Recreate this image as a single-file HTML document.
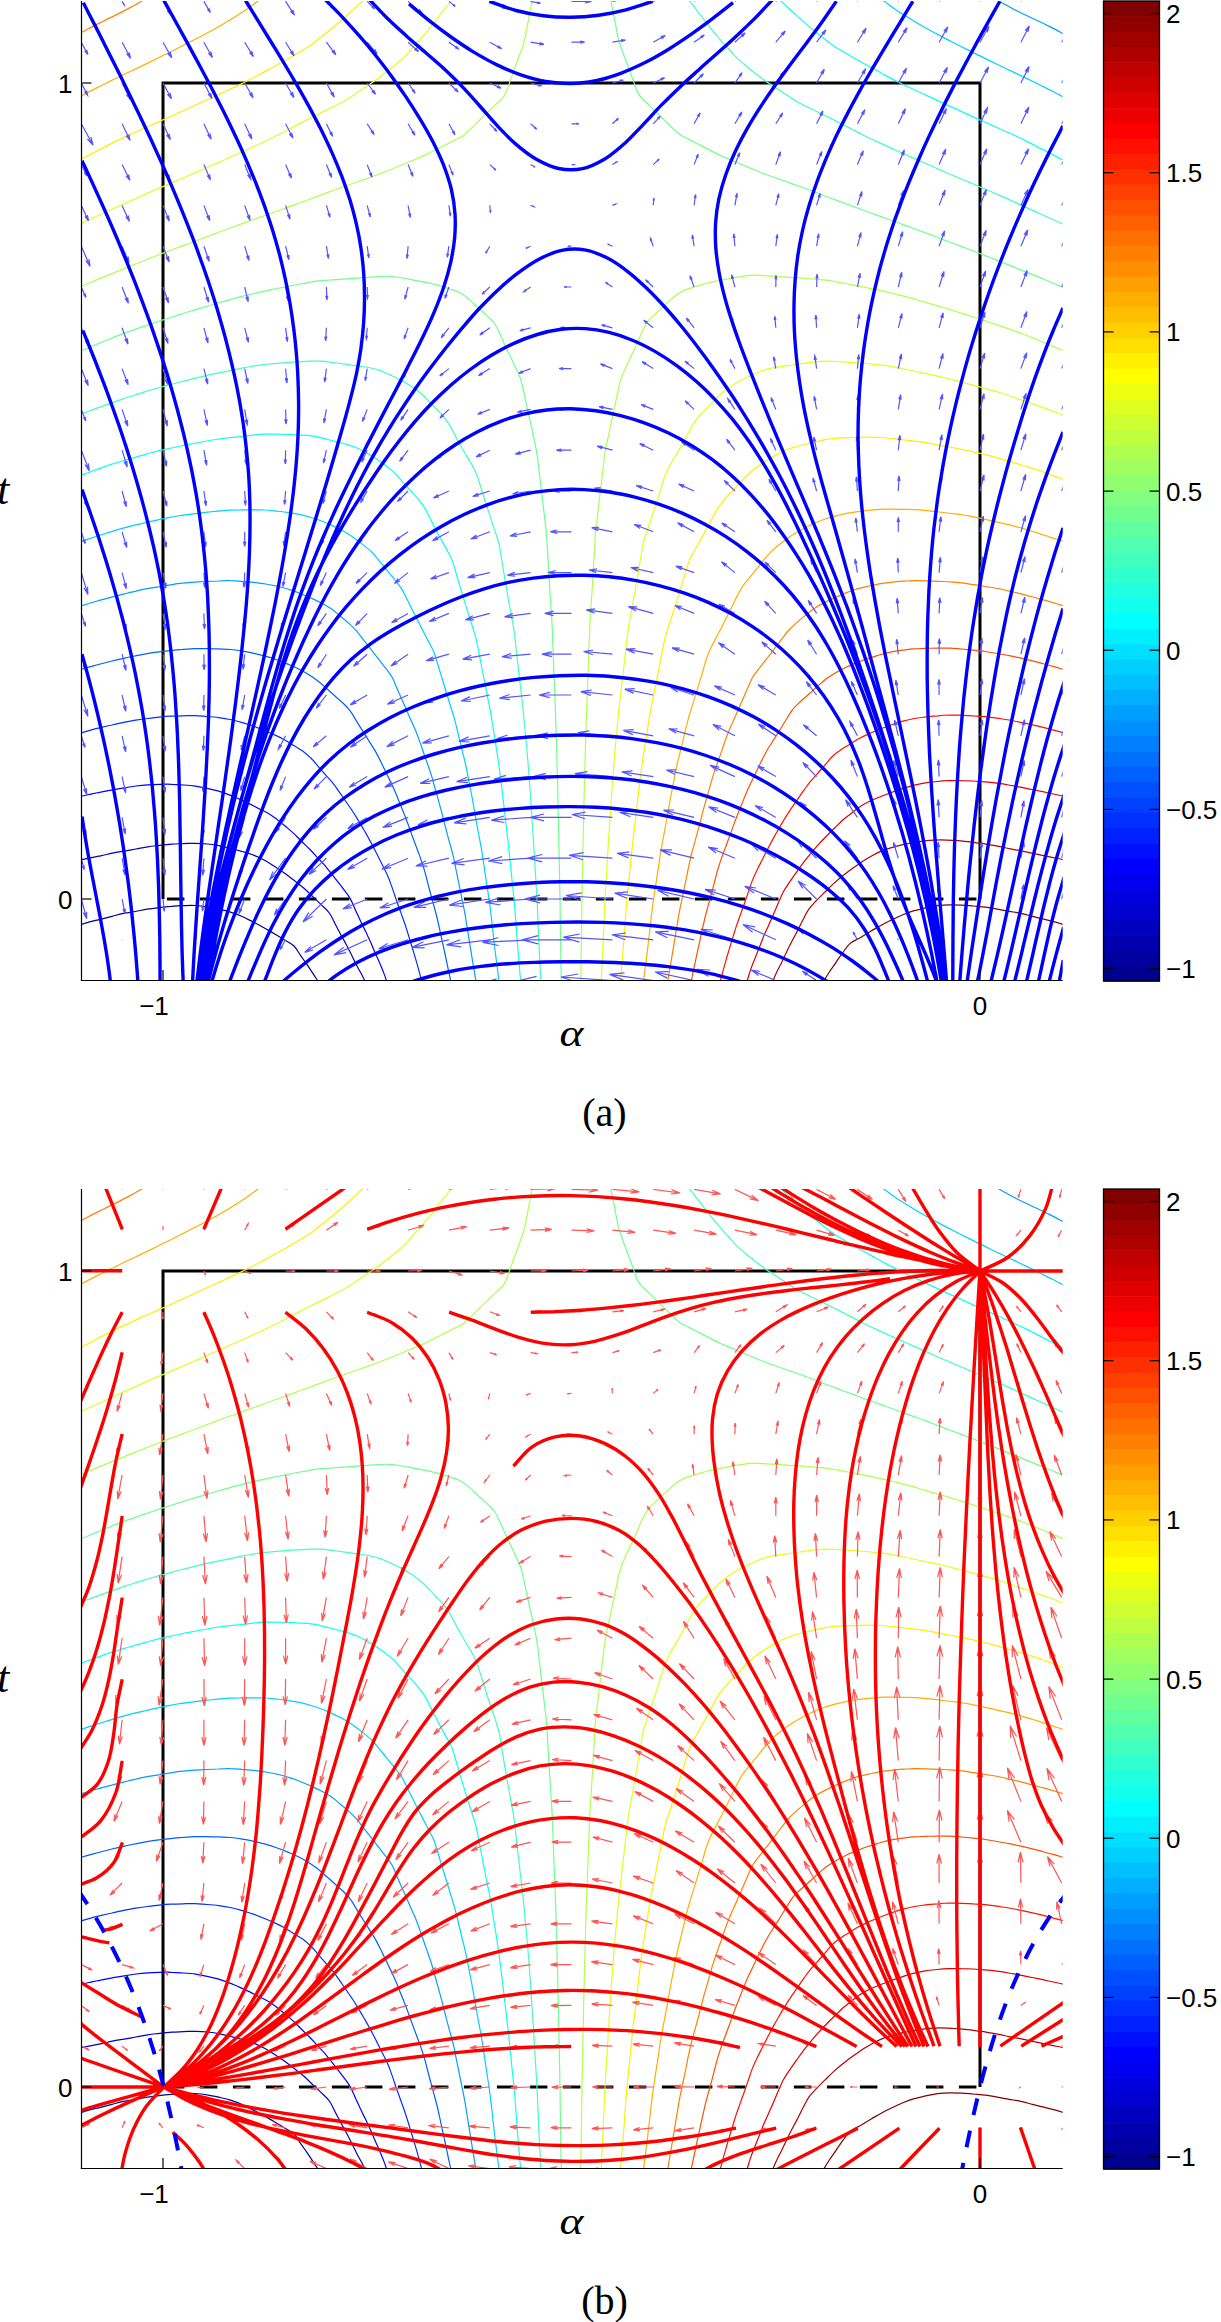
<!DOCTYPE html>
<html><head><meta charset="utf-8"><style>
html,body{margin:0;padding:0;background:#fff;}
svg{display:block;}
.tl{font-family:"Liberation Sans",sans-serif;font-size:26px;fill:#000;}
.ml{font-family:"Liberation Serif",serif;font-style:italic;font-size:38px;fill:#000;}
.cap{font-family:"Liberation Serif",serif;font-size:40px;fill:#000;}
</style></head><body>
<svg width="1221" height="2322" viewBox="0 0 1221 2322">
<rect width="1221" height="2322" fill="#fff"/>
<clipPath id="clipa"><rect x="81.5" y="1" width="981.2" height="979.5"/></clipPath>
<path d="M163.0,899.0 L163.0,83.0 L980.0,83.0 L980.0,899.0" fill="none" stroke="#000" stroke-width="3"/>
<line x1="163.0" y1="899.0" x2="980.0" y2="899.0" stroke="#000" stroke-width="3" stroke-dasharray="17.5 15.5" stroke-dashoffset="-3.9"/>
<g clip-path="url(#clipa)">
<path d="M77.3,925.7C81.1,924.5 84.9,923.2 88.7,922.2C92.6,921.1 96.5,920.3 100.4,919.3C104.3,918.3 108.1,917.3 112.0,916.3C115.9,915.3 119.7,914.2 123.7,913.4C127.6,912.6 131.6,912.2 135.5,911.5C139.4,910.8 143.3,909.8 147.3,909.2C151.2,908.6 155.2,908.1 159.2,907.6C163.1,907.1 167.1,906.7 171.1,906.4C175.1,906.0 179.1,905.7 183.1,905.6C187.1,905.5 191.1,905.3 195.1,905.5C199.1,905.7 203.1,906.1 207.0,906.8C210.9,907.4 214.9,908.3 218.8,909.2C222.7,910.1 226.6,910.9 230.4,912.1C234.2,913.3 238.0,914.7 241.6,916.3C245.3,917.9 248.8,919.8 252.4,921.6C255.9,923.4 259.5,925.3 263.0,927.2C266.5,929.1 269.9,931.2 273.4,933.2C276.8,935.3 280.3,937.3 283.7,939.4C287.1,941.5 290.9,943.1 293.7,945.8C296.6,948.5 298.4,952.4 300.7,955.6C303.0,958.9 305.3,962.1 307.6,965.4C309.8,968.7 312.0,972.1 314.2,975.4C316.4,978.8 318.6,982.1 320.7,985.5" fill="none" stroke="rgb(0,0,143)" stroke-width="1.2"/>
<path d="M77.1,860.5C81.0,859.7 85.0,858.9 88.9,858.1C92.8,857.4 96.7,856.6 100.7,855.8C104.6,855.0 108.5,854.0 112.4,853.2C116.3,852.4 120.2,851.8 124.2,851.1C128.1,850.4 132.1,849.7 136.0,849.0C139.9,848.3 143.8,847.4 147.8,846.8C151.7,846.2 155.7,845.8 159.7,845.3C163.7,844.9 167.7,844.5 171.7,844.2C175.6,843.9 179.6,843.8 183.6,843.6C187.6,843.5 191.6,843.2 195.6,843.3C199.6,843.4 203.6,843.6 207.6,844.0C211.6,844.4 215.5,845.1 219.5,845.8C223.4,846.6 227.3,847.5 231.2,848.5C235.0,849.5 238.9,850.5 242.7,851.7C246.6,852.8 250.4,853.9 254.1,855.4C257.8,856.9 261.5,858.6 265.0,860.5C268.5,862.4 271.8,864.6 275.2,866.8C278.5,869.0 281.9,871.2 285.1,873.6C288.3,875.9 291.5,878.4 294.6,880.8C297.8,883.3 301.0,885.7 304.0,888.3C307.0,891.0 309.8,893.8 312.7,896.6C315.6,899.3 318.6,902.0 321.4,904.8C324.3,907.6 327.4,910.2 329.7,913.5C332.0,916.7 333.3,920.6 335.2,924.1C337.0,927.7 338.9,931.2 340.8,934.7C342.7,938.2 344.8,941.7 346.6,945.2C348.5,948.7 350.2,952.3 352.0,955.9C353.8,959.5 355.6,963.1 357.4,966.7C359.2,970.2 361.5,974.0 363.1,977.2C364.4,979.8 365.3,982.1 366.4,984.5" fill="none" stroke="rgb(0,0,191)" stroke-width="1.2"/>
<path d="M78.8,796.7C82.2,796.0 85.4,795.3 88.9,794.5C92.6,793.7 96.7,792.8 100.6,792.1C104.5,791.3 108.5,790.5 112.4,789.8C116.3,789.1 120.3,788.5 124.2,787.9C128.2,787.2 132.1,786.6 136.1,786.0C140.0,785.5 144.0,785.1 147.9,784.8C151.9,784.5 155.9,784.4 159.9,784.3C163.9,784.2 167.9,784.1 171.8,784.3C175.8,784.4 179.8,784.7 183.7,785.0C187.7,785.3 191.6,785.6 195.5,786.1C199.4,786.7 203.4,787.5 207.2,788.3C210.9,789.1 214.5,789.9 218.0,790.9C221.6,792.0 225.1,793.3 228.6,794.6C232.1,796.0 235.7,797.6 239.3,799.1C242.8,800.7 246.2,802.2 249.7,803.9C253.1,805.6 256.7,807.4 260.0,809.2C263.3,810.8 266.7,812.4 269.7,814.2C272.3,815.8 274.5,817.5 277.0,819.4C279.9,821.6 283.2,824.4 286.0,826.8C288.5,828.9 290.7,830.7 293.1,832.9C295.8,835.4 298.5,838.3 301.3,841.0C304.0,843.7 306.9,846.4 309.5,849.0C312.1,851.6 314.4,854.2 316.8,856.8C319.4,859.5 322.1,862.4 324.6,865.2C326.9,868.0 329.0,870.6 331.3,873.4C333.7,876.5 336.2,879.8 338.7,882.9C341.1,886.0 343.7,889.2 345.8,892.2C347.7,894.7 349.2,896.8 350.7,899.6C352.4,902.7 353.8,906.4 355.4,909.9C357.1,913.5 358.7,917.2 360.4,920.8C362.1,924.5 364.0,928.1 365.7,931.6C367.2,934.9 368.7,937.9 370.2,941.2C371.8,944.7 373.2,948.3 374.8,952.0C376.5,956.0 378.7,960.6 380.3,964.5C381.8,967.9 383.0,970.9 384.2,974.1C385.4,977.2 386.8,981.9 387.4,983.6C387.6,984.3 387.7,984.6 387.9,985.0" fill="none" stroke="rgb(0,0,255)" stroke-width="1.2"/>
<path d="M78.9,733.5C82.2,732.6 85.3,731.6 88.8,730.7C92.5,729.7 96.5,728.6 100.4,727.7C104.3,726.7 108.2,725.8 112.1,725.0C116.0,724.1 119.9,723.2 123.8,722.4C127.7,721.6 131.6,720.9 135.6,720.2C139.5,719.6 143.5,719.0 147.4,718.5C151.4,718.0 155.4,717.5 159.4,717.1C163.3,716.7 167.2,716.4 171.2,716.2C175.2,716.0 179.2,715.9 183.2,715.8C187.1,715.7 191.1,715.5 195.0,715.6C199.0,715.8 202.9,716.2 206.8,716.5C210.8,716.8 214.8,717.1 218.8,717.6C222.6,718.1 226.4,718.7 230.2,719.5C234.0,720.3 237.8,721.3 241.5,722.4C245.2,723.4 248.9,724.7 252.6,725.9C256.3,727.2 260.1,728.7 263.8,730.2C267.3,731.6 270.7,733.1 274.1,734.6C277.6,736.2 281.0,737.8 284.4,739.7C287.7,741.5 290.9,743.7 294.2,745.8C297.5,747.8 301.1,749.8 303.9,751.9C306.5,753.8 308.4,755.5 310.6,757.8C313.2,760.3 315.7,763.6 318.3,766.6C320.9,769.6 323.6,772.6 326.2,775.6C328.8,778.5 331.4,781.2 333.7,784.1C336.0,787.0 337.9,790.0 340.1,793.1C342.3,796.3 344.7,799.7 346.9,803.0C349.1,806.2 351.4,809.3 353.4,812.5C355.4,815.5 357.1,818.5 359.0,821.6C361.0,824.9 363.1,828.5 365.1,831.9C367.1,835.4 369.0,838.9 370.9,842.4C372.8,846.0 374.6,849.5 376.4,853.1C378.2,856.7 380.0,860.3 381.8,863.8C383.5,867.3 385.4,870.6 386.9,874.0C388.4,877.3 389.6,880.4 390.8,883.9C392.2,887.5 393.4,891.4 394.7,895.2C396.0,899.0 397.3,902.8 398.7,906.5C400.0,910.3 401.4,914.1 402.7,917.8C404.1,921.6 405.4,925.4 406.6,929.2C407.8,933.0 409.0,936.8 410.1,940.7C411.3,944.5 412.5,948.3 413.6,952.1C414.8,956.0 415.9,959.8 417.0,963.6C418.1,967.5 419.1,971.6 420.1,975.2C421.0,978.4 421.7,981.1 422.5,984.1" fill="none" stroke="rgb(0,48,255)" stroke-width="1.2"/>
<path d="M78.9,669.9C82.2,669.0 85.4,668.2 88.8,667.2C92.5,666.2 96.5,665.0 100.4,664.0C104.2,663.0 108.1,662.0 112.0,661.0C115.9,660.0 119.8,659.1 123.7,658.3C127.6,657.4 131.5,656.6 135.4,655.9C139.3,655.1 143.2,654.4 147.2,653.7C151.1,653.0 155.1,652.4 159.0,651.9C163.0,651.3 167.0,651.0 171.0,650.6C174.9,650.2 178.9,649.7 182.9,649.4C186.8,649.0 190.8,648.8 194.7,648.6C198.7,648.5 202.7,648.7 206.7,648.7C210.7,648.8 214.7,648.8 218.7,648.9C222.6,649.1 226.6,649.2 230.5,649.5C234.4,649.9 238.3,650.5 242.2,651.1C246.1,651.7 250.1,652.4 254.0,653.3C257.8,654.1 261.5,655.1 265.3,656.2C269.0,657.3 272.8,658.5 276.5,659.8C280.3,661.1 284.1,662.6 287.8,664.1C291.4,665.6 294.9,667.0 298.3,668.7C301.8,670.4 305.3,672.4 308.5,674.4C311.6,676.3 314.4,678.2 317.3,680.4C320.3,682.7 323.1,685.4 326.0,688.0C329.0,690.6 332.0,693.3 335.0,696.0C338.0,698.7 341.2,701.3 343.9,704.0C346.4,706.4 348.5,708.6 350.5,711.4C352.7,714.3 354.5,717.8 356.5,721.1C358.6,724.4 360.7,727.9 362.8,731.3C365.0,734.7 367.1,738.0 369.2,741.4C371.4,744.8 373.6,748.1 375.6,751.6C377.5,755.1 379.3,758.7 381.1,762.3C382.8,765.9 384.5,769.5 386.3,773.1C388.0,776.7 389.9,780.4 391.6,783.9C393.1,787.2 394.5,790.1 395.9,793.4C397.4,796.9 398.8,800.7 400.2,804.3C401.7,808.0 403.3,811.7 404.7,815.4C406.2,819.1 407.6,822.9 409.0,826.7C410.3,830.4 411.6,834.2 413.0,838.0C414.4,841.7 415.8,845.5 417.2,849.2C418.5,853.0 420.1,856.7 421.3,860.5C422.6,864.2 423.8,868.1 424.9,871.9C425.9,875.8 426.9,879.7 427.9,883.5C428.9,887.4 429.9,891.3 431.0,895.1C432.0,899.0 433.1,902.9 434.1,906.7C435.1,910.4 436.1,913.9 437.0,917.5C437.9,921.0 438.6,924.5 439.4,928.1C440.2,931.9 441.1,935.9 441.9,939.8C442.8,943.7 443.7,947.6 444.5,951.5C445.4,955.4 446.2,959.4 447.0,963.3C447.8,967.2 448.7,971.5 449.5,975.0C450.1,978.0 450.7,980.4 451.2,983.1" fill="none" stroke="rgb(0,96,255)" stroke-width="1.2"/>
<path d="M78.9,606.6C82.2,605.6 85.3,604.6 88.7,603.5C92.4,602.4 96.4,601.3 100.3,600.2C104.1,599.2 108.0,598.1 111.8,597.1C115.7,596.0 119.6,595.0 123.4,594.1C127.3,593.1 131.2,592.1 135.1,591.3C139.0,590.4 142.9,589.5 146.8,588.7C150.8,588.0 154.7,587.4 158.7,586.8C162.6,586.1 166.6,585.5 170.5,584.9C174.5,584.2 178.4,583.5 182.4,583.1C186.3,582.6 190.3,582.4 194.2,582.1C198.2,581.9 202.2,581.7 206.2,581.5C210.2,581.3 214.2,581.1 218.2,581.0C222.2,580.8 226.1,580.6 230.1,580.7C234.1,580.7 238.0,581.1 241.9,581.4C245.9,581.6 249.9,581.9 253.8,582.3C257.8,582.8 261.8,583.3 265.7,584.0C269.6,584.7 273.5,585.4 277.3,586.3C281.1,587.2 285.0,588.1 288.7,589.3C292.4,590.4 295.9,591.8 299.5,593.2C303.2,594.6 306.9,596.2 310.5,597.8C314.2,599.5 317.9,601.1 321.4,603.0C324.7,604.7 327.8,606.5 330.9,608.6C334.0,610.7 336.8,613.2 339.8,615.7C342.9,618.2 346.1,620.8 349.0,623.4C351.8,626.0 354.3,628.5 356.8,631.3C359.4,634.2 361.7,637.5 364.1,640.7C366.6,643.8 369.1,647.0 371.5,650.2C374.0,653.3 376.5,656.5 379.0,659.6C381.4,662.8 384.2,666.0 386.4,669.1C388.5,671.9 390.4,674.3 392.1,677.3C393.9,680.4 395.1,684.0 396.6,687.5C398.2,691.1 399.8,694.8 401.4,698.5C403.0,702.1 404.7,705.8 406.3,709.5C407.9,713.1 409.5,716.7 411.1,720.4C412.8,724.1 414.5,727.7 416.0,731.4C417.5,735.1 418.8,738.8 420.1,742.6C421.5,746.4 422.7,750.2 424.0,754.0C425.3,757.8 426.7,761.5 428.0,765.3C429.3,769.1 430.6,772.9 431.8,776.7C433.0,780.5 433.9,784.4 435.0,788.2C436.1,792.1 437.2,796.0 438.3,799.8C439.3,803.7 440.4,807.5 441.5,811.4C442.5,815.3 443.4,819.2 444.4,823.0C445.4,826.9 446.4,830.8 447.4,834.6C448.4,838.5 449.5,842.5 450.6,846.2C451.5,849.8 452.5,853.2 453.4,856.7C454.2,860.3 454.9,863.9 455.6,867.6C456.4,871.5 457.2,875.5 458.0,879.4C458.8,883.3 459.6,887.2 460.4,891.2C461.2,895.1 462.0,899.0 462.8,902.9C463.6,906.8 464.4,910.8 465.1,914.7C465.8,918.6 466.3,922.6 467.0,926.5C467.6,930.5 468.2,934.4 468.9,938.4C469.5,942.3 470.2,946.3 470.8,950.2C471.4,954.2 472.1,958.1 472.7,962.1C473.4,966.0 474.1,970.1 474.7,973.9C475.3,977.4 475.8,980.7 476.4,984.1" fill="none" stroke="rgb(0,159,255)" stroke-width="1.2"/>
<path d="M1065.3,34.8C1062.2,33.2 1059.4,31.6 1056.2,29.9C1052.8,28.2 1049.1,26.3 1045.6,24.5C1042.1,22.8 1038.5,21.1 1034.9,19.5C1031.4,17.8 1027.8,16.2 1024.2,14.5C1020.7,12.8 1017.2,11.0 1013.7,9.2C1010.2,7.4 1006.7,5.4 1003.3,3.5C1000.0,1.6 995.3,-1.2 993.7,-2.1C993.2,-2.4 993.1,-2.5 992.8,-2.7" fill="none" stroke="rgb(0,159,255)" stroke-width="1.2"/>
<path d="M78.9,542.1C82.2,541.1 85.3,540.1 88.7,538.9C92.4,537.7 96.3,536.4 100.1,535.2C103.9,534.0 107.7,532.7 111.5,531.6C115.4,530.4 119.2,529.3 123.1,528.2C126.9,527.1 130.8,526.1 134.6,525.1C138.5,524.2 142.4,523.4 146.3,522.5C150.2,521.6 154.2,520.8 158.1,519.9C162.0,519.1 165.9,518.1 169.8,517.4C173.7,516.6 177.7,516.0 181.6,515.4C185.6,514.9 189.5,514.4 193.5,513.9C197.5,513.4 201.5,512.9 205.4,512.4C209.4,512.0 213.4,511.5 217.4,511.1C221.3,510.7 225.2,510.3 229.2,510.1C233.2,509.9 237.2,509.9 241.1,509.9C245.1,509.8 249.2,509.8 253.1,509.8C257.1,509.8 261.1,509.7 265.0,510.0C269.0,510.2 272.9,510.7 276.8,511.1C280.7,511.6 284.7,512.1 288.7,512.7C292.6,513.3 296.5,513.8 300.3,514.6C304.2,515.5 307.9,516.6 311.7,517.8C315.4,518.9 319.1,520.1 322.8,521.5C326.5,522.9 330.1,524.5 333.6,526.1C337.2,527.8 340.7,529.7 344.1,531.6C347.5,533.5 350.7,535.5 353.8,537.7C356.9,539.9 359.9,542.2 362.9,544.6C365.9,546.9 369.0,549.3 371.7,552.0C374.4,554.7 376.8,557.9 379.3,560.9C381.8,563.9 384.3,567.1 386.9,570.2C389.4,573.3 392.0,576.5 394.5,579.5C396.8,582.4 399.2,585.1 401.2,588.2C403.1,591.2 404.6,594.5 406.3,597.8C408.0,601.2 409.8,604.9 411.6,608.5C413.4,612.1 415.2,615.7 417.0,619.2C418.8,622.8 420.6,626.3 422.5,629.9C424.3,633.4 426.2,637.0 428.0,640.5C429.8,644.0 431.8,647.3 433.3,650.8C434.7,654.2 435.7,657.5 436.9,661.1C438.1,664.8 439.1,668.7 440.3,672.6C441.4,676.4 442.6,680.2 443.8,684.0C444.9,687.9 446.1,691.7 447.3,695.5C448.4,699.3 449.6,703.1 450.8,707.0C452.0,710.8 453.2,714.6 454.3,718.4C455.4,722.3 456.3,726.2 457.3,730.0C458.2,733.9 459.1,737.8 460.1,741.7C461.0,745.6 462.0,749.5 462.9,753.4C463.9,757.2 464.9,761.1 465.7,765.0C466.6,768.9 467.3,772.9 468.1,776.8C468.9,780.7 469.6,784.6 470.4,788.6C471.1,792.5 471.9,796.4 472.6,800.4C473.3,804.3 474.0,808.2 474.7,812.2C475.4,816.1 476.1,820.1 476.8,824.0C477.5,827.9 478.2,831.9 479.0,835.8C479.7,839.7 480.5,843.6 481.2,847.6C481.9,851.5 482.5,855.5 483.1,859.4C483.7,863.4 484.2,867.4 484.8,871.3C485.4,875.3 486.0,879.2 486.6,883.2C487.2,887.1 487.8,891.1 488.4,895.0C489.0,899.0 489.6,903.0 490.1,906.9C490.6,910.9 491.1,914.9 491.5,918.8C492.0,922.8 492.4,926.8 492.8,930.8C493.3,934.7 493.7,938.7 494.2,942.7C494.6,946.7 495.1,950.6 495.6,954.6C496.1,958.6 496.6,962.5 497.1,966.5C497.6,970.5 498.2,975.3 498.6,978.4C498.8,980.5 499.0,981.8 499.2,983.5" fill="none" stroke="rgb(0,207,255)" stroke-width="1.2"/>
<path d="M1066.5,98.7C1064.3,97.5 1062.3,96.4 1059.7,95.1C1056.6,93.4 1052.6,91.4 1049.1,89.6C1045.5,87.8 1041.9,86.0 1038.3,84.2C1034.7,82.4 1031.1,80.7 1027.5,78.9C1023.9,77.1 1020.3,75.4 1016.7,73.6C1013.0,71.9 1009.4,70.2 1005.8,68.5C1002.1,66.7 998.5,65.0 994.8,63.3C991.2,61.5 987.6,59.7 984.0,57.9C980.4,56.1 976.8,54.3 973.2,52.6C969.6,50.8 965.9,49.0 962.3,47.2C958.7,45.4 955.1,43.5 951.6,41.7C948.0,39.9 944.4,38.0 940.8,36.1C937.3,34.3 933.7,32.4 930.2,30.5C926.7,28.6 923.2,26.5 919.7,24.5C916.3,22.5 912.9,20.4 909.4,18.3C906.0,16.2 902.6,14.2 899.2,12.0C895.9,9.8 892.6,7.4 889.4,5.1C886.4,2.9 881.9,-0.5 880.5,-1.6C880.0,-1.9 879.9,-2.0 879.6,-2.3" fill="none" stroke="rgb(0,207,255)" stroke-width="1.2"/>
<path d="M79.0,476.0C82.2,474.8 85.3,473.7 88.6,472.5C92.3,471.1 96.2,469.7 99.9,468.4C103.7,467.0 107.4,465.6 111.2,464.4C115.0,463.1 118.9,462.0 122.7,460.9C126.6,459.8 130.4,458.7 134.3,457.6C138.1,456.5 142.0,455.4 145.8,454.3C149.7,453.3 153.5,452.1 157.4,451.2C161.2,450.2 165.2,449.4 169.1,448.5C173.0,447.6 176.9,446.8 180.8,446.0C184.7,445.2 188.6,444.4 192.6,443.7C196.5,442.9 200.4,442.2 204.4,441.5C208.3,440.8 212.2,440.1 216.2,439.5C220.1,438.9 224.0,438.4 228.0,437.9C231.9,437.4 235.9,437.0 239.9,436.6C243.9,436.1 247.8,435.7 251.8,435.3C255.8,434.9 259.7,434.4 263.7,434.2C267.6,434.1 271.6,434.2 275.5,434.2C279.5,434.3 283.5,434.4 287.5,434.5C291.5,434.7 295.6,434.9 299.5,435.1C303.5,435.3 307.4,435.4 311.3,435.9C315.1,436.4 318.8,437.2 322.6,438.1C326.4,439.0 330.3,440.1 334.2,441.1C338.1,442.1 342.0,442.9 345.8,444.1C349.4,445.2 352.9,446.3 356.4,447.8C359.9,449.2 363.3,451.1 366.7,453.0C370.1,454.9 373.5,456.9 376.7,459.1C379.9,461.2 383.1,463.4 386.1,465.8C389.1,468.1 392.0,470.4 394.7,473.1C397.5,475.8 400.0,478.9 402.6,481.9C405.3,484.8 408.0,487.9 410.7,490.9C413.3,493.8 416.2,496.7 418.6,499.6C420.8,502.3 422.7,504.7 424.5,507.6C426.5,510.8 428.0,514.4 429.8,517.8C431.6,521.3 433.4,524.9 435.3,528.5C437.1,532.0 439.0,535.5 440.9,539.1C442.8,542.6 444.8,546.1 446.7,549.6C448.5,553.0 450.4,556.1 451.8,559.6C453.3,563.1 454.2,566.8 455.3,570.5C456.5,574.3 457.5,578.2 458.7,582.1C459.8,585.9 461.0,589.7 462.1,593.6C463.3,597.4 464.5,601.2 465.6,605.1C466.8,608.9 468.0,612.7 469.2,616.5C470.4,620.3 471.7,624.2 472.9,628.0C474.0,631.6 475.2,635.0 476.1,638.6C477.0,642.2 477.6,645.9 478.3,649.7C479.1,653.5 479.8,657.5 480.6,661.5C481.3,665.4 482.1,669.3 482.9,673.2C483.6,677.2 484.4,681.1 485.2,685.0C485.9,688.9 486.7,692.9 487.5,696.8C488.3,700.7 489.2,704.6 489.9,708.5C490.6,712.5 491.3,716.4 491.9,720.4C492.6,724.3 493.1,728.3 493.8,732.2C494.4,736.2 495.0,740.1 495.7,744.1C496.3,748.0 497.0,752.0 497.5,755.9C498.1,759.9 498.7,763.8 499.2,767.8C499.7,771.8 500.2,775.8 500.7,779.7C501.2,783.7 501.8,787.7 502.2,791.6C502.7,795.6 503.2,799.6 503.6,803.6C504.1,807.5 504.5,811.5 505.0,815.5C505.4,819.5 505.9,823.4 506.4,827.4C506.8,831.4 507.3,835.3 507.8,839.3C508.2,843.3 508.7,847.3 509.1,851.2C509.6,855.2 509.9,859.2 510.3,863.2C510.7,867.2 511.1,871.1 511.5,875.1C511.9,879.1 512.3,883.1 512.8,887.1C513.2,891.0 513.6,895.0 514.0,899.0C514.4,903.0 514.7,907.0 515.0,911.0C515.3,914.9 515.6,918.9 515.9,922.9C516.2,926.9 516.5,930.9 516.8,934.9C517.1,938.9 517.4,942.9 517.7,946.9C518.0,950.8 518.4,954.8 518.7,958.8C519.1,962.8 519.4,966.8 519.7,970.8C520.1,974.5 520.5,979.7 520.7,981.9C520.8,982.8 520.8,983.2 520.9,983.9" fill="none" stroke="rgb(16,255,239)" stroke-width="1.2"/>
<path d="M1066.1,161.5C1063.4,160.1 1060.8,158.9 1057.9,157.4C1054.6,155.7 1050.8,153.7 1047.3,151.9C1043.7,150.1 1040.2,148.2 1036.6,146.4C1033.1,144.6 1029.5,142.7 1025.9,140.9C1022.4,139.1 1018.8,137.4 1015.1,135.7C1011.5,134.0 1007.9,132.4 1004.2,130.8C1000.6,129.1 996.9,127.5 993.3,125.9C989.6,124.2 986.0,122.6 982.3,121.0C978.7,119.4 975.0,117.8 971.4,116.1C967.7,114.5 964.1,112.8 960.5,111.1C956.9,109.4 953.3,107.8 949.6,106.1C946.0,104.4 942.4,102.8 938.8,101.1C935.2,99.4 931.5,97.7 927.9,96.1C924.3,94.4 920.7,92.7 917.1,91.0C913.5,89.3 909.8,87.7 906.2,86.0C902.7,84.3 899.3,82.7 895.9,80.9C892.4,79.1 889.0,77.2 885.5,75.4C882.0,73.5 878.4,71.6 874.9,69.6C871.4,67.7 867.8,65.8 864.3,63.8C860.8,61.9 857.4,59.9 853.9,57.9C850.4,55.9 846.9,53.9 843.5,51.8C840.0,49.8 836.5,47.8 833.2,45.5C830.0,43.3 826.9,40.7 823.7,38.2C820.6,35.8 817.5,33.2 814.4,30.7C811.3,28.2 808.2,25.7 805.1,23.1C802.1,20.5 799.1,17.8 796.2,15.1C793.2,12.4 790.2,9.7 787.3,7.0C784.4,4.3 780.6,0.6 778.8,-1.1C778.0,-1.9 777.6,-2.3 777.0,-2.9" fill="none" stroke="rgb(16,255,239)" stroke-width="1.2"/>
<path d="M79.0,414.9C82.2,413.6 85.3,412.4 88.6,411.2C92.2,409.8 96.1,408.4 99.9,407.1C103.7,405.7 107.4,404.4 111.2,403.1C115.0,401.7 118.8,400.4 122.5,399.1C126.3,397.8 130.1,396.5 133.9,395.3C137.7,394.0 141.5,392.7 145.3,391.6C149.1,390.4 153.0,389.4 156.8,388.3C160.7,387.2 164.5,386.1 168.4,385.1C172.3,384.0 176.1,383.0 180.0,382.0C183.9,381.0 187.7,380.1 191.6,379.1C195.5,378.1 199.4,377.2 203.3,376.3C207.2,375.4 211.1,374.5 215.0,373.7C218.9,372.9 222.8,372.1 226.8,371.3C230.7,370.5 234.6,369.7 238.5,368.9C242.4,368.1 246.3,367.2 250.3,366.5C254.2,365.8 258.1,365.3 262.0,364.8C266.0,364.3 270.0,364.0 273.9,363.6C277.9,363.3 281.9,362.9 285.9,362.6C289.9,362.3 293.9,362.1 297.9,361.8C301.9,361.6 305.9,361.3 309.9,361.2C313.8,361.1 317.6,360.9 321.5,361.1C325.4,361.3 329.3,362.0 333.2,362.5C337.1,363.0 341.1,363.6 345.0,364.2C349.0,364.7 353.0,365.3 356.9,365.9C360.9,366.4 364.9,366.8 368.7,367.5C372.5,368.3 376.1,369.1 379.7,370.4C383.3,371.7 386.9,373.5 390.5,375.1C394.0,376.7 397.6,378.3 401.0,380.1C404.4,381.9 407.7,383.9 410.9,386.0C414.1,388.1 417.2,390.3 420.2,392.8C423.1,395.3 425.8,398.0 428.5,400.8C431.3,403.6 434.1,406.6 436.8,409.5C439.4,412.3 442.3,414.9 444.6,417.8C446.7,420.6 448.4,423.3 450.3,426.4C452.3,429.9 454.3,433.9 456.3,437.6C458.2,441.2 460.2,444.7 462.2,448.2C464.2,451.7 466.2,455.2 468.2,458.6C470.2,462.0 472.4,465.3 474.1,468.7C475.7,471.9 476.8,474.9 478.0,478.3C479.3,481.8 480.3,485.8 481.5,489.6C482.7,493.4 483.9,497.2 485.1,501.0C486.3,504.8 487.5,508.6 488.8,512.4C490.0,516.2 491.3,520.0 492.6,523.8C493.8,527.6 495.3,531.5 496.4,535.2C497.5,538.8 498.6,542.2 499.4,545.8C500.2,549.5 500.6,553.4 501.3,557.2C501.9,561.1 502.5,565.1 503.2,569.0C503.9,573.0 504.5,576.9 505.2,580.9C505.9,584.8 506.6,588.7 507.2,592.7C507.9,596.6 508.6,600.6 509.4,604.5C510.1,608.4 510.8,612.3 511.5,616.3C512.2,620.2 513.0,624.1 513.7,628.1C514.3,632.0 514.7,636.0 515.2,640.0C515.6,643.9 516.0,647.9 516.5,651.9C516.9,655.9 517.4,659.8 517.8,663.8C518.3,667.8 518.7,671.8 519.2,675.7C519.6,679.7 520.1,683.7 520.6,687.7C521.0,691.6 521.5,695.6 522.0,699.6C522.4,703.6 522.9,707.5 523.3,711.5C523.7,715.5 524.0,719.5 524.4,723.5C524.8,727.4 525.2,731.4 525.5,735.4C525.9,739.4 526.3,743.4 526.7,747.3C527.0,751.3 527.4,755.3 527.7,759.3C528.1,763.3 528.4,767.3 528.7,771.3C529.0,775.3 529.3,779.2 529.6,783.2C529.9,787.2 530.2,791.2 530.4,795.2C530.7,799.2 531.0,803.2 531.2,807.2C531.5,811.2 531.8,815.2 532.0,819.2C532.3,823.1 532.6,827.1 532.8,831.1C533.1,835.1 533.4,839.1 533.6,843.1C533.9,847.1 534.1,851.1 534.3,855.1C534.6,859.1 534.8,863.1 535.0,867.1C535.3,871.1 535.5,875.0 535.8,879.0C536.0,883.0 536.3,887.0 536.5,891.0C536.7,895.0 537.0,899.0 537.2,903.0C537.4,907.0 537.6,911.0 537.7,915.0C537.9,919.0 538.1,923.0 538.2,927.0C538.4,931.0 538.6,935.0 538.7,939.0C538.9,943.0 539.1,947.0 539.3,950.9C539.5,954.9 539.7,958.9 539.9,962.9C540.1,966.9 540.3,971.3 540.5,974.9C540.7,977.9 540.8,980.4 541.0,983.2" fill="none" stroke="rgb(64,255,191)" stroke-width="1.2"/>
<path d="M1065.4,225.3C1062.3,223.9 1059.3,222.5 1056.0,221.0C1052.5,219.4 1048.8,217.7 1045.1,216.0C1041.5,214.4 1037.8,212.7 1034.2,211.1C1030.6,209.4 1026.9,207.7 1023.3,206.1C1019.6,204.4 1016.0,202.8 1012.3,201.1C1008.7,199.4 1005.1,197.8 1001.4,196.1C997.7,194.5 994.1,192.9 990.4,191.3C986.7,189.7 983.0,188.2 979.3,186.6C975.6,185.1 972.0,183.5 968.3,181.9C964.6,180.4 960.9,178.8 957.2,177.2C953.5,175.6 949.8,174.1 946.2,172.5C942.5,170.9 938.8,169.3 935.1,167.7C931.5,166.0 927.8,164.4 924.1,162.8C920.4,161.2 916.8,159.6 913.1,157.9C909.4,156.3 905.8,154.7 902.1,153.0C898.4,151.4 894.8,149.7 891.1,148.1C887.5,146.4 883.8,144.8 880.1,143.1C876.6,141.5 873.2,140.0 869.7,138.3C866.2,136.6 862.8,134.8 859.4,133.1C855.9,131.3 852.3,129.4 848.8,127.6C845.2,125.7 841.7,123.9 838.1,122.1C834.6,120.3 831.0,118.5 827.4,116.7C823.9,115.0 820.3,113.3 816.7,111.5C813.1,109.8 809.5,108.1 805.9,106.3C802.4,104.5 798.8,102.7 795.4,100.7C791.9,98.7 788.7,96.3 785.3,94.1C782.0,92.0 778.7,89.7 775.3,87.5C772.0,85.3 768.6,83.2 765.4,80.9C762.1,78.6 758.9,76.1 755.8,73.7C752.6,71.3 749.4,68.8 746.4,66.2C743.3,63.7 740.2,61.2 737.3,58.4C734.5,55.6 731.9,52.5 729.2,49.5C726.5,46.6 723.8,43.5 721.2,40.6C718.8,37.8 716.6,35.3 714.3,32.6C711.9,29.7 709.6,26.6 707.2,23.6C704.8,20.5 702.3,17.3 699.8,14.1C697.4,11.0 694.7,7.6 692.5,4.7C690.5,2.1 688.7,-0.2 686.9,-2.6" fill="none" stroke="rgb(64,255,191)" stroke-width="1.2"/>
<path d="M79.1,351.7C82.2,350.3 85.2,349.0 88.5,347.7C92.1,346.2 95.9,344.6 99.6,343.0C103.3,341.5 107.0,340.0 110.7,338.5C114.4,337.0 118.1,335.5 121.9,334.1C125.6,332.7 129.4,331.4 133.2,330.1C136.9,328.7 140.7,327.4 144.5,326.1C148.3,324.8 152.1,323.5 155.9,322.2C159.6,321.0 163.5,319.7 167.3,318.5C171.1,317.3 174.9,316.1 178.7,314.9C182.5,313.7 186.3,312.5 190.1,311.3C194.0,310.1 197.8,309.0 201.7,307.9C205.5,306.8 209.3,305.6 213.2,304.5C217.0,303.4 220.8,302.2 224.7,301.1C228.5,300.0 232.3,298.8 236.2,297.8C240.0,296.7 243.9,295.7 247.8,294.8C251.7,293.9 255.6,293.1 259.5,292.2C263.4,291.4 267.3,290.5 271.3,289.7C275.2,288.8 279.1,288.0 283.0,287.3C286.9,286.5 290.9,285.8 294.8,285.0C298.7,284.3 302.6,283.5 306.6,282.8C310.5,282.1 314.5,281.4 318.4,280.9C322.4,280.5 326.4,280.3 330.4,280.0C334.4,279.7 338.4,279.4 342.4,279.1C346.3,278.9 350.3,278.6 354.3,278.3C358.3,278.0 362.3,277.8 366.3,277.5C370.3,277.2 374.3,276.9 378.3,276.7C382.3,276.5 386.3,276.1 390.2,276.3C394.2,276.5 398.2,277.3 402.1,278.0C406.0,278.6 410.0,279.4 413.9,280.1C417.9,280.8 421.8,281.5 425.7,282.3C429.6,283.1 433.5,284.1 437.4,285.1C441.2,286.2 445.1,287.5 448.9,288.7C452.6,289.9 456.4,290.7 459.8,292.5C463.2,294.3 466.2,297.0 469.2,299.4C472.3,302.0 475.1,304.8 478.1,307.5C481.0,310.2 484.1,312.9 486.9,315.6C489.7,318.4 492.7,320.9 494.9,324.0C497.1,327.1 498.4,330.8 500.1,334.3C501.8,337.9 503.4,341.6 505.0,345.2C506.7,348.9 508.4,352.5 510.1,356.1C511.7,359.7 513.5,363.3 515.2,366.9C516.8,370.6 518.8,374.1 520.1,377.8C521.4,381.6 522.3,385.5 523.2,389.4C524.2,393.3 524.9,397.2 525.7,401.1C526.6,405.0 527.4,408.9 528.3,412.8C529.1,416.7 530.0,420.6 530.9,424.5C531.7,428.4 532.6,432.4 533.4,436.3C534.2,440.2 535.2,444.1 535.9,448.0C536.7,451.9 537.2,455.9 537.8,459.8C538.3,463.8 538.7,467.8 539.2,471.7C539.6,475.7 540.1,479.7 540.6,483.7C541.0,487.6 541.5,491.6 542.0,495.6C542.5,499.5 542.9,503.5 543.4,507.5C543.9,511.5 544.4,515.4 544.8,519.4C545.3,523.4 545.8,527.3 546.2,531.3C546.6,535.3 546.8,539.3 547.1,543.3C547.4,547.3 547.6,551.3 547.8,555.3C548.0,559.3 548.3,563.2 548.5,567.2C548.7,571.2 549.0,575.2 549.2,579.2C549.4,583.2 549.7,587.2 549.9,591.2C550.2,595.2 550.4,599.2 550.7,603.2C550.9,607.2 551.2,611.2 551.5,615.1C551.7,619.1 552.0,623.1 552.2,627.1C552.4,631.1 552.5,635.1 552.6,639.1C552.8,643.1 553.0,647.1 553.1,651.1C553.3,655.1 553.4,659.1 553.6,663.1C553.7,667.1 553.9,671.1 554.0,675.1C554.2,679.1 554.3,683.1 554.5,687.1C554.7,691.1 554.8,695.1 555.0,699.1C555.1,703.1 555.3,707.1 555.4,711.1C555.6,715.1 555.7,719.1 555.8,723.1C555.9,727.0 556.1,731.0 556.2,735.0C556.3,739.0 556.4,743.0 556.6,747.0C556.7,751.0 556.8,755.0 556.9,759.0C557.0,763.0 557.1,767.0 557.2,771.0C557.3,775.0 557.5,779.0 557.6,783.0C557.7,787.0 557.8,791.0 557.8,795.0C557.9,799.0 558.0,803.0 558.1,807.0C558.2,811.0 558.3,815.0 558.4,819.0C558.5,823.0 558.5,827.0 558.6,831.0C558.7,835.0 558.8,839.0 558.9,843.0C559.0,847.0 559.1,851.0 559.1,855.0C559.2,859.0 559.3,863.0 559.4,867.0C559.5,871.0 559.5,875.0 559.6,879.0C559.7,883.0 559.8,887.0 559.8,891.0C559.9,895.0 560.0,899.0 560.1,903.0C560.1,907.0 560.2,911.0 560.2,915.0C560.3,919.0 560.3,923.0 560.4,927.0C560.4,931.0 560.5,935.0 560.6,939.0C560.6,943.0 560.7,947.0 560.7,951.0C560.8,955.0 560.9,959.0 560.9,963.0C561.0,967.0 561.1,971.4 561.1,975.0C561.2,978.0 561.2,980.5 561.3,983.3" fill="none" stroke="rgb(112,255,143)" stroke-width="1.2"/>
<path d="M1065.4,288.5C1062.3,287.1 1059.3,285.8 1056.0,284.4C1052.5,282.9 1048.7,281.2 1045.0,279.7C1041.3,278.1 1037.6,276.7 1033.9,275.1C1030.2,273.6 1026.4,272.1 1022.7,270.6C1019.0,269.1 1015.3,267.6 1011.6,266.1C1007.9,264.6 1004.2,263.1 1000.5,261.6C996.8,260.1 993.0,258.7 989.3,257.2C985.6,255.8 981.9,254.3 978.1,252.8C974.4,251.4 970.7,249.9 966.9,248.5C963.2,247.1 959.4,245.7 955.7,244.3C951.9,242.9 948.2,241.5 944.4,240.1C940.7,238.6 937.0,237.2 933.2,235.8C929.5,234.4 925.7,232.9 922.0,231.5C918.2,230.1 914.5,228.8 910.7,227.4C906.9,226.0 903.2,224.7 899.4,223.3C895.7,221.9 891.9,220.5 888.1,219.2C884.4,217.8 880.6,216.4 876.8,215.1C873.1,213.7 869.3,212.4 865.5,211.0C861.8,209.6 858.0,208.3 854.3,206.9C850.5,205.5 846.7,204.1 843.0,202.7C839.2,201.3 835.5,199.9 831.7,198.5C828.0,197.1 824.3,195.6 820.5,194.2C816.8,192.7 813.0,191.3 809.3,189.9C805.5,188.5 801.8,187.1 798.0,185.8C794.2,184.4 790.4,183.1 786.7,181.8C782.9,180.5 779.1,179.2 775.3,177.8C771.6,176.5 767.9,175.2 764.2,173.8C760.6,172.4 757.0,170.8 753.3,169.3C749.5,167.7 745.5,166.0 741.8,164.5C738.4,163.1 735.3,161.8 731.9,160.3C728.4,158.8 724.7,157.3 721.1,155.7C717.5,154.0 713.9,152.2 710.3,150.4C706.7,148.6 703.2,146.7 699.6,144.9C696.1,143.1 692.3,141.2 689.0,139.4C685.9,137.8 682.8,136.5 680.1,134.7C677.7,133.0 675.8,131.1 673.5,129.0C670.8,126.5 667.8,123.4 665.0,120.6C662.2,117.9 659.4,115.2 656.7,112.6C654.1,110.0 651.7,107.6 649.1,105.1C646.4,102.6 643.1,99.8 641.1,97.4C639.5,95.5 638.5,94.2 637.4,92.1C636.0,89.4 635.1,85.5 633.8,82.1C632.5,78.4 631.1,74.6 629.7,70.8C628.3,67.1 626.9,63.3 625.5,59.6C624.1,55.8 622.5,51.9 621.3,48.3C620.2,45.3 619.3,42.7 618.5,39.6C617.6,36.3 617.1,32.6 616.4,29.0C615.6,25.1 614.9,21.1 614.1,17.2C613.3,13.3 612.5,9.1 611.8,5.4C611.1,2.2 610.6,-0.6 610.0,-3.5" fill="none" stroke="rgb(112,255,143)" stroke-width="1.2"/>
<path d="M79.1,287.4C82.2,286.0 85.2,284.7 88.5,283.3C92.0,281.8 95.9,280.2 99.6,278.6C103.3,277.1 107.0,275.6 110.7,274.1C114.4,272.6 118.1,271.1 121.8,269.6C125.5,268.1 129.2,266.6 132.9,265.1C136.6,263.6 140.3,262.1 144.1,260.7C147.8,259.2 151.5,257.7 155.2,256.3C159.0,254.8 162.7,253.3 166.4,251.9C170.1,250.5 173.9,249.1 177.6,247.7C181.4,246.2 185.1,244.9 188.9,243.5C192.6,242.0 196.3,240.6 200.1,239.2C203.8,237.8 207.6,236.4 211.3,235.0C215.0,233.6 218.8,232.1 222.5,230.8C226.3,229.4 230.0,228.1 233.8,226.7C237.6,225.3 241.3,224.0 245.1,222.6C248.8,221.3 252.6,219.9 256.3,218.6C260.1,217.2 263.9,215.9 267.6,214.5C271.4,213.2 275.2,211.8 278.9,210.5C282.7,209.1 286.4,207.8 290.2,206.4C293.9,205.0 297.7,203.7 301.4,202.3C305.2,200.9 308.9,199.5 312.7,198.1C316.4,196.7 320.1,195.3 323.9,193.9C327.6,192.5 331.3,191.0 335.1,189.7C338.8,188.3 342.6,187.0 346.4,185.7C350.1,184.4 353.9,183.1 357.7,181.8C361.5,180.5 365.2,179.2 369.0,177.9C372.8,176.5 376.5,175.2 380.2,173.8C384.0,172.3 387.6,170.7 391.3,169.2C395.0,167.7 398.7,166.2 402.4,164.7C406.1,163.1 409.9,161.6 413.5,160.1C417.0,158.6 420.5,157.2 423.9,155.6C427.3,154.0 430.5,152.4 433.9,150.7C437.4,148.9 441.0,147.1 444.6,145.3C448.2,143.5 452.0,141.6 455.3,139.9C458.3,138.3 461.1,137.2 463.6,135.4C466.1,133.6 468.0,131.4 470.4,129.1C473.1,126.6 476.1,123.6 479.0,120.8C481.8,118.0 484.7,115.2 487.6,112.4C490.5,109.6 493.5,106.8 496.2,104.1C498.8,101.6 501.9,99.2 503.6,96.9C505.0,95.0 505.5,93.6 506.4,91.4C507.7,88.4 509.0,84.0 510.3,80.3C511.7,76.6 513.0,72.8 514.4,69.0C515.8,65.3 517.2,61.5 518.5,57.8C519.9,54.1 521.5,50.4 522.6,46.8C523.7,43.4 524.4,40.3 525.2,36.9C526.1,33.1 526.7,29.0 527.5,25.1C528.2,21.1 529.0,17.2 529.7,13.3C530.5,9.4 531.4,4.6 532.0,1.5C532.4,-0.5 532.7,-1.9 533.0,-3.5" fill="none" stroke="rgb(175,255,80)" stroke-width="1.2"/>
<path d="M1065.4,351.7C1062.3,350.3 1059.3,349.0 1056.0,347.6C1052.4,346.1 1048.6,344.5 1044.9,343.0C1041.2,341.5 1037.5,339.9 1033.8,338.4C1030.1,336.9 1026.4,335.4 1022.7,334.0C1018.9,332.5 1015.2,331.2 1011.4,329.9C1007.6,328.5 1003.9,327.2 1000.1,325.9C996.3,324.6 992.5,323.3 988.7,322.0C984.9,320.7 981.1,319.5 977.3,318.2C973.5,317.0 969.7,315.8 965.9,314.6C962.1,313.4 958.3,312.1 954.5,311.0C950.6,309.8 946.8,308.7 943.0,307.5C939.1,306.4 935.3,305.3 931.5,304.1C927.6,303.0 923.8,301.9 919.9,300.8C916.1,299.6 912.3,298.5 908.4,297.4C904.6,296.3 900.7,295.3 896.8,294.3C892.9,293.4 889.0,292.6 885.1,291.7C881.2,290.8 877.3,289.9 873.4,289.1C869.5,288.2 865.6,287.4 861.7,286.6C857.7,285.8 853.8,285.1 849.9,284.4C845.9,283.6 842.0,282.8 838.1,282.1C834.1,281.4 830.2,280.6 826.3,280.1C822.3,279.6 818.3,279.4 814.3,279.1C810.3,278.7 806.3,278.5 802.3,278.2C798.3,277.9 794.3,277.6 790.3,277.4C786.3,277.1 782.4,276.8 778.4,276.5C774.4,276.3 770.4,276.0 766.4,275.8C762.4,275.5 758.4,275.0 754.5,275.1C750.6,275.2 746.7,275.7 742.9,276.3C738.9,276.8 735.0,277.7 731.1,278.4C727.1,279.1 723.2,279.7 719.2,280.5C715.3,281.3 711.4,282.0 707.5,283.0C703.7,284.0 699.9,285.3 696.0,286.5C692.2,287.7 688.2,288.5 684.7,290.1C681.2,291.7 678.0,293.6 675.0,295.9C671.8,298.2 669.1,301.3 666.1,304.0C663.2,306.7 660.2,309.4 657.3,312.2C654.4,314.9 651.2,317.3 648.8,320.3C646.4,323.2 644.7,326.6 642.9,330.0C641.1,333.5 639.7,337.3 638.1,341.0C636.5,344.6 634.8,348.3 633.2,351.9C631.5,355.5 629.8,359.2 628.1,362.8C626.5,366.4 624.5,369.9 623.1,373.7C621.6,377.3 620.3,381.1 619.3,385.0C618.3,388.8 617.6,392.8 616.8,396.7C616.0,400.7 615.2,404.6 614.3,408.5C613.5,412.4 612.6,416.3 611.8,420.2C611.0,424.1 610.1,428.1 609.3,432.0C608.4,435.9 607.5,439.8 606.7,443.7C606.0,447.6 605.2,451.6 604.6,455.5C604.0,459.5 603.6,463.5 603.2,467.5C602.7,471.4 602.2,475.4 601.8,479.4C601.3,483.4 600.8,487.3 600.4,491.3C599.9,495.3 599.4,499.3 599.0,503.3C598.5,507.2 598.0,511.2 597.6,515.2C597.1,519.2 596.5,523.1 596.1,527.1C595.7,531.1 595.3,535.1 595.0,539.1C594.8,543.1 594.6,547.1 594.4,551.1C594.1,555.1 593.9,559.1 593.7,563.1C593.5,567.1 593.2,571.1 593.0,575.1C592.8,579.1 592.5,583.1 592.3,587.1C592.0,591.1 591.8,595.0 591.5,599.0C591.3,603.0 591.0,607.0 590.8,611.0C590.5,615.0 590.2,619.0 590.0,623.0C589.8,627.0 589.6,631.0 589.5,635.0C589.3,639.0 589.2,643.0 589.0,647.0C588.9,651.0 588.7,655.0 588.6,659.0C588.4,663.0 588.3,667.0 588.1,671.0C588.0,675.0 587.8,679.0 587.6,683.0C587.5,687.0 587.3,691.0 587.2,695.0C587.0,699.0 586.9,703.0 586.7,707.0C586.6,711.0 586.4,715.0 586.3,719.0C586.2,723.0 586.1,727.0 585.9,731.0C585.8,735.0 585.7,739.0 585.6,743.0C585.4,747.0 585.3,751.0 585.2,755.0C585.1,759.0 585.0,763.0 584.9,767.0C584.8,771.0 584.7,775.0 584.5,779.0C584.4,783.0 584.3,787.0 584.2,791.0C584.2,795.0 584.1,799.0 584.0,803.0C583.9,807.0 583.8,811.0 583.7,815.0C583.6,819.0 583.5,823.0 583.5,827.0C583.4,831.0 583.3,835.0 583.2,839.0C583.1,843.0 583.0,847.0 582.9,851.0C582.9,855.0 582.8,859.0 582.7,863.0C582.6,867.0 582.5,871.0 582.5,875.0C582.4,879.0 582.3,883.0 582.2,887.0C582.2,891.0 582.1,895.0 582.0,899.0C581.9,903.0 581.9,907.0 581.8,911.0C581.8,915.0 581.7,919.0 581.7,923.0C581.6,927.0 581.6,931.0 581.5,935.0C581.4,939.0 581.4,943.0 581.3,947.0C581.3,951.0 581.2,955.0 581.1,959.0C581.1,963.0 581.0,967.1 580.9,971.0C580.9,974.8 580.8,980.3 580.7,982.1C580.7,982.7 580.7,982.9 580.7,983.3" fill="none" stroke="rgb(175,255,80)" stroke-width="1.2"/>
<path d="M79.1,224.3C82.2,222.9 85.2,221.5 88.5,220.0C92.0,218.4 95.7,216.7 99.4,215.0C103.0,213.4 106.7,211.7 110.3,210.0C113.9,208.4 117.6,206.7 121.2,205.1C124.9,203.4 128.5,201.8 132.2,200.1C135.8,198.4 139.4,196.7 143.1,195.1C146.7,193.5 150.4,191.9 154.1,190.3C157.8,188.8 161.5,187.2 165.2,185.6C168.8,184.1 172.5,182.5 176.2,180.9C179.9,179.3 183.6,177.8 187.2,176.2C190.9,174.6 194.6,173.0 198.3,171.4C201.9,169.8 205.6,168.2 209.3,166.5C212.9,164.9 216.6,163.3 220.3,161.6C223.9,160.0 227.6,158.4 231.2,156.7C234.9,155.1 238.5,153.4 242.2,151.8C245.9,150.1 249.5,148.4 253.1,146.8C256.8,145.1 260.5,143.4 264.1,141.7C267.7,140.0 271.4,138.3 274.9,136.5C278.5,134.7 282.1,132.8 285.6,131.0C289.2,129.1 292.8,127.2 296.3,125.4C299.9,123.5 303.4,121.7 307.0,119.8C310.6,118.0 314.2,116.2 317.8,114.4C321.4,112.6 325.0,110.8 328.6,109.1C332.1,107.3 335.8,105.6 339.2,103.8C342.4,102.1 345.3,100.4 348.4,98.5C351.7,96.5 355.0,94.1 358.3,91.8C361.6,89.6 365.0,87.4 368.3,85.2C371.6,82.9 374.9,80.7 378.2,78.4C381.4,76.0 384.5,73.5 387.7,71.0C390.8,68.6 394.1,66.0 397.0,63.5C399.8,61.2 402.3,59.0 404.9,56.4C407.5,53.8 409.9,50.8 412.5,47.9C415.2,45.0 417.9,42.0 420.5,39.0C423.1,35.9 425.7,32.9 428.3,29.8C430.8,26.7 433.2,23.5 435.7,20.4C438.2,17.2 440.6,14.1 443.1,10.9C445.6,7.8 448.5,4.1 450.5,1.5C451.9,-0.3 452.9,-1.5 454.0,-3.0" fill="none" stroke="rgb(223,255,32)" stroke-width="1.2"/>
<path d="M1065.5,416.0C1062.3,414.7 1059.2,413.5 1055.9,412.2C1052.3,410.9 1048.4,409.5 1044.6,408.1C1040.9,406.7 1037.1,405.4 1033.3,404.1C1029.6,402.8 1025.8,401.4 1022.0,400.1C1018.2,398.8 1014.4,397.5 1010.6,396.3C1006.9,395.0 1003.1,393.7 999.3,392.5C995.4,391.3 991.6,390.3 987.7,389.2C983.9,388.1 980.0,387.0 976.2,385.9C972.3,384.9 968.5,383.8 964.6,382.8C960.7,381.8 956.8,380.8 953.0,379.9C949.1,378.9 945.2,377.9 941.3,377.0C937.4,376.1 933.5,375.2 929.6,374.4C925.7,373.5 921.8,372.8 917.8,372.0C913.9,371.2 910.0,370.3 906.1,369.5C902.2,368.7 898.2,367.9 894.3,367.2C890.4,366.4 886.5,365.8 882.6,365.2C878.7,364.7 874.6,364.4 870.7,364.0C866.7,363.7 862.7,363.3 858.7,363.0C854.8,362.6 850.8,362.4 846.9,362.1C842.9,361.9 838.9,361.7 835.0,361.5C831.0,361.3 827.0,361.0 823.1,361.1C819.2,361.3 815.3,361.8 811.4,362.3C807.4,362.8 803.5,363.4 799.5,364.0C795.5,364.5 791.6,365.1 787.6,365.7C783.7,366.2 779.6,366.7 775.7,367.4C772.0,368.0 768.3,368.6 764.7,369.8C761.0,370.9 757.4,372.7 753.8,374.3C750.3,375.9 746.8,377.4 743.4,379.2C739.9,380.9 736.5,382.8 733.3,384.8C730.0,386.9 726.8,389.1 723.8,391.5C720.9,393.8 718.3,396.3 715.6,398.9C712.8,401.6 710.1,404.6 707.4,407.4C704.7,410.3 701.7,413.1 699.2,416.0C696.9,418.8 694.9,421.6 692.9,424.6C690.9,427.9 689.2,431.5 687.3,435.0C685.4,438.5 683.5,442.0 681.5,445.5C679.6,449.0 677.6,452.4 675.6,455.9C673.5,459.5 671.0,463.2 669.2,466.7C667.5,469.9 666.1,472.9 664.8,476.2C663.4,479.8 662.4,483.7 661.3,487.5C660.1,491.3 658.9,495.2 657.7,499.0C656.4,502.8 655.2,506.6 654.0,510.4C652.7,514.2 651.5,518.0 650.2,521.8C648.9,525.6 647.6,529.5 646.3,533.2C645.2,536.8 643.9,540.3 643.1,543.9C642.2,547.6 641.8,551.3 641.1,555.1C640.5,559.0 639.8,563.0 639.2,567.0C638.5,570.9 637.9,574.9 637.2,578.8C636.5,582.8 635.8,586.7 635.2,590.6C634.5,594.6 633.8,598.5 633.0,602.4C632.3,606.4 631.6,610.3 630.9,614.2C630.2,618.2 629.3,622.1 628.7,626.0C628.1,630.0 627.6,634.0 627.1,637.9C626.6,641.9 626.2,645.9 625.8,649.9C625.3,653.8 624.9,657.8 624.4,661.8C624.0,665.8 623.5,669.7 623.1,673.7C622.6,677.7 622.1,681.7 621.7,685.6C621.2,689.6 620.7,693.6 620.3,697.6C619.8,701.5 619.3,705.5 618.9,709.5C618.5,713.5 618.2,717.5 617.8,721.4C617.4,725.4 617.0,729.4 616.7,733.4C616.3,737.4 615.9,741.4 615.5,745.3C615.2,749.3 614.8,753.3 614.4,757.3C614.1,761.3 613.8,765.3 613.5,769.3C613.2,773.2 612.9,777.2 612.6,781.2C612.3,785.2 612.0,789.2 611.7,793.2C611.4,797.2 611.2,801.2 610.9,805.2C610.6,809.2 610.4,813.2 610.1,817.2C609.8,821.1 609.6,825.1 609.3,829.1C609.0,833.1 608.8,837.1 608.5,841.1C608.3,845.1 608.0,849.1 607.8,853.1C607.5,857.1 607.3,861.1 607.1,865.1C606.8,869.1 606.6,873.0 606.4,877.0C606.1,881.0 605.9,885.0 605.6,889.0C605.4,893.0 605.1,897.0 604.9,901.0C604.7,905.0 604.5,909.0 604.4,913.0C604.2,917.0 604.0,921.0 603.9,925.0C603.7,929.0 603.5,933.0 603.3,937.0C603.2,941.0 603.0,945.0 602.8,948.9C602.6,952.9 602.4,956.9 602.2,960.9C602.0,964.9 601.8,969.1 601.6,972.9C601.4,976.5 601.1,981.7 601.0,983.2C601.0,983.6 601.0,983.8 601.0,984.1" fill="none" stroke="rgb(223,255,32)" stroke-width="1.2"/>
<path d="M78.4,160.5C81.1,159.1 83.7,157.9 86.6,156.4C89.9,154.7 93.7,152.7 97.2,150.9C100.8,149.0 104.3,147.2 107.9,145.4C111.4,143.6 115.0,141.7 118.6,139.9C122.2,138.2 125.8,136.5 129.5,134.9C133.1,133.2 136.7,131.6 140.4,129.9C144.0,128.3 147.7,126.6 151.3,125.0C155.0,123.4 158.7,121.8 162.3,120.1C166.0,118.5 169.6,116.9 173.3,115.3C176.9,113.6 180.6,111.9 184.2,110.2C187.8,108.6 191.5,106.9 195.1,105.2C198.7,103.6 202.4,101.9 206.0,100.2C209.7,98.6 213.3,96.9 216.9,95.2C220.6,93.5 224.2,91.8 227.8,90.2C231.5,88.5 235.1,86.9 238.7,85.1C242.3,83.4 245.9,81.6 249.4,79.8C253.0,78.0 256.5,76.1 260.0,74.2C263.5,72.3 267.1,70.4 270.6,68.5C274.1,66.6 277.6,64.7 281.1,62.7C284.6,60.8 288.0,58.8 291.5,56.8C294.9,54.8 298.4,52.9 301.8,50.8C305.2,48.7 308.6,46.7 311.8,44.4C315.0,42.1 318.1,39.5 321.2,37.0C324.4,34.5 327.5,32.0 330.6,29.5C333.7,27.0 336.8,24.4 339.8,21.8C342.8,19.2 345.8,16.5 348.7,13.8C351.7,11.1 354.7,8.3 357.6,5.6C360.3,3.1 364.3,-0.8 365.6,-2.1C366.0,-2.5 366.1,-2.6 366.4,-2.9" fill="none" stroke="rgb(255,239,0)" stroke-width="1.2"/>
<path d="M1065.5,480.2C1062.3,479.0 1059.2,477.9 1055.9,476.6C1052.2,475.3 1048.3,473.9 1044.6,472.6C1040.8,471.2 1037.1,469.8 1033.3,468.6C1029.5,467.3 1025.7,466.1 1021.8,465.0C1018.0,463.8 1014.1,462.8 1010.3,461.7C1006.4,460.6 1002.6,459.5 998.7,458.4C994.9,457.3 991.1,456.2 987.2,455.2C983.3,454.2 979.4,453.2 975.5,452.4C971.6,451.5 967.7,450.7 963.8,449.9C959.9,449.1 956.0,448.3 952.0,447.5C948.1,446.7 944.2,446.0 940.2,445.3C936.3,444.5 932.4,443.8 928.4,443.2C924.5,442.5 920.6,441.9 916.6,441.4C912.7,440.9 908.7,440.5 904.8,440.0C900.8,439.6 896.8,439.1 892.8,438.7C888.9,438.3 884.9,437.7 880.9,437.5C876.9,437.2 872.9,437.2 868.9,437.2C864.9,437.2 860.9,437.3 856.9,437.4C852.9,437.5 848.9,437.7 844.9,437.8C841.0,438.0 837.0,438.1 833.1,438.5C829.2,438.9 825.5,439.5 821.7,440.3C817.8,441.1 814.0,442.2 810.1,443.1C806.3,444.1 802.3,444.9 798.5,446.0C794.7,447.0 790.9,448.1 787.3,449.5C783.7,450.9 780.2,452.8 776.8,454.6C773.3,456.4 769.9,458.4 766.6,460.4C763.3,462.5 760.1,464.7 757.0,467.0C753.9,469.3 750.9,471.6 748.1,474.2C745.2,476.9 742.7,480.0 740.0,482.9C737.3,485.8 734.6,488.8 731.8,491.7C729.1,494.6 726.1,497.3 723.7,500.3C721.3,503.2 719.2,505.9 717.2,509.1C715.1,512.4 713.5,516.1 711.6,519.7C709.6,523.3 707.7,526.9 705.7,530.5C703.8,534.1 701.8,537.5 699.9,541.0C697.9,544.5 695.8,548.1 693.9,551.5C692.2,554.8 690.5,557.9 689.1,561.3C687.6,564.9 686.7,568.8 685.5,572.6C684.3,576.4 683.2,580.3 682.0,584.1C680.9,587.9 679.7,591.8 678.5,595.6C677.3,599.4 676.1,603.2 674.9,607.1C673.7,610.9 672.4,614.7 671.2,618.5C670.0,622.3 668.6,626.2 667.5,629.9C666.4,633.5 665.3,636.8 664.5,640.4C663.6,644.1 663.0,647.9 662.2,651.7C661.5,655.6 660.7,659.5 659.9,663.5C659.2,667.4 658.4,671.3 657.6,675.2C656.8,679.2 656.1,683.1 655.3,687.0C654.5,690.9 653.7,694.8 652.9,698.8C652.1,702.7 651.3,706.6 650.6,710.5C649.8,714.5 649.2,718.4 648.6,722.4C648.0,726.3 647.3,730.3 646.7,734.2C646.1,738.2 645.5,742.1 644.8,746.1C644.2,750.0 643.5,753.9 642.9,757.9C642.4,761.9 641.9,765.8 641.3,769.8C640.8,773.8 640.3,777.7 639.8,781.7C639.3,785.7 638.8,789.6 638.4,793.6C637.9,797.6 637.5,801.6 637.0,805.5C636.6,809.5 636.1,813.5 635.7,817.5C635.2,821.4 634.8,825.4 634.3,829.4C633.8,833.4 633.3,837.3 632.9,841.3C632.4,845.3 632.0,849.3 631.6,853.2C631.2,857.2 630.8,861.2 630.4,865.2C630.0,869.2 629.6,873.1 629.2,877.1C628.8,881.1 628.4,885.1 628.0,889.1C627.6,893.0 627.2,897.0 626.8,901.0C626.5,905.0 626.2,909.0 625.9,913.0C625.6,916.9 625.3,920.9 625.0,924.9C624.7,928.9 624.4,932.9 624.2,936.9C623.9,940.9 623.5,944.9 623.2,948.9C622.9,952.8 622.6,956.8 622.2,960.8C621.9,964.8 621.5,968.9 621.2,972.8C620.9,976.3 620.6,979.6 620.4,983.0" fill="none" stroke="rgb(255,239,0)" stroke-width="1.2"/>
<path d="M78.5,97.3C81.2,95.9 83.7,94.6 86.6,93.1C89.9,91.3 93.7,89.4 97.3,87.6C100.8,85.8 104.4,84.1 108.0,82.3C111.6,80.5 115.2,78.7 118.8,77.0C122.4,75.2 126.0,73.5 129.6,71.8C133.2,70.0 136.9,68.4 140.5,66.6C144.1,64.9 147.7,63.2 151.3,61.4C154.9,59.6 158.4,57.8 162.0,56.0C165.6,54.2 169.2,52.4 172.8,50.7C176.4,48.9 180.0,47.1 183.5,45.3C187.1,43.5 190.7,41.6 194.2,39.8C197.8,37.9 201.3,36.1 204.9,34.2C208.4,32.4 211.9,30.5 215.4,28.5C218.9,26.5 222.3,24.5 225.7,22.4C229.2,20.4 232.6,18.4 236.0,16.2C239.4,14.1 242.8,12.0 246.1,9.7C249.4,7.5 252.9,4.8 255.8,2.7C258.2,0.9 260.2,-0.6 262.4,-2.3" fill="none" stroke="rgb(255,175,0)" stroke-width="1.2"/>
<path d="M1065.6,542.1C1062.3,541.1 1059.2,540.1 1055.8,539.0C1052.1,537.8 1048.2,536.4 1044.4,535.2C1040.6,534.0 1036.8,532.7 1033.0,531.5C1029.1,530.3 1025.3,529.2 1021.5,528.1C1017.6,527.0 1013.8,525.9 1009.9,524.9C1006.0,524.0 1002.1,523.1 998.2,522.3C994.3,521.4 990.4,520.5 986.5,519.7C982.6,518.8 978.7,517.9 974.8,517.1C970.9,516.4 966.9,515.6 963.0,515.0C959.0,514.4 955.1,514.0 951.1,513.5C947.1,513.0 943.1,512.5 939.2,512.0C935.2,511.5 931.2,511.1 927.2,510.7C923.3,510.3 919.4,509.8 915.4,509.6C911.4,509.4 907.4,509.4 903.4,509.3C899.4,509.2 895.4,509.2 891.4,509.2C887.5,509.2 883.5,509.1 879.5,509.3C875.6,509.5 871.7,509.9 867.8,510.4C863.8,510.8 859.8,511.4 855.8,511.9C851.9,512.5 848.1,513.0 844.3,513.8C840.5,514.5 836.8,515.5 833.1,516.6C829.3,517.7 825.5,519.0 821.8,520.3C818.1,521.7 814.6,523.1 811.1,524.7C807.5,526.4 803.9,528.3 800.5,530.2C797.1,532.1 793.8,533.9 790.7,536.1C787.5,538.2 784.6,540.5 781.6,542.8C778.6,545.1 775.4,547.5 772.6,550.1C770.0,552.6 767.8,555.3 765.4,558.1C762.9,561.0 760.4,564.2 758.0,567.3C755.5,570.4 752.9,573.5 750.4,576.6C748.0,579.7 745.3,582.6 743.1,585.7C741.0,588.8 739.3,592.1 737.5,595.4C735.6,598.9 734.0,602.6 732.2,606.2C730.4,609.8 728.6,613.4 726.8,617.0C725.0,620.6 723.2,624.1 721.4,627.7C719.5,631.3 717.7,634.8 715.8,638.4C714.0,641.9 712.0,645.3 710.4,648.8C708.9,652.2 707.7,655.4 706.5,658.8C705.3,662.5 704.2,666.5 703.1,670.4C702.0,674.2 700.8,678.0 699.6,681.9C698.5,685.7 697.3,689.5 696.1,693.4C695.0,697.2 693.8,701.0 692.6,704.9C691.4,708.6 690.2,712.4 689.1,716.1C688.1,719.5 687.3,722.7 686.4,726.2C685.4,730.0 684.5,734.0 683.6,737.9C682.7,741.8 681.7,745.6 680.8,749.5C679.8,753.4 678.8,757.3 677.9,761.2C677.0,765.1 676.2,769.0 675.4,772.9C674.6,776.8 673.9,780.8 673.1,784.7C672.4,788.6 671.6,792.5 670.8,796.5C670.1,800.4 669.4,804.3 668.7,808.3C668.0,812.2 667.3,816.1 666.6,820.1C665.9,824.0 665.2,827.9 664.4,831.9C663.7,835.8 662.9,839.7 662.2,843.7C661.5,847.6 660.8,851.5 660.1,855.5C659.5,859.4 659.0,863.4 658.4,867.4C657.8,871.3 657.2,875.3 656.6,879.2C656.0,883.2 655.4,887.1 654.8,891.1C654.2,895.0 653.6,899.0 653.0,903.0C652.5,906.9 652.0,910.9 651.5,914.9C651.0,918.8 650.6,922.8 650.2,926.8C649.7,930.8 649.3,934.7 648.8,938.7C648.3,942.7 647.9,946.7 647.4,950.6C646.9,954.6 646.4,958.6 645.9,962.5C645.4,966.5 644.9,970.7 644.4,974.4C644.0,977.7 643.6,980.5 643.3,983.5" fill="none" stroke="rgb(255,175,0)" stroke-width="1.2"/>
<path d="M79.2,33.7C82.3,32.0 85.1,30.5 88.3,28.8C91.7,27.0 95.3,25.1 98.9,23.4C102.4,21.6 106.0,19.9 109.5,18.1C113.1,16.4 116.6,14.7 120.1,12.9C123.6,11.2 127.1,9.3 130.6,7.4C134.1,5.5 137.9,3.3 141.0,1.5C143.6,-0.0 145.7,-1.3 148.1,-2.7" fill="none" stroke="rgb(255,128,0)" stroke-width="1.2"/>
<path d="M1065.6,606.6C1062.3,605.6 1059.2,604.5 1055.8,603.5C1052.1,602.4 1048.1,601.2 1044.3,600.2C1040.4,599.1 1036.5,598.0 1032.7,597.0C1028.8,595.9 1025.0,594.9 1021.1,593.9C1017.2,593.0 1013.3,592.0 1009.4,591.1C1005.5,590.2 1001.6,589.3 997.7,588.5C993.8,587.8 989.8,587.2 985.9,586.5C982.0,585.9 978.0,585.3 974.1,584.7C970.1,584.1 966.2,583.4 962.2,582.9C958.3,582.4 954.3,582.1 950.4,581.9C946.4,581.6 942.4,581.5 938.4,581.3C934.4,581.2 930.4,581.0 926.4,580.9C922.4,580.7 918.4,580.5 914.5,580.6C910.5,580.7 906.6,581.0 902.7,581.2C898.7,581.5 894.7,581.9 890.7,582.4C886.8,582.8 883.0,583.2 879.1,583.9C875.2,584.6 871.3,585.5 867.4,586.3C863.6,587.2 859.9,588.1 856.2,589.2C852.5,590.4 848.9,591.7 845.3,593.1C841.7,594.6 838.0,596.2 834.5,597.9C830.9,599.5 827.4,601.1 824.0,602.9C820.6,604.6 817.3,606.4 814.2,608.4C811.2,610.5 808.5,612.8 805.6,615.1C802.6,617.6 799.4,620.3 796.5,622.9C793.7,625.5 791.0,627.8 788.5,630.5C786.1,633.2 784.0,636.2 781.7,639.1C779.3,642.2 776.9,645.5 774.4,648.7C772.0,651.8 769.6,655.0 767.1,658.2C764.7,661.3 762.1,664.5 759.7,667.6C757.5,670.6 755.1,673.2 753.2,676.3C751.4,679.2 750.3,682.4 748.8,685.6C747.2,689.1 745.6,693.0 744.0,696.6C742.4,700.3 740.8,704.0 739.2,707.6C737.6,711.3 736.0,715.0 734.4,718.6C732.7,722.3 731.0,725.9 729.5,729.6C727.9,733.3 726.5,737.0 725.2,740.8C723.8,744.5 722.6,748.4 721.3,752.1C720.0,755.9 718.6,759.8 717.3,763.5C716.1,767.1 714.7,770.5 713.6,774.1C712.4,777.6 711.5,781.0 710.5,784.6C709.4,788.3 708.3,792.3 707.3,796.1C706.2,800.0 705.0,803.8 703.9,807.6C702.9,811.5 701.9,815.4 700.9,819.3C699.9,823.1 698.9,827.0 697.9,830.9C696.9,834.7 695.8,838.6 694.7,842.4C693.7,846.3 692.5,850.1 691.5,854.0C690.6,857.9 689.7,861.8 688.9,865.7C688.0,869.6 687.3,873.5 686.5,877.5C685.7,881.4 684.9,885.3 684.1,889.2C683.2,893.1 682.4,897.0 681.6,901.0C680.8,904.9 679.9,908.8 679.2,912.7C678.5,916.6 677.9,920.6 677.2,924.5C676.6,928.5 675.9,932.4 675.3,936.4C674.6,940.3 674.0,944.3 673.3,948.2C672.6,952.2 672.0,956.1 671.3,960.1C670.6,964.0 670.0,968.0 669.3,971.9C668.7,975.6 667.8,980.7 667.4,982.9C667.3,983.8 667.2,984.2 667.1,984.9" fill="none" stroke="rgb(255,128,0)" stroke-width="1.2"/>
<path d="M1065.6,670.0C1062.3,669.0 1059.1,668.2 1055.7,667.2C1052.0,666.2 1048.0,665.1 1044.1,664.0C1040.3,663.0 1036.4,661.9 1032.5,660.9C1028.7,660.0 1024.8,659.1 1020.9,658.2C1017.0,657.3 1013.1,656.5 1009.2,655.7C1005.2,654.9 1001.3,654.2 997.4,653.5C993.4,652.8 989.5,652.1 985.5,651.5C981.6,651.0 977.6,650.6 973.6,650.2C969.6,649.8 965.6,649.4 961.6,649.0C957.7,648.7 953.8,648.3 949.8,648.1C945.8,648.0 941.8,648.1 937.8,648.1C933.9,648.2 929.8,648.2 925.8,648.3C921.9,648.5 918.0,648.5 914.0,648.8C910.1,649.1 906.2,649.7 902.3,650.2C898.4,650.8 894.5,651.4 890.6,652.2C886.8,653.0 883.0,654.0 879.2,655.0C875.5,656.1 871.6,657.2 867.9,658.5C864.3,659.7 860.7,661.1 857.1,662.5C853.5,664.0 849.7,665.5 846.2,667.2C842.7,668.8 839.4,670.5 836.2,672.4C832.9,674.3 829.6,676.3 826.6,678.6C823.5,680.9 820.7,683.6 817.7,686.1C814.7,688.8 811.7,691.5 808.7,694.2C805.7,696.9 802.5,699.6 799.8,702.2C797.2,704.7 794.8,706.8 792.7,709.5C790.4,712.3 788.6,715.7 786.6,719.0C784.5,722.3 782.4,725.8 780.3,729.2C778.2,732.6 776.0,736.1 773.9,739.4C771.8,742.7 769.6,745.9 767.7,749.2C765.9,752.4 764.3,755.4 762.6,758.7C760.8,762.2 759.1,766.0 757.4,769.6C755.7,773.2 753.9,776.8 752.1,780.4C750.5,783.8 748.8,787.1 747.3,790.5C745.8,793.8 744.6,797.1 743.2,800.6C741.7,804.3 740.1,808.2 738.6,812.0C737.2,815.7 735.7,819.2 734.4,822.9C733.0,826.6 731.7,830.4 730.3,834.2C729.0,838.0 727.6,841.7 726.2,845.5C724.8,849.2 723.4,852.9 722.0,856.7C720.7,860.5 719.4,864.2 718.2,868.1C717.1,871.9 716.2,875.8 715.1,879.7C714.1,883.5 713.1,887.4 712.1,891.3C711.0,895.1 710.0,899.0 708.9,902.9C707.9,906.7 706.8,910.6 705.8,914.4C704.8,918.3 704.0,922.2 703.1,926.1C702.2,930.0 701.3,933.9 700.5,937.8C699.6,941.7 698.8,945.6 697.9,949.6C697.1,953.5 696.2,957.4 695.4,961.3C694.6,965.2 693.7,969.3 692.9,973.0C692.2,976.5 691.1,981.6 690.8,983.1C690.7,983.5 690.6,983.7 690.6,983.9" fill="none" stroke="rgb(255,80,0)" stroke-width="1.2"/>
<path d="M1065.6,733.5C1062.3,732.5 1059.2,731.6 1055.7,730.7C1052.0,729.7 1048.0,728.6 1044.1,727.6C1040.3,726.6 1036.3,725.7 1032.4,724.8C1028.5,724.0 1024.7,723.1 1020.7,722.3C1016.8,721.5 1012.9,720.7 1009.0,720.0C1005.0,719.3 1001.1,718.8 997.1,718.2C993.1,717.7 989.2,717.2 985.2,716.7C981.3,716.3 977.3,716.0 973.4,715.8C969.4,715.5 965.4,715.4 961.4,715.3C957.4,715.2 953.5,715.0 949.5,715.0C945.6,715.1 941.6,715.4 937.7,715.8C933.7,716.1 929.7,716.4 925.7,716.9C921.8,717.4 918.0,717.8 914.2,718.5C910.4,719.3 906.7,720.2 902.9,721.2C899.2,722.3 895.4,723.5 891.7,724.8C888.1,726.0 884.6,727.3 881.0,728.7C877.4,730.1 873.6,731.7 870.0,733.3C866.5,734.9 863.0,736.4 859.7,738.3C856.3,740.1 853.2,742.2 849.9,744.2C846.5,746.3 842.7,748.5 839.6,750.7C837.0,752.5 834.8,754.1 832.6,756.2C830.2,758.4 828.3,761.1 826.0,763.8C823.5,766.7 820.7,769.8 818.1,772.8C815.5,775.8 812.7,778.7 810.3,781.6C808.0,784.4 806.2,787.0 804.1,789.9C801.8,793.0 799.6,796.5 797.3,799.8C795.0,803.1 792.7,806.3 790.5,809.6C788.2,813.0 786.1,816.4 784.0,819.8C782.1,823.0 780.3,826.0 778.5,829.2C776.6,832.4 774.8,835.6 773.0,838.9C771.1,842.4 769.2,846.0 767.4,849.6C765.6,853.1 763.8,856.7 762.0,860.3C760.2,863.8 758.2,867.5 756.6,871.0C755.0,874.3 753.6,877.3 752.3,880.6C750.9,884.1 749.8,887.8 748.6,891.4C747.3,895.2 746.0,899.0 744.7,902.8C743.4,906.5 742.0,910.3 740.6,914.1C739.3,917.8 737.9,921.6 736.6,925.4C735.3,929.2 734.2,933.0 733.0,936.8C731.9,940.7 730.7,944.5 729.5,948.3C728.4,952.1 727.2,955.9 726.1,959.8C725.0,963.6 723.9,967.6 722.9,971.4C721.9,975.0 720.6,980.0 720.0,982.1C719.8,983.1 719.7,983.4 719.5,984.1" fill="none" stroke="rgb(255,16,0)" stroke-width="1.2"/>
<path d="M1065.7,796.7C1062.3,796.0 1059.1,795.3 1055.6,794.5C1051.9,793.7 1047.8,792.8 1043.9,791.9C1040.0,791.1 1036.1,790.3 1032.2,789.5C1028.3,788.7 1024.3,788.0 1020.4,787.2C1016.5,786.5 1012.6,785.7 1008.6,785.0C1004.7,784.3 1000.7,783.7 996.8,783.2C992.8,782.6 988.8,782.3 984.8,781.9C980.9,781.5 976.9,781.2 972.9,781.0C968.9,780.8 965.0,780.7 961.0,780.7C957.1,780.6 953.0,780.5 949.0,780.6C945.1,780.8 941.2,781.1 937.2,781.5C933.3,781.9 929.4,782.2 925.5,782.9C921.7,783.5 918.0,784.3 914.3,785.2C910.4,786.2 906.6,787.4 902.7,788.6C898.9,789.8 895.0,791.1 891.3,792.5C887.7,793.8 884.4,795.1 880.9,796.5C877.3,797.9 873.6,799.4 870.2,801.0C866.8,802.6 863.7,804.2 860.6,806.2C857.4,808.3 854.4,811.0 851.4,813.3C848.4,815.7 845.3,817.9 842.5,820.3C839.8,822.8 837.3,825.4 834.6,828.0C831.8,830.7 828.9,833.6 826.1,836.5C823.3,839.3 820.6,842.2 817.9,845.2C815.2,848.2 812.5,851.3 810.0,854.3C807.7,857.0 805.7,859.5 803.6,862.4C801.3,865.4 799.0,868.7 796.7,871.9C794.4,875.1 792.1,878.4 789.9,881.7C787.6,885.0 785.3,888.3 783.4,891.8C781.5,895.3 780.1,899.0 778.4,902.7C776.8,906.3 775.3,910.1 773.7,913.7C772.2,917.4 770.5,921.1 768.9,924.7C767.3,928.2 765.7,931.7 764.2,935.1C762.8,938.4 761.7,941.5 760.3,945.0C758.7,948.9 756.9,953.7 755.3,957.7C753.8,961.3 752.4,964.6 751.2,968.1C749.9,971.6 748.7,975.8 747.8,978.7C747.2,980.7 746.7,982.0 746.2,983.7" fill="none" stroke="rgb(223,0,0)" stroke-width="1.2"/>
<path d="M772.1,982.8C773.4,979.7 774.6,976.7 776.1,973.5C777.7,970.0 779.7,966.3 781.5,962.7C783.2,959.1 784.9,955.5 786.6,951.9C788.4,948.3 790.1,944.7 791.9,941.2C793.8,937.6 795.7,934.1 797.6,930.6C799.4,927.0 801.1,923.4 803.0,919.8C804.9,916.3 806.4,912.6 808.7,909.3C811.0,906.1 813.9,903.3 816.6,900.4C819.3,897.5 822.2,894.7 825.1,891.9C827.9,889.1 830.7,886.2 833.6,883.6C836.6,880.9 839.7,878.3 842.8,875.8C845.9,873.3 849.0,870.9 852.3,868.5C855.5,866.1 858.8,863.9 862.1,861.7C865.5,859.6 868.9,857.4 872.4,855.5C875.8,853.6 879.4,851.9 883.0,850.4C886.7,849.0 890.5,847.9 894.3,846.8C898.1,845.7 902.1,844.9 906.0,844.0C909.9,843.2 913.9,842.4 917.8,841.8C921.6,841.2 925.3,840.6 929.1,840.3C933.0,840.0 936.9,839.9 940.8,839.9C944.8,839.9 948.8,840.1 952.8,840.4C956.8,840.6 960.9,841.0 964.8,841.4C968.8,841.8 972.8,842.3 976.6,842.8C980.2,843.3 983.5,843.7 987.1,844.3C990.9,844.9 994.9,845.7 998.8,846.4C1002.8,847.2 1006.7,848.1 1010.6,848.9C1014.5,849.7 1018.4,850.4 1022.4,851.1C1026.3,851.9 1030.2,852.7 1034.1,853.6C1038.0,854.4 1041.9,855.3 1045.8,856.2C1049.7,857.0 1054.3,857.9 1057.6,858.5C1060.0,859.0 1061.7,859.3 1063.7,859.7" fill="none" stroke="rgb(175,0,0)" stroke-width="1.2"/>
<path d="M1067.2,925.7C1063.4,924.5 1059.6,923.3 1055.7,922.2C1051.9,921.1 1048.0,920.2 1044.1,919.2C1040.2,918.3 1036.4,917.3 1032.5,916.3C1028.6,915.3 1024.8,914.1 1020.9,913.3C1017.0,912.4 1013.0,912.0 1009.0,911.3C1005.1,910.6 1001.2,909.8 997.2,909.1C993.3,908.4 989.4,907.7 985.4,907.2C981.4,906.7 977.4,906.4 973.5,906.0C969.5,905.7 965.5,905.3 961.5,905.1C957.5,904.9 953.5,904.7 949.5,904.8C945.5,904.9 941.5,905.2 937.5,905.7C933.6,906.2 929.7,907.1 925.8,907.9C921.8,908.8 917.9,909.5 914.1,910.7C910.2,911.8 906.5,913.2 902.8,914.7C899.1,916.2 895.5,918.0 891.9,919.8C888.3,921.5 884.7,923.3 881.2,925.2C877.7,927.1 874.3,929.2 870.8,931.2C867.4,933.3 864.0,935.4 860.6,937.5C857.1,939.5 853.1,940.9 850.2,943.4C847.2,946.0 845.1,949.5 842.7,952.7C840.3,955.9 838.1,959.3 835.9,962.6C833.6,965.9 831.2,969.1 829.0,972.5C826.9,975.8 824.0,980.7 822.7,982.6C822.2,983.4 821.9,983.7 821.6,984.3" fill="none" stroke="rgb(128,0,0)" stroke-width="1.2"/>
<path d="M81.3,939.8L81.5,940.6M81.4,940.3L81.5,940.6L81.5,940.3M81.3,899.0L86.7,918.6M83.3,912.6L86.7,918.6L86.6,911.7M81.3,858.2L84.2,869.7M82.3,866.1L84.2,869.7L84.2,865.6M81.3,817.4L85.9,836.8M82.8,830.8L85.9,836.8L86.0,830.0M81.3,776.6L86.8,794.6M83.5,789.1L86.8,794.6L86.4,788.2M81.3,735.8L84.9,747.5M82.7,743.9L84.9,747.5L84.7,743.3M81.3,695.0L87.8,716.3M83.9,709.8L87.8,716.3L87.4,708.7M81.3,654.2L85.8,670.1M83.0,665.2L85.8,670.1L85.6,664.5M81.3,613.4L85.6,626.4M83.1,622.5L85.6,626.4L85.2,621.8M81.3,572.6L87.9,594.4M83.9,587.7L87.9,594.4L87.5,586.6M81.3,531.8L85.2,543.7M83.0,540.1L85.2,543.7L84.9,539.4M81.3,491.0L87.4,507.0M84.1,502.2L87.4,507.0L86.7,501.2M81.3,450.2L89.3,470.8M85.0,464.7L89.3,470.8L88.4,463.3M81.3,409.4L85.8,420.9M83.3,417.5L85.8,420.9L85.2,416.8M81.3,368.6L88.3,385.7M84.6,380.7L88.3,385.7L87.4,379.5M81.3,327.8L89.4,346.5M85.2,341.0L89.4,346.5L88.3,339.6M81.3,287.0L85.9,297.5M83.5,294.4L85.9,297.5L85.3,293.7M81.3,246.2L90.1,266.4M85.6,260.5L90.1,266.4L88.9,259.0M81.3,205.4L88.5,220.8M84.9,216.3L88.5,220.8L87.4,215.1M81.3,164.6L86.9,175.9M84.1,172.6L86.9,175.9L86.0,171.7M81.3,123.8L93.0,145.0M87.4,139.0L93.0,145.0L90.9,137.1M81.3,83.0L87.6,95.3M84.5,91.8L87.6,95.3L86.6,90.7M81.3,42.2L87.9,54.5M84.7,51.0L87.9,54.5L86.7,49.9M122.1,939.8L122.2,940.1M122.2,940.0L122.2,940.1L122.2,940.0M122.1,899.0L125.0,913.7M122.9,909.1L125.0,913.7L125.3,908.6M122.1,858.2L125.2,875.0M122.8,869.7L125.2,875.0L125.6,869.2M122.1,817.4L125.2,834.0M122.9,828.8L125.2,834.0L125.6,828.3M122.1,776.6L125.6,792.7M123.1,787.7L125.6,792.7L125.8,787.1M122.1,735.8L125.7,751.8M123.2,746.8L125.7,751.8L125.9,746.2M122.1,695.0L125.8,711.3M123.3,706.2L125.8,711.3L126.0,705.6M122.1,654.2L126.0,670.5M123.4,665.5L126.0,670.5L126.0,664.8M122.1,613.4L126.2,629.6M123.5,624.6L126.2,629.6L126.2,624.0M122.1,572.6L126.3,588.6M123.6,583.7L126.3,588.6L126.3,583.0M122.1,531.8L126.8,547.5M123.9,542.7L126.8,547.5L126.5,542.0M122.1,491.0L126.3,506.7M123.6,501.8L126.3,506.7L126.2,501.2M122.1,450.2L127.2,467.0M124.2,461.9L127.2,467.0L126.9,461.0M122.1,409.4L127.8,426.1M124.5,421.1L127.8,426.1L127.3,420.1M122.1,368.6L128.1,384.7M124.8,379.9L128.1,384.7L127.5,378.9M122.1,327.8L128.0,344.1M124.8,339.2L128.0,344.1L127.4,338.2M122.1,287.0L128.4,303.2M125.0,298.4L128.4,303.2L127.7,297.3M122.1,246.2L129.0,262.5M125.4,257.7L129.0,262.5L128.1,256.5M122.1,205.4L129.4,221.4M125.7,216.7L129.4,221.4L128.3,215.5M122.1,164.6L129.9,180.3M126.1,175.8L129.9,180.3L128.6,174.5M122.1,123.8L130.1,140.4M126.1,135.6L130.1,140.4L128.8,134.3M122.1,83.0L130.4,99.5M126.3,94.7L130.4,99.5L129.0,93.3M122.1,42.2L130.6,58.3M126.5,53.7L130.6,58.3L129.1,52.3M122.1,1.4L124.3,5.1M123.3,4.1L124.3,5.1L123.9,3.7M163.0,899.0L164.3,911.3M162.9,907.3L164.3,911.3L164.9,907.1M163.0,858.2L164.7,875.1M162.8,869.7L164.7,875.1L165.5,869.4M163.0,817.4L164.8,834.7M162.8,829.1L164.8,834.7L165.6,828.8M163.0,776.6L165.0,792.5M163.0,787.4L165.0,792.5L165.6,787.1M163.0,735.8L165.1,751.2M163.1,746.3L165.1,751.2L165.7,746.0M163.0,695.0L164.9,711.0M162.9,705.9L164.9,711.0L165.6,705.6M163.0,654.2L164.9,670.2M162.9,665.1L164.9,670.2L165.6,664.8M163.0,613.4L165.4,629.4M163.3,624.3L165.4,629.4L165.9,623.9M163.0,572.6L165.9,588.3M163.6,583.3L165.9,588.3L166.2,582.9M163.0,531.8L166.3,547.3M164.0,542.4L166.3,547.3L166.5,541.9M163.0,491.0L166.8,506.1M164.3,501.5L166.8,506.1L166.8,500.8M163.0,450.2L166.5,466.2M164.0,461.2L166.5,466.2L166.7,460.6M163.0,409.4L167.3,425.9M164.5,420.8L167.3,425.9L167.3,420.1M163.0,368.6L167.7,384.4M164.9,379.6L167.7,384.4L167.5,378.8M163.0,327.8L168.0,343.5M165.0,338.7L168.0,343.5L167.6,337.9M163.0,287.0L168.5,302.8M165.4,298.0L168.5,302.8L168.0,297.1M163.0,246.2L169.2,262.0M165.8,257.3L169.2,262.0L168.4,256.2M163.0,205.4L169.3,221.1M166.0,216.5L169.3,221.1L168.5,215.4M163.0,164.6L169.9,180.3M166.3,175.7L169.9,180.3L168.9,174.6M163.0,123.8L170.4,139.7M166.6,135.0L170.4,139.7L169.2,133.8M163.0,83.0L171.5,98.9M167.4,94.4L171.5,98.9L170.0,93.0M163.0,42.2L171.8,57.9M167.6,53.5L171.8,57.9L170.2,52.0M163.0,1.4L170.8,14.6M167.1,10.9L170.8,14.6L169.3,9.6M203.9,899.0L202.4,911.0M201.9,906.9L202.4,911.0L203.8,907.1M203.9,858.2L202.7,875.3M201.7,869.6L202.7,875.3L204.5,869.8M203.9,817.4L202.7,836.2M201.5,829.9L202.7,836.2L204.6,830.1M203.9,776.6L203.1,792.0M202.1,786.8L203.1,792.0L204.6,786.9M203.9,735.8L203.4,750.7M202.3,745.7L203.4,750.7L204.8,745.8M203.9,695.0L203.7,710.5M202.5,705.4L203.7,710.5L205.0,705.4M203.9,654.2L204.1,669.8M202.7,664.7L204.1,669.8L205.3,664.6M203.9,613.4L204.5,629.0M203.0,623.9L204.5,629.0L205.6,623.8M203.9,572.6L205.1,587.9M203.4,583.0L205.1,587.9L205.9,582.8M203.9,531.8L205.6,546.9M203.8,542.1L205.6,546.9L206.3,541.8M203.9,491.0L206.1,505.8M204.1,501.1L206.1,505.8L206.6,500.8M203.9,450.2L206.6,465.2M204.5,460.5L206.6,465.2L206.9,460.0M203.9,409.4L207.4,425.4M204.9,420.4L207.4,425.4L207.5,419.8M203.9,368.6L207.7,384.1M205.2,379.3L207.7,384.1L207.7,378.6M203.9,327.8L208.0,342.9M205.4,338.3L208.0,342.9L207.9,337.6M203.9,287.0L208.7,302.3M205.8,297.6L208.7,302.3L208.3,296.8M203.9,246.2L209.2,261.3M206.2,256.7L209.2,261.3L208.7,255.9M203.9,205.4L209.8,220.7M206.6,216.2L209.8,220.7L209.1,215.2M203.9,164.6L210.5,180.0M207.0,175.5L210.5,180.0L209.6,174.4M203.9,123.8L211.2,139.2M207.5,134.7L211.2,139.2L210.0,133.5M203.9,83.0L212.0,98.6M208.1,94.1L212.0,98.6L210.6,92.8M203.9,42.2L212.4,57.5M208.3,53.1L212.4,57.5L210.8,51.7M203.9,1.4L210.4,12.6M207.3,9.4L210.4,12.6L209.2,8.3M244.7,939.8L244.3,940.6M244.4,940.3L244.3,940.6L244.5,940.4M244.7,899.0L238.9,913.7M239.6,908.4L238.9,913.7L242.0,909.3M244.7,858.2L239.1,876.4M239.4,870.0L239.1,876.4L242.4,870.9M244.7,817.4L239.2,837.7M239.3,830.5L239.2,837.7L242.7,831.5M244.7,776.6L240.7,790.6M240.9,785.6L240.7,790.6L243.2,786.3M244.7,735.8L241.2,749.9M241.2,745.0L241.2,749.9L243.5,745.5M244.7,695.0L242.1,709.8M241.7,704.7L242.1,709.8L244.2,705.1M244.7,654.2L243.0,669.2M242.3,664.1L243.0,669.2L244.8,664.4M244.7,613.4L243.5,628.5M242.7,623.4L243.5,628.5L245.2,623.6M244.7,572.6L244.1,587.3M243.1,582.4L244.1,587.3L245.5,582.5M244.7,531.8L244.7,546.4M243.5,541.6L244.7,546.4L245.9,541.6M244.7,491.0L245.5,505.3M244.0,500.6L245.5,505.3L246.4,500.5M244.7,450.2L246.3,464.5M244.6,459.9L246.3,464.5L246.9,459.7M244.7,409.4L247.2,424.7M245.1,419.9L247.2,424.7L247.7,419.5M244.7,368.6L247.9,383.5M245.6,378.9L247.9,383.5L248.1,378.3M244.7,327.8L248.4,342.2M246.0,337.8L248.4,342.2L248.4,337.2M244.7,287.0L248.2,301.7M245.8,297.1L248.2,301.7L248.2,296.6M244.7,246.2L249.0,260.5M246.4,256.2L249.0,260.5L248.8,255.5M244.7,205.4L250.0,220.2M247.1,215.8L250.0,220.2L249.5,214.9M244.7,164.6L250.7,179.2M247.5,174.9L250.7,179.2L250.0,173.9M244.7,123.8L251.9,139.1M248.2,134.6L251.9,139.1L250.8,133.5M244.7,83.0L253.1,97.8M249.1,93.6L253.1,97.8L251.6,92.2M244.7,42.2L253.4,56.6M249.4,52.6L253.4,56.6L251.7,51.1M244.7,1.4L248.3,7.2M246.7,5.6L248.3,7.2L247.6,5.0M285.6,980.6L285.3,980.8M285.3,980.7L285.3,980.8L285.4,980.8M285.6,939.8L280.1,949.5M281.1,945.9L280.1,949.5L282.7,946.8M285.6,899.0L274.3,915.0M276.7,908.8L274.3,915.0L279.3,910.6M285.6,858.2L269.5,880.0M273.0,871.5L269.5,880.0L276.6,874.1M285.6,817.4L275.1,832.8M277.3,826.9L275.1,832.8L279.8,828.6M285.6,776.6L280.1,790.3M280.8,785.4L280.1,790.3L283.0,786.3M285.6,735.8L278.4,749.2M279.6,744.2L278.4,749.2L281.9,745.4M285.6,695.0L279.3,708.7M280.2,703.6L279.3,708.7L282.5,704.7M285.6,654.2L280.4,668.3M280.9,663.2L280.4,668.3L283.3,664.1M285.6,613.4L281.2,627.6M281.5,622.6L281.2,627.6L283.8,623.3M285.6,572.6L282.9,586.4M282.6,581.7L282.9,586.4L284.9,582.1M285.6,531.8L283.7,545.7M283.2,541.0L283.7,545.7L285.5,541.3M285.6,491.0L284.5,504.5M283.7,500.0L284.5,504.5L286.0,500.1M285.6,450.2L285.3,463.9M284.2,459.3L285.3,463.9L286.5,459.4M285.6,409.4L286.1,424.0M284.7,419.2L286.1,424.0L287.1,419.1M285.6,368.6L286.9,383.0M285.2,378.3L286.9,383.0L287.6,378.1M285.6,327.8L287.4,341.6M285.7,337.2L287.4,341.6L287.9,336.9M285.6,287.0L288.2,300.7M286.2,296.4L288.2,300.7L288.4,296.0M285.6,246.2L289.0,259.6M286.8,255.4L289.0,259.6L289.0,254.9M285.6,205.4L290.0,219.1M287.4,214.9L290.0,219.1L289.7,214.2M285.6,164.6L291.5,178.2M288.4,174.2L291.5,178.2L290.7,173.2M285.6,123.8L293.0,138.1M289.3,134.0L293.0,138.1L291.7,132.8M285.6,83.0L293.9,97.5M290.0,93.4L293.9,97.5L292.4,92.0M285.6,42.2L294.1,55.9M290.1,52.1L294.1,55.9L292.4,50.7M285.6,1.4L294.5,15.1M290.4,11.3L294.5,15.1L292.7,9.8M326.4,980.6L310.5,991.3M314.8,986.4L310.5,991.3L316.6,989.1M326.4,939.8L304.8,952.3M310.9,946.4L304.8,952.3L313.0,950.0M326.4,899.0L303.0,921.9M308.8,912.4L303.0,921.9L312.6,916.3M326.4,858.2L309.0,874.4M313.4,867.6L309.0,874.4L316.1,870.5M326.4,817.4L313.3,829.3M316.6,824.3L313.3,829.3L318.6,826.4M326.4,776.6L314.0,789.1M317.1,784.0L314.0,789.1L319.2,786.0M326.4,735.8L313.2,746.9M316.7,742.1L313.2,746.9L318.5,744.3M326.4,695.0L316.2,708.2M318.5,703.0L316.2,708.2L320.6,704.7M326.4,654.2L317.7,667.8M319.5,662.6L317.7,667.8L321.7,664.1M326.4,613.4L317.7,625.9M319.5,621.1L317.7,625.9L321.6,622.5M326.4,572.6L320.3,585.5M321.2,580.7L320.3,585.5L323.4,581.7M326.4,531.8L321.2,544.6M321.9,539.9L321.2,544.6L324.0,540.8M326.4,491.0L322.8,503.6M323.0,499.1L322.8,503.6L325.0,499.7M326.4,450.2L323.5,463.1M323.4,458.6L323.5,463.1L325.5,459.1M326.4,409.4L323.9,422.9M323.6,418.2L323.9,422.9L325.8,418.6M326.4,368.6L324.6,382.0M324.1,377.4L324.6,382.0L326.3,377.7M326.4,327.8L325.6,340.7M324.8,336.3L325.6,340.7L326.9,336.5M326.4,287.0L326.9,299.9M325.7,295.7L326.9,299.9L327.8,295.6M326.4,246.2L328.5,258.5M326.8,254.6L328.5,258.5L328.8,254.2M326.4,205.4L330.0,217.3M327.8,213.7L330.0,217.3L329.8,213.1M326.4,164.6L331.7,177.5M328.9,173.7L331.7,177.5L331.0,172.8M326.4,123.8L332.6,136.4M329.5,132.7L332.6,136.4L331.6,131.7M326.4,83.0L334.3,97.1M330.5,93.1L334.3,97.1L332.8,91.8M326.4,42.2L335.8,54.8M331.7,51.4L335.8,54.8L333.8,49.8M326.4,1.4L333.5,9.0M330.5,7.1L333.5,9.0L331.8,5.9M367.2,980.6L333.6,994.2M343.6,986.9L333.6,994.2L345.8,992.5M367.2,939.8L333.9,954.9M343.7,947.2L333.9,954.9L346.2,952.7M367.2,899.0L342.9,909.0M350.1,903.7L342.9,909.0L351.7,907.7M367.2,858.2L347.5,869.4M353.1,864.1L347.5,869.4L354.9,867.3M367.2,817.4L347.7,828.6M353.2,823.3L347.7,828.6L355.1,826.6M367.2,776.6L349.1,787.3M354.2,782.2L349.1,787.3L356.0,785.2M367.2,735.8L350.2,747.3M354.9,742.1L350.2,747.3L356.7,744.9M367.2,695.0L350.3,704.8M355.1,700.2L350.3,704.8L356.7,703.0M367.2,654.2L353.5,666.3M357.1,661.2L353.5,666.3L359.1,663.5M367.2,613.4L355.4,625.6M358.3,620.6L355.4,625.6L360.3,622.5M367.2,572.6L356.0,583.4M358.8,578.9L356.0,583.4L360.6,580.7M367.2,531.8L358.5,543.3M360.4,538.8L358.5,543.3L362.3,540.2M367.2,491.0L360.5,502.6M361.8,498.2L360.5,502.6L363.7,499.3M367.2,450.2L361.7,462.0M362.5,457.7L361.7,462.0L364.5,458.6M367.2,409.4L362.4,421.5M363.0,417.1L362.4,421.5L365.0,417.9M367.2,368.6L365.2,380.7M364.9,376.6L365.2,380.7L366.9,376.9M367.2,327.8L366.3,339.4M365.6,335.5L366.3,339.4L367.6,335.7M367.2,287.0L367.5,298.6M366.4,294.8L367.5,298.6L368.4,294.8M367.2,246.2L368.8,257.9M367.4,254.2L368.8,257.9L369.3,253.9M367.2,205.4L370.3,217.0M368.4,213.4L370.3,217.0L370.3,212.9M367.2,164.6L372.0,177.2M369.4,173.4L372.0,177.2L371.4,172.7M367.2,123.8L374.1,134.5M370.9,131.5L374.1,134.5L372.7,130.4M367.2,83.0L375.5,94.3M371.8,91.3L375.5,94.3L373.7,89.9M367.2,42.2L377.1,53.8M372.9,50.8L377.1,53.8L374.8,49.2M367.2,1.4L374.6,9.0M371.6,7.1L374.6,9.0L372.8,5.9M408.1,980.6L376.1,989.8M385.9,984.2L376.1,989.8L387.4,989.4M408.1,939.8L378.8,948.8M387.7,943.4L378.8,948.8L389.2,948.2M408.1,899.0L379.8,908.0M388.4,902.7L379.8,908.0L389.9,907.4M408.1,858.2L381.8,869.2M389.6,863.4L381.8,869.2L391.4,867.7M408.1,817.4L382.8,827.4M390.3,822.0L382.8,827.4L392.0,826.2M408.1,776.6L384.7,787.1M391.5,781.7L384.7,787.1L393.3,785.6M408.1,735.8L386.8,746.6M392.9,741.3L386.8,746.6L394.7,744.8M408.1,695.0L387.3,704.2M393.4,699.4L387.3,704.2L394.9,702.9M408.1,654.2L391.0,666.0M395.7,660.7L391.0,666.0L397.6,663.5M408.1,613.4L391.6,622.7M396.3,618.3L391.6,622.7L397.8,621.0M408.1,572.6L394.5,583.4M398.1,578.7L394.5,583.4L399.9,581.0M408.1,531.8L395.0,540.6M398.6,536.6L395.0,540.6L400.1,538.7M408.1,491.0L397.4,501.6M400.1,497.2L397.4,501.6L401.8,499.0M408.1,450.2L399.6,461.4M401.5,457.0L399.6,461.4L403.3,458.4M408.1,409.4L400.7,420.3M402.2,416.1L400.7,420.3L404.0,417.3M408.1,368.6L403.2,378.0M404.0,374.5L403.2,378.0L405.6,375.3M408.1,327.8L404.1,338.9M404.5,334.9L404.1,338.9L406.3,335.6M408.1,287.0L404.8,299.3M404.9,295.0L404.8,299.3L406.9,295.5M408.1,246.2L407.0,258.5M406.4,254.3L407.0,258.5L408.4,254.5M408.1,205.4L410.3,217.5M408.6,213.7L410.3,217.5L410.5,213.3M408.1,164.6L413.0,176.5M410.4,173.0L413.0,176.5L412.4,172.2M408.1,123.8L414.9,135.4M411.7,132.1L414.9,135.4L413.6,131.0M408.1,83.0L415.1,93.2M412.0,90.4L415.1,93.2L413.7,89.2M408.1,42.2L418.5,51.6M414.3,49.4L418.5,51.6L415.8,47.7M408.1,1.4L423.1,14.7M417.0,11.5L423.1,14.7L419.2,9.1M448.9,980.6L411.1,988.8M422.9,983.0L411.1,988.8L424.2,989.3M448.9,939.8L411.9,947.4M423.5,941.8L411.9,947.4L424.7,947.9M448.9,899.0L413.9,907.3M424.8,901.7L413.9,907.3L426.2,907.4M448.9,858.2L415.8,866.0M426.1,860.7L415.8,866.0L427.4,866.2M448.9,817.4L418.0,824.8M427.6,819.8L418.0,824.8L428.8,824.9M448.9,776.6L420.2,783.4M429.1,778.8L420.2,783.4L430.3,783.5M448.9,735.8L422.5,743.1M430.6,738.5L422.5,743.1L431.8,742.9M448.9,695.0L424.5,702.8M431.9,698.2L424.5,702.8L433.2,702.2M448.9,654.2L426.1,660.7M433.1,656.7L426.1,660.7L434.2,660.4M448.9,613.4L429.2,621.5M435.1,617.2L429.2,621.5L436.4,620.5M448.9,572.6L430.5,579.0M436.1,575.3L430.5,579.0L437.1,578.4M448.9,531.8L432.5,540.7M437.2,536.4L432.5,540.7L438.6,539.1M448.9,491.0L433.4,498.0M438.0,494.4L433.4,498.0L439.1,497.0M448.9,450.2L436.4,458.6M439.8,454.8L436.4,458.6L441.2,456.9M448.9,409.4L439.9,418.0M442.2,414.4L439.9,418.0L443.6,415.9M448.9,368.6L439.8,375.9M442.2,372.8L439.8,375.9L443.4,374.3M448.9,327.8L441.1,337.7M442.9,333.8L441.1,337.7L444.5,335.1M448.9,287.0L444.9,298.3M445.3,294.3L444.9,298.3L447.2,294.9M448.9,246.2L447.2,257.3M446.9,253.5L447.2,257.3L448.7,253.8M448.9,205.4L450.5,216.2M449.1,212.8L450.5,216.2L450.8,212.5M448.9,164.6L453.1,175.1M450.9,171.9L453.1,175.1L452.6,171.3M448.9,123.8L455.0,134.8M452.1,131.6L455.0,134.8L453.9,130.6M448.9,83.0L458.2,92.1M454.4,89.8L458.2,92.1L455.9,88.3M448.9,42.2L459.0,49.3M455.1,47.8L459.0,49.3L456.3,46.1M448.9,1.4L455.2,6.4M452.7,5.2L455.2,6.4L453.6,4.2M489.8,980.6L444.3,987.0M458.8,981.1L444.3,987.0L459.8,988.6M489.8,939.8L446.5,944.9M460.3,939.7L446.5,944.9L461.2,946.8M489.8,899.0L449.1,905.2M462.0,899.8L449.1,905.2L463.1,906.5M489.8,858.2L451.5,863.3M463.7,858.5L451.5,863.3L464.6,864.8M489.8,817.4L454.2,822.8M465.5,818.1L454.2,822.8L466.4,823.9M489.8,776.6L456.6,781.7M467.1,777.3L456.6,781.7L468.0,782.7M489.8,735.8L458.8,741.3M468.6,736.9L458.8,741.3L469.5,742.0M489.8,695.0L461.0,701.0M470.0,696.6L461.0,701.0L471.0,701.4M489.8,654.2L462.7,659.1M471.2,655.3L462.7,659.1L472.1,659.8M489.8,613.4L465.4,619.9M472.9,615.8L465.4,619.9L474.0,619.8M489.8,572.6L467.7,577.6M474.6,574.1L467.7,577.6L475.4,577.7M489.8,531.8L470.8,539.0M476.5,535.1L470.8,539.0L477.7,538.2M489.8,491.0L472.7,496.4M477.9,493.2L472.7,496.4L478.8,496.0M489.8,450.2L476.1,456.9M480.1,453.5L476.1,456.9L481.2,455.8M489.8,409.4L477.7,414.2M481.3,411.6L477.7,414.2L482.1,413.6M489.8,368.6L478.5,375.6M481.6,372.4L478.5,375.6L482.8,374.2M489.8,327.8L479.8,334.9M482.5,331.7L479.8,334.9L483.7,333.4M489.8,287.0L482.2,294.1M484.1,291.1L482.2,294.1L485.3,292.4M489.8,246.2L485.6,253.3M486.4,250.6L485.6,253.3L487.6,251.3M489.8,205.4L490.5,212.7M489.7,210.3L490.5,212.7L490.9,210.2M489.8,164.6L495.8,170.1M493.4,168.8L495.8,170.1L494.3,167.8M489.8,123.8L496.8,131.4M493.9,129.5L496.8,131.4L495.1,128.3M489.8,83.0L501.1,88.2M496.9,87.4L501.1,88.2L497.8,85.5M489.8,42.2L501.7,48.7M497.2,47.5L501.7,48.7L498.3,45.6M489.8,1.4L508.7,8.6M501.9,7.8L508.7,8.6L503.1,4.6M530.6,980.6L480.5,984.0M496.7,978.7L480.5,984.0L497.3,987.0M530.6,939.8L482.6,942.4M498.3,937.5L482.6,942.4L498.7,945.5M530.6,899.0L485.3,902.4M500.0,897.5L485.3,902.4L500.5,905.0M530.6,858.2L488.3,861.0M502.0,856.6L488.3,861.0L502.5,863.6M530.6,817.4L491.1,820.2M503.9,816.0L491.1,820.2L504.4,822.5M530.6,776.6L493.9,779.4M505.8,775.4L493.9,779.4L506.2,781.5M530.6,735.8L496.6,738.7M507.6,735.0L496.6,738.7L508.1,740.6M530.6,695.0L499.3,698.2M509.4,694.5L499.3,698.2L509.9,699.7M530.6,654.2L502.0,656.7M511.2,653.5L502.0,656.7L511.6,658.3M530.6,613.4L504.6,616.8M512.9,613.5L504.6,616.8L513.5,617.8M530.6,572.6L507.3,575.2M514.8,572.4L507.3,575.2L515.2,576.2M530.6,531.8L509.9,536.0M516.4,532.9L509.9,536.0L517.1,536.3M530.6,491.0L512.6,494.0M518.3,491.5L512.6,494.0L518.8,494.5M530.6,450.2L515.4,454.1M520.1,451.6L515.4,454.1L520.7,454.1M530.6,409.4L517.3,412.2M521.5,410.2L517.3,412.2L521.9,412.4M530.6,368.6L518.8,373.3M522.3,370.8L518.8,373.3L523.1,372.7M530.6,327.8L519.8,330.7M523.1,328.9L519.8,330.7L523.6,330.7M530.6,287.0L523.8,291.6M525.7,289.5L523.8,291.6L526.5,290.7M530.6,246.2L525.9,248.4M527.3,247.3L525.9,248.4L527.7,248.0M530.6,205.4L534.0,206.7M532.8,206.6L534.0,206.7L533.0,206.0M530.6,164.6L535.1,167.2M533.4,166.7L535.1,167.2L533.8,166.0M530.6,123.8L536.7,129.3M534.3,128.0L536.7,129.3L535.2,127.0M530.6,83.0L541.6,85.9M537.8,85.8L541.6,85.9L538.2,84.0M530.6,42.2L543.9,44.4M539.3,44.8L543.9,44.4L539.7,42.6M530.6,1.4L540.5,3.4M537.1,3.5L540.5,3.4L537.4,1.9M571.5,980.6L519.2,980.6M536.5,976.3L519.2,980.6L536.5,984.9M571.5,939.8L521.9,939.8M538.3,935.7L521.9,939.8L538.3,943.9M571.5,899.0L524.5,899.0M540.0,895.1L524.5,899.0L540.0,902.9M571.5,858.2L527.6,858.1M542.1,854.5L527.6,858.1L542.1,861.8M571.5,817.4L530.5,817.4M544.0,814.0L530.5,817.4L544.0,820.8M571.5,776.6L533.3,776.6M545.9,773.4L533.3,776.6L545.9,779.7M571.5,735.8L536.2,735.7M547.9,732.9L536.2,735.7L547.9,738.7M571.5,695.0L539.1,695.0M549.8,692.3L539.1,695.0L549.8,697.7M571.5,654.2L542.0,654.2M551.8,651.8L542.0,654.2L551.8,656.6M571.5,613.4L544.8,613.4M553.6,611.2L544.8,613.4L553.6,615.6M571.5,572.6L547.8,572.5M555.6,570.6L547.8,572.5L555.6,574.5M571.5,531.8L550.3,531.7M557.3,530.0L550.3,531.7L557.3,533.5M571.5,491.0L553.6,491.0M559.5,489.5L553.6,491.0L559.5,492.5M571.5,450.2L556.4,450.2M561.4,449.0L556.4,450.2L561.4,451.4M571.5,409.4L558.3,409.4M562.7,408.3L558.3,409.4L562.7,410.5M571.5,368.6L559.0,368.5M563.1,367.5L559.0,368.5L563.1,369.6M571.5,327.8L560.6,327.7M564.2,326.9L560.6,327.7L564.2,328.7M571.5,287.0L564.1,286.9M566.6,286.3L564.1,286.9L566.5,287.5M571.5,246.2L567.8,246.2M569.0,245.9L567.8,246.2L569.0,246.5M571.5,164.6L575.1,164.6M573.9,164.9L575.1,164.6L573.9,164.3M571.5,123.8L578.8,123.8M576.4,124.4L578.8,123.8L576.4,123.2M571.5,83.0L582.4,83.0M578.8,83.9L582.4,83.0L578.8,82.1M571.5,42.2L584.6,42.1M580.3,43.2L584.6,42.1L580.3,41.1M571.5,1.4L591.4,1.3M584.9,3.0L591.4,1.3L584.8,-0.3M612.4,980.6L561.0,977.0M578.2,974.0L561.0,977.0L577.6,982.4M612.4,939.8L563.5,937.2M579.8,934.0L563.5,937.2L579.4,942.1M612.4,899.0L566.0,895.5M581.6,892.8L566.0,895.5L581.0,900.5M612.4,858.2L569.0,855.3M583.6,852.7L569.0,855.3L583.1,859.8M612.4,817.4L572.0,814.5M585.5,812.1L572.0,814.5L585.0,818.8M612.4,776.6L574.9,773.7M587.5,771.6L574.9,773.7L587.0,777.8M612.4,735.8L577.8,732.7M589.4,730.9L577.8,732.7L588.9,736.6M612.4,695.0L580.8,691.7M591.5,690.2L580.8,691.7L590.9,695.4M612.4,654.2L583.6,651.5M593.3,650.0L583.6,651.5L592.9,654.8M612.4,613.4L586.3,609.9M595.2,608.9L586.3,609.9L594.6,613.2M612.4,572.6L589.1,570.0M597.0,568.9L589.1,570.0L596.5,572.8M612.4,531.8L591.7,527.6M598.9,527.3L591.7,527.6L598.2,530.7M612.4,491.0L594.4,488.0M600.6,487.5L594.4,488.0L600.1,490.4M612.4,450.2L597.2,446.2M602.5,446.3L597.2,446.2L601.9,448.8M612.4,409.4L599.1,406.6M603.7,406.4L599.1,406.6L603.3,408.6M612.4,368.6L600.5,363.9M604.8,364.5L600.5,363.9L604.0,366.4M612.4,327.8L601.5,324.9M605.3,324.9L601.5,324.9L604.8,326.7M612.4,287.0L605.5,282.3M608.2,283.3L605.5,282.3L607.4,284.4M612.4,246.2L607.6,244.0M609.3,244.3L607.6,244.0L609.0,245.1M612.4,205.4L615.8,204.1M614.8,204.8L615.8,204.1L614.6,204.2M612.4,164.6L616.8,161.9M615.6,163.2L616.8,161.9L615.1,162.4M612.4,123.8L618.4,118.3M616.9,120.6L618.4,118.3L616.0,119.6M612.4,83.0L623.3,80.1M619.9,82.0L623.3,80.1L619.5,80.2M612.4,42.2L625.6,40.0M621.4,41.8L625.6,40.0L621.0,39.6M612.4,1.4L622.2,-0.6M619.1,0.9L622.2,-0.6L618.8,-0.8M653.2,980.6L609.6,974.4M624.5,972.9L609.6,974.4L623.5,980.1M653.2,939.8L612.0,934.8M626.0,933.0L612.0,934.8L625.2,939.8M653.2,899.0L614.8,893.1M628.0,891.9L614.8,893.1L627.0,898.2M653.2,858.2L617.1,853.3M629.4,851.9L617.1,853.3L628.6,857.9M653.2,817.4L619.6,812.3M631.1,811.2L619.6,812.3L630.3,816.7M653.2,776.6L621.6,771.8M632.5,770.8L621.6,771.8L631.7,776.0M653.2,735.8L623.4,730.4M633.7,729.7L623.4,730.4L632.8,734.6M653.2,695.0L624.8,689.1M634.7,688.7L624.8,689.1L633.7,693.4M653.2,654.2L626.0,649.1M635.4,648.6L626.0,649.1L634.6,653.1M653.2,613.4L628.5,606.7M637.2,606.9L628.5,606.7L636.1,611.0M653.2,572.6L630.9,567.5M638.7,567.4L630.9,567.5L637.8,571.1M653.2,531.8L634.3,524.5M641.1,525.3L634.3,524.5L639.9,528.4M653.2,491.0L636.3,485.6M642.3,486.0L636.3,485.6L641.4,488.8M653.2,450.2L639.7,443.5M644.7,444.6L639.7,443.5L643.6,446.8M653.2,409.4L641.2,404.6M645.6,405.2L641.2,404.6L644.8,407.2M653.2,368.6L642.0,361.6M646.3,363.0L642.0,361.6L645.1,364.8M653.2,327.8L643.7,320.2M647.5,321.9L643.7,320.2L646.2,323.5M653.2,287.0L645.6,279.8M648.7,281.6L645.6,279.8L647.5,282.8M653.2,246.2L650.5,238.4M652.0,240.7L650.5,238.4L650.7,241.2M653.2,205.4L653.9,198.0M654.3,200.5L653.9,198.0L653.1,200.4M653.2,164.6L659.3,159.0M657.7,161.4L659.3,159.0L656.8,160.4M653.2,123.8L660.3,116.2M658.6,119.3L660.3,116.2L657.3,118.1M653.2,83.0L664.6,77.7M661.3,80.4L664.6,77.7L660.4,78.5M653.2,42.2L665.2,35.5M661.8,38.7L665.2,35.5L660.7,36.7M653.2,1.4L672.0,-5.7M666.4,-1.8L672.0,-5.7L665.2,-4.9M694.1,980.6L655.2,972.0M668.7,971.7L655.2,972.0L667.3,978.1M694.1,939.8L655.3,931.9M668.7,931.3L655.3,931.9L667.4,937.7M694.1,899.0L657.4,890.3M670.2,890.1L657.4,890.3L668.7,896.2M694.1,858.2L660.1,849.9M672.0,849.8L660.1,849.9L670.6,855.4M694.1,817.4L663.5,810.1M674.2,810.0L663.5,810.1L673.0,815.0M694.1,776.6L666.4,770.0M676.1,769.9L666.4,770.0L675.0,774.5M694.1,735.8L668.7,728.8M677.7,729.0L668.7,728.8L676.5,733.2M694.1,695.0L670.6,687.4M679.0,688.0L670.6,687.4L677.7,691.9M694.1,654.2L672.0,647.9M679.8,648.2L672.0,647.9L678.8,651.8M694.1,613.4L674.9,605.5M681.9,606.5L674.9,605.5L680.5,609.7M694.1,572.6L675.9,566.2M682.4,566.8L675.9,566.2L681.4,569.8M694.1,531.8L677.6,522.9M683.7,524.5L677.6,522.9L682.3,527.2M694.1,491.0L678.6,484.1M684.3,485.1L678.6,484.1L683.2,487.6M694.1,450.2L681.7,441.8M686.4,443.6L681.7,441.8L685.1,445.6M694.1,409.4L685.1,400.8M688.8,402.9L685.1,400.8L687.4,404.4M694.1,368.6L685.0,361.2M688.6,362.9L685.0,361.2L687.4,364.4M694.1,327.8L686.3,317.9M689.6,320.5L686.3,317.9L688.0,321.8M694.1,287.0L690.0,275.7M692.2,279.1L690.0,275.7L690.4,279.7M694.1,246.2L692.3,235.1M693.8,238.6L692.3,235.1L692.0,238.9M694.1,205.4L695.6,194.5M696.0,198.3L695.6,194.5L694.2,198.0M694.1,164.6L698.2,154.1M697.7,157.9L698.2,154.1L696.0,157.2M694.1,123.8L700.1,112.8M699.0,116.9L700.1,112.8L697.2,115.9M694.1,83.0L703.4,73.8M701.1,77.6L703.4,73.8L699.6,76.1M694.1,42.2L704.3,35.0M701.5,38.2L704.3,35.0L700.3,36.5M694.1,1.4L700.2,-3.5M698.6,-1.4L700.2,-3.5L697.8,-2.4M734.9,980.6L696.7,969.4M710.2,970.0L696.7,969.4L708.4,976.3M734.9,939.8L700.8,929.3M712.9,930.0L700.8,929.3L711.2,935.6M734.9,899.0L705.1,889.4M715.7,890.1L705.1,889.4L714.1,895.0M734.9,858.2L708.2,847.0M717.9,848.5L708.2,847.0L716.1,852.9M734.9,817.4L708.6,806.8M718.1,808.1L708.6,806.8L716.4,812.5M734.9,776.6L710.2,765.4M719.2,767.1L710.2,765.4L717.4,771.1M734.9,735.8L712.9,724.5M721.1,726.4L712.9,724.5L719.2,730.0M734.9,695.0L714.4,685.9M721.9,687.2L714.4,685.9L720.4,690.6M734.9,654.2L718.4,642.7M724.8,645.1L718.4,642.7L722.9,647.8M734.9,613.4L718.8,604.3M724.9,606.0L718.8,604.3L723.4,608.6M734.9,572.6L721.5,561.8M726.8,564.3L721.5,561.8L725.1,566.5M734.9,531.8L721.8,523.0M726.9,524.8L721.8,523.0L725.4,527.0M734.9,491.0L724.2,480.4M728.6,483.0L724.2,480.4L726.9,484.8M734.9,450.2L726.6,439.2M730.2,442.1L726.6,439.2L728.4,443.5M734.9,409.4L727.8,398.7M731.0,401.6L727.8,398.7L729.2,402.8M734.9,368.6L730.1,359.3M732.4,362.0L730.1,359.3L730.9,362.8M734.9,327.8L731.0,316.8M733.2,320.1L731.0,316.8L731.4,320.8M734.9,287.0L731.6,274.8M733.7,278.5L731.6,274.8L731.7,279.1M734.9,246.2L733.8,233.9M735.2,237.9L733.8,233.9L733.2,238.1M734.9,205.4L737.1,193.3M737.3,197.5L737.1,193.3L735.4,197.1M734.9,164.6L739.8,152.7M739.2,157.0L739.8,152.7L737.2,156.2M734.9,123.8L741.8,112.0M740.5,116.5L741.8,112.0L738.5,115.4M734.9,83.0L742.1,72.6M740.6,76.6L742.1,72.6L738.9,75.5M734.9,42.2L745.1,32.9M742.5,36.8L745.1,32.9L741.0,35.1M734.9,1.4L749.7,-11.7M745.9,-6.2L749.7,-11.7L743.7,-8.6M775.8,980.6L751.3,970.1M760.2,971.5L751.3,970.1L758.5,975.6M775.8,939.8L743.0,924.5M755.1,926.9L743.0,924.5L752.6,932.3M775.8,899.0L744.8,886.4M756.1,888.0L744.8,886.4L754.0,893.1M775.8,858.2L751.2,844.1M760.4,846.7L751.2,844.1L758.1,850.8M775.8,817.4L755.2,805.5M762.9,807.7L755.2,805.5L761.0,811.1M775.8,776.6L757.7,765.9M764.5,768.0L757.7,765.9L762.8,771.0M775.8,735.8L758.4,724.1M765.1,726.5L758.4,724.1L763.2,729.4M775.8,695.0L758.1,684.7M764.8,686.7L758.1,684.7L763.1,689.6M775.8,654.2L761.8,641.9M767.4,644.8L761.8,641.9L765.4,647.1M775.8,613.4L764.6,601.2M769.3,604.3L764.6,601.2L767.3,606.2M775.8,572.6L764.8,562.1M769.3,564.6L764.8,562.1L767.6,566.4M775.8,531.8L767.0,520.3M770.8,523.4L767.0,520.3L768.9,524.8M775.8,491.0L768.9,479.2M772.1,482.5L768.9,479.2L770.2,483.6M775.8,450.2L770.4,438.4M773.1,441.8L770.4,438.4L771.2,442.7M775.8,409.4L771.0,397.6M773.5,401.1L771.0,397.6L771.6,401.9M775.8,368.6L773.7,356.7M775.4,360.4L773.7,356.7L773.4,360.8M775.8,327.8L774.8,316.3M776.0,320.0L774.8,316.3L774.2,320.2M775.8,287.0L776.0,275.4M776.8,279.3L776.0,275.4L774.9,279.2M775.8,246.2L777.4,234.4M777.8,238.4L777.4,234.4L775.9,238.2M775.8,205.4L778.8,193.8M778.8,197.9L778.8,193.8L776.9,197.4M775.8,164.6L780.5,151.8M780.0,156.4L780.5,151.8L777.9,155.6M775.8,123.8L782.7,112.9M781.3,117.1L782.7,112.9L779.5,115.9M775.8,83.0L784.0,71.6M782.2,76.0L784.0,71.6L780.4,74.7M775.8,42.2L785.3,30.9M783.1,35.4L785.3,30.9L781.2,33.8M775.8,1.4L782.8,-5.9M781.1,-2.9L782.8,-5.9L779.9,-4.1M816.6,980.6L802.4,971.2M807.9,973.2L802.4,971.2L806.3,975.5M816.6,939.8L798.1,929.0M805.1,931.1L798.1,929.0L803.3,934.1M816.6,899.0L798.0,880.9M805.7,885.3L798.0,880.9L802.7,888.4M816.6,858.2L796.8,839.6M804.9,844.1L796.8,839.6L801.8,847.4M816.6,817.4L799.8,802.0M806.6,805.7L799.8,802.0L804.1,808.5M816.6,776.6L802.8,762.5M808.5,766.0L802.8,762.5L806.2,768.3M816.6,735.8L803.4,724.7M808.7,727.2L803.4,724.7L806.9,729.4M816.6,695.0L806.3,681.6M810.8,685.2L806.3,681.6L808.6,686.9M816.6,654.2L807.7,640.0M811.8,644.0L807.7,640.0L809.4,645.4M816.6,613.4L808.2,600.4M812.0,604.0L808.2,600.4L809.9,605.4M816.6,572.6L810.8,559.8M813.8,563.6L810.8,559.8L811.7,564.5M816.6,531.8L811.5,519.1M814.2,522.9L811.5,519.1L812.1,523.7M816.6,491.0L813.0,478.0M815.2,482.0L813.0,478.0L813.1,482.6M816.6,450.2L813.7,437.0M815.7,441.1L813.7,437.0L813.6,441.6M816.6,409.4L814.2,396.3M816.1,400.4L814.2,396.3L813.9,400.8M816.6,368.6L814.8,355.6M816.5,359.7L814.8,355.6L814.3,360.0M816.6,327.8L815.8,315.1M817.1,319.3L815.8,315.1L815.0,319.4M816.6,287.0L817.1,274.2M818.0,278.5L817.1,274.2L815.9,278.4M816.6,246.2L818.7,233.9M819.0,238.1L818.7,233.9L817.0,237.8M816.6,205.4L820.2,193.4M820.0,197.7L820.2,193.4L818.0,197.1M816.6,164.6L821.9,151.5M821.3,156.3L821.9,151.5L819.1,155.4M816.6,123.8L822.9,111.0M821.9,115.8L822.9,111.0L819.8,114.7M816.6,83.0L824.3,69.2M822.9,74.4L824.3,69.2L820.6,73.1M816.6,42.2L825.9,29.8M823.8,34.7L825.9,29.8L821.8,33.2M816.6,1.4L823.5,-6.0M821.8,-3.0L823.5,-6.0L820.6,-4.2M857.4,939.8L853.1,932.0M855.2,934.2L853.1,932.0L853.9,934.9M857.4,899.0L847.6,885.1M852.0,888.9L847.6,885.1L849.7,890.5M857.4,858.2L844.6,840.8M850.3,845.5L844.6,840.8L847.4,847.6M857.4,817.4L845.6,799.8M850.9,804.6L845.6,799.8L848.0,806.6M857.4,776.6L850.9,760.1M854.4,765.0L850.9,760.1L851.7,766.1M857.4,735.8L849.9,721.6M853.6,725.6L849.9,721.6L851.2,726.9M857.4,695.0L851.3,681.3M854.5,685.3L851.3,681.3L852.2,686.3M857.4,654.2L852.3,639.9M855.2,644.2L852.3,639.9L852.8,645.0M857.4,613.4L853.0,598.9M855.7,603.4L853.0,598.9L853.3,604.1M857.4,572.6L855.0,558.9M857.0,563.2L855.0,558.9L854.7,563.6M857.4,531.8L855.7,518.0M857.4,522.4L855.7,518.0L855.1,522.7M857.4,491.0L856.4,476.9M857.9,481.5L856.4,476.9L855.6,481.6M857.4,450.2L857.2,436.0M858.4,440.7L857.2,436.0L856.1,440.7M857.4,409.4L858.0,395.3M859.0,400.0L858.0,395.3L856.7,399.9M857.4,368.6L858.8,354.6M859.5,359.4L858.8,354.6L857.2,359.1M857.4,327.8L859.3,314.2M859.8,318.8L859.3,314.2L857.6,318.5M857.4,287.0L860.1,273.3M860.3,278.0L860.1,273.3L858.1,277.6M857.4,246.2L861.0,232.6M860.9,237.4L861.0,232.6L858.7,236.8M857.4,205.4L862.0,191.5M861.7,196.5L862.0,191.5L859.4,195.7M857.4,164.6L863.3,150.8M862.5,155.8L863.3,150.8L860.3,154.9M857.4,123.8L864.9,109.6M863.6,114.9L864.9,109.6L861.3,113.6M857.4,83.0L865.7,68.7M864.1,74.1L865.7,68.7L861.8,72.8M857.4,42.2L866.1,28.3M864.4,33.6L866.1,28.3L862.1,32.2M857.4,1.4L866.3,-12.1M864.5,-6.9L866.3,-12.1L862.2,-8.4M898.3,939.8L898.0,939.1M898.2,939.3L898.0,939.1L898.0,939.4M898.3,899.0L893.0,885.7M895.9,889.7L893.0,885.7L893.7,890.5M898.3,858.2L893.5,842.5M896.4,847.2L893.5,842.5L893.8,848.0M898.3,817.4L893.2,798.6M896.5,804.4L893.2,798.6L893.3,805.2M898.3,776.6L893.7,760.4M896.5,765.4L893.7,760.4L893.9,766.1M898.3,735.8L894.6,720.2M897.1,725.0L894.6,720.2L894.5,725.6M898.3,695.0L895.8,680.2M897.8,684.9L895.8,680.2L895.4,685.3M898.3,654.2L896.6,639.2M898.4,644.0L896.6,639.2L896.0,644.3M898.3,613.4L897.1,598.2M898.8,603.1L897.1,598.2L896.3,603.3M898.3,572.6L897.7,558.0M899.1,562.7L897.7,558.0L896.7,562.8M898.3,531.8L898.3,517.3M899.5,522.1L898.3,517.3L897.1,522.1M898.3,491.0L899.1,476.0M900.1,481.0L899.1,476.0L897.6,480.9M898.3,450.2L900.0,435.3M900.6,440.3L900.0,435.3L898.2,440.1M898.3,409.4L900.7,394.7M901.1,399.7L900.7,394.7L898.7,399.3M898.3,368.6L901.4,354.1M901.6,359.2L901.4,354.1L899.2,358.6M898.3,327.8L902.0,313.6M902.0,318.6L902.0,313.6L899.6,318.0M898.3,287.0L901.8,272.2M901.9,277.4L901.8,272.2L899.4,276.8M898.3,246.2L902.7,231.7M902.4,236.8L902.7,231.7L900.0,236.1M898.3,205.4L903.7,190.5M903.1,195.9L903.7,190.5L900.7,195.0M898.3,164.6L904.4,149.9M903.6,155.3L904.4,149.9L901.2,154.3M898.3,123.8L905.4,108.7M904.3,114.2L905.4,108.7L901.8,113.1M898.3,83.0L906.5,68.2M905.0,73.7L906.5,68.2L902.6,72.4M898.3,42.2L907.1,27.6M905.4,33.2L907.1,27.6L903.0,31.7M898.3,1.4L902.0,-4.5M901.2,-2.3L902.0,-4.5L900.3,-2.9M939.1,899.0L938.0,888.0M939.3,891.5L938.0,888.0L937.5,891.7M939.1,858.2L938.1,842.1M939.7,847.3L938.1,842.1L937.1,847.5M939.1,817.4L938.1,799.6M939.9,805.4L938.1,799.6L937.0,805.6M939.1,776.6L938.4,760.0M940.0,765.4L938.4,760.0L937.2,765.5M939.1,735.8L938.6,719.8M940.1,725.0L938.6,719.8L937.5,725.1M939.1,695.0L939.0,679.4M940.3,684.6L939.0,679.4L937.7,684.6M939.1,654.2L939.4,638.6M940.6,643.8L939.4,638.6L938.0,643.7M939.1,613.4L939.8,597.7M940.9,602.9L939.8,597.7L938.3,602.8M939.1,572.6L940.4,557.3M941.2,562.4L940.4,557.3L938.7,562.3M939.1,531.8L940.9,516.7M941.6,521.8L940.9,516.7L939.1,521.5M939.1,491.0L941.5,475.3M942.0,480.7L941.5,475.3L939.4,480.3M939.1,450.2L942.0,434.7M942.3,440.0L942.0,434.7L939.8,439.6M939.1,409.4L942.5,394.1M942.7,399.4L942.5,394.1L940.2,398.9M939.1,368.6L943.0,353.5M943.0,358.8L943.0,353.5L940.5,358.2M939.1,327.8L943.2,312.9M943.1,318.1L943.2,312.9L940.6,317.5M939.1,287.0L944.0,271.5M943.7,277.0L944.0,271.5L941.2,276.2M939.1,246.2L944.6,230.9M944.0,236.4L944.6,230.9L941.5,235.5M939.1,205.4L945.2,190.0M944.4,195.6L945.2,190.0L941.9,194.6M939.1,164.6L945.8,149.2M944.9,154.9L945.8,149.2L942.3,153.8M939.1,123.8L946.4,108.5M945.3,114.2L946.4,108.5L942.8,113.0M939.1,83.0L947.4,67.3M946.0,73.2L947.4,67.3L943.4,71.8M939.1,42.2L947.8,26.8M946.2,32.6L947.8,26.8L943.7,31.2M939.1,1.4L946.5,-11.1M945.1,-6.4L946.5,-11.1L943.0,-7.6M980.0,899.0L981.2,887.1M981.8,891.1L981.2,887.1L979.8,890.9M980.0,858.2L981.7,841.6M982.5,847.2L981.7,841.6L979.8,846.9M980.0,817.4L981.7,800.4M982.5,806.1L981.7,800.4L979.7,805.9M980.0,776.6L982.0,760.2M982.7,765.8L982.0,760.2L980.0,765.5M980.0,735.8L982.2,719.8M982.8,725.3L982.2,719.8L980.2,724.9M980.0,695.0L982.0,679.0M982.7,684.4L982.0,679.0L980.0,684.1M980.0,654.2L981.9,638.1M982.6,643.6L981.9,638.1L979.9,643.3M980.0,613.4L982.4,597.4M982.9,602.9L982.4,597.4L980.3,602.5M980.0,572.6L982.9,556.9M983.2,562.3L982.9,556.9L980.6,561.9M980.0,531.8L983.4,516.2M983.5,521.6L983.4,516.2L981.0,521.1M980.0,491.0L984.0,474.9M984.0,480.5L984.0,474.9L981.4,479.9M980.0,450.2L983.5,434.1M983.7,439.7L983.5,434.1L981.1,439.2M980.0,409.4L984.1,393.7M984.1,399.2L984.1,393.7L981.5,398.5M980.0,368.6L984.7,353.1M984.4,358.6L984.7,353.1L981.9,357.8M980.0,327.8L985.0,312.2M984.6,317.8L985.0,312.2L982.0,317.0M980.0,287.0L985.6,271.0M985.1,276.7L985.6,271.0L982.5,275.8M980.0,246.2L986.2,230.4M985.5,236.1L986.2,230.4L982.9,235.1M980.0,205.4L986.3,189.7M985.6,195.4L986.3,189.7L983.0,194.3M980.0,164.6L986.8,148.9M985.9,154.7L986.8,148.9L983.3,153.5M980.0,123.8L987.4,107.9M986.3,113.8L987.4,107.9L983.6,112.5M980.0,83.0L988.5,67.0M987.0,73.0L988.5,67.0L984.4,71.6M980.0,42.2L988.9,26.3M987.3,32.3L988.9,26.3L984.6,30.8M980.0,1.4L987.4,-11.3M986.0,-6.5L987.4,-11.3L983.9,-7.7M1020.9,899.0L1023.8,884.6M1024.0,889.6L1023.8,884.6L1021.7,889.1M1020.9,858.2L1023.9,841.5M1024.3,847.2L1023.9,841.5L1021.5,846.7M1020.9,817.4L1024.0,800.8M1024.3,806.6L1024.0,800.8L1021.6,806.0M1020.9,776.6L1024.3,760.4M1024.5,766.0L1024.3,760.4L1021.8,765.4M1020.9,735.8L1024.5,719.7M1024.6,725.3L1024.5,719.7L1022.0,724.7M1020.9,695.0L1024.5,678.7M1024.7,684.4L1024.5,678.7L1022.0,683.8M1020.9,654.2L1024.7,637.9M1024.8,643.6L1024.7,637.9L1022.1,642.9M1020.9,613.4L1024.9,597.2M1024.9,602.9L1024.9,597.2L1022.2,602.2M1020.9,572.6L1025.1,556.6M1025.0,562.2L1025.1,556.6L1022.4,561.5M1020.9,531.8L1025.6,515.7M1025.3,521.4L1025.6,515.7L1022.7,520.6M1020.9,491.0L1025.7,474.4M1025.4,480.3L1025.7,474.4L1022.7,479.5M1020.9,450.2L1025.8,433.9M1025.5,439.7L1025.8,433.9L1022.8,438.9M1020.9,409.4L1026.2,393.4M1025.8,399.1L1026.2,393.4L1023.1,398.2M1020.9,368.6L1026.7,352.8M1026.1,358.5L1026.7,352.8L1023.5,357.5M1020.9,327.8L1026.9,311.5M1026.3,317.4L1026.9,311.5L1023.6,316.4M1020.9,287.0L1027.2,270.5M1026.5,276.5L1027.2,270.5L1023.8,275.4M1020.9,246.2L1027.7,229.9M1026.8,235.9L1027.7,229.9L1024.1,234.7M1020.9,205.4L1028.1,189.4M1027.0,195.3L1028.1,189.4L1024.4,194.1M1020.9,164.6L1028.6,148.9M1027.3,154.7L1028.6,148.9L1024.7,153.5M1020.9,123.8L1028.8,107.2M1027.5,113.3L1028.8,107.2L1024.8,112.0M1020.9,83.0L1029.1,66.5M1027.8,72.6L1029.1,66.5L1025.0,71.3M1020.9,42.2L1029.3,26.0M1027.9,32.1L1029.3,26.0L1025.2,30.7M1020.9,1.4L1022.9,-2.2M1022.5,-0.8L1022.9,-2.2L1021.9,-1.2M1061.7,939.8L1061.9,939.0M1061.9,939.3L1061.9,939.0L1061.8,939.3M1061.7,899.0L1067.1,879.7M1066.9,886.5L1067.1,879.7L1063.7,885.6M1061.7,858.2L1064.6,846.7M1064.6,850.7L1064.6,846.7L1062.7,850.3M1061.7,817.4L1066.3,797.9M1066.4,804.7L1066.3,797.9L1063.2,804.0M1061.7,776.6L1067.2,758.6M1066.8,765.0L1067.2,758.6L1063.9,764.1M1061.7,735.8L1065.3,724.1M1065.1,728.2L1065.3,724.1L1063.2,727.6M1061.7,695.0L1068.2,673.7M1067.8,681.2L1068.2,673.7L1064.3,680.2M1061.7,654.2L1066.2,638.5M1066.0,644.1L1066.2,638.5L1063.4,643.3M1061.7,613.4L1066.0,600.3M1065.7,605.0L1066.0,600.3L1063.5,604.3M1061.7,572.6L1068.3,550.8M1067.9,558.5L1068.3,550.8L1064.3,557.5M1061.7,531.8L1066.0,518.8M1065.6,523.5L1066.0,518.8L1063.5,522.8M1061.7,491.0L1067.6,475.6M1066.9,481.2L1067.6,475.6L1064.4,480.2M1061.7,450.2L1069.9,429.2M1068.9,436.8L1069.9,429.2L1065.5,435.4M1061.7,409.4L1066.0,398.3M1065.5,402.3L1066.0,398.3L1063.7,401.6M1061.7,368.6L1068.7,351.7M1067.8,357.8L1068.7,351.7L1065.0,356.7M1061.7,327.8L1069.8,309.2M1068.7,316.0L1069.8,309.2L1065.6,314.7M1061.7,287.0L1066.7,275.6M1066.0,279.8L1066.7,275.6L1064.1,279.0M1061.7,246.2L1070.1,227.0M1068.9,234.0L1070.1,227.0L1065.7,232.7M1061.7,205.4L1069.1,189.6M1068.0,195.5L1069.1,189.6L1065.4,194.2M1061.7,164.6L1067.6,152.9M1066.6,157.2L1067.6,152.9L1064.7,156.3M1061.7,123.8L1072.8,103.6M1070.8,111.2L1072.8,103.6L1067.5,109.3M1061.7,83.0L1068.4,70.0M1067.3,74.8L1068.4,70.0L1065.1,73.7M1061.7,42.2L1068.1,30.3M1066.9,34.8L1068.1,30.3L1065.0,33.7" fill="none" stroke="#5555ff" stroke-width="1.2"/>
<path d="M489.3,1.3C498.2,4.4 506.9,8.1 516.0,10.5C524.9,12.9 534.1,14.6 543.3,15.7C552.4,16.8 561.7,17.3 570.9,17.2C580.1,17.1 589.4,16.4 598.6,15.2C607.8,13.9 616.9,12.1 625.9,9.8C635.0,7.5 643.8,4.1 652.7,1.3 M409.0,4.0C415.6,9.5 422.1,15.0 428.9,20.4C435.8,25.9 443.0,31.3 450.3,36.5C457.6,41.7 465.2,46.9 472.9,51.6C480.6,56.2 488.4,60.7 496.5,64.6C504.4,68.5 512.6,72.1 520.8,74.9C529.0,77.7 537.3,80.1 545.7,81.5C553.9,82.9 562.4,83.7 570.8,83.6C579.1,83.5 587.6,82.3 595.8,80.7C604.2,79.0 612.5,76.3 620.7,73.3C629.0,70.3 637.1,66.6 645.1,62.6C653.1,58.5 661.0,53.9 668.7,49.2C676.4,44.5 684.0,39.3 691.4,34.2C698.7,29.0 705.9,23.7 712.9,18.4C719.8,13.2 726.3,7.9 733.0,2.7 M369.9,-0.0C375.9,6.3 381.7,12.8 387.8,18.8C393.9,24.8 400.1,30.3 406.4,35.9C412.6,41.5 419.0,46.8 425.2,52.3C431.5,57.8 437.8,63.1 444.0,68.8C450.2,74.6 456.3,80.4 462.2,86.6C468.3,92.8 474.0,99.5 479.8,106.0C485.7,112.6 491.4,119.5 497.4,125.9C503.4,132.2 509.3,138.6 515.8,144.1C522.2,149.6 528.8,154.9 535.9,159.0C543.0,163.0 550.7,166.9 558.5,168.5C566.3,170.0 574.9,170.2 582.6,168.6C590.4,167.0 598.1,162.9 605.2,158.7C612.3,154.4 618.8,148.6 625.2,142.9C631.6,137.1 637.5,130.5 643.6,124.1C649.7,117.8 655.5,111.1 661.6,104.9C667.7,98.7 673.8,92.8 680.0,86.9C686.1,81.1 692.4,75.5 698.6,69.9C704.8,64.3 711.1,58.8 717.3,53.3C723.5,47.7 729.8,42.1 735.9,36.4C742.1,30.7 748.2,24.9 754.3,18.9C760.3,12.8 766.2,6.3 772.2,-0.0 M325.7,-0.0C331.7,6.2 337.9,12.3 343.7,18.6C349.4,24.7 355.0,30.9 360.5,37.2C365.9,43.4 371.1,49.7 376.3,56.2C381.4,62.7 386.4,69.2 391.3,75.9C396.2,82.7 401.0,89.6 405.8,96.6C410.6,103.8 415.3,111.2 419.8,118.6C424.4,126.2 428.9,133.9 432.9,141.8C436.8,149.6 440.7,157.6 443.8,165.7C446.8,173.7 449.6,181.8 451.5,190.0C453.3,198.0 454.5,206.1 455.0,214.2C455.5,222.3 455.3,230.4 454.6,238.4C453.8,246.4 452.4,254.4 450.7,262.4C448.9,270.4 446.6,278.4 444.0,286.2C441.4,294.2 438.3,302.1 435.1,309.9C431.9,317.8 428.3,325.6 424.6,333.3C420.9,341.1 417.0,348.9 413.1,356.6C409.2,364.3 405.2,371.9 401.2,379.6C397.2,387.2 393.3,394.7 389.3,402.3C385.4,409.9 381.4,417.4 377.5,424.9C373.6,432.4 369.8,439.9 365.9,447.4C362.1,454.9 358.3,462.4 354.6,469.9C350.9,477.4 347.2,484.9 343.6,492.5C340.0,500.0 336.4,507.5 333.0,515.1C329.5,522.7 326.1,530.3 322.8,538.0C319.5,545.7 316.3,553.4 313.2,561.1C310.1,568.9 307.1,576.7 304.2,584.6C301.2,592.5 298.5,600.5 295.7,608.4C293.0,616.5 290.4,624.5 287.9,632.6C285.3,640.7 282.8,648.8 280.4,657.0C278.0,665.2 275.6,673.4 273.3,681.6C271.0,689.8 268.7,698.0 266.5,706.3C264.2,714.5 262.0,722.7 259.8,731.0C257.6,739.2 255.4,747.5 253.2,755.7C251.0,763.9 248.7,772.1 246.5,780.3C244.3,788.5 242.0,796.7 239.8,804.9C237.6,813.0 235.4,821.1 233.2,829.3C231.0,837.4 228.8,845.6 226.7,853.7C224.5,861.8 222.4,870.0 220.4,878.1C218.3,886.3 216.3,894.4 214.4,902.6C212.5,910.7 210.7,918.9 208.9,927.1C207.2,935.3 205.5,943.5 203.9,951.8C202.3,960.0 200.9,968.3 199.5,976.6C198.2,984.9 196.9,993.2 195.8,1001.5C194.7,1009.9 193.8,1018.3 193.0,1026.7C192.1,1035.2 191.5,1043.7 191.0,1052.2C190.5,1060.8 190.3,1069.4 190.0,1078.0 M245.4,0.0C249.6,7.0 253.8,13.9 258.1,20.9C262.4,27.9 266.8,34.9 271.1,42.0C275.5,49.2 279.9,56.3 284.2,63.5C288.6,70.8 292.9,78.1 297.1,85.4C301.4,92.8 305.5,100.2 309.6,107.6C313.6,115.1 317.6,122.6 321.4,130.2C325.1,137.8 328.8,145.4 332.2,153.1C335.6,160.8 338.8,168.6 341.8,176.4C344.8,184.3 347.5,192.2 350.0,200.1C352.4,208.1 354.6,216.1 356.4,224.2C358.3,232.3 359.8,240.5 361.0,248.6C362.2,256.8 363.1,265.1 363.7,273.4C364.3,281.6 364.5,289.9 364.5,298.2C364.5,306.5 364.2,314.8 363.6,323.1C363.0,331.4 362.1,339.7 361.0,347.9C359.8,356.2 358.3,364.4 356.7,372.5C355.0,380.7 353.0,388.8 350.9,396.9C348.9,405.0 346.6,413.1 344.4,421.1C342.1,429.2 339.8,437.2 337.5,445.2C335.2,453.3 332.9,461.3 330.5,469.3C328.1,477.3 325.8,485.3 323.3,493.3C320.9,501.3 318.5,509.3 316.1,517.2C313.6,525.2 311.2,533.2 308.7,541.2C306.3,549.2 303.8,557.1 301.4,565.1C298.9,573.1 296.4,581.1 294.0,589.0C291.5,597.0 289.1,605.0 286.6,613.0C284.2,621.0 281.8,628.9 279.3,636.9C276.9,644.9 274.5,652.9 272.2,660.9C269.8,668.9 267.4,676.9 265.1,685.0C262.8,693.0 260.5,701.0 258.2,709.1C256.0,717.1 253.7,725.2 251.5,733.2C249.3,741.3 247.2,749.4 245.1,757.5C243.0,765.6 240.9,773.7 238.9,781.8C236.8,789.9 234.8,798.1 232.9,806.2C231.0,814.4 229.1,822.5 227.2,830.7C225.4,838.8 223.6,847.0 221.9,855.2C220.1,863.4 218.4,871.6 216.8,879.8C215.2,888.0 213.6,896.2 212.1,904.4C210.6,912.6 209.1,920.8 207.7,929.1C206.3,937.3 205.0,945.6 203.7,953.8C202.5,962.1 201.3,970.3 200.1,978.6C199.0,986.8 197.9,995.1 196.9,1003.4C195.9,1011.7 195.0,1019.9 194.2,1028.2C193.3,1036.5 192.5,1044.8 191.8,1053.1C191.2,1061.4 190.6,1069.7 190.0,1078.0 M163.7,0.0C167.7,7.3 171.8,14.6 175.8,22.0C179.9,29.3 183.9,36.7 188.0,44.1C192.0,51.5 196.1,59.0 200.1,66.5C204.1,74.0 208.1,81.5 212.1,89.0C216.0,96.6 219.9,104.2 223.7,111.8C227.5,119.5 231.2,127.1 234.8,134.8C238.5,142.5 242.0,150.3 245.4,158.1C248.8,165.9 252.1,173.7 255.3,181.6C258.4,189.5 261.4,197.4 264.3,205.3C267.1,213.3 269.8,221.3 272.3,229.3C274.8,237.4 277.1,245.5 279.3,253.6C281.4,261.7 283.3,269.9 285.1,278.1C286.9,286.3 288.5,294.5 289.9,302.8C291.3,311.1 292.5,319.3 293.6,327.7C294.7,336.0 295.6,344.3 296.3,352.7C297.0,361.0 297.6,369.4 297.9,377.8C298.3,386.2 298.5,394.6 298.6,403.0C298.7,411.4 298.5,419.8 298.3,428.2C298.0,436.6 297.6,445.0 297.0,453.5C296.4,461.9 295.7,470.3 294.8,478.7C294.0,487.1 293.0,495.5 291.9,503.9C290.8,512.3 289.6,520.8 288.3,529.1C287.1,537.5 285.7,545.9 284.2,554.3C282.8,562.7 281.3,571.1 279.7,579.4C278.1,587.8 276.5,596.1 274.9,604.5C273.2,612.8 271.5,621.1 269.8,629.4C268.1,637.7 266.3,646.0 264.6,654.3C262.8,662.6 261.0,670.9 259.2,679.2C257.4,687.5 255.6,695.7 253.7,704.0C251.9,712.2 250.0,720.5 248.2,728.7C246.3,737.0 244.4,745.2 242.6,753.5C240.7,761.7 238.8,769.9 237.0,778.2C235.1,786.4 233.3,794.7 231.4,802.9C229.6,811.1 227.8,819.4 226.0,827.6C224.3,835.8 222.5,844.1 220.8,852.3C219.1,860.6 217.4,868.8 215.8,877.1C214.1,885.4 212.5,893.6 211.0,901.9C209.5,910.2 208.0,918.5 206.6,926.8C205.2,935.1 203.8,943.4 202.6,951.7C201.3,960.1 200.1,968.4 199.0,976.8C197.8,985.1 196.8,993.5 195.9,1001.9C194.9,1010.3 194.0,1018.7 193.3,1027.1C192.5,1035.6 191.9,1044.0 191.3,1052.5C190.8,1061.0 190.4,1069.5 190.0,1078.0 M83.3,2.7C87.1,10.1 90.9,17.5 94.7,24.9C98.5,32.4 102.3,39.8 106.0,47.3C109.8,54.8 113.6,62.3 117.3,69.8C121.1,77.3 124.8,84.9 128.5,92.5C132.2,100.1 135.9,107.7 139.5,115.3C143.2,123.0 146.8,130.6 150.4,138.3C153.9,146.0 157.4,153.7 160.9,161.4C164.3,169.2 167.8,176.9 171.1,184.7C174.4,192.5 177.7,200.3 180.9,208.2C184.1,216.0 187.3,223.8 190.3,231.7C193.4,239.6 196.4,247.5 199.2,255.5C202.1,263.4 204.9,271.3 207.6,279.3C210.3,287.3 212.9,295.3 215.4,303.3C217.9,311.4 220.2,319.4 222.5,327.5C224.8,335.6 226.9,343.7 228.9,351.8C230.9,359.9 232.8,368.1 234.6,376.2C236.4,384.4 238.0,392.6 239.5,400.8C240.9,409.0 242.3,417.3 243.5,425.5C244.6,433.8 245.7,442.1 246.5,450.4C247.4,458.7 248.1,467.0 248.7,475.3C249.2,483.7 249.6,492.1 249.8,500.4C250.0,508.8 250.1,517.2 250.0,525.6C250.0,534.1 249.8,542.5 249.5,550.9C249.2,559.4 248.8,567.8 248.3,576.2C247.8,584.7 247.2,593.1 246.5,601.6C245.8,610.0 245.1,618.5 244.2,626.9C243.4,635.4 242.5,643.8 241.6,652.2C240.7,660.6 239.7,669.0 238.7,677.5C237.7,685.8 236.7,694.2 235.6,702.6C234.5,711.0 233.4,719.4 232.3,727.7C231.2,736.1 230.1,744.4 228.9,752.8C227.8,761.1 226.6,769.4 225.4,777.7C224.2,786.1 223.0,794.4 221.8,802.7C220.6,811.0 219.4,819.3 218.1,827.6C216.9,835.9 215.7,844.2 214.5,852.5C213.3,860.8 212.0,869.1 210.8,877.4C209.6,885.7 208.4,894.0 207.2,902.3C206.0,910.6 204.8,918.9 203.7,927.2C202.6,935.6 201.5,943.9 200.4,952.2C199.4,960.5 198.4,968.9 197.4,977.2C196.5,985.5 195.6,993.9 194.8,1002.3C194.0,1010.6 193.3,1019.0 192.6,1027.4C192.0,1035.8 191.4,1044.2 191.0,1052.6C190.6,1061.1 190.3,1069.5 190.0,1078.0 M82.0,160.7C85.6,168.3 89.2,176.0 92.7,183.6C96.2,191.3 99.7,199.0 103.2,206.7C106.6,214.5 110.1,222.2 113.4,230.0C116.8,237.8 120.1,245.6 123.3,253.5C126.6,261.3 129.7,269.2 132.9,277.1C136.0,285.0 139.0,292.9 142.0,300.9C145.0,308.8 147.9,316.8 150.8,324.8C153.6,332.8 156.3,340.9 159.0,348.9C161.7,357.0 164.3,365.0 166.8,373.1C169.3,381.2 171.7,389.4 174.0,397.5C176.3,405.6 178.5,413.8 180.6,422.0C182.7,430.1 184.7,438.3 186.6,446.6C188.4,454.8 190.2,463.0 191.9,471.3C193.5,479.5 195.1,487.8 196.5,496.1C197.9,504.4 199.2,512.7 200.3,521.0C201.5,529.3 202.5,537.6 203.4,546.0C204.3,554.3 205.1,562.7 205.8,571.0C206.5,579.4 207.1,587.8 207.6,596.2C208.0,604.6 208.4,613.0 208.7,621.4C209.0,629.8 209.2,638.2 209.3,646.7C209.4,655.1 209.4,663.5 209.4,672.0C209.4,680.4 209.2,688.9 209.1,697.3C208.9,705.8 208.6,714.3 208.4,722.7C208.1,731.2 207.7,739.7 207.3,748.2C206.9,756.6 206.5,765.1 206.0,773.6C205.6,782.1 205.1,790.6 204.5,799.1C204.0,807.6 203.5,816.1 202.9,824.5C202.3,833.0 201.7,841.5 201.1,850.0C200.5,858.5 199.9,867.0 199.3,875.5C198.7,884.0 198.1,892.4 197.5,900.9C197.0,909.4 196.4,917.9 195.8,926.4C195.3,934.8 194.7,943.3 194.2,951.7C193.7,960.2 193.2,968.6 192.8,977.1C192.4,985.5 192.0,994.0 191.6,1002.4C191.3,1010.8 190.9,1019.3 190.7,1027.7C190.5,1036.1 190.3,1044.5 190.1,1052.9C190.0,1061.2 190.0,1069.6 190.0,1078.0 M82.9,330.6C86.1,338.4 89.3,346.2 92.4,354.0C95.6,361.9 98.6,369.8 101.6,377.7C104.7,385.6 107.6,393.5 110.5,401.5C113.4,409.5 116.2,417.5 119.0,425.5C121.7,433.5 124.4,441.6 127.0,449.6C129.5,457.7 132.1,465.8 134.5,473.9C136.9,482.1 139.3,490.2 141.5,498.4C143.7,506.6 145.9,514.8 147.9,523.0C150.0,531.2 151.9,539.4 153.8,547.7C155.6,555.9 157.4,564.2 159.0,572.5C160.6,580.8 162.1,589.1 163.5,597.4C164.9,605.7 166.2,614.1 167.4,622.4C168.5,630.8 169.6,639.1 170.5,647.5C171.5,655.9 172.3,664.3 173.1,672.7C173.9,681.1 174.6,689.5 175.2,697.9C175.8,706.3 176.3,714.7 176.8,723.2C177.3,731.6 177.7,740.0 178.0,748.5C178.4,756.9 178.7,765.4 178.9,773.8C179.2,782.3 179.4,790.8 179.6,799.2C179.8,807.7 179.9,816.2 180.0,824.6C180.2,833.1 180.3,841.6 180.4,850.0C180.5,858.5 180.6,867.0 180.7,875.5C180.8,883.9 181.0,892.4 181.1,900.9C181.2,909.4 181.4,917.8 181.5,926.3C181.7,934.8 181.9,943.2 182.1,951.7C182.4,960.1 182.6,968.6 183.0,977.0C183.3,985.5 183.7,993.9 184.1,1002.4C184.5,1010.8 185.0,1019.2 185.6,1027.6C186.2,1036.0 186.8,1044.5 187.5,1052.8C188.3,1061.2 189.2,1069.6 190.0,1078.0 M82.0,489.5C84.8,497.5 87.7,505.5 90.5,513.5C93.3,521.6 96.0,529.6 98.7,537.7C101.3,545.8 103.9,553.9 106.4,562.0C108.9,570.1 111.3,578.3 113.6,586.4C116.0,594.6 118.3,602.8 120.4,610.9C122.6,619.1 124.7,627.4 126.7,635.6C128.7,643.8 130.6,652.1 132.5,660.4C134.3,668.6 136.0,676.9 137.6,685.2C139.2,693.5 140.7,701.9 142.2,710.2C143.6,718.5 144.9,726.9 146.1,735.3C147.3,743.6 148.4,752.0 149.4,760.4C150.4,768.8 151.3,777.3 152.2,785.7C153.0,794.1 153.7,802.5 154.4,811.0C155.1,819.4 155.7,827.9 156.2,836.4C156.7,844.8 157.2,853.3 157.6,861.8C158.0,870.2 158.3,878.7 158.6,887.2C158.9,895.7 159.1,904.2 159.3,912.7C159.5,921.2 159.7,929.7 159.8,938.2C159.9,946.7 160.0,955.2 160.0,963.6C160.1,972.1 160.1,980.6 160.1,989.1C160.1,997.6 160.1,1006.1 160.1,1014.6C160.1,1023.1 160.0,1031.5 160.0,1040.0 M82.0,654.2C84.3,662.6 86.7,670.9 88.9,679.3C91.1,687.7 93.3,696.1 95.3,704.5C97.4,712.9 99.4,721.4 101.3,729.9C103.3,738.3 105.1,746.8 106.9,755.3C108.7,763.9 110.4,772.4 112.0,780.9C113.7,789.5 115.2,798.0 116.7,806.6C118.2,815.2 119.7,823.7 121.0,832.3C122.4,840.9 123.7,849.5 124.9,858.2C126.1,866.8 127.3,875.4 128.4,884.0C129.5,892.7 130.5,901.3 131.5,910.0C132.4,918.6 133.3,927.3 134.1,936.0C135.0,944.6 135.7,953.3 136.4,962.0C137.1,970.6 137.8,979.3 138.3,988.0C138.9,996.6 139.4,1005.3 139.9,1014.0C140.3,1022.7 140.6,1031.3 141.0,1040.0 M82.0,816.6C83.5,825.8 84.8,835.0 86.4,844.2C87.9,853.4 89.7,862.6 91.4,871.8C93.1,881.0 95.0,890.1 96.7,899.3C98.5,908.5 100.3,917.6 101.9,926.8C103.6,936.0 105.2,945.2 106.7,954.4C108.1,963.6 109.4,972.9 110.5,982.1C111.5,991.4 112.2,1000.7 113.0,1010.0 M190.0,1078.0C190.8,1069.6 191.5,1061.2 192.4,1052.8C193.3,1044.4 194.2,1036.0 195.2,1027.6C196.3,1019.3 197.4,1010.9 198.6,1002.6C199.7,994.2 201.0,985.9 202.3,977.6C203.6,969.3 205.0,961.0 206.5,952.7C207.9,944.4 209.5,936.1 211.1,927.9C212.7,919.6 214.3,911.4 216.1,903.1C217.8,894.9 219.6,886.7 221.4,878.5C223.3,870.2 225.2,862.0 227.2,853.9C229.2,845.7 231.2,837.5 233.3,829.4C235.4,821.2 237.6,813.1 239.8,804.9C242.0,796.8 244.2,788.7 246.6,780.6C248.9,772.5 251.3,764.4 253.7,756.3C256.1,748.3 258.6,740.2 261.2,732.2C263.7,724.1 266.3,716.1 268.9,708.1C271.5,700.1 274.2,692.1 276.9,684.1C279.7,676.1 282.4,668.1 285.3,660.2C288.1,652.2 290.9,644.2 293.8,636.3C296.7,628.4 299.7,620.5 302.7,612.6C305.7,604.7 308.7,596.8 311.8,588.9C314.8,581.0 318.0,573.2 321.2,565.4C324.4,557.6 327.6,549.8 331.0,542.1C334.3,534.3 337.8,526.6 341.3,519.0C344.8,511.3 348.4,503.7 352.1,496.2C355.8,488.6 359.6,481.1 363.5,473.7C367.4,466.3 371.4,458.9 375.6,451.6C379.7,444.3 384.0,437.0 388.4,429.9C392.7,422.7 397.2,415.6 401.9,408.6C406.5,401.6 411.2,394.6 416.0,387.7C420.9,380.8 425.8,374.0 430.9,367.3C436.0,360.5 441.1,353.8 446.4,347.2C451.7,340.6 457.0,334.1 462.5,327.6C468.0,321.2 473.5,314.7 479.3,308.5C485.2,302.3 491.1,296.2 497.4,290.4C503.7,284.5 510.2,278.7 517.1,273.6C524.1,268.4 531.3,263.2 538.9,259.2C546.3,255.4 554.0,251.8 561.8,250.3C569.3,248.8 577.2,248.6 584.7,249.9C592.3,251.1 599.8,254.3 606.9,257.8C614.3,261.5 621.3,266.6 628.0,271.8C634.9,277.0 641.4,283.2 647.7,289.2C654.0,295.2 659.9,301.6 665.7,308.0C671.4,314.3 676.9,320.8 682.2,327.3C687.6,333.9 692.7,340.5 697.8,347.2C702.9,353.9 707.9,360.7 712.7,367.5C717.6,374.4 722.4,381.3 727.1,388.3C731.9,395.2 736.5,402.3 741.0,409.4C745.5,416.5 749.9,423.6 754.2,430.8C758.6,438.0 762.8,445.3 766.9,452.6C771.1,460.0 775.1,467.3 779.1,474.8C783.0,482.2 786.9,489.7 790.6,497.2C794.4,504.7 798.0,512.3 801.6,519.9C805.2,527.5 808.6,535.2 812.0,542.8C815.4,550.5 818.8,558.3 822.0,566.0C825.3,573.8 828.4,581.6 831.5,589.4C834.7,597.2 837.7,605.1 840.7,613.0C843.7,620.9 846.6,628.8 849.5,636.7C852.3,644.6 855.1,652.6 857.9,660.5C860.7,668.5 863.4,676.5 866.1,684.5C868.8,692.5 871.5,700.5 874.1,708.5C876.8,716.5 879.4,724.5 881.9,732.5C884.5,740.6 887.1,748.6 889.6,756.6C892.1,764.7 894.6,772.7 897.0,780.8C899.4,788.8 901.8,796.9 904.2,805.0C906.5,813.1 908.8,821.2 911.0,829.3C913.2,837.4 915.4,845.5 917.5,853.6C919.6,861.8 921.7,869.9 923.6,878.1C925.6,886.2 927.5,894.4 929.3,902.6C931.1,910.8 932.8,919.0 934.5,927.3C936.1,935.5 937.7,943.8 939.1,952.0C940.6,960.3 942.0,968.6 943.2,976.9C944.5,985.3 945.7,993.6 946.7,1002.0C947.8,1010.3 948.7,1018.7 949.5,1027.2C950.3,1035.6 951.1,1044.0 951.6,1052.5C952.2,1061.0 952.5,1069.5 953.0,1078.0 M190.0,1078.0C190.5,1069.5 190.8,1061.0 191.4,1052.6C192.1,1044.2 192.9,1035.8 193.8,1027.5C194.8,1019.1 195.9,1010.8 197.2,1002.6C198.4,994.3 199.8,986.1 201.3,977.9C202.8,969.7 204.5,961.5 206.2,953.3C207.9,945.2 209.7,937.1 211.6,929.0C213.5,920.8 215.5,912.8 217.5,904.7C219.5,896.6 221.6,888.5 223.8,880.5C225.9,872.4 228.1,864.3 230.3,856.3C232.5,848.2 234.7,840.1 236.9,832.1C239.2,824.0 241.4,815.9 243.7,807.8C245.9,799.7 248.1,791.6 250.3,783.5C252.5,775.4 254.7,767.2 256.8,759.1C258.9,750.9 261.0,742.7 263.2,734.6C265.3,726.4 267.4,718.2 269.6,710.1C271.7,701.9 273.9,693.8 276.2,685.7C278.5,677.6 280.8,669.5 283.3,661.5C285.8,653.5 288.3,645.5 291.0,637.6C293.7,629.7 296.6,621.9 299.6,614.1C302.6,606.4 305.8,598.7 309.1,591.1C312.4,583.6 316.0,576.1 319.6,568.6C323.3,561.2 327.1,553.8 331.0,546.5C334.9,539.2 339.0,532.0 343.2,524.8C347.4,517.6 351.8,510.4 356.2,503.3C360.6,496.2 365.1,489.2 369.8,482.2C374.4,475.2 379.2,468.2 384.1,461.3C388.9,454.4 393.9,447.6 399.1,441.0C404.3,434.3 409.6,427.8 415.1,421.4C420.6,415.0 426.3,408.8 432.2,402.8C438.1,396.8 444.2,391.0 450.5,385.4C456.8,379.9 463.4,374.5 470.2,369.5C477.0,364.5 484.1,359.7 491.4,355.3C498.7,351.0 506.2,346.9 513.9,343.4C521.5,339.9 529.4,336.8 537.3,334.5C545.2,332.1 553.2,330.3 561.3,329.3C569.2,328.3 577.3,328.1 585.3,328.6C593.3,329.1 601.3,330.5 609.1,332.4C617.0,334.3 624.8,337.0 632.4,340.2C640.1,343.3 647.6,347.2 654.9,351.4C662.3,355.6 669.4,360.3 676.4,365.4C683.3,370.4 690.1,375.9 696.5,381.6C703.0,387.3 709.2,393.4 715.1,399.6C721.0,405.7 726.6,412.1 732.0,418.7C737.3,425.2 742.3,431.9 747.1,438.7C752.0,445.5 756.5,452.5 760.9,459.6C765.4,466.6 769.5,473.8 773.6,481.1C777.7,488.3 781.6,495.7 785.4,503.1C789.2,510.5 792.8,518.0 796.5,525.5C800.1,533.0 803.6,540.6 807.1,548.1C810.7,555.7 814.1,563.3 817.5,570.9C821.0,578.5 824.3,586.2 827.7,593.9C831.0,601.5 834.2,609.2 837.5,617.0C840.7,624.7 843.9,632.4 847.0,640.2C850.1,648.0 853.1,655.7 856.2,663.6C859.2,671.4 862.1,679.2 865.0,687.1C867.9,694.9 870.7,702.8 873.5,710.7C876.3,718.6 879.0,726.5 881.7,734.5C884.3,742.4 886.9,750.4 889.5,758.4C892.0,766.4 894.5,774.4 896.9,782.4C899.3,790.4 901.7,798.4 903.9,806.5C906.2,814.6 908.4,822.6 910.6,830.7C912.7,838.8 914.8,846.9 916.8,855.1C918.8,863.2 920.8,871.3 922.6,879.5C924.5,887.7 926.3,895.8 928.0,904.0C929.8,912.2 931.4,920.4 933.0,928.6C934.6,936.9 936.1,945.1 937.5,953.3C938.9,961.6 940.3,969.9 941.6,978.1C942.8,986.4 944.0,994.7 945.2,1003.0C946.3,1011.3 947.3,1019.6 948.3,1027.9C949.2,1036.2 950.1,1044.6 950.9,1052.9C951.7,1061.3 952.3,1069.6 953.0,1078.0 M190.0,1078.0C191.1,1069.8 192.1,1061.5 193.2,1053.3C194.3,1045.0 195.5,1036.7 196.7,1028.5C197.9,1020.2 199.2,1012.0 200.5,1003.7C201.8,995.4 203.2,987.2 204.6,978.9C206.0,970.6 207.5,962.4 209.1,954.1C210.6,945.9 212.2,937.6 213.8,929.4C215.5,921.1 217.2,912.9 218.9,904.7C220.7,896.5 222.5,888.3 224.4,880.1C226.3,871.9 228.3,863.7 230.3,855.6C232.3,847.4 234.4,839.3 236.6,831.1C238.8,823.0 241.0,814.9 243.3,806.9C245.6,798.8 248.0,790.7 250.4,782.7C252.9,774.7 255.4,766.7 258.0,758.7C260.6,750.8 263.3,742.8 266.0,734.9C268.8,727.1 271.6,719.2 274.5,711.4C277.4,703.5 280.4,695.7 283.5,688.0C286.6,680.2 289.8,672.5 293.0,664.9C296.3,657.2 299.6,649.6 303.0,642.0C306.5,634.4 310.0,626.9 313.6,619.4C317.3,611.9 321.0,604.5 324.9,597.2C328.8,589.8 332.8,582.5 337.1,575.3C341.3,568.1 345.7,561.0 350.3,554.0C354.9,546.9 359.7,540.0 364.7,533.2C369.8,526.3 375.0,519.6 380.5,513.0C385.9,506.4 391.6,500.0 397.5,493.7C403.4,487.5 409.5,481.5 415.8,475.7C422.1,469.9 428.5,464.4 435.2,459.2C441.8,454.0 448.7,449.0 455.7,444.5C462.6,439.9 469.8,435.7 477.1,431.9C484.4,428.1 491.8,424.7 499.5,421.8C507.0,418.8 514.8,416.3 522.6,414.3C530.5,412.4 538.5,410.9 546.5,410.0C554.6,409.1 562.9,408.7 571.0,408.8C579.3,409.0 587.6,409.7 595.9,410.8C604.1,411.9 612.4,413.6 620.6,415.6C628.8,417.7 637.0,420.2 645.0,423.1C653.0,426.0 660.9,429.3 668.5,433.0C676.2,436.7 683.8,440.8 691.0,445.2C698.3,449.6 705.3,454.4 712.1,459.4C718.8,464.5 725.3,469.9 731.5,475.5C737.7,481.1 743.7,487.0 749.4,493.1C755.1,499.1 760.6,505.5 765.9,511.9C771.2,518.4 776.2,525.1 781.1,531.9C786.0,538.6 790.6,545.6 795.1,552.6C799.7,559.6 804.0,566.7 808.2,573.9C812.3,581.2 816.4,588.5 820.2,595.9C824.1,603.3 827.8,610.8 831.5,618.4C835.1,625.9 838.5,633.6 841.9,641.2C845.3,648.9 848.5,656.7 851.7,664.5C854.9,672.2 857.9,680.1 860.9,687.9C863.9,695.8 866.9,703.7 869.7,711.6C872.6,719.5 875.4,727.5 878.1,735.4C880.8,743.3 883.5,751.3 886.1,759.2C888.8,767.2 891.3,775.2 893.8,783.2C896.3,791.2 898.8,799.2 901.1,807.2C903.5,815.2 905.8,823.2 908.1,831.3C910.3,839.3 912.5,847.4 914.6,855.5C916.7,863.6 918.7,871.6 920.7,879.8C922.6,887.9 924.5,896.0 926.4,904.1C928.2,912.3 929.9,920.5 931.6,928.6C933.3,936.8 934.9,945.0 936.4,953.2C937.9,961.4 939.3,969.7 940.7,977.9C942.1,986.2 943.3,994.5 944.5,1002.8C945.7,1011.1 946.8,1019.4 947.9,1027.7C948.9,1036.1 949.8,1044.4 950.7,1052.8C951.6,1061.2 952.2,1069.6 953.0,1078.0 M190.0,1078.0C191.5,1070.1 193.0,1062.4 194.4,1054.5C195.9,1046.5 197.3,1038.5 198.8,1030.5C200.2,1022.5 201.7,1014.4 203.1,1006.2C204.6,998.1 206.0,989.9 207.5,981.7C209.0,973.4 210.5,965.1 212.0,956.8C213.6,948.5 215.2,940.2 216.8,931.9C218.4,923.5 220.1,915.2 221.8,906.9C223.5,898.5 225.3,890.2 227.2,881.8C229.0,873.5 231.0,865.2 233.0,856.9C235.0,848.6 237.1,840.3 239.3,832.0C241.5,823.8 243.8,815.6 246.2,807.4C248.6,799.3 251.0,791.2 253.7,783.1C256.3,775.1 259.0,767.0 261.9,759.1C264.8,751.2 267.8,743.3 271.0,735.6C274.1,727.8 277.4,720.1 280.9,712.5C284.3,704.9 287.9,697.4 291.7,690.0C295.5,682.6 299.4,675.3 303.6,668.2C307.7,661.0 312.0,654.0 316.5,647.0C321.0,640.1 325.7,633.3 330.6,626.7C335.5,620.0 340.6,613.5 345.9,607.2C351.3,600.8 356.8,594.6 362.6,588.6C368.4,582.6 374.4,576.7 380.6,571.0C386.8,565.4 393.2,559.9 399.9,554.6C406.5,549.4 413.3,544.4 420.3,539.6C427.3,534.9 434.4,530.4 441.8,526.2C449.0,522.0 456.5,518.1 464.1,514.5C471.7,511.0 479.4,507.7 487.2,504.8C495.0,501.9 502.9,499.4 510.9,497.3C518.9,495.2 527.0,493.4 535.2,492.1C543.3,490.9 551.5,490.0 559.7,489.6C568.0,489.1 576.3,489.2 584.5,489.6C592.8,490.0 601.1,490.8 609.3,492.0C617.5,493.2 625.7,494.9 633.8,496.8C642.0,498.8 650.1,501.2 658.0,503.8C666.0,506.5 673.9,509.6 681.6,512.9C689.3,516.3 697.0,520.0 704.4,524.0C711.9,528.0 719.2,532.3 726.3,536.9C733.3,541.5 740.3,546.4 746.9,551.6C753.6,556.7 760.0,562.1 766.2,567.8C772.4,573.5 778.3,579.4 784.0,585.5C789.6,591.6 795.0,598.0 800.1,604.6C805.1,611.1 810.0,617.9 814.6,624.8C819.2,631.7 823.5,638.8 827.7,646.0C831.9,653.2 835.8,660.6 839.6,668.0C843.4,675.5 847.0,683.0 850.5,690.7C854.0,698.3 857.3,706.0 860.6,713.8C863.8,721.5 866.9,729.3 870.0,737.2C873.0,745.0 876.0,752.8 878.8,760.7C881.7,768.6 884.4,776.6 887.1,784.5C889.8,792.5 892.3,800.5 894.8,808.5C897.3,816.5 899.7,824.6 902.1,832.6C904.4,840.7 906.7,848.8 908.9,856.9C911.0,865.0 913.1,873.1 915.2,881.2C917.2,889.4 919.2,897.5 921.1,905.7C923.0,913.9 924.8,922.0 926.6,930.2C928.4,938.4 930.1,946.6 931.8,954.8C933.4,963.0 935.0,971.2 936.6,979.5C938.1,987.7 939.6,995.9 941.1,1004.1C942.5,1012.3 943.9,1020.6 945.3,1028.8C946.7,1037.0 948.0,1045.2 949.3,1053.4C950.6,1061.6 951.8,1069.8 953.0,1078.0 M190.0,1078.0C191.2,1069.6 192.3,1061.2 193.6,1052.9C195.0,1044.6 196.4,1036.3 198.0,1028.0C199.6,1019.7 201.4,1011.4 203.2,1003.2C205.0,995.0 207.0,986.8 209.0,978.6C211.0,970.4 213.2,962.3 215.4,954.2C217.6,946.0 219.9,937.9 222.3,929.8C224.7,921.7 227.1,913.7 229.7,905.6C232.2,897.5 234.7,889.5 237.4,881.5C240.0,873.4 242.6,865.4 245.3,857.4C248.0,849.4 250.8,841.4 253.6,833.4C256.3,825.5 259.1,817.5 262.1,809.6C265.0,801.7 268.0,793.8 271.2,786.0C274.4,778.2 277.6,770.4 281.1,762.8C284.6,755.1 288.2,747.5 292.1,740.1C296.0,732.6 300.1,725.2 304.5,718.0C308.9,710.8 313.5,703.7 318.4,696.9C323.4,690.0 328.6,683.4 334.1,677.1C339.6,670.8 345.5,664.7 351.7,659.0C357.9,653.4 364.5,648.2 371.3,643.3C378.1,638.4 385.4,634.0 392.7,629.7C400.0,625.5 407.5,621.5 415.0,617.7C422.5,613.9 430.0,610.2 437.7,606.7C445.3,603.3 452.9,600.0 460.7,597.0C468.4,594.0 476.3,591.2 484.2,588.8C492.2,586.4 500.2,584.2 508.4,582.4C516.5,580.6 524.8,579.2 533.2,578.1C541.5,576.9 550.0,576.1 558.4,575.7C566.9,575.2 575.5,575.1 584.0,575.3C592.5,575.5 601.0,576.0 609.5,576.8C618.0,577.7 626.5,578.9 634.9,580.4C643.4,581.9 651.7,583.7 660.0,585.8C668.3,587.9 676.5,590.4 684.5,593.2C692.5,595.9 700.5,599.0 708.2,602.4C716.0,605.8 723.6,609.6 731.0,613.6C738.3,617.6 745.6,622.0 752.5,626.6C759.5,631.3 766.3,636.2 772.7,641.5C779.2,646.7 785.5,652.3 791.4,658.1C797.4,663.9 803.1,670.0 808.5,676.4C813.9,682.7 819.0,689.3 823.9,696.1C828.7,702.9 833.2,709.9 837.5,717.2C841.7,724.4 845.6,731.8 849.2,739.4C852.8,747.0 856.0,754.8 859.1,762.7C862.1,770.6 864.8,778.7 867.4,786.8C870.0,794.9 872.4,803.2 874.8,811.4C877.2,819.6 879.4,827.9 881.8,836.2C884.1,844.4 886.4,852.7 888.9,860.8C891.4,869.0 894.0,877.1 896.8,885.2C899.6,893.1 902.7,901.0 905.9,908.8C909.0,916.6 912.4,924.3 915.8,932.0C919.1,939.7 922.6,947.3 925.9,955.0C929.1,962.7 932.4,970.3 935.3,978.1C938.3,985.9 941.1,993.7 943.5,1001.6C945.9,1009.6 948.1,1017.7 949.7,1025.9C951.3,1034.2 952.5,1042.7 953.1,1051.3C953.7,1060.0 953.0,1069.1 953.0,1078.0 M190.0,1078.0C191.5,1069.8 193.0,1061.5 194.6,1053.3C196.2,1045.1 197.9,1036.9 199.8,1028.8C201.6,1020.7 203.6,1012.5 205.6,1004.5C207.7,996.4 209.9,988.4 212.2,980.4C214.5,972.4 216.9,964.4 219.5,956.5C222.0,948.5 224.8,940.6 227.6,932.8C230.5,924.9 233.5,917.1 236.6,909.3C239.8,901.5 243.1,893.7 246.5,886.0C250.0,878.3 253.6,870.6 257.4,863.0C261.3,855.4 265.2,847.8 269.4,840.3C273.6,832.9 277.9,825.5 282.5,818.4C287.1,811.2 291.9,804.2 296.9,797.4C301.9,790.7 307.2,784.1 312.7,777.8C318.1,771.6 323.9,765.6 329.9,760.0C335.9,754.3 342.1,749.0 348.6,744.0C355.0,739.0 361.8,734.3 368.7,730.0C375.6,725.6 382.7,721.5 389.9,717.7C397.2,713.9 404.7,710.4 412.3,707.2C419.9,703.9 427.6,701.0 435.5,698.3C443.4,695.5 451.4,693.1 459.4,690.9C467.5,688.7 475.7,686.8 484.0,685.0C492.2,683.3 500.6,681.8 509.0,680.5C517.3,679.3 525.8,678.2 534.2,677.4C542.7,676.6 551.2,676.0 559.6,675.7C568.1,675.3 576.6,675.2 585.1,675.3C593.6,675.5 602.0,675.8 610.5,676.5C618.9,677.1 627.3,678.0 635.6,679.2C644.0,680.3 652.3,681.7 660.5,683.4C668.7,685.1 676.8,687.1 684.9,689.3C692.9,691.5 700.9,694.0 708.7,696.8C716.5,699.6 724.3,702.7 731.8,706.1C739.4,709.5 746.9,713.2 754.1,717.1C761.4,721.1 768.6,725.4 775.5,729.9C782.4,734.5 789.2,739.3 795.8,744.4C802.3,749.5 808.7,754.8 814.8,760.4C820.9,766.0 826.9,771.9 832.5,778.0C838.1,784.0 843.5,790.4 848.6,796.9C853.7,803.4 858.6,810.2 863.1,817.2C867.6,824.1 871.9,831.3 875.9,838.6C879.9,845.9 883.6,853.4 887.1,861.0C890.7,868.6 894.0,876.4 897.1,884.3C900.2,892.1 903.2,900.1 905.9,908.2C908.7,916.2 911.4,924.4 913.9,932.5C916.4,940.7 918.8,948.9 921.1,957.2C923.4,965.4 925.6,973.6 927.7,981.9C929.9,990.1 932.0,998.3 934.1,1006.5C936.1,1014.6 938.2,1022.8 940.3,1030.8C942.3,1038.9 944.4,1046.8 946.5,1054.7C948.6,1062.6 950.8,1070.2 953.0,1078.0 M190.0,1078.0C193.3,1070.8 196.8,1063.7 200.0,1056.3C203.3,1048.9 206.4,1041.3 209.5,1033.7C212.6,1026.0 215.6,1018.2 218.6,1010.4C221.6,1002.6 224.6,994.6 227.6,986.7C230.7,978.8 233.7,970.8 236.8,962.8C240.0,954.9 243.1,946.9 246.5,939.1C249.8,931.2 253.1,923.4 256.7,915.6C260.3,908.0 263.9,900.3 267.8,892.9C271.7,885.4 275.7,878.1 280.1,871.0C284.4,863.9 288.9,856.9 293.7,850.2C298.5,843.6 303.5,837.1 308.9,830.9C314.2,824.7 319.9,818.8 325.9,813.3C331.9,807.7 338.3,802.4 344.9,797.5C351.5,792.6 358.5,788.0 365.6,783.7C372.7,779.4 380.1,775.5 387.7,771.8C395.2,768.2 402.9,764.9 410.7,762.0C418.5,759.0 426.4,756.3 434.4,754.0C442.4,751.6 450.6,749.5 458.7,747.6C466.9,745.7 475.1,744.1 483.4,742.7C491.7,741.3 500.0,740.1 508.4,739.1C516.7,738.1 525.1,737.2 533.5,736.6C541.8,735.9 550.2,735.5 558.6,735.2C566.9,735.0 575.3,734.9 583.6,735.1C592.0,735.3 600.3,735.7 608.6,736.3C616.9,736.9 625.2,737.8 633.4,738.9C641.6,740.0 649.8,741.3 657.9,742.9C666.0,744.5 674.1,746.3 682.1,748.4C690.1,750.5 698.0,752.9 705.8,755.5C713.7,758.2 721.5,761.1 729.1,764.3C736.8,767.5 744.4,771.0 751.8,774.8C759.3,778.6 766.7,782.7 773.9,787.0C781.1,791.4 788.1,796.0 795.0,800.9C801.8,805.8 808.5,811.0 815.0,816.4C821.4,821.9 827.6,827.5 833.5,833.4C839.4,839.3 845.1,845.5 850.4,851.9C855.7,858.2 860.8,864.8 865.5,871.6C870.2,878.4 874.5,885.4 878.6,892.5C882.8,899.7 886.6,907.0 890.2,914.4C893.9,921.9 897.3,929.4 900.6,937.1C903.9,944.8 906.9,952.5 910.0,960.3C913.0,968.1 915.8,976.0 918.7,983.9C921.5,991.8 924.3,999.8 927.0,1007.7C929.8,1015.6 932.5,1023.6 935.3,1031.5C938.1,1039.3 940.9,1047.2 943.9,1054.9C946.8,1062.7 950.0,1070.3 953.0,1078.0 M190.0,1078.0C195.5,1071.8 201.4,1065.8 206.4,1059.3C211.5,1052.7 215.9,1045.8 220.2,1038.7C224.5,1031.6 228.3,1024.1 232.0,1016.6C235.7,1009.1 239.1,1001.4 242.6,993.6C246.0,985.9 249.2,978.0 252.5,970.1C255.9,962.3 259.1,954.4 262.6,946.6C266.1,938.8 269.7,931.0 273.6,923.5C277.5,915.9 281.6,908.5 286.0,901.3C290.5,894.1 295.2,887.0 300.2,880.3C305.3,873.6 310.6,867.1 316.2,861.0C321.8,854.9 327.8,849.1 334.0,843.7C340.2,838.3 346.7,833.3 353.4,828.7C360.2,824.1 367.2,819.9 374.4,816.1C381.7,812.2 389.2,808.8 396.8,805.7C404.5,802.5 412.4,799.7 420.3,797.2C428.3,794.7 436.4,792.5 444.6,790.5C452.8,788.6 461.2,786.9 469.5,785.4C477.9,783.9 486.4,782.6 494.8,781.5C503.3,780.4 511.7,779.5 520.2,778.7C528.7,778.0 537.2,777.4 545.6,777.0C554.1,776.6 562.5,776.4 571.0,776.4C579.4,776.4 587.8,776.6 596.2,777.0C604.5,777.4 612.9,778.0 621.2,778.8C629.5,779.7 637.8,780.7 646.0,782.0C654.2,783.3 662.4,784.8 670.5,786.6C678.6,788.4 686.7,790.4 694.7,792.6C702.7,794.9 710.6,797.4 718.4,800.2C726.3,803.0 734.1,806.1 741.7,809.4C749.4,812.8 757.0,816.4 764.5,820.3C772.0,824.2 779.3,828.4 786.5,832.9C793.6,837.3 800.7,842.1 807.4,847.1C814.1,852.2 820.7,857.5 826.9,863.1C833.1,868.7 839.1,874.5 844.6,880.7C850.2,886.9 855.5,893.3 860.3,900.0C865.2,906.7 869.6,913.7 873.8,920.9C878.1,928.0 881.9,935.5 885.7,942.9C889.4,950.5 892.9,958.1 896.4,965.8C899.9,973.5 903.1,981.3 906.5,989.1C909.9,996.8 913.2,1004.6 916.7,1012.3C920.2,1020.0 923.7,1027.7 927.5,1035.2C931.2,1042.6 935.1,1050.1 939.4,1057.2C943.6,1064.3 948.5,1071.1 953.0,1078.0 M190.0,1078.0C197.8,1073.1 206.4,1069.0 213.3,1063.4C220.1,1058.0 226.0,1051.7 231.3,1045.2C236.6,1038.8 241.0,1031.6 245.2,1024.4C249.3,1017.2 252.8,1009.5 256.2,1001.8C259.7,994.1 262.6,986.1 265.8,978.2C268.9,970.3 271.8,962.3 275.1,954.4C278.4,946.7 281.6,938.8 285.5,931.4C289.4,924.0 293.5,916.7 298.3,909.8C303.0,903.0 308.4,896.5 314.0,890.4C319.7,884.3 325.9,878.5 332.3,873.1C338.8,867.7 345.6,862.7 352.6,858.1C359.6,853.5 366.9,849.2 374.3,845.4C381.7,841.5 389.4,838.0 397.1,834.8C404.8,831.6 412.7,828.8 420.7,826.3C428.7,823.8 436.9,821.6 445.1,819.6C453.3,817.6 461.6,816.0 469.9,814.5C478.3,813.0 486.7,811.8 495.1,810.8C503.5,809.8 512.0,809.0 520.5,808.4C528.9,807.7 537.4,807.3 545.8,807.0C554.2,806.7 562.7,806.5 571.1,806.6C579.5,806.6 587.9,806.8 596.2,807.3C604.6,807.7 612.9,808.3 621.2,809.2C629.5,810.0 637.8,811.1 646.0,812.3C654.2,813.6 662.4,815.1 670.6,816.9C678.7,818.6 686.8,820.6 694.9,822.8C702.9,825.0 710.9,827.5 718.9,830.3C726.8,833.0 734.7,836.0 742.5,839.3C750.4,842.6 758.2,846.2 765.8,850.0C773.5,853.9 781.1,858.0 788.5,862.3C795.9,866.6 803.1,871.2 810.2,876.0C817.1,880.8 824.0,885.8 830.4,891.2C836.8,896.5 843.0,902.1 848.5,908.2C853.9,914.2 858.9,920.7 863.3,927.5C867.8,934.3 871.5,941.7 875.1,949.1C878.8,956.5 881.8,964.3 885.1,972.1C888.3,979.8 891.2,987.8 894.4,995.6C897.7,1003.4 900.9,1011.3 904.6,1018.9C908.4,1026.4 912.3,1033.9 916.9,1040.9C921.6,1047.9 926.7,1054.8 932.6,1060.9C938.7,1067.2 946.2,1072.3 953.0,1078.0 M190.0,1078.0C195.5,1071.7 200.9,1065.4 206.4,1059.1C212.1,1052.8 217.7,1046.4 223.5,1040.2C229.4,1033.9 235.3,1027.6 241.3,1021.4C247.3,1015.2 253.5,1009.0 259.7,1003.0C266.0,996.9 272.3,991.0 278.8,985.2C285.3,979.4 291.9,973.7 298.7,968.2C305.4,962.8 312.2,957.5 319.2,952.4C326.2,947.4 333.3,942.5 340.5,938.0C347.7,933.4 355.1,929.1 362.5,925.1C370.0,921.1 377.6,917.4 385.3,914.0C393.1,910.7 400.9,907.6 408.9,904.9C416.8,902.2 424.9,899.8 433.1,897.6C441.3,895.4 449.5,893.6 457.9,891.9C466.2,890.2 474.6,888.9 483.1,887.6C491.6,886.4 500.1,885.5 508.7,884.7C517.3,883.8 525.9,883.2 534.5,882.7C543.2,882.3 551.9,881.9 560.5,881.8C569.2,881.6 577.9,881.7 586.6,881.8C595.3,882.0 604.0,882.4 612.7,883.0C621.4,883.5 630.1,884.2 638.7,885.2C647.3,886.1 655.9,887.2 664.5,888.5C673.0,889.8 681.5,891.3 690.0,893.0C698.4,894.7 706.8,896.6 715.1,898.7C723.4,900.8 731.6,903.2 739.7,905.7C747.8,908.2 755.9,911.0 763.8,914.0C771.7,917.0 779.5,920.2 787.2,923.6C794.9,927.1 802.4,930.7 809.8,934.7C817.2,938.6 824.5,942.7 831.7,947.1C838.8,951.5 845.7,956.2 852.5,961.0C859.3,965.9 866.0,971.1 872.4,976.5C878.8,981.9 885.1,987.6 891.1,993.5C897.2,999.5 903.0,1005.7 908.6,1012.1C914.3,1018.6 919.7,1025.4 924.9,1032.4C930.1,1039.4 935.0,1046.8 939.7,1054.3C944.4,1062.0 948.6,1070.1 953.0,1078.0 M300.0,1010.0C305.8,1003.7 311.2,996.8 317.3,991.0C323.4,985.2 329.9,980.0 336.6,975.2C343.3,970.5 350.4,966.2 357.6,962.3C364.8,958.4 372.2,955.0 379.8,951.9C387.4,948.8 395.2,946.0 403.0,943.6C410.9,941.1 418.9,938.9 427.0,937.0C435.1,935.0 443.2,933.4 451.4,931.9C459.6,930.4 467.9,929.1 476.2,928.0C484.6,926.9 492.9,926.0 501.3,925.2C509.7,924.5 518.2,923.9 526.6,923.4C535.1,922.9 543.6,922.6 552.1,922.4C560.5,922.1 569.0,922.0 577.5,922.0C586.0,922.0 594.5,922.1 602.9,922.4C611.4,922.6 619.8,923.0 628.2,923.6C636.6,924.1 645.0,924.8 653.4,925.7C661.7,926.6 670.0,927.6 678.2,928.9C686.5,930.2 694.7,931.6 702.8,933.3C710.9,934.9 719.0,936.8 727.0,938.9C734.9,941.0 742.9,943.3 750.7,945.9C758.5,948.4 766.3,951.2 773.9,954.3C781.5,957.4 789.1,960.7 796.5,964.3C803.9,968.0 811.2,971.9 818.4,976.1C825.6,980.3 832.7,984.8 839.6,989.6C846.6,994.4 853.2,999.8 860.0,1005.0 M380.0,995.0C388.1,991.5 396.1,987.6 404.3,984.5C412.6,981.4 420.9,978.8 429.4,976.5C437.8,974.1 446.4,972.2 455.0,970.5C463.6,968.9 472.3,967.6 481.1,966.4C489.8,965.3 498.6,964.5 507.5,963.8C516.3,963.1 525.3,962.7 534.2,962.4C543.1,962.0 552.0,961.9 561.0,961.8C569.9,961.7 578.9,961.7 587.8,961.8C596.8,962.0 605.7,962.2 614.6,962.5C623.5,962.9 632.4,963.3 641.3,964.0C650.1,964.7 659.0,965.5 667.8,966.6C676.5,967.7 685.3,968.9 693.9,970.4C702.6,972.0 711.2,973.7 719.7,975.8C728.3,977.9 736.8,980.2 745.1,982.9C753.5,985.6 761.7,989.0 770.0,992.0 M836.4,1.3C831.7,8.0 827.2,14.8 822.4,21.5C817.6,28.3 812.5,35.0 807.5,41.8C802.4,48.6 797.2,55.4 792.0,62.3C786.9,69.2 781.7,76.2 776.6,83.2C771.6,90.3 766.5,97.5 761.8,104.8C757.0,112.1 752.3,119.5 748.0,127.1C743.6,134.7 739.5,142.5 735.8,150.3C732.1,158.2 728.7,166.2 725.9,174.2C723.1,182.2 720.7,190.4 718.9,198.6C717.2,206.7 716.1,214.9 715.6,223.1C715.1,231.3 715.3,239.6 715.8,247.8C716.4,256.0 717.6,264.3 719.1,272.5C720.5,280.7 722.5,288.9 724.7,297.1C726.8,305.3 729.4,313.5 732.1,321.6C734.7,329.8 737.7,337.9 740.6,346.0C743.6,354.1 746.7,362.1 749.8,370.1C752.9,378.1 756.1,386.1 759.3,394.1C762.4,402.0 765.7,409.9 768.9,417.8C772.2,425.7 775.5,433.5 778.8,441.4C782.1,449.2 785.4,457.0 788.7,464.8C792.1,472.7 795.4,480.5 798.7,488.3C802.0,496.1 805.4,503.9 808.6,511.7C811.9,519.5 815.2,527.3 818.5,535.1C821.7,542.9 824.9,550.8 828.1,558.6C831.3,566.5 834.5,574.4 837.5,582.3C840.6,590.2 843.7,598.1 846.7,606.0C849.6,614.0 852.6,622.0 855.4,630.0C858.3,638.0 861.1,646.0 863.9,654.1C866.6,662.1 869.4,670.2 872.0,678.3C874.7,686.4 877.2,694.5 879.8,702.7C882.3,710.8 884.8,719.0 887.2,727.2C889.6,735.3 892.0,743.5 894.3,751.8C896.6,760.0 898.8,768.2 901.0,776.5C903.2,784.7 905.3,793.0 907.4,801.3C909.5,809.6 911.5,817.9 913.4,826.2C915.4,834.5 917.3,842.8 919.1,851.2C920.9,859.5 922.7,867.9 924.4,876.2C926.1,884.6 927.7,892.9 929.3,901.3C930.9,909.7 932.4,918.1 933.8,926.5C935.3,934.9 936.7,943.3 938.0,951.7C939.3,960.1 940.6,968.5 941.8,976.9C943.0,985.3 944.1,993.8 945.2,1002.2C946.2,1010.6 947.2,1019.0 948.2,1027.4C949.1,1035.9 950.0,1044.3 950.8,1052.7C951.6,1061.1 952.3,1069.6 953.0,1078.0 M912.8,1.3C908.5,8.4 904.3,15.5 900.0,22.6C895.6,29.8 891.2,37.1 886.8,44.3C882.4,51.6 878.0,59.0 873.7,66.4C869.4,73.8 865.0,81.3 860.8,88.8C856.6,96.4 852.5,103.9 848.5,111.6C844.5,119.3 840.6,127.0 836.8,134.8C833.1,142.6 829.6,150.4 826.2,158.4C822.9,166.3 819.7,174.2 816.8,182.3C813.9,190.3 811.2,198.3 808.8,206.5C806.4,214.6 804.2,222.7 802.4,231.0C800.6,239.2 799.0,247.4 797.8,255.7C796.6,264.0 795.7,272.3 795.1,280.7C794.4,289.0 794.1,297.4 794.0,305.8C793.9,314.1 794.0,322.6 794.4,331.0C794.8,339.4 795.5,347.8 796.3,356.2C797.1,364.6 798.2,373.0 799.5,381.4C800.7,389.8 802.1,398.2 803.7,406.6C805.3,415.0 807.1,423.3 809.0,431.7C810.9,440.0 812.9,448.3 815.0,456.6C817.1,464.9 819.4,473.1 821.6,481.4C823.9,489.6 826.2,497.9 828.6,506.1C830.9,514.3 833.2,522.5 835.6,530.7C837.9,538.9 840.2,547.1 842.5,555.3C844.8,563.5 847.1,571.7 849.4,579.9C851.6,588.1 853.9,596.2 856.1,604.4C858.3,612.6 860.6,620.8 862.8,629.0C865.0,637.2 867.2,645.4 869.4,653.5C871.7,661.7 873.9,669.9 876.1,678.1C878.3,686.3 880.6,694.5 882.8,702.7C885.0,710.9 887.2,719.1 889.4,727.4C891.6,735.6 893.8,743.8 896.0,752.0C898.1,760.2 900.3,768.5 902.4,776.7C904.5,785.0 906.6,793.2 908.6,801.5C910.6,809.7 912.6,818.0 914.6,826.3C916.6,834.5 918.5,842.8 920.3,851.1C922.2,859.4 924.0,867.7 925.8,876.0C927.5,884.3 929.2,892.7 930.9,901.0C932.5,909.3 934.1,917.7 935.6,926.0C937.0,934.4 938.5,942.8 939.8,951.1C941.1,959.5 942.4,967.9 943.6,976.3C944.8,984.7 945.8,993.2 946.8,1001.6C947.8,1010.1 948.7,1018.5 949.5,1027.0C950.3,1035.5 951.0,1043.9 951.6,1052.4C952.2,1060.9 952.5,1069.5 953.0,1078.0 M999.8,1.3C995.7,8.6 991.6,15.8 987.6,23.1C983.5,30.5 979.4,37.8 975.4,45.2C971.4,52.6 967.3,60.0 963.4,67.5C959.4,75.0 955.5,82.5 951.6,90.1C947.7,97.6 943.9,105.2 940.2,112.9C936.4,120.5 932.8,128.2 929.2,135.9C925.6,143.6 922.1,151.4 918.7,159.2C915.3,167.0 912.0,174.8 908.8,182.7C905.7,190.5 902.6,198.4 899.7,206.4C896.7,214.3 893.9,222.3 891.3,230.3C888.6,238.3 886.1,246.3 883.8,254.4C881.4,262.5 879.2,270.6 877.2,278.8C875.2,286.9 873.3,295.1 871.6,303.3C869.9,311.5 868.3,319.7 867.0,327.9C865.6,336.2 864.3,344.4 863.3,352.7C862.2,361.0 861.3,369.3 860.6,377.6C859.8,385.9 859.3,394.2 858.9,402.6C858.4,410.9 858.2,419.3 858.1,427.6C858.0,436.0 858.1,444.3 858.4,452.7C858.6,461.1 859.0,469.4 859.5,477.8C860.0,486.2 860.7,494.6 861.4,502.9C862.2,511.3 863.1,519.7 864.1,528.1C865.1,536.5 866.2,544.8 867.4,553.2C868.6,561.6 869.8,570.0 871.2,578.4C872.6,586.7 874.0,595.1 875.5,603.5C877.0,611.8 878.5,620.2 880.1,628.6C881.7,636.9 883.4,645.3 885.0,653.6C886.7,662.0 888.4,670.3 890.2,678.6C891.9,687.0 893.6,695.3 895.4,703.6C897.1,711.9 898.9,720.2 900.6,728.5C902.4,736.8 904.1,745.1 905.8,753.3C907.6,761.6 909.3,769.9 911.0,778.2C912.7,786.4 914.4,794.7 916.1,802.9C917.7,811.2 919.4,819.5 921.0,827.7C922.6,836.0 924.2,844.3 925.7,852.5C927.2,860.8 928.8,869.1 930.2,877.3C931.7,885.6 933.1,893.9 934.4,902.2C935.8,910.5 937.1,918.7 938.4,927.0C939.6,935.4 940.8,943.7 941.9,952.0C943.0,960.3 944.1,968.6 945.1,977.0C946.1,985.3 947.0,993.7 947.8,1002.1C948.7,1010.5 949.4,1018.9 950.1,1027.3C950.8,1035.7 951.3,1044.1 951.8,1052.6C952.3,1061.0 952.6,1069.5 953.0,1078.0 M1063.0,125.9C1059.1,133.3 1055.2,140.7 1051.4,148.1C1047.6,155.5 1043.9,163.0 1040.3,170.6C1036.6,178.1 1033.0,185.6 1029.5,193.2C1026.0,200.8 1022.6,208.5 1019.3,216.1C1015.9,223.8 1012.7,231.5 1009.5,239.2C1006.3,247.0 1003.2,254.7 1000.2,262.5C997.2,270.3 994.2,278.1 991.4,286.0C988.5,293.9 985.8,301.7 983.1,309.7C980.4,317.6 977.8,325.5 975.3,333.5C972.9,341.4 970.4,349.4 968.1,357.4C965.8,365.5 963.6,373.5 961.5,381.6C959.4,389.6 957.3,397.7 955.4,405.8C953.5,413.9 951.6,422.0 949.9,430.1C948.1,438.3 946.5,446.4 945.0,454.6C943.4,462.8 942.0,471.0 940.7,479.2C939.3,487.3 938.1,495.6 937.0,503.8C935.9,512.0 934.9,520.2 933.9,528.5C933.0,536.7 932.2,545.0 931.5,553.3C930.8,561.5 930.2,569.8 929.7,578.1C929.1,586.4 928.7,594.7 928.4,603.0C928.0,611.3 927.7,619.6 927.5,627.9C927.3,636.2 927.2,644.6 927.2,652.9C927.1,661.2 927.2,669.6 927.2,677.9C927.3,686.2 927.5,694.6 927.7,702.9C927.9,711.3 928.2,719.6 928.5,728.0C928.8,736.3 929.1,744.7 929.5,753.1C929.9,761.4 930.4,769.8 930.9,778.2C931.4,786.5 931.9,794.9 932.5,803.2C933.0,811.6 933.6,820.0 934.2,828.3C934.8,836.7 935.4,845.1 936.1,853.4C936.7,861.8 937.4,870.2 938.1,878.5C938.8,886.9 939.4,895.2 940.1,903.6C940.8,911.9 941.5,920.3 942.2,928.6C942.9,936.9 943.6,945.3 944.3,953.6C945.0,961.9 945.6,970.3 946.3,978.6C947.0,986.9 947.6,995.2 948.2,1003.5C948.8,1011.8 949.4,1020.1 950.0,1028.4C950.6,1036.7 951.1,1045.0 951.6,1053.2C952.1,1061.5 952.5,1069.7 953.0,1078.0 M1063.0,308.0C1059.7,315.5 1056.3,322.9 1053.2,330.5C1050.0,338.2 1046.9,345.9 1044.0,353.6C1041.0,361.4 1038.1,369.3 1035.3,377.1C1032.5,385.1 1029.8,393.0 1027.2,401.0C1024.6,409.0 1022.0,417.1 1019.6,425.2C1017.1,433.2 1014.7,441.4 1012.3,449.5C1009.9,457.6 1007.6,465.8 1005.4,473.9C1003.2,482.1 1001.0,490.3 998.9,498.5C996.8,506.7 994.8,514.9 992.9,523.2C990.9,531.4 989.0,539.7 987.2,547.9C985.5,556.2 983.7,564.5 982.1,572.8C980.5,581.1 979.0,589.4 977.5,597.7C976.1,606.0 974.7,614.3 973.4,622.7C972.1,631.0 970.9,639.4 969.8,647.7C968.6,656.1 967.6,664.5 966.6,672.8C965.6,681.2 964.7,689.6 963.8,698.0C963.0,706.4 962.2,714.8 961.5,723.2C960.7,731.6 960.1,740.0 959.4,748.5C958.8,756.9 958.3,765.3 957.8,773.7C957.3,782.2 956.8,790.6 956.4,799.1C956.0,807.5 955.6,816.0 955.3,824.4C955.0,832.9 954.7,841.3 954.4,849.8C954.2,858.2 954.0,866.7 953.8,875.1C953.6,883.6 953.5,892.1 953.3,900.5C953.2,909.0 953.1,917.5 953.1,925.9C953.0,934.4 952.9,942.8 952.9,951.3C952.9,959.8 952.8,968.2 952.8,976.7C952.8,985.1 952.8,993.6 952.8,1002.0C952.8,1010.5 952.9,1018.9 952.9,1027.4C952.9,1035.8 952.9,1044.3 952.9,1052.7C953.0,1061.1 953.0,1069.6 953.0,1078.0 M1063.0,431.9C1059.9,439.8 1056.7,447.7 1053.7,455.6C1050.7,463.5 1047.7,471.4 1044.9,479.4C1042.1,487.3 1039.3,495.3 1036.6,503.3C1034.0,511.4 1031.4,519.4 1029.0,527.5C1026.5,535.5 1024.1,543.6 1021.9,551.7C1019.6,559.8 1017.5,568.0 1015.4,576.1C1013.4,584.3 1011.4,592.5 1009.6,600.7C1007.7,608.9 1006.0,617.1 1004.3,625.4C1002.6,633.6 1001.0,641.9 999.4,650.2C997.9,658.5 996.4,666.8 995.0,675.1C993.6,683.4 992.2,691.7 990.9,700.0C989.6,708.4 988.3,716.7 987.0,725.1C985.8,733.4 984.6,741.8 983.5,750.1C982.3,758.5 981.2,766.9 980.1,775.2C979.1,783.6 978.0,792.0 977.0,800.4C976.0,808.8 975.0,817.2 974.1,825.6C973.2,834.0 972.3,842.4 971.4,850.8C970.5,859.2 969.7,867.6 968.8,876.0C968.0,884.4 967.2,892.8 966.5,901.2C965.7,909.7 964.9,918.1 964.2,926.5C963.5,934.9 962.8,943.3 962.1,951.8C961.4,960.2 960.8,968.6 960.1,977.0C959.5,985.5 958.8,993.9 958.2,1002.3C957.6,1010.7 957.0,1019.1 956.4,1027.5C955.8,1036.0 955.3,1044.4 954.7,1052.8C954.1,1061.2 953.6,1069.6 953.0,1078.0 M1063.0,528.0C1060.4,536.1 1057.7,544.2 1055.1,552.3C1052.6,560.4 1050.1,568.6 1047.7,576.7C1045.3,584.9 1042.9,593.0 1040.6,601.2C1038.4,609.4 1036.1,617.6 1034.0,625.8C1031.8,634.0 1029.7,642.3 1027.7,650.5C1025.6,658.8 1023.6,667.0 1021.7,675.3C1019.8,683.6 1017.9,691.9 1016.0,700.2C1014.2,708.5 1012.4,716.8 1010.7,725.1C1008.9,733.4 1007.2,741.8 1005.5,750.1C1003.9,758.4 1002.3,766.8 1000.7,775.2C999.1,783.5 997.5,791.9 996.0,800.3C994.5,808.6 993.0,817.0 991.6,825.4C990.1,833.8 988.7,842.2 987.3,850.6C985.9,859.0 984.5,867.4 983.2,875.8C981.8,884.3 980.5,892.7 979.2,901.1C977.9,909.5 976.6,917.9 975.3,926.4C974.0,934.8 972.8,943.2 971.5,951.6C970.3,960.1 969.0,968.5 967.8,976.9C966.5,985.4 965.3,993.8 964.1,1002.2C962.9,1010.6 961.6,1019.1 960.4,1027.5C959.2,1035.9 958.0,1044.3 956.7,1052.8C955.5,1061.2 954.2,1069.6 953.0,1078.0 M1063.0,608.5C1060.5,616.6 1058.0,624.7 1055.6,632.8C1053.2,641.0 1050.8,649.1 1048.5,657.2C1046.2,665.4 1043.9,673.6 1041.7,681.7C1039.5,689.9 1037.3,698.1 1035.2,706.3C1033.0,714.5 1031.0,722.7 1028.9,730.9C1026.9,739.1 1024.9,747.4 1022.9,755.6C1021.0,763.8 1019.1,772.1 1017.2,780.3C1015.4,788.6 1013.5,796.9 1011.8,805.1C1010.0,813.4 1008.3,821.7 1006.6,830.0C1004.9,838.3 1003.2,846.6 1001.6,854.9C1000.0,863.2 998.4,871.5 996.8,879.9C995.3,888.2 993.7,896.5 992.2,904.8C990.6,913.2 989.1,921.5 987.6,929.8C986.0,938.1 984.4,946.4 982.8,954.7C981.2,963.0 979.6,971.3 977.8,979.6C976.1,987.9 974.3,996.2 972.5,1004.4C970.6,1012.6 968.7,1020.9 966.6,1029.1C964.6,1037.3 962.5,1045.5 960.2,1053.6C957.9,1061.8 955.4,1069.9 953.0,1078.0 M1066.1,676.0C1063.4,684.3 1060.7,692.6 1058.1,700.9C1055.6,709.3 1053.2,717.6 1050.8,726.0C1048.4,734.4 1046.1,742.8 1043.9,751.2C1041.7,759.7 1039.6,768.1 1037.5,776.6C1035.4,785.0 1033.4,793.5 1031.4,802.0C1029.4,810.5 1027.5,819.0 1025.5,827.5C1023.6,836.0 1021.7,844.5 1019.9,853.0C1018.0,861.6 1016.1,870.1 1014.3,878.6C1012.4,887.1 1010.6,895.7 1008.7,904.2C1006.8,912.7 1005.0,921.2 1003.1,929.7C1001.2,938.2 999.2,946.7 997.3,955.2C995.3,963.7 993.3,972.2 991.2,980.7C989.2,989.1 987.0,997.6 984.9,1006.0 M1065.6,741.0C1062.8,749.7 1059.8,758.3 1057.1,767.1C1054.4,775.8 1051.8,784.5 1049.4,793.3C1046.9,802.1 1044.5,810.9 1042.2,819.7C1039.9,828.5 1037.7,837.4 1035.5,846.3C1033.4,855.1 1031.3,864.0 1029.2,872.9C1027.1,881.7 1025.1,890.6 1023.0,899.5C1021.0,908.4 1019.0,917.3 1016.9,926.2C1014.9,935.1 1012.8,944.0 1010.7,952.9C1008.6,961.8 1006.5,970.6 1004.3,979.5C1002.2,988.3 999.8,997.2 997.6,1006.0 M1065.1,792.0C1062.2,800.8 1059.2,809.5 1056.5,818.3C1053.7,827.2 1051.2,836.0 1048.7,844.9C1046.2,853.8 1043.8,862.7 1041.5,871.6C1039.1,880.5 1036.9,889.5 1034.7,898.5C1032.5,907.4 1030.4,916.4 1028.2,925.4C1026.1,934.3 1023.9,943.3 1021.8,952.3C1019.6,961.2 1017.5,970.2 1015.2,979.2C1013.0,988.1 1010.7,997.1 1008.4,1006.0 M1064.6,832.0C1062.1,840.2 1059.4,848.3 1057.0,856.5C1054.5,864.7 1052.3,873.0 1050.1,881.2C1048.0,889.5 1045.9,897.8 1043.9,906.1C1041.9,914.4 1040.0,922.7 1038.1,931.1C1036.1,939.4 1034.3,947.7 1032.4,956.1C1030.5,964.4 1028.6,972.7 1026.6,981.1C1024.7,989.4 1022.6,997.7 1020.6,1006.0 M1064.2,877.0C1061.7,885.5 1059.0,893.9 1056.7,902.5C1054.4,911.0 1052.3,919.6 1050.2,928.2C1048.2,936.8 1046.3,945.5 1044.4,954.1C1042.5,962.8 1040.7,971.4 1038.7,980.1C1036.8,988.7 1034.8,997.4 1032.8,1006.0 M1063.7,927.0C1061.3,935.7 1058.8,944.4 1056.5,953.1C1054.1,961.9 1052.0,970.7 1049.7,979.5C1047.4,988.3 1045.2,997.2 1042.9,1006.0 M1063.3,960.0C1062.4,965.0 1061.4,970.1 1060.5,975.1C1059.5,980.1 1058.4,984.8 1057.4,989.8C1056.3,995.1 1055.3,1000.6 1054.2,1006.0" fill="none" stroke="#0000ff" stroke-width="3.4" stroke-linejoin="round"/>
</g>
<line x1="81.5" y1="1" x2="81.5" y2="981" stroke="#000" stroke-width="1.2"/>
<line x1="80.9" y1="980.5" x2="1062.7" y2="980.5" stroke="#000" stroke-width="1.2"/>
<line x1="163.0" y1="980.5" x2="163.0" y2="970" stroke="#000" stroke-width="1.2"/>
<line x1="980.0" y1="980.5" x2="980.0" y2="970" stroke="#000" stroke-width="1.2"/>
<line x1="81.5" y1="899.0" x2="91.5" y2="899.0" stroke="#000" stroke-width="1.2"/>
<line x1="81.5" y1="83.0" x2="91.5" y2="83.0" stroke="#000" stroke-width="1.2"/>
<text x="154.0" y="1014.5" class="tl" text-anchor="middle">−1</text>
<text x="980.0" y="1014.5" class="tl" text-anchor="middle">0</text>
<text x="72.5" y="908.5" class="tl" text-anchor="end">0</text>
<text x="72.5" y="92.5" class="tl" text-anchor="end">1</text>
<text x="0" y="0" class="ml" text-anchor="middle" transform="translate(571.5,1046.3) scale(1.2,1)">α</text>
<text x="-3" y="503.5" class="ml" style="font-size:44px">t</text>
<text x="604.5" y="1126" class="cap" text-anchor="middle">(a)</text>
<rect x="1103.5" y="1.00" width="56.0" height="15.91" fill="rgb(128,0,0)"/>
<rect x="1103.5" y="16.31" width="56.0" height="15.91" fill="rgb(143,0,0)"/>
<rect x="1103.5" y="31.62" width="56.0" height="15.91" fill="rgb(159,0,0)"/>
<rect x="1103.5" y="46.94" width="56.0" height="15.91" fill="rgb(175,0,0)"/>
<rect x="1103.5" y="62.25" width="56.0" height="15.91" fill="rgb(191,0,0)"/>
<rect x="1103.5" y="77.56" width="56.0" height="15.91" fill="rgb(207,0,0)"/>
<rect x="1103.5" y="92.88" width="56.0" height="15.91" fill="rgb(223,0,0)"/>
<rect x="1103.5" y="108.19" width="56.0" height="15.91" fill="rgb(239,0,0)"/>
<rect x="1103.5" y="123.50" width="56.0" height="15.91" fill="rgb(255,0,0)"/>
<rect x="1103.5" y="138.81" width="56.0" height="15.91" fill="rgb(255,16,0)"/>
<rect x="1103.5" y="154.12" width="56.0" height="15.91" fill="rgb(255,32,0)"/>
<rect x="1103.5" y="169.44" width="56.0" height="15.91" fill="rgb(255,48,0)"/>
<rect x="1103.5" y="184.75" width="56.0" height="15.91" fill="rgb(255,64,0)"/>
<rect x="1103.5" y="200.06" width="56.0" height="15.91" fill="rgb(255,80,0)"/>
<rect x="1103.5" y="215.38" width="56.0" height="15.91" fill="rgb(255,96,0)"/>
<rect x="1103.5" y="230.69" width="56.0" height="15.91" fill="rgb(255,112,0)"/>
<rect x="1103.5" y="246.00" width="56.0" height="15.91" fill="rgb(255,128,0)"/>
<rect x="1103.5" y="261.31" width="56.0" height="15.91" fill="rgb(255,143,0)"/>
<rect x="1103.5" y="276.62" width="56.0" height="15.91" fill="rgb(255,159,0)"/>
<rect x="1103.5" y="291.94" width="56.0" height="15.91" fill="rgb(255,175,0)"/>
<rect x="1103.5" y="307.25" width="56.0" height="15.91" fill="rgb(255,191,0)"/>
<rect x="1103.5" y="322.56" width="56.0" height="15.91" fill="rgb(255,207,0)"/>
<rect x="1103.5" y="337.88" width="56.0" height="15.91" fill="rgb(255,223,0)"/>
<rect x="1103.5" y="353.19" width="56.0" height="15.91" fill="rgb(255,239,0)"/>
<rect x="1103.5" y="368.50" width="56.0" height="15.91" fill="rgb(255,255,0)"/>
<rect x="1103.5" y="383.81" width="56.0" height="15.91" fill="rgb(239,255,16)"/>
<rect x="1103.5" y="399.12" width="56.0" height="15.91" fill="rgb(223,255,32)"/>
<rect x="1103.5" y="414.44" width="56.0" height="15.91" fill="rgb(207,255,48)"/>
<rect x="1103.5" y="429.75" width="56.0" height="15.91" fill="rgb(191,255,64)"/>
<rect x="1103.5" y="445.06" width="56.0" height="15.91" fill="rgb(175,255,80)"/>
<rect x="1103.5" y="460.38" width="56.0" height="15.91" fill="rgb(159,255,96)"/>
<rect x="1103.5" y="475.69" width="56.0" height="15.91" fill="rgb(143,255,112)"/>
<rect x="1103.5" y="491.00" width="56.0" height="15.91" fill="rgb(128,255,128)"/>
<rect x="1103.5" y="506.31" width="56.0" height="15.91" fill="rgb(112,255,143)"/>
<rect x="1103.5" y="521.62" width="56.0" height="15.91" fill="rgb(96,255,159)"/>
<rect x="1103.5" y="536.94" width="56.0" height="15.91" fill="rgb(80,255,175)"/>
<rect x="1103.5" y="552.25" width="56.0" height="15.91" fill="rgb(64,255,191)"/>
<rect x="1103.5" y="567.56" width="56.0" height="15.91" fill="rgb(48,255,207)"/>
<rect x="1103.5" y="582.88" width="56.0" height="15.91" fill="rgb(32,255,223)"/>
<rect x="1103.5" y="598.19" width="56.0" height="15.91" fill="rgb(16,255,239)"/>
<rect x="1103.5" y="613.50" width="56.0" height="15.91" fill="rgb(0,255,255)"/>
<rect x="1103.5" y="628.81" width="56.0" height="15.91" fill="rgb(0,239,255)"/>
<rect x="1103.5" y="644.12" width="56.0" height="15.91" fill="rgb(0,223,255)"/>
<rect x="1103.5" y="659.44" width="56.0" height="15.91" fill="rgb(0,207,255)"/>
<rect x="1103.5" y="674.75" width="56.0" height="15.91" fill="rgb(0,191,255)"/>
<rect x="1103.5" y="690.06" width="56.0" height="15.91" fill="rgb(0,175,255)"/>
<rect x="1103.5" y="705.38" width="56.0" height="15.91" fill="rgb(0,159,255)"/>
<rect x="1103.5" y="720.69" width="56.0" height="15.91" fill="rgb(0,143,255)"/>
<rect x="1103.5" y="736.00" width="56.0" height="15.91" fill="rgb(0,128,255)"/>
<rect x="1103.5" y="751.31" width="56.0" height="15.91" fill="rgb(0,112,255)"/>
<rect x="1103.5" y="766.62" width="56.0" height="15.91" fill="rgb(0,96,255)"/>
<rect x="1103.5" y="781.94" width="56.0" height="15.91" fill="rgb(0,80,255)"/>
<rect x="1103.5" y="797.25" width="56.0" height="15.91" fill="rgb(0,64,255)"/>
<rect x="1103.5" y="812.56" width="56.0" height="15.91" fill="rgb(0,48,255)"/>
<rect x="1103.5" y="827.88" width="56.0" height="15.91" fill="rgb(0,32,255)"/>
<rect x="1103.5" y="843.19" width="56.0" height="15.91" fill="rgb(0,16,255)"/>
<rect x="1103.5" y="858.50" width="56.0" height="15.91" fill="rgb(0,0,255)"/>
<rect x="1103.5" y="873.81" width="56.0" height="15.91" fill="rgb(0,0,239)"/>
<rect x="1103.5" y="889.12" width="56.0" height="15.91" fill="rgb(0,0,223)"/>
<rect x="1103.5" y="904.44" width="56.0" height="15.91" fill="rgb(0,0,207)"/>
<rect x="1103.5" y="919.75" width="56.0" height="15.91" fill="rgb(0,0,191)"/>
<rect x="1103.5" y="935.06" width="56.0" height="15.91" fill="rgb(0,0,175)"/>
<rect x="1103.5" y="950.38" width="56.0" height="15.91" fill="rgb(0,0,159)"/>
<rect x="1103.5" y="965.69" width="56.0" height="15.91" fill="rgb(0,0,143)"/>
<rect x="1103.5" y="1.0" width="56.0" height="980.0" fill="none" stroke="#000" stroke-width="1.3"/>
<line x1="1103.5" y1="13.5" x2="1113.5" y2="13.5" stroke="#000" stroke-width="1.2"/>
<line x1="1149.5" y1="13.5" x2="1159.5" y2="13.5" stroke="#000" stroke-width="1.2"/>
<text x="1166" y="23.0" class="tl">2</text>
<line x1="1103.5" y1="172.7" x2="1113.5" y2="172.7" stroke="#000" stroke-width="1.2"/>
<line x1="1149.5" y1="172.7" x2="1159.5" y2="172.7" stroke="#000" stroke-width="1.2"/>
<text x="1166" y="182.2" class="tl">1.5</text>
<line x1="1103.5" y1="331.9" x2="1113.5" y2="331.9" stroke="#000" stroke-width="1.2"/>
<line x1="1149.5" y1="331.9" x2="1159.5" y2="331.9" stroke="#000" stroke-width="1.2"/>
<text x="1166" y="341.4" class="tl">1</text>
<line x1="1103.5" y1="491.1" x2="1113.5" y2="491.1" stroke="#000" stroke-width="1.2"/>
<line x1="1149.5" y1="491.1" x2="1159.5" y2="491.1" stroke="#000" stroke-width="1.2"/>
<text x="1166" y="500.6" class="tl">0.5</text>
<line x1="1103.5" y1="650.2" x2="1113.5" y2="650.2" stroke="#000" stroke-width="1.2"/>
<line x1="1149.5" y1="650.2" x2="1159.5" y2="650.2" stroke="#000" stroke-width="1.2"/>
<text x="1166" y="659.7" class="tl">0</text>
<line x1="1103.5" y1="809.4" x2="1113.5" y2="809.4" stroke="#000" stroke-width="1.2"/>
<line x1="1149.5" y1="809.4" x2="1159.5" y2="809.4" stroke="#000" stroke-width="1.2"/>
<text x="1166" y="818.9" class="tl">−0.5</text>
<line x1="1103.5" y1="968.6" x2="1113.5" y2="968.6" stroke="#000" stroke-width="1.2"/>
<line x1="1149.5" y1="968.6" x2="1159.5" y2="968.6" stroke="#000" stroke-width="1.2"/>
<text x="1166" y="978.1" class="tl">−1</text>
<clipPath id="clipb"><rect x="81.5" y="1189.0" width="981.2" height="979.5"/></clipPath>
<path d="M163.0,2087.0 L163.0,1271.0 L980.0,1271.0 L980.0,2087.0" fill="none" stroke="#000" stroke-width="3"/>
<line x1="163.0" y1="2087.0" x2="980.0" y2="2087.0" stroke="#000" stroke-width="3" stroke-dasharray="17.5 15.5" stroke-dashoffset="-3.9"/>
<g clip-path="url(#clipb)">
<path d="M77.3,2113.7C81.1,2112.5 84.9,2111.2 88.7,2110.2C92.6,2109.1 96.5,2108.3 100.4,2107.3C104.3,2106.3 108.1,2105.3 112.0,2104.3C115.9,2103.3 119.7,2102.2 123.7,2101.4C127.6,2100.6 131.6,2100.2 135.5,2099.5C139.4,2098.8 143.3,2097.8 147.3,2097.2C151.2,2096.6 155.2,2096.1 159.2,2095.6C163.1,2095.1 167.1,2094.7 171.1,2094.4C175.1,2094.0 179.1,2093.7 183.1,2093.6C187.1,2093.5 191.1,2093.3 195.1,2093.5C199.1,2093.7 203.1,2094.1 207.0,2094.8C210.9,2095.4 214.9,2096.3 218.8,2097.2C222.7,2098.1 226.6,2098.9 230.4,2100.1C234.2,2101.3 238.0,2102.7 241.6,2104.3C245.3,2105.9 248.8,2107.8 252.4,2109.6C255.9,2111.4 259.5,2113.3 263.0,2115.2C266.5,2117.1 269.9,2119.2 273.4,2121.2C276.8,2123.3 280.3,2125.3 283.7,2127.4C287.1,2129.5 290.9,2131.1 293.7,2133.8C296.6,2136.5 298.4,2140.4 300.7,2143.6C303.0,2146.9 305.3,2150.1 307.6,2153.4C309.8,2156.7 312.0,2160.1 314.2,2163.4C316.4,2166.8 318.6,2170.1 320.7,2173.5" fill="none" stroke="rgb(0,0,143)" stroke-width="1.2"/>
<path d="M77.1,2048.5C81.0,2047.7 85.0,2046.9 88.9,2046.1C92.8,2045.4 96.7,2044.6 100.7,2043.8C104.6,2043.0 108.5,2042.0 112.4,2041.2C116.3,2040.4 120.2,2039.8 124.2,2039.1C128.1,2038.4 132.1,2037.7 136.0,2037.0C139.9,2036.3 143.8,2035.4 147.8,2034.8C151.7,2034.2 155.7,2033.8 159.7,2033.3C163.7,2032.9 167.7,2032.5 171.7,2032.2C175.6,2031.9 179.6,2031.8 183.6,2031.6C187.6,2031.5 191.6,2031.2 195.6,2031.3C199.6,2031.4 203.6,2031.6 207.6,2032.0C211.6,2032.4 215.5,2033.1 219.5,2033.8C223.4,2034.6 227.3,2035.5 231.2,2036.5C235.0,2037.5 238.9,2038.5 242.7,2039.7C246.6,2040.8 250.4,2041.9 254.1,2043.4C257.8,2044.9 261.5,2046.6 265.0,2048.5C268.5,2050.4 271.8,2052.6 275.2,2054.8C278.5,2057.0 281.9,2059.2 285.1,2061.6C288.3,2063.9 291.5,2066.4 294.6,2068.8C297.8,2071.3 301.0,2073.7 304.0,2076.3C307.0,2079.0 309.8,2081.8 312.7,2084.6C315.6,2087.3 318.6,2090.0 321.4,2092.8C324.3,2095.6 327.4,2098.2 329.7,2101.5C332.0,2104.7 333.3,2108.6 335.2,2112.1C337.0,2115.7 338.9,2119.2 340.8,2122.7C342.7,2126.2 344.8,2129.7 346.6,2133.2C348.5,2136.7 350.2,2140.3 352.0,2143.9C353.8,2147.5 355.6,2151.1 357.4,2154.7C359.2,2158.2 361.5,2162.0 363.1,2165.2C364.4,2167.8 365.3,2170.1 366.4,2172.5" fill="none" stroke="rgb(0,0,191)" stroke-width="1.2"/>
<path d="M78.8,1984.7C82.2,1984.0 85.4,1983.3 88.9,1982.5C92.6,1981.7 96.7,1980.8 100.6,1980.1C104.5,1979.3 108.5,1978.5 112.4,1977.8C116.3,1977.1 120.3,1976.5 124.2,1975.9C128.2,1975.2 132.1,1974.6 136.1,1974.0C140.0,1973.5 144.0,1973.1 147.9,1972.8C151.9,1972.5 155.9,1972.4 159.9,1972.3C163.9,1972.2 167.9,1972.1 171.8,1972.3C175.8,1972.4 179.8,1972.7 183.7,1973.0C187.7,1973.3 191.6,1973.6 195.5,1974.1C199.4,1974.7 203.4,1975.5 207.2,1976.3C210.9,1977.1 214.5,1977.9 218.0,1978.9C221.6,1980.0 225.1,1981.3 228.6,1982.6C232.1,1984.0 235.7,1985.6 239.3,1987.1C242.8,1988.7 246.2,1990.2 249.7,1991.9C253.1,1993.6 256.7,1995.4 260.0,1997.2C263.3,1998.8 266.7,2000.4 269.7,2002.2C272.3,2003.8 274.5,2005.5 277.0,2007.4C279.9,2009.6 283.2,2012.4 286.0,2014.8C288.5,2016.9 290.7,2018.7 293.1,2020.9C295.8,2023.4 298.5,2026.3 301.3,2029.0C304.0,2031.7 306.9,2034.4 309.5,2037.0C312.1,2039.6 314.4,2042.2 316.8,2044.8C319.4,2047.5 322.1,2050.4 324.6,2053.2C326.9,2056.0 329.0,2058.6 331.3,2061.4C333.7,2064.5 336.2,2067.8 338.7,2070.9C341.1,2074.0 343.7,2077.2 345.8,2080.2C347.7,2082.7 349.2,2084.8 350.7,2087.6C352.4,2090.7 353.8,2094.4 355.4,2097.9C357.1,2101.5 358.7,2105.2 360.4,2108.8C362.1,2112.5 364.0,2116.1 365.7,2119.6C367.2,2122.9 368.7,2125.9 370.2,2129.2C371.8,2132.7 373.2,2136.3 374.8,2140.0C376.5,2144.0 378.7,2148.6 380.3,2152.5C381.8,2155.9 383.0,2158.9 384.2,2162.1C385.4,2165.2 386.8,2169.9 387.4,2171.6C387.6,2172.3 387.7,2172.6 387.9,2173.0" fill="none" stroke="rgb(0,0,255)" stroke-width="1.2"/>
<path d="M78.9,1921.5C82.2,1920.6 85.3,1919.6 88.8,1918.7C92.5,1917.7 96.5,1916.6 100.4,1915.7C104.3,1914.7 108.2,1913.8 112.1,1913.0C116.0,1912.1 119.9,1911.2 123.8,1910.4C127.7,1909.6 131.6,1908.9 135.6,1908.2C139.5,1907.6 143.5,1907.0 147.4,1906.5C151.4,1906.0 155.4,1905.5 159.4,1905.1C163.3,1904.7 167.2,1904.4 171.2,1904.2C175.2,1904.0 179.2,1903.9 183.2,1903.8C187.1,1903.7 191.1,1903.5 195.0,1903.6C199.0,1903.8 202.9,1904.2 206.8,1904.5C210.8,1904.8 214.8,1905.1 218.8,1905.6C222.6,1906.1 226.4,1906.7 230.2,1907.5C234.0,1908.3 237.8,1909.3 241.5,1910.4C245.2,1911.4 248.9,1912.7 252.6,1913.9C256.3,1915.2 260.1,1916.7 263.8,1918.2C267.3,1919.6 270.7,1921.1 274.1,1922.6C277.6,1924.2 281.0,1925.8 284.4,1927.7C287.7,1929.5 290.9,1931.7 294.2,1933.8C297.5,1935.8 301.1,1937.8 303.9,1939.9C306.5,1941.8 308.4,1943.5 310.6,1945.8C313.2,1948.3 315.7,1951.6 318.3,1954.6C320.9,1957.6 323.6,1960.6 326.2,1963.6C328.8,1966.5 331.4,1969.2 333.7,1972.1C336.0,1975.0 337.9,1978.0 340.1,1981.1C342.3,1984.3 344.7,1987.7 346.9,1991.0C349.1,1994.2 351.4,1997.3 353.4,2000.5C355.4,2003.5 357.1,2006.5 359.0,2009.6C361.0,2012.9 363.1,2016.5 365.1,2019.9C367.1,2023.4 369.0,2026.9 370.9,2030.4C372.8,2034.0 374.6,2037.5 376.4,2041.1C378.2,2044.7 380.0,2048.3 381.8,2051.8C383.5,2055.3 385.4,2058.6 386.9,2062.0C388.4,2065.3 389.6,2068.4 390.8,2071.9C392.2,2075.5 393.4,2079.4 394.7,2083.2C396.0,2087.0 397.3,2090.8 398.7,2094.5C400.0,2098.3 401.4,2102.1 402.7,2105.8C404.1,2109.6 405.4,2113.4 406.6,2117.2C407.8,2121.0 409.0,2124.8 410.1,2128.7C411.3,2132.5 412.5,2136.3 413.6,2140.1C414.8,2144.0 415.9,2147.8 417.0,2151.6C418.1,2155.5 419.1,2159.6 420.1,2163.2C421.0,2166.4 421.7,2169.1 422.5,2172.1" fill="none" stroke="rgb(0,48,255)" stroke-width="1.2"/>
<path d="M78.9,1857.9C82.2,1857.0 85.4,1856.2 88.8,1855.2C92.5,1854.2 96.5,1853.0 100.4,1852.0C104.2,1851.0 108.1,1850.0 112.0,1849.0C115.9,1848.0 119.8,1847.1 123.7,1846.3C127.6,1845.4 131.5,1844.6 135.4,1843.9C139.3,1843.1 143.2,1842.4 147.2,1841.7C151.1,1841.0 155.1,1840.4 159.0,1839.9C163.0,1839.3 167.0,1839.0 171.0,1838.6C174.9,1838.2 178.9,1837.7 182.9,1837.4C186.8,1837.0 190.8,1836.8 194.7,1836.6C198.7,1836.5 202.7,1836.7 206.7,1836.7C210.7,1836.8 214.7,1836.8 218.7,1836.9C222.6,1837.1 226.6,1837.2 230.5,1837.5C234.4,1837.9 238.3,1838.5 242.2,1839.1C246.1,1839.7 250.1,1840.4 254.0,1841.3C257.8,1842.1 261.5,1843.1 265.3,1844.2C269.0,1845.3 272.8,1846.5 276.5,1847.8C280.3,1849.1 284.1,1850.6 287.8,1852.1C291.4,1853.6 294.9,1855.0 298.3,1856.7C301.8,1858.4 305.3,1860.4 308.5,1862.4C311.6,1864.3 314.4,1866.2 317.3,1868.4C320.3,1870.7 323.1,1873.4 326.0,1876.0C329.0,1878.6 332.0,1881.3 335.0,1884.0C338.0,1886.7 341.2,1889.3 343.9,1892.0C346.4,1894.4 348.5,1896.6 350.5,1899.4C352.7,1902.3 354.5,1905.8 356.5,1909.1C358.6,1912.4 360.7,1915.9 362.8,1919.3C365.0,1922.7 367.1,1926.0 369.2,1929.4C371.4,1932.8 373.6,1936.1 375.6,1939.6C377.5,1943.1 379.3,1946.7 381.1,1950.3C382.8,1953.9 384.5,1957.5 386.3,1961.1C388.0,1964.7 389.9,1968.4 391.6,1971.9C393.1,1975.2 394.5,1978.1 395.9,1981.4C397.4,1984.9 398.8,1988.7 400.2,1992.3C401.7,1996.0 403.3,1999.7 404.7,2003.4C406.2,2007.1 407.6,2010.9 409.0,2014.7C410.3,2018.4 411.6,2022.2 413.0,2026.0C414.4,2029.7 415.8,2033.5 417.2,2037.2C418.5,2041.0 420.1,2044.7 421.3,2048.5C422.6,2052.2 423.8,2056.1 424.9,2059.9C425.9,2063.8 426.9,2067.7 427.9,2071.5C428.9,2075.4 429.9,2079.3 431.0,2083.1C432.0,2087.0 433.1,2090.9 434.1,2094.7C435.1,2098.4 436.1,2101.9 437.0,2105.5C437.9,2109.0 438.6,2112.5 439.4,2116.1C440.2,2119.9 441.1,2123.9 441.9,2127.8C442.8,2131.7 443.7,2135.6 444.5,2139.5C445.4,2143.4 446.2,2147.4 447.0,2151.3C447.8,2155.2 448.7,2159.5 449.5,2163.0C450.1,2166.0 450.7,2168.4 451.2,2171.1" fill="none" stroke="rgb(0,96,255)" stroke-width="1.2"/>
<path d="M78.9,1794.6C82.2,1793.6 85.3,1792.6 88.7,1791.5C92.4,1790.4 96.4,1789.3 100.3,1788.2C104.1,1787.2 108.0,1786.1 111.8,1785.1C115.7,1784.0 119.6,1783.0 123.4,1782.1C127.3,1781.1 131.2,1780.1 135.1,1779.3C139.0,1778.4 142.9,1777.5 146.8,1776.7C150.8,1776.0 154.7,1775.4 158.7,1774.8C162.6,1774.1 166.6,1773.5 170.5,1772.9C174.5,1772.2 178.4,1771.5 182.4,1771.1C186.3,1770.6 190.3,1770.4 194.2,1770.1C198.2,1769.9 202.2,1769.7 206.2,1769.5C210.2,1769.3 214.2,1769.1 218.2,1769.0C222.2,1768.8 226.1,1768.6 230.1,1768.7C234.1,1768.7 238.0,1769.1 241.9,1769.4C245.9,1769.6 249.9,1769.9 253.8,1770.3C257.8,1770.8 261.8,1771.3 265.7,1772.0C269.6,1772.7 273.5,1773.4 277.3,1774.3C281.1,1775.2 285.0,1776.1 288.7,1777.3C292.4,1778.4 295.9,1779.8 299.5,1781.2C303.2,1782.6 306.9,1784.2 310.5,1785.8C314.2,1787.5 317.9,1789.1 321.4,1791.0C324.7,1792.7 327.8,1794.5 330.9,1796.6C334.0,1798.7 336.8,1801.2 339.8,1803.7C342.9,1806.2 346.1,1808.8 349.0,1811.4C351.8,1814.0 354.3,1816.5 356.8,1819.3C359.4,1822.2 361.7,1825.5 364.1,1828.7C366.6,1831.8 369.1,1835.0 371.5,1838.2C374.0,1841.3 376.5,1844.5 379.0,1847.6C381.4,1850.8 384.2,1854.0 386.4,1857.1C388.5,1859.9 390.4,1862.3 392.1,1865.3C393.9,1868.4 395.1,1872.0 396.6,1875.5C398.2,1879.1 399.8,1882.8 401.4,1886.5C403.0,1890.1 404.7,1893.8 406.3,1897.5C407.9,1901.1 409.5,1904.7 411.1,1908.4C412.8,1912.1 414.5,1915.7 416.0,1919.4C417.5,1923.1 418.8,1926.8 420.1,1930.6C421.5,1934.4 422.7,1938.2 424.0,1942.0C425.3,1945.8 426.7,1949.5 428.0,1953.3C429.3,1957.1 430.6,1960.9 431.8,1964.7C433.0,1968.5 433.9,1972.4 435.0,1976.2C436.1,1980.1 437.2,1984.0 438.3,1987.8C439.3,1991.7 440.4,1995.5 441.5,1999.4C442.5,2003.3 443.4,2007.2 444.4,2011.0C445.4,2014.9 446.4,2018.8 447.4,2022.6C448.4,2026.5 449.5,2030.5 450.6,2034.2C451.5,2037.8 452.5,2041.2 453.4,2044.7C454.2,2048.3 454.9,2051.9 455.6,2055.6C456.4,2059.5 457.2,2063.5 458.0,2067.4C458.8,2071.3 459.6,2075.2 460.4,2079.2C461.2,2083.1 462.0,2087.0 462.8,2090.9C463.6,2094.8 464.4,2098.8 465.1,2102.7C465.8,2106.6 466.3,2110.6 467.0,2114.5C467.6,2118.5 468.2,2122.4 468.9,2126.4C469.5,2130.3 470.2,2134.3 470.8,2138.2C471.4,2142.2 472.1,2146.1 472.7,2150.1C473.4,2154.0 474.1,2158.1 474.7,2161.9C475.3,2165.4 475.8,2168.7 476.4,2172.1" fill="none" stroke="rgb(0,159,255)" stroke-width="1.2"/>
<path d="M1065.3,1222.8C1062.2,1221.2 1059.4,1219.6 1056.2,1217.9C1052.8,1216.2 1049.1,1214.3 1045.6,1212.5C1042.1,1210.8 1038.5,1209.1 1034.9,1207.5C1031.4,1205.8 1027.8,1204.2 1024.2,1202.5C1020.7,1200.8 1017.2,1199.0 1013.7,1197.2C1010.2,1195.4 1006.7,1193.4 1003.3,1191.5C1000.0,1189.6 995.3,1186.8 993.7,1185.9C993.2,1185.6 993.1,1185.5 992.8,1185.3" fill="none" stroke="rgb(0,159,255)" stroke-width="1.2"/>
<path d="M78.9,1730.1C82.2,1729.1 85.3,1728.1 88.7,1726.9C92.4,1725.7 96.3,1724.4 100.1,1723.2C103.9,1722.0 107.7,1720.7 111.5,1719.6C115.4,1718.4 119.2,1717.3 123.1,1716.2C126.9,1715.1 130.8,1714.1 134.6,1713.1C138.5,1712.2 142.4,1711.4 146.3,1710.5C150.2,1709.6 154.2,1708.8 158.1,1707.9C162.0,1707.1 165.9,1706.1 169.8,1705.4C173.7,1704.6 177.7,1704.0 181.6,1703.4C185.6,1702.9 189.5,1702.4 193.5,1701.9C197.5,1701.4 201.5,1700.9 205.4,1700.4C209.4,1700.0 213.4,1699.5 217.4,1699.1C221.3,1698.7 225.2,1698.3 229.2,1698.1C233.2,1697.9 237.2,1697.9 241.1,1697.9C245.1,1697.8 249.2,1697.8 253.1,1697.8C257.1,1697.8 261.1,1697.7 265.0,1698.0C269.0,1698.2 272.9,1698.7 276.8,1699.1C280.7,1699.6 284.7,1700.1 288.7,1700.7C292.6,1701.3 296.5,1701.8 300.3,1702.6C304.2,1703.5 307.9,1704.6 311.7,1705.8C315.4,1706.9 319.1,1708.1 322.8,1709.5C326.5,1710.9 330.1,1712.5 333.6,1714.1C337.2,1715.8 340.7,1717.7 344.1,1719.6C347.5,1721.5 350.7,1723.5 353.8,1725.7C356.9,1727.9 359.9,1730.2 362.9,1732.6C365.9,1734.9 369.0,1737.3 371.7,1740.0C374.4,1742.7 376.8,1745.9 379.3,1748.9C381.8,1751.9 384.3,1755.1 386.9,1758.2C389.4,1761.3 392.0,1764.5 394.5,1767.5C396.8,1770.4 399.2,1773.1 401.2,1776.2C403.1,1779.2 404.6,1782.5 406.3,1785.8C408.0,1789.2 409.8,1792.9 411.6,1796.5C413.4,1800.1 415.2,1803.7 417.0,1807.2C418.8,1810.8 420.6,1814.3 422.5,1817.9C424.3,1821.4 426.2,1825.0 428.0,1828.5C429.8,1832.0 431.8,1835.3 433.3,1838.8C434.7,1842.2 435.7,1845.5 436.9,1849.1C438.1,1852.8 439.1,1856.7 440.3,1860.6C441.4,1864.4 442.6,1868.2 443.8,1872.0C444.9,1875.9 446.1,1879.7 447.3,1883.5C448.4,1887.3 449.6,1891.1 450.8,1895.0C452.0,1898.8 453.2,1902.6 454.3,1906.4C455.4,1910.3 456.3,1914.2 457.3,1918.0C458.2,1921.9 459.1,1925.8 460.1,1929.7C461.0,1933.6 462.0,1937.5 462.9,1941.4C463.9,1945.2 464.9,1949.1 465.7,1953.0C466.6,1956.9 467.3,1960.9 468.1,1964.8C468.9,1968.7 469.6,1972.6 470.4,1976.6C471.1,1980.5 471.9,1984.4 472.6,1988.4C473.3,1992.3 474.0,1996.2 474.7,2000.2C475.4,2004.1 476.1,2008.1 476.8,2012.0C477.5,2015.9 478.2,2019.9 479.0,2023.8C479.7,2027.7 480.5,2031.6 481.2,2035.6C481.9,2039.5 482.5,2043.5 483.1,2047.4C483.7,2051.4 484.2,2055.4 484.8,2059.3C485.4,2063.3 486.0,2067.2 486.6,2071.2C487.2,2075.1 487.8,2079.1 488.4,2083.0C489.0,2087.0 489.6,2091.0 490.1,2094.9C490.6,2098.9 491.1,2102.9 491.5,2106.8C492.0,2110.8 492.4,2114.8 492.8,2118.8C493.3,2122.7 493.7,2126.7 494.2,2130.7C494.6,2134.7 495.1,2138.6 495.6,2142.6C496.1,2146.6 496.6,2150.5 497.1,2154.5C497.6,2158.5 498.2,2163.3 498.6,2166.4C498.8,2168.5 499.0,2169.8 499.2,2171.5" fill="none" stroke="rgb(0,207,255)" stroke-width="1.2"/>
<path d="M1066.5,1286.7C1064.3,1285.5 1062.3,1284.4 1059.7,1283.1C1056.6,1281.4 1052.6,1279.4 1049.1,1277.6C1045.5,1275.8 1041.9,1274.0 1038.3,1272.2C1034.7,1270.4 1031.1,1268.7 1027.5,1266.9C1023.9,1265.1 1020.3,1263.4 1016.7,1261.6C1013.0,1259.9 1009.4,1258.2 1005.8,1256.5C1002.1,1254.7 998.5,1253.0 994.8,1251.3C991.2,1249.5 987.6,1247.7 984.0,1245.9C980.4,1244.1 976.8,1242.3 973.2,1240.6C969.6,1238.8 965.9,1237.0 962.3,1235.2C958.7,1233.4 955.1,1231.5 951.6,1229.7C948.0,1227.9 944.4,1226.0 940.8,1224.1C937.3,1222.3 933.7,1220.4 930.2,1218.5C926.7,1216.6 923.2,1214.5 919.7,1212.5C916.3,1210.5 912.9,1208.4 909.4,1206.3C906.0,1204.2 902.6,1202.2 899.2,1200.0C895.9,1197.8 892.6,1195.4 889.4,1193.1C886.4,1190.9 881.9,1187.5 880.5,1186.4C880.0,1186.1 879.9,1186.0 879.6,1185.7" fill="none" stroke="rgb(0,207,255)" stroke-width="1.2"/>
<path d="M79.0,1664.0C82.2,1662.8 85.3,1661.7 88.6,1660.5C92.3,1659.1 96.2,1657.7 99.9,1656.4C103.7,1655.0 107.4,1653.6 111.2,1652.4C115.0,1651.1 118.9,1650.0 122.7,1648.9C126.6,1647.8 130.4,1646.7 134.3,1645.6C138.1,1644.5 142.0,1643.4 145.8,1642.3C149.7,1641.3 153.5,1640.1 157.4,1639.2C161.2,1638.2 165.2,1637.4 169.1,1636.5C173.0,1635.6 176.9,1634.8 180.8,1634.0C184.7,1633.2 188.6,1632.4 192.6,1631.7C196.5,1630.9 200.4,1630.2 204.4,1629.5C208.3,1628.8 212.2,1628.1 216.2,1627.5C220.1,1626.9 224.0,1626.4 228.0,1625.9C231.9,1625.4 235.9,1625.0 239.9,1624.6C243.9,1624.1 247.8,1623.7 251.8,1623.3C255.8,1622.9 259.7,1622.4 263.7,1622.2C267.6,1622.1 271.6,1622.2 275.5,1622.2C279.5,1622.3 283.5,1622.4 287.5,1622.5C291.5,1622.7 295.6,1622.9 299.5,1623.1C303.5,1623.3 307.4,1623.4 311.3,1623.9C315.1,1624.4 318.8,1625.2 322.6,1626.1C326.4,1627.0 330.3,1628.1 334.2,1629.1C338.1,1630.1 342.0,1630.9 345.8,1632.1C349.4,1633.2 352.9,1634.3 356.4,1635.8C359.9,1637.2 363.3,1639.1 366.7,1641.0C370.1,1642.9 373.5,1644.9 376.7,1647.1C379.9,1649.2 383.1,1651.4 386.1,1653.8C389.1,1656.1 392.0,1658.4 394.7,1661.1C397.5,1663.8 400.0,1666.9 402.6,1669.9C405.3,1672.8 408.0,1675.9 410.7,1678.9C413.3,1681.8 416.2,1684.7 418.6,1687.6C420.8,1690.3 422.7,1692.7 424.5,1695.6C426.5,1698.8 428.0,1702.4 429.8,1705.8C431.6,1709.3 433.4,1712.9 435.3,1716.5C437.1,1720.0 439.0,1723.5 440.9,1727.1C442.8,1730.6 444.8,1734.1 446.7,1737.6C448.5,1741.0 450.4,1744.1 451.8,1747.6C453.3,1751.1 454.2,1754.8 455.3,1758.5C456.5,1762.3 457.5,1766.2 458.7,1770.1C459.8,1773.9 461.0,1777.7 462.1,1781.6C463.3,1785.4 464.5,1789.2 465.6,1793.1C466.8,1796.9 468.0,1800.7 469.2,1804.5C470.4,1808.3 471.7,1812.2 472.9,1816.0C474.0,1819.6 475.2,1823.0 476.1,1826.6C477.0,1830.2 477.6,1833.9 478.3,1837.7C479.1,1841.5 479.8,1845.5 480.6,1849.5C481.3,1853.4 482.1,1857.3 482.9,1861.2C483.6,1865.2 484.4,1869.1 485.2,1873.0C485.9,1876.9 486.7,1880.9 487.5,1884.8C488.3,1888.7 489.2,1892.6 489.9,1896.5C490.6,1900.5 491.3,1904.4 491.9,1908.4C492.6,1912.3 493.1,1916.3 493.8,1920.2C494.4,1924.2 495.0,1928.1 495.7,1932.1C496.3,1936.0 497.0,1940.0 497.5,1943.9C498.1,1947.9 498.7,1951.8 499.2,1955.8C499.7,1959.8 500.2,1963.8 500.7,1967.7C501.2,1971.7 501.8,1975.7 502.2,1979.6C502.7,1983.6 503.2,1987.6 503.6,1991.6C504.1,1995.5 504.5,1999.5 505.0,2003.5C505.4,2007.5 505.9,2011.4 506.4,2015.4C506.8,2019.4 507.3,2023.3 507.8,2027.3C508.2,2031.3 508.7,2035.3 509.1,2039.2C509.6,2043.2 509.9,2047.2 510.3,2051.2C510.7,2055.2 511.1,2059.1 511.5,2063.1C511.9,2067.1 512.3,2071.1 512.8,2075.1C513.2,2079.0 513.6,2083.0 514.0,2087.0C514.4,2091.0 514.7,2095.0 515.0,2099.0C515.3,2102.9 515.6,2106.9 515.9,2110.9C516.2,2114.9 516.5,2118.9 516.8,2122.9C517.1,2126.9 517.4,2130.9 517.7,2134.9C518.0,2138.8 518.4,2142.8 518.7,2146.8C519.1,2150.8 519.4,2154.8 519.7,2158.8C520.1,2162.5 520.5,2167.7 520.7,2169.9C520.8,2170.8 520.8,2171.2 520.9,2171.9" fill="none" stroke="rgb(16,255,239)" stroke-width="1.2"/>
<path d="M1066.1,1349.5C1063.4,1348.1 1060.8,1346.9 1057.9,1345.4C1054.6,1343.7 1050.8,1341.7 1047.3,1339.9C1043.7,1338.1 1040.2,1336.2 1036.6,1334.4C1033.1,1332.6 1029.5,1330.7 1025.9,1328.9C1022.4,1327.1 1018.8,1325.4 1015.1,1323.7C1011.5,1322.0 1007.9,1320.4 1004.2,1318.8C1000.6,1317.1 996.9,1315.5 993.3,1313.9C989.6,1312.2 986.0,1310.6 982.3,1309.0C978.7,1307.4 975.0,1305.8 971.4,1304.1C967.7,1302.5 964.1,1300.8 960.5,1299.1C956.9,1297.4 953.3,1295.8 949.6,1294.1C946.0,1292.4 942.4,1290.8 938.8,1289.1C935.2,1287.4 931.5,1285.7 927.9,1284.1C924.3,1282.4 920.7,1280.7 917.1,1279.0C913.5,1277.3 909.8,1275.7 906.2,1274.0C902.7,1272.3 899.3,1270.7 895.9,1268.9C892.4,1267.1 889.0,1265.2 885.5,1263.4C882.0,1261.5 878.4,1259.6 874.9,1257.6C871.4,1255.7 867.8,1253.8 864.3,1251.8C860.8,1249.9 857.4,1247.9 853.9,1245.9C850.4,1243.9 846.9,1241.9 843.5,1239.8C840.0,1237.8 836.5,1235.8 833.2,1233.5C830.0,1231.3 826.9,1228.7 823.7,1226.2C820.6,1223.8 817.5,1221.2 814.4,1218.7C811.3,1216.2 808.2,1213.7 805.1,1211.1C802.1,1208.5 799.1,1205.8 796.2,1203.1C793.2,1200.4 790.2,1197.7 787.3,1195.0C784.4,1192.3 780.6,1188.6 778.8,1186.9C778.0,1186.1 777.6,1185.7 777.0,1185.1" fill="none" stroke="rgb(16,255,239)" stroke-width="1.2"/>
<path d="M79.0,1602.9C82.2,1601.6 85.3,1600.4 88.6,1599.2C92.2,1597.8 96.1,1596.4 99.9,1595.1C103.7,1593.7 107.4,1592.4 111.2,1591.1C115.0,1589.7 118.8,1588.4 122.5,1587.1C126.3,1585.8 130.1,1584.5 133.9,1583.3C137.7,1582.0 141.5,1580.7 145.3,1579.6C149.1,1578.4 153.0,1577.4 156.8,1576.3C160.7,1575.2 164.5,1574.1 168.4,1573.1C172.3,1572.0 176.1,1571.0 180.0,1570.0C183.9,1569.0 187.7,1568.1 191.6,1567.1C195.5,1566.1 199.4,1565.2 203.3,1564.3C207.2,1563.4 211.1,1562.5 215.0,1561.7C218.9,1560.9 222.8,1560.1 226.8,1559.3C230.7,1558.5 234.6,1557.7 238.5,1556.9C242.4,1556.1 246.3,1555.2 250.3,1554.5C254.2,1553.8 258.1,1553.3 262.0,1552.8C266.0,1552.3 270.0,1552.0 273.9,1551.6C277.9,1551.3 281.9,1550.9 285.9,1550.6C289.9,1550.3 293.9,1550.1 297.9,1549.8C301.9,1549.6 305.9,1549.3 309.9,1549.2C313.8,1549.1 317.6,1548.9 321.5,1549.1C325.4,1549.3 329.3,1550.0 333.2,1550.5C337.1,1551.0 341.1,1551.6 345.0,1552.2C349.0,1552.7 353.0,1553.3 356.9,1553.9C360.9,1554.4 364.9,1554.8 368.7,1555.5C372.5,1556.3 376.1,1557.1 379.7,1558.4C383.3,1559.7 386.9,1561.5 390.5,1563.1C394.0,1564.7 397.6,1566.3 401.0,1568.1C404.4,1569.9 407.7,1571.9 410.9,1574.0C414.1,1576.1 417.2,1578.3 420.2,1580.8C423.1,1583.3 425.8,1586.0 428.5,1588.8C431.3,1591.6 434.1,1594.6 436.8,1597.5C439.4,1600.3 442.3,1602.9 444.6,1605.8C446.7,1608.6 448.4,1611.3 450.3,1614.4C452.3,1617.9 454.3,1621.9 456.3,1625.6C458.2,1629.2 460.2,1632.7 462.2,1636.2C464.2,1639.7 466.2,1643.2 468.2,1646.6C470.2,1650.0 472.4,1653.3 474.1,1656.7C475.7,1659.9 476.8,1662.9 478.0,1666.3C479.3,1669.8 480.3,1673.8 481.5,1677.6C482.7,1681.4 483.9,1685.2 485.1,1689.0C486.3,1692.8 487.5,1696.6 488.8,1700.4C490.0,1704.2 491.3,1708.0 492.6,1711.8C493.8,1715.6 495.3,1719.5 496.4,1723.2C497.5,1726.8 498.6,1730.2 499.4,1733.8C500.2,1737.5 500.6,1741.4 501.3,1745.2C501.9,1749.1 502.5,1753.1 503.2,1757.0C503.9,1761.0 504.5,1764.9 505.2,1768.9C505.9,1772.8 506.6,1776.7 507.2,1780.7C507.9,1784.6 508.6,1788.6 509.4,1792.5C510.1,1796.4 510.8,1800.3 511.5,1804.3C512.2,1808.2 513.0,1812.1 513.7,1816.1C514.3,1820.0 514.7,1824.0 515.2,1828.0C515.6,1831.9 516.0,1835.9 516.5,1839.9C516.9,1843.9 517.4,1847.8 517.8,1851.8C518.3,1855.8 518.7,1859.8 519.2,1863.7C519.6,1867.7 520.1,1871.7 520.6,1875.7C521.0,1879.6 521.5,1883.6 522.0,1887.6C522.4,1891.6 522.9,1895.5 523.3,1899.5C523.7,1903.5 524.0,1907.5 524.4,1911.5C524.8,1915.4 525.2,1919.4 525.5,1923.4C525.9,1927.4 526.3,1931.4 526.7,1935.3C527.0,1939.3 527.4,1943.3 527.7,1947.3C528.1,1951.3 528.4,1955.3 528.7,1959.3C529.0,1963.3 529.3,1967.2 529.6,1971.2C529.9,1975.2 530.2,1979.2 530.4,1983.2C530.7,1987.2 531.0,1991.2 531.2,1995.2C531.5,1999.2 531.8,2003.2 532.0,2007.2C532.3,2011.1 532.6,2015.1 532.8,2019.1C533.1,2023.1 533.4,2027.1 533.6,2031.1C533.9,2035.1 534.1,2039.1 534.3,2043.1C534.6,2047.1 534.8,2051.1 535.0,2055.1C535.3,2059.1 535.5,2063.0 535.8,2067.0C536.0,2071.0 536.3,2075.0 536.5,2079.0C536.7,2083.0 537.0,2087.0 537.2,2091.0C537.4,2095.0 537.6,2099.0 537.7,2103.0C537.9,2107.0 538.1,2111.0 538.2,2115.0C538.4,2119.0 538.6,2123.0 538.7,2127.0C538.9,2131.0 539.1,2135.0 539.3,2138.9C539.5,2142.9 539.7,2146.9 539.9,2150.9C540.1,2154.9 540.3,2159.3 540.5,2162.9C540.7,2165.9 540.8,2168.4 541.0,2171.2" fill="none" stroke="rgb(64,255,191)" stroke-width="1.2"/>
<path d="M1065.4,1413.3C1062.3,1411.9 1059.3,1410.5 1056.0,1409.0C1052.5,1407.4 1048.8,1405.7 1045.1,1404.0C1041.5,1402.4 1037.8,1400.7 1034.2,1399.1C1030.6,1397.4 1026.9,1395.7 1023.3,1394.1C1019.6,1392.4 1016.0,1390.8 1012.3,1389.1C1008.7,1387.4 1005.1,1385.8 1001.4,1384.1C997.7,1382.5 994.1,1380.9 990.4,1379.3C986.7,1377.7 983.0,1376.2 979.3,1374.6C975.6,1373.1 972.0,1371.5 968.3,1369.9C964.6,1368.4 960.9,1366.8 957.2,1365.2C953.5,1363.6 949.8,1362.1 946.2,1360.5C942.5,1358.9 938.8,1357.3 935.1,1355.7C931.5,1354.0 927.8,1352.4 924.1,1350.8C920.4,1349.2 916.8,1347.6 913.1,1345.9C909.4,1344.3 905.8,1342.7 902.1,1341.0C898.4,1339.4 894.8,1337.7 891.1,1336.1C887.5,1334.4 883.8,1332.8 880.1,1331.1C876.6,1329.5 873.2,1328.0 869.7,1326.3C866.2,1324.6 862.8,1322.8 859.4,1321.1C855.9,1319.3 852.3,1317.4 848.8,1315.6C845.2,1313.7 841.7,1311.9 838.1,1310.1C834.6,1308.3 831.0,1306.5 827.4,1304.7C823.9,1303.0 820.3,1301.3 816.7,1299.5C813.1,1297.8 809.5,1296.1 805.9,1294.3C802.4,1292.5 798.8,1290.7 795.4,1288.7C791.9,1286.7 788.7,1284.3 785.3,1282.1C782.0,1280.0 778.7,1277.7 775.3,1275.5C772.0,1273.3 768.6,1271.2 765.4,1268.9C762.1,1266.6 758.9,1264.1 755.8,1261.7C752.6,1259.3 749.4,1256.8 746.4,1254.2C743.3,1251.7 740.2,1249.2 737.3,1246.4C734.5,1243.6 731.9,1240.5 729.2,1237.5C726.5,1234.6 723.8,1231.5 721.2,1228.6C718.8,1225.8 716.6,1223.3 714.3,1220.6C711.9,1217.7 709.6,1214.6 707.2,1211.6C704.8,1208.5 702.3,1205.3 699.8,1202.1C697.4,1199.0 694.7,1195.6 692.5,1192.7C690.5,1190.1 688.7,1187.8 686.9,1185.4" fill="none" stroke="rgb(64,255,191)" stroke-width="1.2"/>
<path d="M79.1,1539.7C82.2,1538.3 85.2,1537.0 88.5,1535.7C92.1,1534.2 95.9,1532.6 99.6,1531.0C103.3,1529.5 107.0,1528.0 110.7,1526.5C114.4,1525.0 118.1,1523.5 121.9,1522.1C125.6,1520.7 129.4,1519.4 133.2,1518.1C136.9,1516.7 140.7,1515.4 144.5,1514.1C148.3,1512.8 152.1,1511.5 155.9,1510.2C159.6,1509.0 163.5,1507.7 167.3,1506.5C171.1,1505.3 174.9,1504.1 178.7,1502.9C182.5,1501.7 186.3,1500.5 190.1,1499.3C194.0,1498.1 197.8,1497.0 201.7,1495.9C205.5,1494.8 209.3,1493.6 213.2,1492.5C217.0,1491.4 220.8,1490.2 224.7,1489.1C228.5,1488.0 232.3,1486.8 236.2,1485.8C240.0,1484.7 243.9,1483.7 247.8,1482.8C251.7,1481.9 255.6,1481.1 259.5,1480.2C263.4,1479.4 267.3,1478.5 271.3,1477.7C275.2,1476.8 279.1,1476.0 283.0,1475.3C286.9,1474.5 290.9,1473.8 294.8,1473.0C298.7,1472.3 302.6,1471.5 306.6,1470.8C310.5,1470.1 314.5,1469.4 318.4,1468.9C322.4,1468.5 326.4,1468.3 330.4,1468.0C334.4,1467.7 338.4,1467.4 342.4,1467.1C346.3,1466.9 350.3,1466.6 354.3,1466.3C358.3,1466.0 362.3,1465.8 366.3,1465.5C370.3,1465.2 374.3,1464.9 378.3,1464.7C382.3,1464.5 386.3,1464.1 390.2,1464.3C394.2,1464.5 398.2,1465.3 402.1,1466.0C406.0,1466.6 410.0,1467.4 413.9,1468.1C417.9,1468.8 421.8,1469.5 425.7,1470.3C429.6,1471.1 433.5,1472.1 437.4,1473.1C441.2,1474.2 445.1,1475.5 448.9,1476.7C452.6,1477.9 456.4,1478.7 459.8,1480.5C463.2,1482.3 466.2,1485.0 469.2,1487.4C472.3,1490.0 475.1,1492.8 478.1,1495.5C481.0,1498.2 484.1,1500.9 486.9,1503.6C489.7,1506.4 492.7,1508.9 494.9,1512.0C497.1,1515.1 498.4,1518.8 500.1,1522.3C501.8,1525.9 503.4,1529.6 505.0,1533.2C506.7,1536.9 508.4,1540.5 510.1,1544.1C511.7,1547.7 513.5,1551.3 515.2,1554.9C516.8,1558.6 518.8,1562.1 520.1,1565.8C521.4,1569.6 522.3,1573.5 523.2,1577.4C524.2,1581.3 524.9,1585.2 525.7,1589.1C526.6,1593.0 527.4,1596.9 528.3,1600.8C529.1,1604.7 530.0,1608.6 530.9,1612.5C531.7,1616.4 532.6,1620.4 533.4,1624.3C534.2,1628.2 535.2,1632.1 535.9,1636.0C536.7,1639.9 537.2,1643.9 537.8,1647.8C538.3,1651.8 538.7,1655.8 539.2,1659.7C539.6,1663.7 540.1,1667.7 540.6,1671.7C541.0,1675.6 541.5,1679.6 542.0,1683.6C542.5,1687.5 542.9,1691.5 543.4,1695.5C543.9,1699.5 544.4,1703.4 544.8,1707.4C545.3,1711.4 545.8,1715.3 546.2,1719.3C546.6,1723.3 546.8,1727.3 547.1,1731.3C547.4,1735.3 547.6,1739.3 547.8,1743.3C548.0,1747.3 548.3,1751.2 548.5,1755.2C548.7,1759.2 549.0,1763.2 549.2,1767.2C549.4,1771.2 549.7,1775.2 549.9,1779.2C550.2,1783.2 550.4,1787.2 550.7,1791.2C550.9,1795.2 551.2,1799.2 551.5,1803.1C551.7,1807.1 552.0,1811.1 552.2,1815.1C552.4,1819.1 552.5,1823.1 552.6,1827.1C552.8,1831.1 553.0,1835.1 553.1,1839.1C553.3,1843.1 553.4,1847.1 553.6,1851.1C553.7,1855.1 553.9,1859.1 554.0,1863.1C554.2,1867.1 554.3,1871.1 554.5,1875.1C554.7,1879.1 554.8,1883.1 555.0,1887.1C555.1,1891.1 555.3,1895.1 555.4,1899.1C555.6,1903.1 555.7,1907.1 555.8,1911.1C555.9,1915.0 556.1,1919.0 556.2,1923.0C556.3,1927.0 556.4,1931.0 556.6,1935.0C556.7,1939.0 556.8,1943.0 556.9,1947.0C557.0,1951.0 557.1,1955.0 557.2,1959.0C557.3,1963.0 557.5,1967.0 557.6,1971.0C557.7,1975.0 557.8,1979.0 557.8,1983.0C557.9,1987.0 558.0,1991.0 558.1,1995.0C558.2,1999.0 558.3,2003.0 558.4,2007.0C558.5,2011.0 558.5,2015.0 558.6,2019.0C558.7,2023.0 558.8,2027.0 558.9,2031.0C559.0,2035.0 559.1,2039.0 559.1,2043.0C559.2,2047.0 559.3,2051.0 559.4,2055.0C559.5,2059.0 559.5,2063.0 559.6,2067.0C559.7,2071.0 559.8,2075.0 559.8,2079.0C559.9,2083.0 560.0,2087.0 560.1,2091.0C560.1,2095.0 560.2,2099.0 560.2,2103.0C560.3,2107.0 560.3,2111.0 560.4,2115.0C560.4,2119.0 560.5,2123.0 560.6,2127.0C560.6,2131.0 560.7,2135.0 560.7,2139.0C560.8,2143.0 560.9,2147.0 560.9,2151.0C561.0,2155.0 561.1,2159.4 561.1,2163.0C561.2,2166.0 561.2,2168.5 561.3,2171.3" fill="none" stroke="rgb(112,255,143)" stroke-width="1.2"/>
<path d="M1065.4,1476.5C1062.3,1475.1 1059.3,1473.8 1056.0,1472.4C1052.5,1470.9 1048.7,1469.2 1045.0,1467.7C1041.3,1466.1 1037.6,1464.7 1033.9,1463.1C1030.2,1461.6 1026.4,1460.1 1022.7,1458.6C1019.0,1457.1 1015.3,1455.6 1011.6,1454.1C1007.9,1452.6 1004.2,1451.1 1000.5,1449.6C996.8,1448.1 993.0,1446.7 989.3,1445.2C985.6,1443.8 981.9,1442.3 978.1,1440.8C974.4,1439.4 970.7,1437.9 966.9,1436.5C963.2,1435.1 959.4,1433.7 955.7,1432.3C951.9,1430.9 948.2,1429.5 944.4,1428.1C940.7,1426.6 937.0,1425.2 933.2,1423.8C929.5,1422.4 925.7,1420.9 922.0,1419.5C918.2,1418.1 914.5,1416.8 910.7,1415.4C906.9,1414.0 903.2,1412.7 899.4,1411.3C895.7,1409.9 891.9,1408.5 888.1,1407.2C884.4,1405.8 880.6,1404.4 876.8,1403.1C873.1,1401.7 869.3,1400.4 865.5,1399.0C861.8,1397.6 858.0,1396.3 854.3,1394.9C850.5,1393.5 846.7,1392.1 843.0,1390.7C839.2,1389.3 835.5,1387.9 831.7,1386.5C828.0,1385.1 824.3,1383.6 820.5,1382.2C816.8,1380.7 813.0,1379.3 809.3,1377.9C805.5,1376.5 801.8,1375.1 798.0,1373.8C794.2,1372.4 790.4,1371.1 786.7,1369.8C782.9,1368.5 779.1,1367.2 775.3,1365.8C771.6,1364.5 767.9,1363.2 764.2,1361.8C760.6,1360.4 757.0,1358.8 753.3,1357.3C749.5,1355.7 745.5,1354.0 741.8,1352.5C738.4,1351.1 735.3,1349.8 731.9,1348.3C728.4,1346.8 724.7,1345.3 721.1,1343.7C717.5,1342.0 713.9,1340.2 710.3,1338.4C706.7,1336.6 703.2,1334.7 699.6,1332.9C696.1,1331.1 692.3,1329.2 689.0,1327.4C685.9,1325.8 682.8,1324.5 680.1,1322.7C677.7,1321.0 675.8,1319.1 673.5,1317.0C670.8,1314.5 667.8,1311.4 665.0,1308.6C662.2,1305.9 659.4,1303.2 656.7,1300.6C654.1,1298.0 651.7,1295.6 649.1,1293.1C646.4,1290.6 643.1,1287.8 641.1,1285.4C639.5,1283.5 638.5,1282.2 637.4,1280.1C636.0,1277.4 635.1,1273.5 633.8,1270.1C632.5,1266.4 631.1,1262.6 629.7,1258.8C628.3,1255.1 626.9,1251.3 625.5,1247.6C624.1,1243.8 622.5,1239.9 621.3,1236.3C620.2,1233.3 619.3,1230.7 618.5,1227.6C617.6,1224.3 617.1,1220.6 616.4,1217.0C615.6,1213.1 614.9,1209.1 614.1,1205.2C613.3,1201.3 612.5,1197.1 611.8,1193.4C611.1,1190.2 610.6,1187.4 610.0,1184.5" fill="none" stroke="rgb(112,255,143)" stroke-width="1.2"/>
<path d="M79.1,1475.4C82.2,1474.0 85.2,1472.7 88.5,1471.3C92.0,1469.8 95.9,1468.2 99.6,1466.6C103.3,1465.1 107.0,1463.6 110.7,1462.1C114.4,1460.6 118.1,1459.1 121.8,1457.6C125.5,1456.1 129.2,1454.6 132.9,1453.1C136.6,1451.6 140.3,1450.1 144.1,1448.7C147.8,1447.2 151.5,1445.7 155.2,1444.3C159.0,1442.8 162.7,1441.3 166.4,1439.9C170.1,1438.5 173.9,1437.1 177.6,1435.7C181.4,1434.2 185.1,1432.9 188.9,1431.5C192.6,1430.0 196.3,1428.6 200.1,1427.2C203.8,1425.8 207.6,1424.4 211.3,1423.0C215.0,1421.6 218.8,1420.1 222.5,1418.8C226.3,1417.4 230.0,1416.1 233.8,1414.7C237.6,1413.3 241.3,1412.0 245.1,1410.6C248.8,1409.3 252.6,1407.9 256.3,1406.6C260.1,1405.2 263.9,1403.9 267.6,1402.5C271.4,1401.2 275.2,1399.8 278.9,1398.5C282.7,1397.1 286.4,1395.8 290.2,1394.4C293.9,1393.0 297.7,1391.7 301.4,1390.3C305.2,1388.9 308.9,1387.5 312.7,1386.1C316.4,1384.7 320.1,1383.3 323.9,1381.9C327.6,1380.5 331.3,1379.0 335.1,1377.7C338.8,1376.3 342.6,1375.0 346.4,1373.7C350.1,1372.4 353.9,1371.1 357.7,1369.8C361.5,1368.5 365.2,1367.2 369.0,1365.9C372.8,1364.5 376.5,1363.2 380.2,1361.8C384.0,1360.3 387.6,1358.7 391.3,1357.2C395.0,1355.7 398.7,1354.2 402.4,1352.7C406.1,1351.1 409.9,1349.6 413.5,1348.1C417.0,1346.6 420.5,1345.2 423.9,1343.6C427.3,1342.0 430.5,1340.4 433.9,1338.7C437.4,1336.9 441.0,1335.1 444.6,1333.3C448.2,1331.5 452.0,1329.6 455.3,1327.9C458.3,1326.3 461.1,1325.2 463.6,1323.4C466.1,1321.6 468.0,1319.4 470.4,1317.1C473.1,1314.6 476.1,1311.6 479.0,1308.8C481.8,1306.0 484.7,1303.2 487.6,1300.4C490.5,1297.6 493.5,1294.8 496.2,1292.1C498.8,1289.6 501.9,1287.2 503.6,1284.9C505.0,1283.0 505.5,1281.6 506.4,1279.4C507.7,1276.4 509.0,1272.0 510.3,1268.3C511.7,1264.6 513.0,1260.8 514.4,1257.0C515.8,1253.3 517.2,1249.5 518.5,1245.8C519.9,1242.1 521.5,1238.4 522.6,1234.8C523.7,1231.4 524.4,1228.3 525.2,1224.9C526.1,1221.1 526.7,1217.0 527.5,1213.1C528.2,1209.1 529.0,1205.2 529.7,1201.3C530.5,1197.4 531.4,1192.6 532.0,1189.5C532.4,1187.5 532.7,1186.1 533.0,1184.5" fill="none" stroke="rgb(175,255,80)" stroke-width="1.2"/>
<path d="M1065.4,1539.7C1062.3,1538.3 1059.3,1537.0 1056.0,1535.6C1052.4,1534.1 1048.6,1532.5 1044.9,1531.0C1041.2,1529.5 1037.5,1527.9 1033.8,1526.4C1030.1,1524.9 1026.4,1523.4 1022.7,1522.0C1018.9,1520.5 1015.2,1519.2 1011.4,1517.9C1007.6,1516.5 1003.9,1515.2 1000.1,1513.9C996.3,1512.6 992.5,1511.3 988.7,1510.0C984.9,1508.7 981.1,1507.5 977.3,1506.2C973.5,1505.0 969.7,1503.8 965.9,1502.6C962.1,1501.4 958.3,1500.1 954.5,1499.0C950.6,1497.8 946.8,1496.7 943.0,1495.5C939.1,1494.4 935.3,1493.3 931.5,1492.1C927.6,1491.0 923.8,1489.9 919.9,1488.8C916.1,1487.6 912.3,1486.5 908.4,1485.4C904.6,1484.3 900.7,1483.3 896.8,1482.3C892.9,1481.4 889.0,1480.6 885.1,1479.7C881.2,1478.8 877.3,1477.9 873.4,1477.1C869.5,1476.2 865.6,1475.4 861.7,1474.6C857.7,1473.8 853.8,1473.1 849.9,1472.4C845.9,1471.6 842.0,1470.8 838.1,1470.1C834.1,1469.4 830.2,1468.6 826.3,1468.1C822.3,1467.6 818.3,1467.4 814.3,1467.1C810.3,1466.7 806.3,1466.5 802.3,1466.2C798.3,1465.9 794.3,1465.6 790.3,1465.4C786.3,1465.1 782.4,1464.8 778.4,1464.5C774.4,1464.3 770.4,1464.0 766.4,1463.8C762.4,1463.5 758.4,1463.0 754.5,1463.1C750.6,1463.2 746.7,1463.7 742.9,1464.3C738.9,1464.8 735.0,1465.7 731.1,1466.4C727.1,1467.1 723.2,1467.7 719.2,1468.5C715.3,1469.3 711.4,1470.0 707.5,1471.0C703.7,1472.0 699.9,1473.3 696.0,1474.5C692.2,1475.7 688.2,1476.5 684.7,1478.1C681.2,1479.7 678.0,1481.6 675.0,1483.9C671.8,1486.2 669.1,1489.3 666.1,1492.0C663.2,1494.7 660.2,1497.4 657.3,1500.2C654.4,1502.9 651.2,1505.3 648.8,1508.3C646.4,1511.2 644.7,1514.6 642.9,1518.0C641.1,1521.5 639.7,1525.3 638.1,1529.0C636.5,1532.6 634.8,1536.3 633.2,1539.9C631.5,1543.5 629.8,1547.2 628.1,1550.8C626.5,1554.4 624.5,1557.9 623.1,1561.7C621.6,1565.3 620.3,1569.1 619.3,1573.0C618.3,1576.8 617.6,1580.8 616.8,1584.7C616.0,1588.7 615.2,1592.6 614.3,1596.5C613.5,1600.4 612.6,1604.3 611.8,1608.2C611.0,1612.1 610.1,1616.1 609.3,1620.0C608.4,1623.9 607.5,1627.8 606.7,1631.7C606.0,1635.6 605.2,1639.6 604.6,1643.5C604.0,1647.5 603.6,1651.5 603.2,1655.5C602.7,1659.4 602.2,1663.4 601.8,1667.4C601.3,1671.4 600.8,1675.3 600.4,1679.3C599.9,1683.3 599.4,1687.3 599.0,1691.3C598.5,1695.2 598.0,1699.2 597.6,1703.2C597.1,1707.2 596.5,1711.1 596.1,1715.1C595.7,1719.1 595.3,1723.1 595.0,1727.1C594.8,1731.1 594.6,1735.1 594.4,1739.1C594.1,1743.1 593.9,1747.1 593.7,1751.1C593.5,1755.1 593.2,1759.1 593.0,1763.1C592.8,1767.1 592.5,1771.1 592.3,1775.1C592.0,1779.1 591.8,1783.0 591.5,1787.0C591.3,1791.0 591.0,1795.0 590.8,1799.0C590.5,1803.0 590.2,1807.0 590.0,1811.0C589.8,1815.0 589.6,1819.0 589.5,1823.0C589.3,1827.0 589.2,1831.0 589.0,1835.0C588.9,1839.0 588.7,1843.0 588.6,1847.0C588.4,1851.0 588.3,1855.0 588.1,1859.0C588.0,1863.0 587.8,1867.0 587.6,1871.0C587.5,1875.0 587.3,1879.0 587.2,1883.0C587.0,1887.0 586.9,1891.0 586.7,1895.0C586.6,1899.0 586.4,1903.0 586.3,1907.0C586.2,1911.0 586.1,1915.0 585.9,1919.0C585.8,1923.0 585.7,1927.0 585.6,1931.0C585.4,1935.0 585.3,1939.0 585.2,1943.0C585.1,1947.0 585.0,1951.0 584.9,1955.0C584.8,1959.0 584.7,1963.0 584.5,1967.0C584.4,1971.0 584.3,1975.0 584.2,1979.0C584.2,1983.0 584.1,1987.0 584.0,1991.0C583.9,1995.0 583.8,1999.0 583.7,2003.0C583.6,2007.0 583.5,2011.0 583.5,2015.0C583.4,2019.0 583.3,2023.0 583.2,2027.0C583.1,2031.0 583.0,2035.0 582.9,2039.0C582.9,2043.0 582.8,2047.0 582.7,2051.0C582.6,2055.0 582.5,2059.0 582.5,2063.0C582.4,2067.0 582.3,2071.0 582.2,2075.0C582.2,2079.0 582.1,2083.0 582.0,2087.0C581.9,2091.0 581.9,2095.0 581.8,2099.0C581.8,2103.0 581.7,2107.0 581.7,2111.0C581.6,2115.0 581.6,2119.0 581.5,2123.0C581.4,2127.0 581.4,2131.0 581.3,2135.0C581.3,2139.0 581.2,2143.0 581.1,2147.0C581.1,2151.0 581.0,2155.1 580.9,2159.0C580.9,2162.8 580.8,2168.3 580.7,2170.1C580.7,2170.7 580.7,2170.9 580.7,2171.3" fill="none" stroke="rgb(175,255,80)" stroke-width="1.2"/>
<path d="M79.1,1412.3C82.2,1410.9 85.2,1409.5 88.5,1408.0C92.0,1406.4 95.7,1404.7 99.4,1403.0C103.0,1401.4 106.7,1399.7 110.3,1398.0C113.9,1396.4 117.6,1394.7 121.2,1393.1C124.9,1391.4 128.5,1389.8 132.2,1388.1C135.8,1386.4 139.4,1384.7 143.1,1383.1C146.7,1381.5 150.4,1379.9 154.1,1378.3C157.8,1376.8 161.5,1375.2 165.2,1373.6C168.8,1372.1 172.5,1370.5 176.2,1368.9C179.9,1367.3 183.6,1365.8 187.2,1364.2C190.9,1362.6 194.6,1361.0 198.3,1359.4C201.9,1357.8 205.6,1356.2 209.3,1354.5C212.9,1352.9 216.6,1351.3 220.3,1349.6C223.9,1348.0 227.6,1346.4 231.2,1344.7C234.9,1343.1 238.5,1341.4 242.2,1339.8C245.9,1338.1 249.5,1336.4 253.1,1334.8C256.8,1333.1 260.5,1331.4 264.1,1329.7C267.7,1328.0 271.4,1326.3 274.9,1324.5C278.5,1322.7 282.1,1320.8 285.6,1319.0C289.2,1317.1 292.8,1315.2 296.3,1313.4C299.9,1311.5 303.4,1309.7 307.0,1307.8C310.6,1306.0 314.2,1304.2 317.8,1302.4C321.4,1300.6 325.0,1298.8 328.6,1297.1C332.1,1295.3 335.8,1293.6 339.2,1291.8C342.4,1290.1 345.3,1288.4 348.4,1286.5C351.7,1284.5 355.0,1282.1 358.3,1279.8C361.6,1277.6 365.0,1275.4 368.3,1273.2C371.6,1270.9 374.9,1268.7 378.2,1266.4C381.4,1264.0 384.5,1261.5 387.7,1259.0C390.8,1256.6 394.1,1254.0 397.0,1251.5C399.8,1249.2 402.3,1247.0 404.9,1244.4C407.5,1241.8 409.9,1238.8 412.5,1235.9C415.2,1233.0 417.9,1230.0 420.5,1227.0C423.1,1223.9 425.7,1220.9 428.3,1217.8C430.8,1214.7 433.2,1211.5 435.7,1208.4C438.2,1205.2 440.6,1202.1 443.1,1198.9C445.6,1195.8 448.5,1192.1 450.5,1189.5C451.9,1187.7 452.9,1186.5 454.0,1185.0" fill="none" stroke="rgb(223,255,32)" stroke-width="1.2"/>
<path d="M1065.5,1604.0C1062.3,1602.7 1059.2,1601.5 1055.9,1600.2C1052.3,1598.9 1048.4,1597.5 1044.6,1596.1C1040.9,1594.7 1037.1,1593.4 1033.3,1592.1C1029.6,1590.8 1025.8,1589.4 1022.0,1588.1C1018.2,1586.8 1014.4,1585.5 1010.6,1584.3C1006.9,1583.0 1003.1,1581.7 999.3,1580.5C995.4,1579.3 991.6,1578.3 987.7,1577.2C983.9,1576.1 980.0,1575.0 976.2,1573.9C972.3,1572.9 968.5,1571.8 964.6,1570.8C960.7,1569.8 956.8,1568.8 953.0,1567.9C949.1,1566.9 945.2,1565.9 941.3,1565.0C937.4,1564.1 933.5,1563.2 929.6,1562.4C925.7,1561.5 921.8,1560.8 917.8,1560.0C913.9,1559.2 910.0,1558.3 906.1,1557.5C902.2,1556.7 898.2,1555.9 894.3,1555.2C890.4,1554.4 886.5,1553.8 882.6,1553.2C878.7,1552.7 874.6,1552.4 870.7,1552.0C866.7,1551.7 862.7,1551.3 858.7,1551.0C854.8,1550.6 850.8,1550.4 846.9,1550.1C842.9,1549.9 838.9,1549.7 835.0,1549.5C831.0,1549.3 827.0,1549.0 823.1,1549.1C819.2,1549.3 815.3,1549.8 811.4,1550.3C807.4,1550.8 803.5,1551.4 799.5,1552.0C795.5,1552.5 791.6,1553.1 787.6,1553.7C783.7,1554.2 779.6,1554.7 775.7,1555.4C772.0,1556.0 768.3,1556.6 764.7,1557.8C761.0,1558.9 757.4,1560.7 753.8,1562.3C750.3,1563.9 746.8,1565.4 743.4,1567.2C739.9,1568.9 736.5,1570.8 733.3,1572.8C730.0,1574.9 726.8,1577.1 723.8,1579.5C720.9,1581.8 718.3,1584.3 715.6,1586.9C712.8,1589.6 710.1,1592.6 707.4,1595.4C704.7,1598.3 701.7,1601.1 699.2,1604.0C696.9,1606.8 694.9,1609.6 692.9,1612.6C690.9,1615.9 689.2,1619.5 687.3,1623.0C685.4,1626.5 683.5,1630.0 681.5,1633.5C679.6,1637.0 677.6,1640.4 675.6,1643.9C673.5,1647.5 671.0,1651.2 669.2,1654.7C667.5,1657.9 666.1,1660.9 664.8,1664.2C663.4,1667.8 662.4,1671.7 661.3,1675.5C660.1,1679.3 658.9,1683.2 657.7,1687.0C656.4,1690.8 655.2,1694.6 654.0,1698.4C652.7,1702.2 651.5,1706.0 650.2,1709.8C648.9,1713.6 647.6,1717.5 646.3,1721.2C645.2,1724.8 643.9,1728.3 643.1,1731.9C642.2,1735.6 641.8,1739.3 641.1,1743.1C640.5,1747.0 639.8,1751.0 639.2,1755.0C638.5,1758.9 637.9,1762.9 637.2,1766.8C636.5,1770.8 635.8,1774.7 635.2,1778.6C634.5,1782.6 633.8,1786.5 633.0,1790.4C632.3,1794.4 631.6,1798.3 630.9,1802.2C630.2,1806.2 629.3,1810.1 628.7,1814.0C628.1,1818.0 627.6,1822.0 627.1,1825.9C626.6,1829.9 626.2,1833.9 625.8,1837.9C625.3,1841.8 624.9,1845.8 624.4,1849.8C624.0,1853.8 623.5,1857.7 623.1,1861.7C622.6,1865.7 622.1,1869.7 621.7,1873.6C621.2,1877.6 620.7,1881.6 620.3,1885.6C619.8,1889.5 619.3,1893.5 618.9,1897.5C618.5,1901.5 618.2,1905.5 617.8,1909.4C617.4,1913.4 617.0,1917.4 616.7,1921.4C616.3,1925.4 615.9,1929.4 615.5,1933.3C615.2,1937.3 614.8,1941.3 614.4,1945.3C614.1,1949.3 613.8,1953.3 613.5,1957.3C613.2,1961.2 612.9,1965.2 612.6,1969.2C612.3,1973.2 612.0,1977.2 611.7,1981.2C611.4,1985.2 611.2,1989.2 610.9,1993.2C610.6,1997.2 610.4,2001.2 610.1,2005.2C609.8,2009.1 609.6,2013.1 609.3,2017.1C609.0,2021.1 608.8,2025.1 608.5,2029.1C608.3,2033.1 608.0,2037.1 607.8,2041.1C607.5,2045.1 607.3,2049.1 607.1,2053.1C606.8,2057.1 606.6,2061.0 606.4,2065.0C606.1,2069.0 605.9,2073.0 605.6,2077.0C605.4,2081.0 605.1,2085.0 604.9,2089.0C604.7,2093.0 604.5,2097.0 604.4,2101.0C604.2,2105.0 604.0,2109.0 603.9,2113.0C603.7,2117.0 603.5,2121.0 603.3,2125.0C603.2,2129.0 603.0,2133.0 602.8,2136.9C602.6,2140.9 602.4,2144.9 602.2,2148.9C602.0,2152.9 601.8,2157.1 601.6,2160.9C601.4,2164.5 601.1,2169.7 601.0,2171.2C601.0,2171.6 601.0,2171.8 601.0,2172.1" fill="none" stroke="rgb(223,255,32)" stroke-width="1.2"/>
<path d="M78.4,1348.5C81.1,1347.1 83.7,1345.9 86.6,1344.4C89.9,1342.7 93.7,1340.7 97.2,1338.9C100.8,1337.0 104.3,1335.2 107.9,1333.4C111.4,1331.6 115.0,1329.7 118.6,1327.9C122.2,1326.2 125.8,1324.5 129.5,1322.9C133.1,1321.2 136.7,1319.6 140.4,1317.9C144.0,1316.3 147.7,1314.6 151.3,1313.0C155.0,1311.4 158.7,1309.8 162.3,1308.1C166.0,1306.5 169.6,1304.9 173.3,1303.3C176.9,1301.6 180.6,1299.9 184.2,1298.2C187.8,1296.6 191.5,1294.9 195.1,1293.2C198.7,1291.6 202.4,1289.9 206.0,1288.2C209.7,1286.6 213.3,1284.9 216.9,1283.2C220.6,1281.5 224.2,1279.8 227.8,1278.2C231.5,1276.5 235.1,1274.9 238.7,1273.1C242.3,1271.4 245.9,1269.6 249.4,1267.8C253.0,1266.0 256.5,1264.1 260.0,1262.2C263.5,1260.3 267.1,1258.4 270.6,1256.5C274.1,1254.6 277.6,1252.7 281.1,1250.7C284.6,1248.8 288.0,1246.8 291.5,1244.8C294.9,1242.8 298.4,1240.9 301.8,1238.8C305.2,1236.7 308.6,1234.7 311.8,1232.4C315.0,1230.1 318.1,1227.5 321.2,1225.0C324.4,1222.5 327.5,1220.0 330.6,1217.5C333.7,1215.0 336.8,1212.4 339.8,1209.8C342.8,1207.2 345.8,1204.5 348.7,1201.8C351.7,1199.1 354.7,1196.3 357.6,1193.6C360.3,1191.1 364.3,1187.2 365.6,1185.9C366.0,1185.5 366.1,1185.4 366.4,1185.1" fill="none" stroke="rgb(255,239,0)" stroke-width="1.2"/>
<path d="M1065.5,1668.2C1062.3,1667.0 1059.2,1665.9 1055.9,1664.6C1052.2,1663.3 1048.3,1661.9 1044.6,1660.6C1040.8,1659.2 1037.1,1657.8 1033.3,1656.6C1029.5,1655.3 1025.7,1654.1 1021.8,1653.0C1018.0,1651.8 1014.1,1650.8 1010.3,1649.7C1006.4,1648.6 1002.6,1647.5 998.7,1646.4C994.9,1645.3 991.1,1644.2 987.2,1643.2C983.3,1642.2 979.4,1641.2 975.5,1640.4C971.6,1639.5 967.7,1638.7 963.8,1637.9C959.9,1637.1 956.0,1636.3 952.0,1635.5C948.1,1634.7 944.2,1634.0 940.2,1633.3C936.3,1632.5 932.4,1631.8 928.4,1631.2C924.5,1630.5 920.6,1629.9 916.6,1629.4C912.7,1628.9 908.7,1628.5 904.8,1628.0C900.8,1627.6 896.8,1627.1 892.8,1626.7C888.9,1626.3 884.9,1625.7 880.9,1625.5C876.9,1625.2 872.9,1625.2 868.9,1625.2C864.9,1625.2 860.9,1625.3 856.9,1625.4C852.9,1625.5 848.9,1625.7 844.9,1625.8C841.0,1626.0 837.0,1626.1 833.1,1626.5C829.2,1626.9 825.5,1627.5 821.7,1628.3C817.8,1629.1 814.0,1630.2 810.1,1631.1C806.3,1632.1 802.3,1632.9 798.5,1634.0C794.7,1635.0 790.9,1636.1 787.3,1637.5C783.7,1638.9 780.2,1640.8 776.8,1642.6C773.3,1644.4 769.9,1646.4 766.6,1648.4C763.3,1650.5 760.1,1652.7 757.0,1655.0C753.9,1657.3 750.9,1659.6 748.1,1662.2C745.2,1664.9 742.7,1668.0 740.0,1670.9C737.3,1673.8 734.6,1676.8 731.8,1679.7C729.1,1682.6 726.1,1685.3 723.7,1688.3C721.3,1691.2 719.2,1693.9 717.2,1697.1C715.1,1700.4 713.5,1704.1 711.6,1707.7C709.6,1711.3 707.7,1714.9 705.7,1718.5C703.8,1722.1 701.8,1725.5 699.9,1729.0C697.9,1732.5 695.8,1736.1 693.9,1739.5C692.2,1742.8 690.5,1745.9 689.1,1749.3C687.6,1752.9 686.7,1756.8 685.5,1760.6C684.3,1764.4 683.2,1768.3 682.0,1772.1C680.9,1775.9 679.7,1779.8 678.5,1783.6C677.3,1787.4 676.1,1791.2 674.9,1795.1C673.7,1798.9 672.4,1802.7 671.2,1806.5C670.0,1810.3 668.6,1814.2 667.5,1817.9C666.4,1821.5 665.3,1824.8 664.5,1828.4C663.6,1832.1 663.0,1835.9 662.2,1839.7C661.5,1843.6 660.7,1847.5 659.9,1851.5C659.2,1855.4 658.4,1859.3 657.6,1863.2C656.8,1867.2 656.1,1871.1 655.3,1875.0C654.5,1878.9 653.7,1882.8 652.9,1886.8C652.1,1890.7 651.3,1894.6 650.6,1898.5C649.8,1902.5 649.2,1906.4 648.6,1910.4C648.0,1914.3 647.3,1918.3 646.7,1922.2C646.1,1926.2 645.5,1930.1 644.8,1934.1C644.2,1938.0 643.5,1941.9 642.9,1945.9C642.4,1949.9 641.9,1953.8 641.3,1957.8C640.8,1961.8 640.3,1965.7 639.8,1969.7C639.3,1973.7 638.8,1977.6 638.4,1981.6C637.9,1985.6 637.5,1989.6 637.0,1993.5C636.6,1997.5 636.1,2001.5 635.7,2005.5C635.2,2009.4 634.8,2013.4 634.3,2017.4C633.8,2021.4 633.3,2025.3 632.9,2029.3C632.4,2033.3 632.0,2037.3 631.6,2041.2C631.2,2045.2 630.8,2049.2 630.4,2053.2C630.0,2057.2 629.6,2061.1 629.2,2065.1C628.8,2069.1 628.4,2073.1 628.0,2077.1C627.6,2081.0 627.2,2085.0 626.8,2089.0C626.5,2093.0 626.2,2097.0 625.9,2101.0C625.6,2104.9 625.3,2108.9 625.0,2112.9C624.7,2116.9 624.4,2120.9 624.2,2124.9C623.9,2128.9 623.5,2132.9 623.2,2136.9C622.9,2140.8 622.6,2144.8 622.2,2148.8C621.9,2152.8 621.5,2156.9 621.2,2160.8C620.9,2164.3 620.6,2167.6 620.4,2171.0" fill="none" stroke="rgb(255,239,0)" stroke-width="1.2"/>
<path d="M78.5,1285.3C81.2,1283.9 83.7,1282.6 86.6,1281.1C89.9,1279.3 93.7,1277.4 97.3,1275.6C100.8,1273.8 104.4,1272.1 108.0,1270.3C111.6,1268.5 115.2,1266.7 118.8,1265.0C122.4,1263.2 126.0,1261.5 129.6,1259.8C133.2,1258.0 136.9,1256.4 140.5,1254.6C144.1,1252.9 147.7,1251.2 151.3,1249.4C154.9,1247.6 158.4,1245.8 162.0,1244.0C165.6,1242.2 169.2,1240.4 172.8,1238.7C176.4,1236.9 180.0,1235.1 183.5,1233.3C187.1,1231.5 190.7,1229.6 194.2,1227.8C197.8,1225.9 201.3,1224.1 204.9,1222.2C208.4,1220.4 211.9,1218.5 215.4,1216.5C218.9,1214.5 222.3,1212.5 225.7,1210.4C229.2,1208.4 232.6,1206.4 236.0,1204.2C239.4,1202.1 242.8,1200.0 246.1,1197.7C249.4,1195.5 252.9,1192.8 255.8,1190.7C258.2,1188.9 260.2,1187.4 262.4,1185.7" fill="none" stroke="rgb(255,175,0)" stroke-width="1.2"/>
<path d="M1065.6,1730.1C1062.3,1729.1 1059.2,1728.1 1055.8,1727.0C1052.1,1725.8 1048.2,1724.4 1044.4,1723.2C1040.6,1722.0 1036.8,1720.7 1033.0,1719.5C1029.1,1718.3 1025.3,1717.2 1021.5,1716.1C1017.6,1715.0 1013.8,1713.9 1009.9,1712.9C1006.0,1712.0 1002.1,1711.1 998.2,1710.3C994.3,1709.4 990.4,1708.5 986.5,1707.7C982.6,1706.8 978.7,1705.9 974.8,1705.1C970.9,1704.4 966.9,1703.6 963.0,1703.0C959.0,1702.4 955.1,1702.0 951.1,1701.5C947.1,1701.0 943.1,1700.5 939.2,1700.0C935.2,1699.5 931.2,1699.1 927.2,1698.7C923.3,1698.3 919.4,1697.8 915.4,1697.6C911.4,1697.4 907.4,1697.4 903.4,1697.3C899.4,1697.2 895.4,1697.2 891.4,1697.2C887.5,1697.2 883.5,1697.1 879.5,1697.3C875.6,1697.5 871.7,1697.9 867.8,1698.4C863.8,1698.8 859.8,1699.4 855.8,1699.9C851.9,1700.5 848.1,1701.0 844.3,1701.8C840.5,1702.5 836.8,1703.5 833.1,1704.6C829.3,1705.7 825.5,1707.0 821.8,1708.3C818.1,1709.7 814.6,1711.1 811.1,1712.7C807.5,1714.4 803.9,1716.3 800.5,1718.2C797.1,1720.1 793.8,1721.9 790.7,1724.1C787.5,1726.2 784.6,1728.5 781.6,1730.8C778.6,1733.1 775.4,1735.5 772.6,1738.1C770.0,1740.6 767.8,1743.3 765.4,1746.1C762.9,1749.0 760.4,1752.2 758.0,1755.3C755.5,1758.4 752.9,1761.5 750.4,1764.6C748.0,1767.7 745.3,1770.6 743.1,1773.7C741.0,1776.8 739.3,1780.1 737.5,1783.4C735.6,1786.9 734.0,1790.6 732.2,1794.2C730.4,1797.8 728.6,1801.4 726.8,1805.0C725.0,1808.6 723.2,1812.1 721.4,1815.7C719.5,1819.3 717.7,1822.8 715.8,1826.4C714.0,1829.9 712.0,1833.3 710.4,1836.8C708.9,1840.2 707.7,1843.4 706.5,1846.8C705.3,1850.5 704.2,1854.5 703.1,1858.4C702.0,1862.2 700.8,1866.0 699.6,1869.9C698.5,1873.7 697.3,1877.5 696.1,1881.4C695.0,1885.2 693.8,1889.0 692.6,1892.9C691.4,1896.6 690.2,1900.4 689.1,1904.1C688.1,1907.5 687.3,1910.7 686.4,1914.2C685.4,1918.0 684.5,1922.0 683.6,1925.9C682.7,1929.8 681.7,1933.6 680.8,1937.5C679.8,1941.4 678.8,1945.3 677.9,1949.2C677.0,1953.1 676.2,1957.0 675.4,1960.9C674.6,1964.8 673.9,1968.8 673.1,1972.7C672.4,1976.6 671.6,1980.5 670.8,1984.5C670.1,1988.4 669.4,1992.3 668.7,1996.3C668.0,2000.2 667.3,2004.1 666.6,2008.1C665.9,2012.0 665.2,2015.9 664.4,2019.9C663.7,2023.8 662.9,2027.7 662.2,2031.7C661.5,2035.6 660.8,2039.5 660.1,2043.5C659.5,2047.4 659.0,2051.4 658.4,2055.4C657.8,2059.3 657.2,2063.3 656.6,2067.2C656.0,2071.2 655.4,2075.1 654.8,2079.1C654.2,2083.0 653.6,2087.0 653.0,2091.0C652.5,2094.9 652.0,2098.9 651.5,2102.9C651.0,2106.8 650.6,2110.8 650.2,2114.8C649.7,2118.8 649.3,2122.7 648.8,2126.7C648.3,2130.7 647.9,2134.7 647.4,2138.6C646.9,2142.6 646.4,2146.6 645.9,2150.5C645.4,2154.5 644.9,2158.7 644.4,2162.4C644.0,2165.7 643.6,2168.5 643.3,2171.5" fill="none" stroke="rgb(255,175,0)" stroke-width="1.2"/>
<path d="M79.2,1221.7C82.3,1220.0 85.1,1218.5 88.3,1216.8C91.7,1215.0 95.3,1213.1 98.9,1211.4C102.4,1209.6 106.0,1207.9 109.5,1206.1C113.1,1204.4 116.6,1202.7 120.1,1200.9C123.6,1199.2 127.1,1197.3 130.6,1195.4C134.1,1193.5 137.9,1191.3 141.0,1189.5C143.6,1188.0 145.7,1186.7 148.1,1185.3" fill="none" stroke="rgb(255,128,0)" stroke-width="1.2"/>
<path d="M1065.6,1794.6C1062.3,1793.6 1059.2,1792.5 1055.8,1791.5C1052.1,1790.4 1048.1,1789.2 1044.3,1788.2C1040.4,1787.1 1036.5,1786.0 1032.7,1785.0C1028.8,1783.9 1025.0,1782.9 1021.1,1781.9C1017.2,1781.0 1013.3,1780.0 1009.4,1779.1C1005.5,1778.2 1001.6,1777.3 997.7,1776.5C993.8,1775.8 989.8,1775.2 985.9,1774.5C982.0,1773.9 978.0,1773.3 974.1,1772.7C970.1,1772.1 966.2,1771.4 962.2,1770.9C958.3,1770.4 954.3,1770.1 950.4,1769.9C946.4,1769.6 942.4,1769.5 938.4,1769.3C934.4,1769.2 930.4,1769.0 926.4,1768.9C922.4,1768.7 918.4,1768.5 914.5,1768.6C910.5,1768.7 906.6,1769.0 902.7,1769.2C898.7,1769.5 894.7,1769.9 890.7,1770.4C886.8,1770.8 883.0,1771.2 879.1,1771.9C875.2,1772.6 871.3,1773.5 867.4,1774.3C863.6,1775.2 859.9,1776.1 856.2,1777.2C852.5,1778.4 848.9,1779.7 845.3,1781.1C841.7,1782.6 838.0,1784.2 834.5,1785.9C830.9,1787.5 827.4,1789.1 824.0,1790.9C820.6,1792.6 817.3,1794.4 814.2,1796.4C811.2,1798.5 808.5,1800.8 805.6,1803.1C802.6,1805.6 799.4,1808.3 796.5,1810.9C793.7,1813.5 791.0,1815.8 788.5,1818.5C786.1,1821.2 784.0,1824.2 781.7,1827.1C779.3,1830.2 776.9,1833.5 774.4,1836.7C772.0,1839.8 769.6,1843.0 767.1,1846.2C764.7,1849.3 762.1,1852.5 759.7,1855.6C757.5,1858.6 755.1,1861.2 753.2,1864.3C751.4,1867.2 750.3,1870.4 748.8,1873.6C747.2,1877.1 745.6,1881.0 744.0,1884.6C742.4,1888.3 740.8,1892.0 739.2,1895.6C737.6,1899.3 736.0,1903.0 734.4,1906.6C732.7,1910.3 731.0,1913.9 729.5,1917.6C727.9,1921.3 726.5,1925.0 725.2,1928.8C723.8,1932.5 722.6,1936.4 721.3,1940.1C720.0,1943.9 718.6,1947.8 717.3,1951.5C716.1,1955.1 714.7,1958.5 713.6,1962.1C712.4,1965.6 711.5,1969.0 710.5,1972.6C709.4,1976.3 708.3,1980.3 707.3,1984.1C706.2,1988.0 705.0,1991.8 703.9,1995.6C702.9,1999.5 701.9,2003.4 700.9,2007.3C699.9,2011.1 698.9,2015.0 697.9,2018.9C696.9,2022.7 695.8,2026.6 694.7,2030.4C693.7,2034.3 692.5,2038.1 691.5,2042.0C690.6,2045.9 689.7,2049.8 688.9,2053.7C688.0,2057.6 687.3,2061.5 686.5,2065.5C685.7,2069.4 684.9,2073.3 684.1,2077.2C683.2,2081.1 682.4,2085.0 681.6,2089.0C680.8,2092.9 679.9,2096.8 679.2,2100.7C678.5,2104.6 677.9,2108.6 677.2,2112.5C676.6,2116.5 675.9,2120.4 675.3,2124.4C674.6,2128.3 674.0,2132.3 673.3,2136.2C672.6,2140.2 672.0,2144.1 671.3,2148.1C670.6,2152.0 670.0,2156.0 669.3,2159.9C668.7,2163.6 667.8,2168.7 667.4,2170.9C667.3,2171.8 667.2,2172.2 667.1,2172.9" fill="none" stroke="rgb(255,128,0)" stroke-width="1.2"/>
<path d="M1065.6,1858.0C1062.3,1857.0 1059.1,1856.2 1055.7,1855.2C1052.0,1854.2 1048.0,1853.1 1044.1,1852.0C1040.3,1851.0 1036.4,1849.9 1032.5,1848.9C1028.7,1848.0 1024.8,1847.1 1020.9,1846.2C1017.0,1845.3 1013.1,1844.5 1009.2,1843.7C1005.2,1842.9 1001.3,1842.2 997.4,1841.5C993.4,1840.8 989.5,1840.1 985.5,1839.5C981.6,1839.0 977.6,1838.6 973.6,1838.2C969.6,1837.8 965.6,1837.4 961.6,1837.0C957.7,1836.7 953.8,1836.3 949.8,1836.1C945.8,1836.0 941.8,1836.1 937.8,1836.1C933.9,1836.2 929.8,1836.2 925.8,1836.3C921.9,1836.5 918.0,1836.5 914.0,1836.8C910.1,1837.1 906.2,1837.7 902.3,1838.2C898.4,1838.8 894.5,1839.4 890.6,1840.2C886.8,1841.0 883.0,1842.0 879.2,1843.0C875.5,1844.1 871.6,1845.2 867.9,1846.5C864.3,1847.7 860.7,1849.1 857.1,1850.5C853.5,1852.0 849.7,1853.5 846.2,1855.2C842.7,1856.8 839.4,1858.5 836.2,1860.4C832.9,1862.3 829.6,1864.3 826.6,1866.6C823.5,1868.9 820.7,1871.6 817.7,1874.1C814.7,1876.8 811.7,1879.5 808.7,1882.2C805.7,1884.9 802.5,1887.6 799.8,1890.2C797.2,1892.7 794.8,1894.8 792.7,1897.5C790.4,1900.3 788.6,1903.7 786.6,1907.0C784.5,1910.3 782.4,1913.8 780.3,1917.2C778.2,1920.6 776.0,1924.1 773.9,1927.4C771.8,1930.7 769.6,1933.9 767.7,1937.2C765.9,1940.4 764.3,1943.4 762.6,1946.7C760.8,1950.2 759.1,1954.0 757.4,1957.6C755.7,1961.2 753.9,1964.8 752.1,1968.4C750.5,1971.8 748.8,1975.1 747.3,1978.5C745.8,1981.8 744.6,1985.1 743.2,1988.6C741.7,1992.3 740.1,1996.2 738.6,2000.0C737.2,2003.7 735.7,2007.2 734.4,2010.9C733.0,2014.6 731.7,2018.4 730.3,2022.2C729.0,2026.0 727.6,2029.7 726.2,2033.5C724.8,2037.2 723.4,2040.9 722.0,2044.7C720.7,2048.5 719.4,2052.2 718.2,2056.1C717.1,2059.9 716.2,2063.8 715.1,2067.7C714.1,2071.5 713.1,2075.4 712.1,2079.3C711.0,2083.1 710.0,2087.0 708.9,2090.9C707.9,2094.7 706.8,2098.6 705.8,2102.4C704.8,2106.3 704.0,2110.2 703.1,2114.1C702.2,2118.0 701.3,2121.9 700.5,2125.8C699.6,2129.7 698.8,2133.6 697.9,2137.6C697.1,2141.5 696.2,2145.4 695.4,2149.3C694.6,2153.2 693.7,2157.3 692.9,2161.0C692.2,2164.5 691.1,2169.6 690.8,2171.1C690.7,2171.5 690.6,2171.7 690.6,2171.9" fill="none" stroke="rgb(255,80,0)" stroke-width="1.2"/>
<path d="M1065.6,1921.5C1062.3,1920.5 1059.2,1919.6 1055.7,1918.7C1052.0,1917.7 1048.0,1916.6 1044.1,1915.6C1040.3,1914.6 1036.3,1913.7 1032.4,1912.8C1028.5,1912.0 1024.7,1911.1 1020.7,1910.3C1016.8,1909.5 1012.9,1908.7 1009.0,1908.0C1005.0,1907.3 1001.1,1906.8 997.1,1906.2C993.1,1905.7 989.2,1905.2 985.2,1904.7C981.3,1904.3 977.3,1904.0 973.4,1903.8C969.4,1903.5 965.4,1903.4 961.4,1903.3C957.4,1903.2 953.5,1903.0 949.5,1903.0C945.6,1903.1 941.6,1903.4 937.7,1903.8C933.7,1904.1 929.7,1904.4 925.7,1904.9C921.8,1905.4 918.0,1905.8 914.2,1906.5C910.4,1907.3 906.7,1908.2 902.9,1909.2C899.2,1910.3 895.4,1911.5 891.7,1912.8C888.1,1914.0 884.6,1915.3 881.0,1916.7C877.4,1918.1 873.6,1919.7 870.0,1921.3C866.5,1922.9 863.0,1924.4 859.7,1926.3C856.3,1928.1 853.2,1930.2 849.9,1932.2C846.5,1934.3 842.7,1936.5 839.6,1938.7C837.0,1940.5 834.8,1942.1 832.6,1944.2C830.2,1946.4 828.3,1949.1 826.0,1951.8C823.5,1954.7 820.7,1957.8 818.1,1960.8C815.5,1963.8 812.7,1966.7 810.3,1969.6C808.0,1972.4 806.2,1975.0 804.1,1977.9C801.8,1981.0 799.6,1984.5 797.3,1987.8C795.0,1991.1 792.7,1994.3 790.5,1997.6C788.2,2001.0 786.1,2004.4 784.0,2007.8C782.1,2011.0 780.3,2014.0 778.5,2017.2C776.6,2020.4 774.8,2023.6 773.0,2026.9C771.1,2030.4 769.2,2034.0 767.4,2037.6C765.6,2041.1 763.8,2044.7 762.0,2048.3C760.2,2051.8 758.2,2055.5 756.6,2059.0C755.0,2062.3 753.6,2065.3 752.3,2068.6C750.9,2072.1 749.8,2075.8 748.6,2079.4C747.3,2083.2 746.0,2087.0 744.7,2090.8C743.4,2094.5 742.0,2098.3 740.6,2102.1C739.3,2105.8 737.9,2109.6 736.6,2113.4C735.3,2117.2 734.2,2121.0 733.0,2124.8C731.9,2128.7 730.7,2132.5 729.5,2136.3C728.4,2140.1 727.2,2143.9 726.1,2147.8C725.0,2151.6 723.9,2155.6 722.9,2159.4C721.9,2163.0 720.6,2168.0 720.0,2170.1C719.8,2171.1 719.7,2171.4 719.5,2172.1" fill="none" stroke="rgb(255,16,0)" stroke-width="1.2"/>
<path d="M1065.7,1984.7C1062.3,1984.0 1059.1,1983.3 1055.6,1982.5C1051.9,1981.7 1047.8,1980.8 1043.9,1979.9C1040.0,1979.1 1036.1,1978.3 1032.2,1977.5C1028.3,1976.7 1024.3,1976.0 1020.4,1975.2C1016.5,1974.5 1012.6,1973.7 1008.6,1973.0C1004.7,1972.3 1000.7,1971.7 996.8,1971.2C992.8,1970.6 988.8,1970.3 984.8,1969.9C980.9,1969.5 976.9,1969.2 972.9,1969.0C968.9,1968.8 965.0,1968.7 961.0,1968.7C957.1,1968.6 953.0,1968.5 949.0,1968.6C945.1,1968.8 941.2,1969.1 937.2,1969.5C933.3,1969.9 929.4,1970.2 925.5,1970.9C921.7,1971.5 918.0,1972.3 914.3,1973.2C910.4,1974.2 906.6,1975.4 902.7,1976.6C898.9,1977.8 895.0,1979.1 891.3,1980.5C887.7,1981.8 884.4,1983.1 880.9,1984.5C877.3,1985.9 873.6,1987.4 870.2,1989.0C866.8,1990.6 863.7,1992.2 860.6,1994.2C857.4,1996.3 854.4,1999.0 851.4,2001.3C848.4,2003.7 845.3,2005.9 842.5,2008.3C839.8,2010.8 837.3,2013.4 834.6,2016.0C831.8,2018.7 828.9,2021.6 826.1,2024.5C823.3,2027.3 820.6,2030.2 817.9,2033.2C815.2,2036.2 812.5,2039.3 810.0,2042.3C807.7,2045.0 805.7,2047.5 803.6,2050.4C801.3,2053.4 799.0,2056.7 796.7,2059.9C794.4,2063.1 792.1,2066.4 789.9,2069.7C787.6,2073.0 785.3,2076.3 783.4,2079.8C781.5,2083.3 780.1,2087.0 778.4,2090.7C776.8,2094.3 775.3,2098.1 773.7,2101.7C772.2,2105.4 770.5,2109.1 768.9,2112.7C767.3,2116.2 765.7,2119.7 764.2,2123.1C762.8,2126.4 761.7,2129.5 760.3,2133.0C758.7,2136.9 756.9,2141.7 755.3,2145.7C753.8,2149.3 752.4,2152.6 751.2,2156.1C749.9,2159.6 748.7,2163.8 747.8,2166.7C747.2,2168.7 746.7,2170.0 746.2,2171.7" fill="none" stroke="rgb(223,0,0)" stroke-width="1.2"/>
<path d="M772.1,2170.8C773.4,2167.7 774.6,2164.7 776.1,2161.5C777.7,2158.0 779.7,2154.3 781.5,2150.7C783.2,2147.1 784.9,2143.5 786.6,2139.9C788.4,2136.3 790.1,2132.7 791.9,2129.2C793.8,2125.6 795.7,2122.1 797.6,2118.6C799.4,2115.0 801.1,2111.4 803.0,2107.8C804.9,2104.3 806.4,2100.6 808.7,2097.3C811.0,2094.1 813.9,2091.3 816.6,2088.4C819.3,2085.5 822.2,2082.7 825.1,2079.9C827.9,2077.1 830.7,2074.2 833.6,2071.6C836.6,2068.9 839.7,2066.3 842.8,2063.8C845.9,2061.3 849.0,2058.9 852.3,2056.5C855.5,2054.1 858.8,2051.9 862.1,2049.7C865.5,2047.6 868.9,2045.4 872.4,2043.5C875.8,2041.6 879.4,2039.9 883.0,2038.4C886.7,2037.0 890.5,2035.9 894.3,2034.8C898.1,2033.7 902.1,2032.9 906.0,2032.0C909.9,2031.2 913.9,2030.4 917.8,2029.8C921.6,2029.2 925.3,2028.6 929.1,2028.3C933.0,2028.0 936.9,2027.9 940.8,2027.9C944.8,2027.9 948.8,2028.1 952.8,2028.4C956.8,2028.6 960.9,2029.0 964.8,2029.4C968.8,2029.8 972.8,2030.3 976.6,2030.8C980.2,2031.3 983.5,2031.7 987.1,2032.3C990.9,2032.9 994.9,2033.7 998.8,2034.4C1002.8,2035.2 1006.7,2036.1 1010.6,2036.9C1014.5,2037.7 1018.4,2038.4 1022.4,2039.1C1026.3,2039.9 1030.2,2040.7 1034.1,2041.6C1038.0,2042.4 1041.9,2043.3 1045.8,2044.2C1049.7,2045.0 1054.3,2045.9 1057.6,2046.5C1060.0,2047.0 1061.7,2047.3 1063.7,2047.7" fill="none" stroke="rgb(175,0,0)" stroke-width="1.2"/>
<path d="M1067.2,2113.7C1063.4,2112.5 1059.6,2111.3 1055.7,2110.2C1051.9,2109.1 1048.0,2108.2 1044.1,2107.2C1040.2,2106.3 1036.4,2105.3 1032.5,2104.3C1028.6,2103.3 1024.8,2102.1 1020.9,2101.3C1017.0,2100.4 1013.0,2100.0 1009.0,2099.3C1005.1,2098.6 1001.2,2097.8 997.2,2097.1C993.3,2096.4 989.4,2095.7 985.4,2095.2C981.4,2094.7 977.4,2094.4 973.5,2094.0C969.5,2093.7 965.5,2093.3 961.5,2093.1C957.5,2092.9 953.5,2092.7 949.5,2092.8C945.5,2092.9 941.5,2093.2 937.5,2093.7C933.6,2094.2 929.7,2095.1 925.8,2095.9C921.8,2096.8 917.9,2097.5 914.1,2098.7C910.2,2099.8 906.5,2101.2 902.8,2102.7C899.1,2104.2 895.5,2106.0 891.9,2107.8C888.3,2109.5 884.7,2111.3 881.2,2113.2C877.7,2115.1 874.3,2117.2 870.8,2119.2C867.4,2121.3 864.0,2123.4 860.6,2125.5C857.1,2127.5 853.1,2128.9 850.2,2131.4C847.2,2134.0 845.1,2137.5 842.7,2140.7C840.3,2143.9 838.1,2147.3 835.9,2150.6C833.6,2153.9 831.2,2157.1 829.0,2160.5C826.9,2163.8 824.0,2168.7 822.7,2170.6C822.2,2171.4 821.9,2171.7 821.6,2172.3" fill="none" stroke="rgb(128,0,0)" stroke-width="1.2"/>
<path d="M81.3,2127.8L89.6,2123.6M87.2,2125.7L89.6,2123.6L86.5,2124.3M81.3,2087.0L90.0,2087.0M87.1,2087.7L90.0,2087.0L87.1,2086.3M81.3,2046.2L89.3,2050.1M86.3,2049.5L89.3,2050.1L87.0,2048.2M81.3,2005.4L89.3,2011.7M86.1,2010.3L89.3,2011.7L87.2,2009.0M81.3,1964.6L92.2,1970.1M88.1,1969.2L92.2,1970.1L89.1,1967.4M81.3,1923.8L67.0,1920.9M72.0,1920.7L67.0,1920.9L71.5,1923.0M81.3,1883.0L65.3,1888.7M70.1,1885.5L65.3,1888.7L71.1,1888.1M81.3,1842.2L65.3,1852.7M69.7,1847.9L65.3,1852.7L71.4,1850.5M81.3,1801.4L63.6,1812.6M68.5,1807.5L63.6,1812.6L70.4,1810.4M81.3,1760.6L68.8,1779.3M71.4,1772.1L68.8,1779.3L74.5,1774.2M81.3,1719.8L71.4,1741.3M72.9,1733.4L71.4,1741.3L76.4,1735.0M81.3,1679.0L71.7,1701.7M73.0,1693.4L71.7,1701.7L76.7,1695.0M81.3,1638.2L74.2,1662.6M74.6,1654.0L74.2,1662.6L78.6,1655.2M81.3,1597.4L71.5,1621.2M72.7,1612.6L71.5,1621.2L76.7,1614.2M81.3,1556.6L74.9,1581.5M74.9,1572.8L74.9,1581.5L79.1,1573.8M81.3,1515.8L76.1,1540.4M75.8,1531.8L76.1,1540.4L79.8,1532.7M81.3,1475.0L73.4,1497.4M74.1,1489.4L73.4,1497.4L77.8,1490.7M81.3,1434.2L74.4,1454.8M75.0,1447.4L74.4,1454.8L78.4,1448.6M81.3,1393.4L73.7,1410.9M74.7,1404.5L73.7,1410.9L77.6,1405.7M81.3,1352.6L75.0,1366.6M75.9,1361.5L75.0,1366.6L78.2,1362.5M81.3,1311.8L76.1,1321.3M77.0,1317.7L76.1,1321.3L78.6,1318.6M81.3,1271.0L73.6,1271.0M76.1,1270.4L73.6,1271.0L76.1,1271.6M81.3,1230.2L76.9,1223.6M78.9,1225.4L76.9,1223.6L77.8,1226.1M81.3,1189.4L77.7,1180.4M79.6,1183.1L77.7,1180.4L78.1,1183.7M122.1,2127.8L125.0,2121.1M124.6,2123.6L125.0,2121.1L123.5,2123.1M122.1,2087.0L115.9,2087.2M117.9,2086.6L115.9,2087.2L118.0,2087.6M122.1,2046.2L127.7,2050.5M125.5,2049.5L127.7,2050.5L126.2,2048.6M122.1,2005.4L130.1,2009.8M127.1,2009.0L130.1,2009.8L127.8,2007.7M122.1,1964.6L133.4,1967.9M129.4,1967.8L133.4,1967.9L130.0,1965.9M122.1,1923.8L108.3,1928.3M112.5,1925.7L108.3,1928.3L113.3,1928.0M122.1,1883.0L109.9,1895.2M113.0,1890.2L109.9,1895.2L115.0,1892.2M122.1,1842.2L116.1,1860.9M116.5,1854.2L116.1,1860.9L119.6,1855.2M122.1,1801.4L113.9,1821.4M115.0,1814.1L113.9,1821.4L118.3,1815.5M122.1,1760.6L119.0,1783.6M118.1,1775.8L119.0,1783.6L121.9,1776.3M122.1,1719.8L119.4,1744.2M118.3,1735.9L119.4,1744.2L122.3,1736.4M122.1,1679.0L115.8,1703.8M115.8,1695.1L115.8,1703.8L119.9,1696.1M122.1,1638.2L118.3,1664.5M117.4,1655.5L118.3,1664.5L121.7,1656.2M122.1,1597.4L117.4,1624.1M116.8,1614.9L117.4,1624.1L121.2,1615.7M122.1,1556.6L118.1,1583.2M117.3,1574.1L118.1,1583.2L121.7,1574.7M122.1,1515.8L118.2,1541.4M117.4,1532.6L118.2,1541.4L121.6,1533.3M122.1,1475.0L117.7,1498.9M117.2,1490.7L117.7,1498.9L121.1,1491.4M122.1,1434.2L116.8,1455.1M116.8,1447.8L116.8,1455.1L120.3,1448.7M122.1,1393.4L117.1,1411.4M117.3,1405.0L117.1,1411.4L120.2,1405.9M122.1,1352.6L118.4,1367.0M118.5,1361.9L118.4,1367.0L120.8,1362.5M122.1,1311.8L118.0,1319.6M118.7,1316.7L118.0,1319.6L120.0,1317.4M122.1,1271.0L116.9,1271.0M118.6,1270.6L116.9,1271.0L118.6,1271.4M122.1,1230.2L120.2,1225.3M121.2,1226.8L120.2,1225.3L120.4,1227.1M122.1,1189.4L119.4,1182.4M120.9,1184.5L119.4,1182.4L119.7,1184.9M163.0,2127.8L158.9,2123.1M160.6,2124.3L158.9,2123.1L159.9,2125.0M163.0,2046.2L159.2,2051.1M160.1,2049.2L159.2,2051.1L160.9,2049.8M163.0,2005.4L170.9,2009.2M168.0,2008.6L170.9,2009.2L168.6,2007.3M163.0,1964.6L167.6,1975.5M165.2,1972.3L167.6,1975.5L167.0,1971.5M163.0,1923.8L149.9,1931.0M153.6,1927.5L149.9,1931.0L154.8,1929.7M163.0,1883.0L159.1,1900.4M159.0,1894.3L159.1,1900.4L161.8,1895.0M163.0,1842.2L156.3,1861.3M156.9,1854.5L156.3,1861.3L160.1,1855.6M163.0,1801.4L159.3,1823.4M158.7,1815.8L159.3,1823.4L162.3,1816.4M163.0,1760.6L160.1,1784.4M159.1,1776.3L160.1,1784.4L163.0,1776.8M163.0,1719.8L161.3,1745.0M159.8,1736.6L161.3,1745.0L163.9,1736.9M163.0,1679.0L159.0,1705.2M158.1,1696.2L159.0,1705.2L162.5,1696.9M163.0,1638.2L160.6,1665.7M159.2,1656.4L160.6,1665.7L163.7,1656.8M163.0,1597.4L159.6,1625.4M158.4,1615.9L159.6,1625.4L163.1,1616.4M163.0,1556.6L160.6,1584.1M159.1,1574.9L160.6,1584.1L163.6,1575.3M163.0,1515.8L160.2,1542.0M159.0,1533.1L160.2,1542.0L163.3,1533.6M163.0,1475.0L160.5,1499.2M159.3,1491.0L160.5,1499.2L163.3,1491.4M163.0,1434.2L159.5,1455.0M158.9,1447.8L159.5,1455.0L162.4,1448.4M163.0,1393.4L160.7,1410.5M160.0,1404.7L160.7,1410.5L162.9,1405.1M163.0,1352.6L161.2,1365.1M160.8,1360.9L161.2,1365.1L162.9,1361.1M163.0,1311.8L162.8,1319.1M162.3,1316.7L162.8,1319.1L163.5,1316.7M163.0,1230.2L163.0,1226.5M163.3,1227.7L163.0,1226.5L162.7,1227.7M163.0,1189.4L162.7,1182.9M163.3,1185.0L162.7,1182.9L162.3,1185.1M203.9,2127.8L197.0,2124.9M199.5,2125.3L197.0,2124.9L199.0,2126.4M203.9,2087.0L197.5,2087.6M199.5,2086.9L197.5,2087.6L199.6,2087.9M203.9,2046.2L199.4,2052.0M200.4,2049.7L199.4,2052.0L201.4,2050.5M203.9,2005.4L199.8,2014.3M200.4,2011.0L199.8,2014.3L201.9,2011.7M203.9,1964.6L199.9,1976.8M200.2,1972.4L199.9,1976.8L202.2,1973.1M203.9,1923.8L200.9,1939.4M200.6,1934.0L200.9,1939.4L203.2,1934.5M203.9,1883.0L202.0,1901.5M201.1,1895.3L202.0,1901.5L204.2,1895.6M203.9,1842.2L202.8,1863.1M201.4,1856.1L202.8,1863.1L204.9,1856.3M203.9,1801.4L203.4,1824.3M201.6,1816.7L203.4,1824.3L205.4,1816.8M203.9,1760.6L203.7,1785.1M201.8,1777.0L203.7,1785.1L205.8,1777.0M203.9,1719.8L204.0,1745.6M201.8,1737.1L204.0,1745.6L206.1,1737.1M203.9,1679.0L204.3,1705.9M201.9,1697.0L204.3,1705.9L206.3,1697.0M203.9,1638.2L204.6,1665.9M202.0,1656.8L204.6,1665.9L206.6,1656.7M203.9,1597.4L204.9,1625.4M202.3,1616.2L204.9,1625.4L206.9,1616.1M203.9,1556.6L205.4,1584.1M202.6,1575.1L205.4,1584.1L207.2,1574.9M203.9,1515.8L206.1,1541.9M203.2,1533.5L206.1,1541.9L207.5,1533.1M203.9,1475.0L207.0,1498.6M204.0,1491.1L207.0,1498.6L207.9,1490.6M203.9,1434.2L207.9,1453.9M204.9,1447.7L207.9,1453.9L208.2,1447.0M203.9,1393.4L208.4,1408.3M205.7,1403.8L208.4,1408.3L208.1,1403.0M203.9,1352.6L207.8,1362.9M205.6,1359.8L207.8,1362.9L207.3,1359.2M203.9,1311.8L206.6,1318.0M205.2,1316.2L206.6,1318.0L206.2,1315.7M203.9,1271.0L205.5,1275.0M204.6,1273.8L205.5,1275.0L205.3,1273.6M203.9,1230.2L205.7,1225.9M205.4,1227.4L205.7,1225.9L204.7,1227.1M203.9,1189.4L206.8,1182.5M206.4,1185.0L206.8,1182.5L205.2,1184.6M244.7,2168.6L236.1,2160.2M239.6,2162.2L236.1,2160.2L238.2,2163.7M244.7,2127.8L235.6,2123.0M239.0,2123.8L235.6,2123.0L238.2,2125.3M244.7,2087.0L235.4,2088.2M238.4,2087.0L235.4,2088.2L238.6,2088.6M244.7,2046.2L236.5,2051.8M238.8,2049.3L236.5,2051.8L239.7,2050.6M244.7,2005.4L238.2,2015.2M239.6,2011.4L238.2,2015.2L241.2,2012.5M244.7,1964.6L239.6,1978.0M240.2,1973.1L239.6,1978.0L242.4,1974.0M244.7,1923.8L241.1,1940.5M240.9,1934.7L241.1,1940.5L243.6,1935.3M244.7,1883.0L241.8,1902.3M241.1,1895.7L241.8,1902.3L244.3,1896.2M244.7,1842.2L242.5,1863.7M241.5,1856.4L242.5,1863.7L245.0,1856.8M244.7,1801.4L243.2,1824.7M241.7,1816.9L243.2,1824.7L245.6,1817.1M244.7,1760.6L243.7,1785.4M242.0,1777.1L243.7,1785.4L246.1,1777.3M244.7,1719.8L244.0,1745.7M242.1,1737.1L244.0,1745.7L246.3,1737.2M244.7,1679.0L244.3,1705.6M242.2,1696.8L244.3,1705.6L246.6,1696.9M244.7,1638.2L244.8,1665.3M242.6,1656.3L244.8,1665.3L247.0,1656.3M244.7,1597.4L245.6,1624.4M243.1,1615.6L245.6,1624.4L247.5,1615.4M244.7,1556.6L246.5,1583.0M243.8,1574.5L246.5,1583.0L248.1,1574.2M244.7,1515.8L247.5,1540.8M244.5,1532.8L247.5,1540.8L248.6,1532.3M244.7,1475.0L248.4,1497.5M245.3,1490.3L248.4,1497.5L249.0,1489.7M244.7,1434.2L248.8,1452.7M245.9,1447.0L248.8,1452.7L249.0,1446.3M244.7,1393.4L248.7,1407.3M246.2,1403.0L248.7,1407.3L248.5,1402.4M244.7,1352.6L248.2,1362.4M246.2,1359.5L248.2,1362.4L247.8,1358.9M244.7,1311.8L248.0,1318.5M246.4,1316.5L248.0,1318.5L247.5,1316.0M244.7,1271.0L250.7,1273.4M248.5,1273.1L250.7,1273.4L248.9,1272.1M244.7,1230.2L248.2,1223.7M247.6,1226.1L248.2,1223.7L246.5,1225.5M244.7,1189.4L248.6,1180.1M248.1,1183.5L248.6,1180.1L246.6,1182.9M285.6,2168.6L276.4,2156.5M280.4,2159.7L276.4,2156.5L278.5,2161.2M285.6,2127.8L272.3,2124.4M277.0,2124.4L272.3,2124.4L276.4,2126.6M285.6,2087.0L273.0,2088.7M277.0,2087.1L273.0,2088.7L277.3,2089.2M285.6,2046.2L273.7,2051.0M277.2,2048.5L273.7,2051.0L278.0,2050.4M285.6,2005.4L275.7,2015.3M278.1,2011.2L275.7,2015.3L279.7,2012.9M285.6,1964.6L277.5,1978.3M279.0,1973.1L277.5,1978.3L281.3,1974.5M285.6,1923.8L279.7,1940.9M280.2,1934.8L279.7,1940.9L283.0,1935.8M285.6,1883.0L279.4,1902.2M279.9,1895.4L279.4,1902.2L283.0,1896.4M285.6,1842.2L279.5,1863.4M279.8,1855.9L279.5,1863.4L283.2,1856.9M285.6,1801.4L280.4,1824.4M280.2,1816.4L280.4,1824.4L284.0,1817.2M285.6,1760.6L284.5,1785.4M282.8,1777.1L284.5,1785.4L286.9,1777.3M285.6,1719.8L284.8,1745.4M283.0,1736.9L284.8,1745.4L287.2,1737.0M285.6,1679.0L285.2,1704.9M283.2,1696.3L285.2,1704.9L287.4,1696.4M285.6,1638.2L285.7,1664.2M283.5,1655.6L285.7,1664.2L287.8,1655.6M285.6,1597.4L286.4,1623.0M284.0,1614.6L286.4,1623.0L288.2,1614.5M285.6,1556.6L287.2,1581.5M284.6,1573.4L287.2,1581.5L288.7,1573.1M285.6,1515.8L288.1,1539.3M285.3,1531.8L288.1,1539.3L289.2,1531.4M285.6,1475.0L288.8,1496.2M286.0,1489.4L288.8,1496.2L289.5,1488.9M285.6,1434.2L289.3,1451.8M286.6,1446.3L289.3,1451.8L289.5,1445.7M285.6,1393.4L289.7,1406.5M287.2,1402.5L289.7,1406.5L289.4,1401.8M285.6,1352.6L292.9,1360.2M289.8,1358.3L292.9,1360.2L291.1,1357.1M285.6,1311.8L292.5,1317.6M289.8,1316.3L292.5,1317.6L290.7,1315.1M285.6,1271.0L295.1,1271.3M291.9,1272.0L295.1,1271.3L291.9,1270.4M285.6,1230.2L294.5,1224.0M292.0,1226.8L294.5,1224.0L291.0,1225.3M285.6,1189.4L296.1,1181.8M293.2,1185.1L296.1,1181.8L292.0,1183.4M326.4,2168.6L310.0,2161.2M316.0,2162.3L310.0,2161.2L314.8,2165.0M326.4,2127.8L310.0,2124.8M315.7,2124.5L310.0,2124.8L315.2,2127.2M326.4,2087.0L310.9,2089.1M315.8,2087.1L310.9,2089.1L316.2,2089.7M326.4,2046.2L311.6,2050.5M316.1,2047.9L311.6,2050.5L316.8,2050.3M326.4,2005.4L313.4,2014.9M316.9,2010.7L313.4,2014.9L318.5,2012.8M326.4,1964.6L315.6,1978.2M318.0,1972.8L315.6,1978.2L320.3,1974.6M326.4,1923.8L317.7,1940.7M319.2,1934.4L317.7,1940.7L321.9,1935.8M326.4,1883.0L318.4,1902.0M319.5,1895.1L318.4,1902.0L322.6,1896.4M326.4,1842.2L318.7,1862.9M319.5,1855.4L318.7,1862.9L322.9,1856.7M326.4,1801.4L319.7,1823.9M320.1,1815.9L319.7,1823.9L323.8,1817.0M326.4,1760.6L320.1,1784.2M320.3,1775.9L320.1,1784.2L324.1,1776.9M326.4,1719.8L321.3,1744.1M321.0,1735.7L321.3,1744.1L325.0,1736.5M326.4,1679.0L321.5,1703.4M321.1,1694.9L321.5,1703.4L325.2,1695.7M326.4,1638.2L321.8,1662.3M321.3,1654.0L321.8,1662.3L325.3,1654.7M326.4,1597.4L322.2,1620.9M321.6,1612.8L322.2,1620.9L325.5,1613.5M326.4,1556.6L323.3,1579.4M322.4,1571.6L323.3,1579.4L326.2,1572.1M326.4,1515.8L325.1,1537.4M323.7,1530.2L325.1,1537.4L327.3,1530.4M326.4,1475.0L327.3,1494.7M325.3,1488.3L327.3,1494.7L328.6,1488.1M326.4,1434.2L329.8,1450.6M327.3,1445.4L329.8,1450.6L330.0,1444.9M326.4,1393.4L331.8,1405.4M329.0,1401.9L331.8,1405.4L331.0,1401.0M326.4,1352.6L332.6,1361.3M329.8,1358.9L332.6,1361.3L331.3,1357.9M326.4,1311.8L333.7,1319.3M330.7,1317.4L333.7,1319.3L331.9,1316.2M326.4,1271.0L338.7,1271.0M334.6,1272.0L338.7,1271.0L334.6,1270.0M326.4,1230.2L337.8,1222.3M334.7,1225.8L337.8,1222.3L333.4,1223.9M326.4,1189.4L339.3,1180.4M335.8,1184.4L339.3,1180.4L334.3,1182.3M367.2,2168.6L350.0,2159.0M356.5,2160.8L350.0,2159.0L354.9,2163.6M367.2,2127.8L348.8,2124.8M355.1,2124.3L348.8,2124.8L354.6,2127.3M367.2,2087.0L349.6,2089.4M355.2,2087.1L349.6,2089.4L355.6,2090.0M367.2,2046.2L350.1,2049.2M355.5,2046.8L350.1,2049.2L356.0,2049.6M367.2,2005.4L351.2,2013.0M355.9,2009.2L351.2,2013.0L357.1,2011.8M367.2,1964.6L352.3,1975.5M356.3,1970.7L352.3,1975.5L358.1,1973.1M367.2,1923.8L355.5,1939.5M358.1,1933.3L355.5,1939.5L360.7,1935.3M367.2,1883.0L358.2,1901.8M359.7,1894.8L358.2,1901.8L362.8,1896.3M367.2,1842.2L357.9,1862.0M359.4,1854.7L357.9,1862.0L362.6,1856.3M367.2,1801.4L357.5,1822.1M359.0,1814.5L357.5,1822.1L362.5,1816.1M367.2,1760.6L358.5,1782.4M359.6,1774.5L358.5,1782.4L363.2,1776.0M367.2,1719.8L358.4,1741.8M359.5,1733.8L358.4,1741.8L363.1,1735.3M367.2,1679.0L359.5,1701.1M360.2,1693.2L359.5,1701.1L363.9,1694.5M367.2,1638.2L359.3,1659.6M360.2,1651.9L359.3,1659.6L363.7,1653.2M367.2,1597.4L363.5,1619.0M362.9,1611.6L363.5,1619.0L366.5,1612.2M367.2,1556.6L364.5,1577.1M363.7,1570.1L364.5,1577.1L367.1,1570.6M367.2,1515.8L366.0,1534.9M364.8,1528.5L366.0,1534.9L368.0,1528.7M367.2,1475.0L367.9,1492.0M366.3,1486.4L367.9,1492.0L369.1,1486.3M367.2,1434.2L369.7,1448.3M367.7,1443.9L369.7,1448.3L370.1,1443.5M367.2,1393.4L371.1,1404.3M369.0,1401.0L371.1,1404.3L370.8,1400.4M367.2,1352.6L373.3,1360.6M370.7,1358.5L373.3,1360.6L372.0,1357.5M367.2,1311.8L377.4,1315.8M373.7,1315.3L377.4,1315.8L374.4,1313.6M367.2,1271.0L380.5,1271.1M376.1,1272.1L380.5,1271.1L376.1,1270.0M367.2,1230.2L381.8,1224.6M377.5,1227.7L381.8,1224.6L376.6,1225.2M367.2,1189.4L382.0,1179.2M378.0,1183.8L382.0,1179.2L376.3,1181.4M408.1,2168.6L388.5,2161.9M395.5,2162.5L388.5,2161.9L394.4,2165.7M408.1,2127.8L388.4,2125.0M395.1,2124.3L388.4,2125.0L394.7,2127.6M408.1,2087.0L389.1,2089.3M395.2,2087.0L389.1,2089.3L395.6,2090.1M408.1,2046.2L389.5,2049.0M395.4,2046.6L389.5,2049.0L395.9,2049.6M408.1,2005.4L389.9,2010.2M395.5,2007.1L389.9,2010.2L396.3,2010.1M408.1,1964.6L391.0,1973.6M395.9,1969.2L391.0,1973.6L397.4,1972.0M408.1,1923.8L391.2,1934.5M395.9,1929.6L391.2,1934.5L397.6,1932.4M408.1,1883.0L393.0,1897.3M396.8,1891.3L393.0,1897.3L399.2,1893.8M408.1,1842.2L395.8,1859.9M398.4,1853.0L395.8,1859.9L401.3,1855.0M408.1,1801.4L394.9,1819.1M397.8,1812.2L394.9,1819.1L400.7,1814.4M408.1,1760.6L396.4,1779.8M398.7,1772.5L396.4,1779.8L401.9,1774.4M408.1,1719.8L395.6,1738.4M398.2,1731.2L395.6,1738.4L401.2,1733.3M408.1,1679.0L397.8,1698.4M399.6,1691.1L397.8,1698.4L402.8,1692.8M408.1,1638.2L397.2,1656.3M399.3,1649.4L397.2,1656.3L402.3,1651.2M408.1,1597.4L400.7,1615.8M401.6,1609.1L400.7,1615.8L404.7,1610.3M408.1,1556.6L401.0,1573.4M402.0,1567.2L401.0,1573.4L404.8,1568.4M408.1,1515.8L402.1,1530.8M402.8,1525.4L402.1,1530.8L405.3,1526.4M408.1,1475.0L404.2,1488.3M404.4,1483.6L404.2,1488.3L406.6,1484.2M408.1,1434.2L407.5,1445.6M406.7,1441.8L407.5,1445.6L408.6,1441.9M408.1,1393.4L411.2,1402.4M409.4,1399.7L411.2,1402.4L410.9,1399.1M408.1,1352.6L414.2,1359.4M411.6,1357.6L414.2,1359.4L412.8,1356.6M408.1,1311.8L416.9,1317.8M413.5,1316.5L416.9,1317.8L414.5,1315.1M408.1,1271.0L421.7,1270.4M417.3,1271.7L421.7,1270.4L417.1,1269.4M408.1,1230.2L424.2,1225.3M419.3,1228.2L424.2,1225.3L418.5,1225.6M408.1,1189.4L427.1,1184.2M421.3,1187.5L427.1,1184.2L420.4,1184.3M448.9,2168.6L429.8,2159.2M436.9,2160.8L429.8,2159.2L435.3,2163.9M448.9,2127.8L428.5,2125.5M435.5,2124.6L428.5,2125.5L435.1,2127.9M448.9,2087.0L429.2,2088.9M435.5,2086.6L429.2,2088.9L435.8,2089.9M448.9,2046.2L429.5,2048.5M435.8,2046.1L429.5,2048.5L436.1,2049.3M448.9,2005.4L429.8,2009.7M435.8,2006.7L429.8,2009.7L436.5,2009.8M448.9,1964.6L430.3,1971.3M435.9,1967.6L430.3,1971.3L437.0,1970.7M448.9,1923.8L431.0,1933.1M436.1,1928.5L431.0,1933.1L437.7,1931.5M448.9,1883.0L432.6,1895.5M436.9,1890.0L432.6,1895.5L439.0,1892.7M448.9,1842.2L431.4,1853.6M436.2,1848.4L431.4,1853.6L438.1,1851.3M448.9,1801.4L432.6,1814.9M436.9,1809.1L432.6,1814.9L439.1,1811.8M448.9,1760.6L433.0,1774.7M437.1,1768.8L433.0,1774.7L439.4,1771.4M448.9,1719.8L433.7,1734.4M437.5,1728.3L433.7,1734.4L440.0,1730.8M448.9,1679.0L434.9,1693.9M438.3,1687.9L434.9,1693.9L440.8,1690.2M448.9,1638.2L438.4,1654.5M440.6,1648.2L438.4,1654.5L443.2,1650.0M448.9,1597.4L438.5,1611.9M440.8,1606.2L438.5,1611.9L443.2,1607.9M448.9,1556.6L438.8,1568.7M441.1,1563.9L438.8,1568.7L443.1,1565.6M448.9,1515.8L444.2,1528.5M444.8,1523.9L444.2,1528.5L446.8,1524.7M448.9,1475.0L446.2,1485.7M446.3,1481.9L446.2,1485.7L448.0,1482.4M448.9,1434.2L448.5,1442.9M447.9,1440.0L448.5,1442.9L449.4,1440.1M448.9,1393.4L450.6,1400.6M449.5,1398.4L450.6,1400.6L450.7,1398.1M448.9,1352.6L453.0,1359.6M451.1,1357.6L453.0,1359.6L452.2,1357.0M448.9,1311.8L458.5,1316.1M455.0,1315.5L458.5,1316.1L455.7,1313.9M448.9,1271.0L462.5,1275.2M457.7,1274.9L462.5,1275.2L458.3,1272.7M448.9,1230.2L466.6,1226.6M461.1,1229.2L466.6,1226.6L460.5,1226.3M448.9,1189.4L470.0,1185.4M463.4,1188.5L470.0,1185.4L462.7,1185.0M489.8,2168.6L468.4,2165.8M475.7,2164.9L468.4,2165.8L475.2,2168.5M489.8,2127.8L469.1,2126.1M476.0,2124.9L469.1,2126.1L475.8,2128.3M489.8,2087.0L469.7,2088.3M476.2,2086.2L469.7,2088.3L476.4,2089.5M489.8,2046.2L470.0,2047.8M476.4,2045.6L470.0,2047.8L476.7,2048.9M489.8,2005.4L470.1,2008.7M476.3,2006.0L470.1,2008.7L476.9,2009.3M489.8,1964.6L470.3,1969.9M476.3,1966.6L470.3,1969.9L477.2,1969.8M489.8,1923.8L470.8,1931.1M476.4,1927.1L470.8,1931.1L477.6,1930.3M489.8,1883.0L470.4,1889.4M476.3,1885.7L470.4,1889.4L477.3,1888.9M489.8,1842.2L471.3,1850.8M476.7,1846.4L471.3,1850.8L478.1,1849.5M489.8,1801.4L472.2,1811.8M477.2,1806.9L472.2,1811.8L478.9,1809.8M489.8,1760.6L472.3,1771.0M477.2,1766.2L472.3,1771.0L479.0,1769.0M489.8,1719.8L473.7,1731.7M478.0,1726.4L473.7,1731.7L480.0,1729.1M489.8,1679.0L474.9,1691.2M478.8,1686.0L474.9,1691.2L480.8,1688.4M489.8,1638.2L474.8,1648.2M478.9,1643.7L474.8,1648.2L480.6,1646.1M489.8,1597.4L479.6,1610.0M481.9,1605.0L479.6,1610.0L484.0,1606.7M489.8,1556.6L479.8,1566.3M482.3,1562.2L479.8,1566.3L483.9,1563.9M489.8,1515.8L480.5,1522.4M483.0,1519.4L480.5,1522.4L484.1,1521.0M489.8,1475.0L484.5,1482.0M485.6,1479.2L484.5,1482.0L486.8,1480.1M489.8,1434.2L485.7,1439.5M486.6,1437.4L485.7,1439.5L487.5,1438.1M489.8,1393.4L488.4,1399.2M488.4,1397.2L488.4,1399.2L489.3,1397.4M489.8,1352.6L496.7,1354.9M494.2,1354.7L496.7,1354.9L494.6,1353.6M489.8,1311.8L499.7,1315.5M496.1,1315.1L499.7,1315.5L496.7,1313.5M489.8,1271.0L504.6,1273.3M499.5,1273.8L504.6,1273.3L499.9,1271.4M489.8,1230.2L509.1,1227.9M502.9,1230.3L509.1,1227.9L502.5,1227.1M489.8,1189.4L512.9,1186.9M505.5,1189.6L512.9,1186.9L505.0,1185.8M530.6,2168.6L509.0,2166.9M516.3,2165.7L509.0,2166.9L516.0,2169.3M530.6,2127.8L509.9,2126.8M516.8,2125.4L509.9,2126.8L516.6,2128.8M530.6,2087.0L510.7,2087.6M517.2,2085.8L510.7,2087.6L517.3,2089.1M530.6,2046.2L510.8,2047.0M517.3,2045.1L510.8,2047.0L517.4,2048.4M530.6,2005.4L510.5,2007.4M517.0,2005.1L510.5,2007.4L517.3,2008.4M530.6,1964.6L510.3,1967.8M516.8,1965.1L510.3,1967.8L517.3,1968.4M530.6,1923.8L510.3,1926.6M516.8,1924.0L510.3,1926.6L517.2,1927.4M530.6,1883.0L510.7,1886.6M517.0,1883.8L510.7,1886.6L517.6,1887.1M530.6,1842.2L511.3,1847.1M517.3,1843.9L511.3,1847.1L518.1,1847.1M530.6,1801.4L511.2,1805.3M517.3,1802.4L511.2,1805.3L518.0,1805.6M530.6,1760.6L511.4,1764.6M517.4,1761.7L511.4,1764.6L518.1,1764.9M530.6,1719.8L511.8,1724.2M517.7,1721.2L511.8,1724.2L518.4,1724.3M530.6,1679.0L512.9,1684.7M518.3,1681.4L512.9,1684.7L519.3,1684.3M530.6,1638.2L514.8,1644.9M519.5,1641.4L514.8,1644.9L520.6,1644.0M530.6,1597.4L516.2,1602.1M520.6,1599.4L516.2,1602.1L521.4,1601.8M530.6,1556.6L519.6,1563.0M522.7,1559.9L519.6,1563.0L523.8,1561.8M530.6,1515.8L521.2,1519.2M524.0,1517.3L521.2,1519.2L524.6,1518.8M530.6,1475.0L525.3,1480.1M526.7,1478.0L525.3,1480.1L527.5,1478.9M530.6,1434.2L526.0,1436.8M527.3,1435.6L526.0,1436.8L527.8,1436.4M530.6,1393.4L526.1,1395.1M527.5,1394.2L526.1,1395.1L527.8,1394.9M530.6,1352.6L537.2,1353.7M535.0,1353.9L537.2,1353.7L535.2,1352.8M530.6,1311.8L541.3,1311.6M537.8,1312.6L541.3,1311.6L537.8,1310.8M530.6,1271.0L546.6,1270.7M541.4,1272.1L546.6,1270.7L541.3,1269.5M530.6,1230.2L551.7,1229.4M544.8,1231.4L551.7,1229.4L544.7,1227.9M530.6,1189.4L555.6,1188.6M547.4,1190.9L555.6,1188.6L547.3,1186.8M571.5,2168.6L549.9,2168.4M557.1,2166.7L549.9,2168.4L557.0,2170.2M571.5,2127.8L550.8,2127.6M557.6,2126.0L550.8,2127.6L557.6,2129.4M571.5,2087.0L551.8,2087.2M558.3,2085.5L551.8,2087.2L558.3,2088.7M571.5,2046.2L551.6,2046.3M558.2,2044.6L551.6,2046.3L558.2,2047.9M571.5,2005.4L551.0,2005.7M557.7,2003.9L551.0,2005.7L557.8,2007.3M571.5,1964.6L550.5,1964.7M557.5,1962.9L550.5,1964.7L557.5,1966.4M571.5,1923.8L550.7,1923.9M557.6,1922.2L550.7,1923.9L557.6,1925.6M571.5,1883.0L551.2,1882.9M557.9,1881.3L551.2,1882.9L557.9,1884.6M571.5,1842.2L551.7,1841.9M558.3,1840.4L551.7,1841.9L558.2,1843.7M571.5,1801.4L551.9,1801.2M558.4,1799.6L551.9,1801.2L558.4,1802.9M571.5,1760.6L552.1,1759.5M558.6,1758.3L552.1,1759.5L558.4,1761.5M571.5,1719.8L552.4,1718.9M558.8,1717.6L552.4,1718.9L558.6,1720.7M571.5,1679.0L553.1,1678.0M559.2,1676.8L553.1,1678.0L559.1,1679.8M571.5,1638.2L554.6,1639.7M560.0,1637.8L554.6,1639.7L560.3,1640.6M571.5,1597.4L556.6,1598.2M561.5,1596.7L556.6,1598.2L561.6,1599.2M571.5,1556.6L559.2,1556.0M563.3,1555.2L559.2,1556.0L563.2,1557.2M571.5,1515.8L561.9,1515.5M565.1,1514.8L561.9,1515.5L565.0,1516.4M571.5,1475.0L564.6,1475.7M566.8,1474.9L564.6,1475.7L567.0,1476.1M571.5,1434.2L566.7,1434.1M568.3,1433.7L566.7,1434.1L568.3,1434.5M571.5,1393.4L567.3,1394.0M568.6,1393.4L567.3,1394.0L568.7,1394.1M571.5,1352.6L578.0,1352.2M575.9,1352.8L578.0,1352.2L575.8,1351.8M571.5,1311.8L582.4,1311.1M578.9,1312.3L582.4,1311.1L578.8,1310.4M571.5,1271.0L588.3,1270.2M582.9,1271.8L588.3,1270.2L582.7,1269.1M571.5,1230.2L594.1,1230.9M586.6,1232.5L594.1,1230.9L586.7,1228.8M571.5,1189.4L597.9,1190.2M589.1,1192.1L597.9,1190.2L589.2,1187.8M612.4,2168.6L591.3,2169.8M598.2,2167.7L591.3,2169.8L598.4,2171.2M612.4,2127.8L591.9,2128.6M598.6,2126.7L591.9,2128.6L598.7,2130.1M612.4,2087.0L592.4,2087.0M599.0,2085.3L592.4,2087.0L599.0,2088.6M612.4,2046.2L592.2,2045.4M598.9,2044.0L592.2,2045.4L598.8,2047.3M612.4,2005.4L591.7,2003.9M598.6,2002.7L591.7,2003.9L598.4,2006.1M612.4,1964.6L591.4,1961.7M598.6,1960.9L591.4,1961.7L598.1,1964.4M612.4,1923.8L591.5,1921.2M598.6,1920.3L591.5,1921.2L598.2,1923.8M612.4,1883.0L592.1,1879.0M599.1,1878.7L592.1,1879.0L598.5,1882.0M612.4,1842.2L592.8,1837.0M599.7,1837.1L592.8,1837.0L598.8,1840.3M612.4,1801.4L592.8,1797.2M599.6,1797.0L592.8,1797.2L598.9,1800.2M612.4,1760.6L593.3,1755.3M600.0,1755.5L593.3,1755.3L599.1,1758.6M612.4,1719.8L593.6,1714.5M600.2,1714.7L593.6,1714.5L599.3,1717.8M612.4,1679.0L594.7,1672.7M601.0,1673.3L594.7,1672.7L600.0,1676.2M612.4,1638.2L597.0,1630.0M602.8,1631.5L597.0,1630.0L601.4,1634.0M612.4,1597.4L597.8,1592.8M603.0,1593.1L597.8,1592.8L602.2,1595.5M612.4,1556.6L601.3,1550.1M605.5,1551.3L601.3,1550.1L604.4,1553.1M612.4,1515.8L603.0,1512.1M606.4,1512.5L603.0,1512.1L605.8,1514.1M612.4,1475.0L606.7,1470.3M608.9,1471.4L606.7,1470.3L608.1,1472.3M612.4,1434.2L607.5,1431.8M609.3,1432.2L607.5,1431.8L608.9,1433.0M612.4,1393.4L612.1,1388.4M612.6,1390.0L612.1,1388.4L611.8,1390.1M612.4,1352.6L619.2,1350.7M617.1,1351.9L619.2,1350.7L616.8,1350.8M612.4,1311.8L623.8,1310.7M620.1,1312.0L623.8,1310.7L619.9,1310.1M612.4,1271.0L629.6,1269.5M624.0,1271.4L629.6,1269.5L623.8,1268.6M612.4,1230.2L635.1,1232.3M627.4,1233.5L635.1,1232.3L627.8,1229.7M612.4,1189.4L639.2,1191.8M630.2,1193.2L639.2,1191.8L630.5,1188.8M653.2,2168.6L633.1,2171.3M639.5,2168.7L633.1,2171.3L639.9,2172.0M653.2,2127.8L633.3,2129.8M639.7,2127.5L633.3,2129.8L640.0,2130.8M653.2,2087.0L633.2,2087.0M639.8,2085.3L633.2,2087.0L639.8,2088.6M653.2,2046.2L633.0,2044.2M639.8,2043.2L633.0,2044.2L639.5,2046.5M653.2,2005.4L632.5,2002.2M639.6,2001.6L632.5,2002.2L639.1,2005.0M653.2,1964.6L632.5,1959.3M639.8,1959.4L632.5,1959.3L638.9,1962.8M653.2,1923.8L633.3,1915.9M640.5,1916.9L633.3,1915.9L639.2,1920.2M653.2,1883.0L633.2,1876.1M640.4,1876.7L633.2,1876.1L639.2,1880.0M653.2,1842.2L634.1,1833.5M641.1,1834.8L634.1,1833.5L639.7,1838.0M653.2,1801.4L634.8,1791.6M641.7,1793.3L634.8,1791.6L640.1,1796.3M653.2,1760.6L635.1,1750.5M641.9,1752.3L635.1,1750.5L640.2,1755.3M653.2,1719.8L636.4,1708.2M642.9,1710.6L636.4,1708.2L641.0,1713.4M653.2,1679.0L638.9,1665.4M644.7,1668.7L638.9,1665.4L642.5,1671.1M653.2,1638.2L639.1,1626.4M644.8,1629.1L639.1,1626.4L642.8,1631.4M653.2,1597.4L642.4,1585.0M647.0,1588.2L642.4,1585.0L644.9,1590.0M653.2,1556.6L642.8,1547.2M647.0,1549.4L642.8,1547.2L645.4,1551.1M653.2,1515.8L647.3,1506.0M650.1,1508.8L647.3,1506.0L648.4,1509.7M653.2,1475.0L647.7,1468.2M650.1,1470.0L647.7,1468.2L649.0,1470.9M653.2,1434.2L649.0,1429.0M650.8,1430.4L649.0,1429.0L649.9,1431.1M653.2,1393.4L658.0,1389.4M656.7,1391.1L658.0,1389.4L656.1,1390.4M653.2,1352.6L660.8,1349.9M658.5,1351.4L660.8,1349.9L658.0,1350.2M653.2,1311.8L665.0,1309.0M661.3,1310.9L665.0,1309.0L660.9,1309.0M653.2,1271.0L670.6,1268.8M665.0,1271.0L670.6,1268.8L664.7,1268.1M653.2,1230.2L675.9,1233.4M668.1,1234.2L675.9,1233.4L668.7,1230.5M653.2,1189.4L680.0,1193.0M670.9,1194.0L680.0,1193.0L671.5,1189.6M694.1,2168.6L677.0,2177.5M681.9,2173.1L677.0,2177.5L683.4,2176.0M694.1,2127.8L675.1,2130.8M681.1,2128.3L675.1,2130.8L681.6,2131.4M694.1,2087.0L674.6,2086.7M681.0,2085.2L674.6,2086.7L681.0,2088.4M694.1,2046.2L674.2,2042.8M681.0,2042.3L674.2,2042.8L680.5,2045.6M694.1,2005.4L673.6,2000.7M680.7,2000.6L673.6,2000.7L680.0,2003.9M694.1,1964.6L673.6,1957.5M681.0,1958.1L673.6,1957.5L679.8,1961.5M694.1,1923.8L674.6,1913.8M681.8,1915.5L674.6,1913.8L680.2,1918.7M694.1,1883.0L676.0,1870.6M683.0,1873.2L676.0,1870.6L680.9,1876.2M694.1,1842.2L675.3,1830.9M682.4,1833.1L675.3,1830.9L680.5,1836.2M694.1,1801.4L676.1,1788.5M683.1,1791.3L676.1,1788.5L681.0,1794.3M694.1,1760.6L677.7,1745.6M684.3,1749.2L677.7,1745.6L681.9,1751.9M694.1,1719.8L679.0,1703.8M685.3,1707.8L679.0,1703.8L682.7,1710.3M694.1,1679.0L679.4,1663.6M685.5,1667.5L679.4,1663.6L683.0,1669.9M694.1,1638.2L683.4,1621.2M688.3,1626.0L683.4,1621.2L685.5,1627.7M694.1,1597.4L683.2,1582.7M688.0,1586.7L683.2,1582.7L685.6,1588.5M694.1,1556.6L686.6,1542.4M690.3,1546.4L686.6,1542.4L687.9,1547.7M694.1,1515.8L687.6,1503.9M690.7,1507.3L687.6,1503.9L688.7,1508.4M694.1,1475.0L692.6,1464.2M693.9,1467.6L692.6,1464.2L692.2,1467.9M694.1,1434.2L694.3,1425.6M694.9,1428.4L694.3,1425.6L693.5,1428.4M694.1,1393.4L696.0,1386.1M696.0,1388.6L696.0,1386.1L694.8,1388.3M694.1,1352.6L699.6,1345.6M698.3,1348.3L699.6,1345.6L697.2,1347.4M694.1,1311.8L706.0,1308.4M702.4,1310.5L706.0,1308.4L701.8,1308.6M694.1,1271.0L711.5,1268.5M706.0,1270.7L711.5,1268.5L705.5,1267.9M694.1,1230.2L716.6,1234.2M708.8,1234.7L716.6,1234.2L709.5,1231.0M694.1,1189.4L720.5,1193.9M711.4,1194.6L720.5,1193.9L712.2,1190.2M734.9,2168.6L718.5,2175.1M723.4,2171.6L718.5,2175.1L724.4,2174.3M734.9,2127.8L717.7,2131.8M723.0,2129.0L717.7,2131.8L723.7,2131.9M734.9,2087.0L716.8,2086.4M722.8,2085.1L716.8,2086.4L722.7,2088.1M734.9,2046.2L716.2,2041.8M722.7,2041.7L716.2,2041.8L722.0,2044.8M734.9,2005.4L715.1,1999.5M722.1,1999.8L715.1,1999.5L721.1,2003.1M734.9,1964.6L715.4,1955.0M722.6,1956.5L715.4,1955.0L721.0,1959.8M734.9,1923.8L715.6,1912.3M722.9,1914.5L715.6,1912.3L721.0,1917.7M734.9,1883.0L717.1,1868.7M724.1,1871.9L717.1,1868.7L721.8,1874.9M734.9,1842.2L718.3,1826.0M725.1,1830.0L718.3,1826.0L722.4,1832.7M734.9,1801.4L719.3,1783.6M725.9,1788.2L719.3,1783.6L722.9,1790.7M734.9,1760.6L720.7,1741.2M727.0,1746.4L720.7,1741.2L723.8,1748.8M734.9,1719.8L720.0,1701.1M726.5,1706.0L720.0,1701.1L723.4,1708.5M734.9,1679.0L723.6,1658.6M729.0,1664.4L723.6,1658.6L725.6,1666.3M734.9,1638.2L724.5,1618.6M729.5,1624.2L724.5,1618.6L726.3,1625.9M734.9,1597.4L725.9,1578.9M730.4,1584.3L725.9,1578.9L727.4,1585.8M734.9,1556.6L728.3,1539.4M731.9,1544.5L728.3,1539.4L729.1,1545.6M734.9,1515.8L730.4,1500.3M733.1,1505.1L730.4,1500.3L730.6,1505.8M734.9,1475.0L732.8,1461.6M734.6,1465.9L732.8,1461.6L732.4,1466.2M734.9,1434.2L735.2,1423.1M736.0,1426.8L735.2,1423.1L734.2,1426.8M734.9,1393.4L738.3,1384.4M737.9,1387.7L738.3,1384.4L736.4,1387.1M734.9,1352.6L741.0,1344.6M739.6,1347.7L741.0,1344.6L738.3,1346.7M734.9,1311.8L747.2,1309.2M743.4,1311.1L747.2,1309.2L743.0,1309.1M734.9,1271.0L752.2,1268.4M746.7,1270.7L752.2,1268.4L746.3,1267.8M734.9,1230.2L757.1,1234.7M749.4,1235.1L757.1,1234.7L750.1,1231.4M734.9,1189.4L758.4,1200.6M749.7,1198.9L758.4,1200.6L751.6,1195.0M775.8,2168.6L760.4,2170.6M765.3,2168.7L760.4,2170.6L765.6,2171.2M775.8,2127.8L760.7,2129.7M765.5,2127.8L760.7,2129.7L765.8,2130.3M775.8,2087.0L760.1,2087.0M765.3,2085.7L760.1,2087.0L765.3,2088.3M775.8,2046.2L758.7,2043.7M764.5,2043.1L758.7,2043.7L764.1,2046.0M775.8,2005.4L758.3,1996.5M764.8,1998.0L758.3,1996.5L763.3,2000.9M775.8,1964.6L758.2,1952.5M765.0,1955.0L758.2,1952.5L763.0,1957.9M775.8,1923.8L759.3,1907.9M766.0,1911.8L759.3,1907.9L763.4,1914.5M775.8,1883.0L760.8,1864.1M767.3,1869.1L760.8,1864.1L764.2,1871.5M775.8,1842.2L761.5,1821.5M767.9,1827.2L761.5,1821.5L764.5,1829.5M775.8,1801.4L761.7,1779.6M768.1,1785.7L761.7,1779.6L764.5,1788.0M775.8,1760.6L763.6,1737.2M769.5,1743.9L763.6,1737.2L765.7,1746.0M775.8,1719.8L764.0,1696.3M769.8,1703.1L764.0,1696.3L765.9,1705.1M775.8,1679.0L764.8,1655.8M770.3,1662.5L764.8,1655.8L766.5,1664.4M775.8,1638.2L765.5,1615.9M770.7,1622.4L765.5,1615.9L767.0,1624.1M775.8,1597.4L766.9,1576.2M771.6,1582.5L766.9,1576.2L768.1,1583.9M775.8,1556.6L774.7,1535.7M776.8,1542.5L774.7,1535.7L773.3,1542.7M775.8,1515.8L775.8,1497.1M777.3,1503.3L775.8,1497.1L774.3,1503.3M775.8,1475.0L776.9,1458.9M777.9,1464.3L776.9,1458.9L775.2,1464.1M775.8,1434.2L778.1,1421.0M778.4,1425.6L778.1,1421.0L776.2,1425.2M775.8,1393.4L779.3,1382.5M779.0,1386.4L779.3,1382.5L777.2,1385.8M775.8,1352.6L784.3,1345.4M782.1,1348.5L784.3,1345.4L780.9,1347.1M775.8,1311.8L786.9,1305.0M783.8,1308.2L786.9,1305.0L782.6,1306.3M775.8,1271.0L792.3,1268.6M787.0,1270.8L792.3,1268.6L786.7,1268.0M775.8,1230.2L796.2,1234.7M789.1,1234.9L796.2,1234.7L789.8,1231.6M775.8,1189.4L796.2,1202.2M788.4,1199.7L796.2,1202.2L790.5,1196.3M816.6,2168.6L805.2,2173.8M808.6,2171.1L805.2,2173.8L809.4,2173.0M816.6,2127.8L805.1,2130.1M808.7,2128.4L805.1,2130.1L809.1,2130.3M816.6,2087.0L804.7,2087.0M808.6,2086.0L804.7,2087.0L808.6,2088.0M816.6,2046.2L803.2,2042.7M807.9,2042.8L803.2,2042.7L807.4,2045.0M816.6,2005.4L802.9,1995.5M808.3,1997.6L802.9,1995.5L806.6,1999.9M816.6,1964.6L803.0,1949.8M808.7,1953.6L803.0,1949.8L806.3,1955.8M816.6,1923.8L804.0,1904.6M809.7,1909.9L804.0,1904.6L806.6,1912.0M816.6,1883.0L804.0,1861.0M810.0,1867.2L804.0,1861.0L806.3,1869.3M816.6,1842.2L804.5,1817.8M810.5,1824.9L804.5,1817.8L806.5,1826.9M816.6,1801.4L805.0,1775.6M811.0,1783.1L805.0,1775.6L806.7,1785.0M816.6,1760.6L807.3,1733.4M812.6,1741.6L807.3,1733.4L808.1,1743.1M816.6,1719.8L808.6,1692.2M813.5,1700.7L808.6,1692.2L809.0,1702.0M816.6,1679.0L811.1,1651.4M815.2,1660.1L811.1,1651.4L810.7,1661.0M816.6,1638.2L812.5,1611.5M816.0,1620.0L812.5,1611.5L811.6,1620.7M816.6,1597.4L813.9,1572.2M816.9,1580.3L813.9,1572.2L812.7,1580.7M816.6,1556.6L815.4,1533.4M817.7,1541.0L815.4,1533.4L813.9,1541.2M816.6,1515.8L816.7,1495.2M818.4,1502.0L816.7,1495.2L815.0,1502.0M816.6,1475.0L818.1,1457.3M819.0,1463.2L818.1,1457.3L816.1,1463.0M816.6,1434.2L819.5,1419.6M819.8,1424.7L819.5,1419.6L817.4,1424.2M816.6,1393.4L821.0,1381.6M820.5,1385.8L821.0,1381.6L818.6,1385.1M816.6,1352.6L822.6,1342.5M821.5,1346.3L822.6,1342.5L819.8,1345.3M816.6,1311.8L828.3,1307.0M824.9,1309.5L828.3,1307.0L824.1,1307.6M816.6,1271.0L831.8,1269.1M826.9,1271.0L831.8,1269.1L826.6,1268.5M816.6,1230.2L834.5,1235.3M828.2,1235.1L834.5,1235.3L829.0,1232.1M816.6,1189.4L835.6,1199.3M828.5,1197.6L835.6,1199.3L830.1,1194.4M857.4,2168.6L850.2,2172.9M852.2,2170.9L850.2,2172.9L852.9,2172.1M857.4,2127.8L850.9,2131.3M852.8,2129.6L850.9,2131.3L853.3,2130.7M857.4,2087.0L850.0,2087.0M852.4,2086.4L850.0,2087.0L852.4,2087.6M857.4,2046.2L848.8,2041.6M852.0,2042.4L848.8,2041.6L851.2,2043.9M857.4,2005.4L848.0,1995.2M852.0,1997.8L848.0,1995.2L850.3,1999.3M857.4,1964.6L848.0,1948.7M852.4,1953.2L848.0,1948.7L849.8,1954.7M857.4,1923.8L847.9,1903.0M852.7,1909.1L847.9,1903.0L849.3,1910.7M857.4,1883.0L848.2,1858.1M853.3,1865.6L848.2,1858.1L849.2,1867.1M857.4,1842.2L848.4,1814.4M853.7,1822.8L848.4,1814.4L849.1,1824.3M857.4,1801.4L851.4,1771.4M855.9,1780.8L851.4,1771.4L850.9,1781.8M857.4,1760.6L852.7,1729.8M856.8,1739.6L852.7,1729.8L851.7,1740.4M857.4,1719.8L853.7,1689.0M857.5,1698.8L853.7,1689.0L852.4,1699.4M857.4,1679.0L854.8,1648.7M858.2,1658.5L854.8,1648.7L853.2,1658.9M857.4,1638.2L856.2,1609.0M859.0,1618.5L856.2,1609.0L854.2,1618.7M857.4,1597.4L857.2,1569.9M859.5,1579.0L857.2,1569.9L855.0,1579.0M857.4,1556.6L858.1,1531.6M860.0,1539.9L858.1,1531.6L855.8,1539.8M857.4,1515.8L859.3,1493.8M860.5,1501.2L859.3,1493.8L856.8,1500.9M857.4,1475.0L860.3,1456.4M860.9,1462.7L860.3,1456.4L857.8,1462.3M857.4,1434.2L861.2,1419.0M861.2,1424.3L861.2,1419.0L858.7,1423.7M857.4,1393.4L861.9,1381.2M861.4,1385.6L861.9,1381.2L859.4,1384.9M857.4,1352.6L864.5,1343.7M862.9,1347.2L864.5,1343.7L861.5,1346.0M857.4,1311.8L866.0,1304.2M863.8,1307.4L866.0,1304.2L862.5,1306.0M857.4,1271.0L870.4,1269.7M866.2,1271.2L870.4,1269.7L866.0,1269.1M857.4,1230.2L871.7,1236.9M866.4,1235.8L871.7,1236.9L867.5,1233.5M857.4,1189.4L872.4,1199.5M866.7,1197.4L872.4,1199.5L868.3,1195.0M898.3,2168.6L896.2,2173.1M896.5,2171.4L896.2,2173.1L897.3,2171.8M898.3,2127.8L895.8,2130.6M896.4,2129.5L895.8,2130.6L896.9,2129.9M898.3,2087.0L894.4,2087.0M895.7,2086.7L894.4,2087.0L895.7,2087.3M898.3,2046.2L895.1,2040.5M896.6,2042.1L895.1,2040.5L895.7,2042.6M898.3,2005.4L893.8,1995.0M896.1,1998.1L893.8,1995.0L894.4,1998.8M898.3,1964.6L892.6,1948.5M895.8,1953.3L892.6,1948.5L893.1,1954.3M898.3,1923.8L892.5,1901.7M896.2,1908.5L892.5,1901.7L892.6,1909.4M898.3,1883.0L893.1,1855.9M897.1,1864.4L893.1,1855.9L892.6,1865.2M898.3,1842.2L893.6,1811.7M897.7,1821.4L893.6,1811.7L892.6,1822.1M898.3,1801.4L894.5,1769.0M898.4,1779.4L894.5,1769.0L893.1,1780.0M898.3,1760.6L895.5,1727.5M899.2,1738.2L895.5,1727.5L893.7,1738.7M898.3,1719.8L896.6,1686.8M899.9,1697.6L896.6,1686.8L894.4,1697.8M898.3,1679.0L897.7,1646.7M900.5,1657.3L897.7,1646.7L895.2,1657.4M898.3,1638.2L898.7,1607.2M901.1,1617.4L898.7,1607.2L896.0,1617.4M898.3,1597.4L899.5,1568.3M901.5,1578.0L899.5,1568.3L896.7,1577.8M898.3,1556.6L900.2,1530.2M901.7,1539.1L900.2,1530.2L897.4,1538.8M898.3,1515.8L900.9,1492.8M902.0,1500.6L900.9,1492.8L898.2,1500.2M898.3,1475.0L901.6,1455.7M902.1,1462.3L901.6,1455.7L898.9,1461.8M898.3,1434.2L902.1,1418.6M902.1,1424.1L902.1,1418.6L899.5,1423.5M898.3,1393.4L902.3,1381.2M902.0,1385.6L902.3,1381.2L900.0,1384.9M898.3,1352.6L903.7,1343.7M902.6,1347.1L903.7,1343.7L901.2,1346.2M898.3,1311.8L905.5,1305.9M903.6,1308.4L905.5,1305.9L902.7,1307.2M898.3,1271.0L908.1,1270.2M905.0,1271.3L908.1,1270.2L904.8,1269.6M898.3,1230.2L908.6,1235.9M904.7,1234.9L908.6,1235.9L905.7,1233.2M898.3,1189.4L905.9,1201.5M902.4,1198.1L905.9,1201.5L904.4,1196.9M939.1,2127.8L938.9,2129.7M938.8,2129.0L938.9,2129.7L939.2,2129.1M939.1,2087.0L937.2,2087.0M937.8,2086.8L937.2,2087.0L937.8,2087.2M939.1,2046.2L939.0,2041.9M939.4,2043.3L939.0,2041.9L938.7,2043.4M939.1,2005.4L936.4,1996.7M938.0,1999.3L936.4,1996.7L936.6,1999.8M939.1,1964.6L938.7,1948.6M940.2,1953.8L938.7,1948.6L937.5,1953.9M939.1,1923.8L939.0,1900.5M940.9,1908.2L939.0,1900.5L937.1,1908.2M939.1,1883.0L939.1,1854.1M941.5,1863.7L939.1,1854.1L936.8,1863.7M939.1,1842.2L939.4,1809.8M942.0,1820.5L939.4,1809.8L936.6,1820.5M939.1,1801.4L939.6,1767.2M942.3,1778.5L939.6,1767.2L936.6,1778.4M939.1,1760.6L939.8,1725.9M942.4,1737.4L939.8,1725.9L936.7,1737.3M939.1,1719.8L940.0,1685.3M942.6,1696.8L940.0,1685.3L936.9,1696.6M939.1,1679.0L940.1,1645.4M942.6,1656.6L940.1,1645.4L937.0,1656.4M939.1,1638.2L940.3,1606.0M942.6,1616.7L940.3,1606.0L937.2,1616.5M939.1,1597.4L940.3,1567.3M942.4,1577.3L940.3,1567.3L937.5,1577.1M939.1,1556.6L940.3,1529.3M942.2,1538.4L940.3,1529.3L937.7,1538.2M939.1,1515.8L940.3,1491.9M941.9,1499.9L940.3,1491.9L937.9,1499.7M939.1,1475.0L940.2,1454.9M941.5,1461.6L940.2,1454.9L938.2,1461.5M939.1,1434.2L940.1,1418.0M941.1,1423.4L940.1,1418.0L938.4,1423.3M939.1,1393.4L943.5,1381.6M943.0,1385.9L943.5,1381.6L941.1,1385.1M939.1,1352.6L943.3,1344.2M942.6,1347.3L943.3,1344.2L941.3,1346.6M939.1,1311.8L943.3,1305.9M942.4,1308.2L943.3,1305.9L941.4,1307.5M939.1,1271.0L945.8,1270.6M943.7,1271.3L945.8,1270.6L943.6,1270.2M939.1,1230.2L944.0,1236.8M941.8,1235.0L944.0,1236.8L942.9,1234.2M939.1,1189.4L944.7,1198.8M942.1,1196.2L944.7,1198.8L943.6,1195.3M980.0,2127.8L980.0,2129.1M979.9,2128.7L980.0,2129.1L980.1,2128.7M980.0,2046.2L980.0,2043.7M980.2,2044.5L980.0,2043.7L979.8,2044.5M980.0,2005.4L980.0,1998.4M980.6,2000.7L980.0,1998.4L979.4,2000.7M980.0,1964.6L980.0,1949.6M981.2,1954.5L980.0,1949.6L978.8,1954.5M980.0,1923.8L980.0,1899.7M982.0,1907.6L980.0,1899.7L978.0,1907.6M980.0,1883.0L980.0,1852.8M982.5,1862.7L980.0,1852.8L977.5,1862.7M980.0,1842.2L980.0,1808.4M982.8,1819.6L980.0,1808.4L977.2,1819.6M980.0,1801.4L980.0,1766.0M982.9,1777.7L980.0,1766.0L977.1,1777.7M980.0,1760.6L980.0,1724.8M983.0,1736.6L980.0,1724.8L977.0,1736.6M980.0,1719.8L980.0,1684.4M982.9,1696.1L980.0,1684.4L977.1,1696.1M980.0,1679.0L980.0,1644.6M982.8,1656.0L980.0,1644.6L977.2,1656.0M980.0,1638.2L980.0,1605.4M982.7,1616.2L980.0,1605.4L977.3,1616.2M980.0,1597.4L980.0,1566.8M982.5,1576.9L980.0,1566.8L977.5,1576.9M980.0,1556.6L979.9,1528.8M982.2,1538.0L979.9,1528.8L977.6,1538.0M980.0,1515.8L979.9,1491.4M981.9,1499.4L979.9,1491.4L977.9,1499.5M980.0,1475.0L979.9,1454.4M981.6,1461.2L979.9,1454.4L978.2,1461.2M980.0,1434.2L980.0,1417.6M981.3,1423.1L980.0,1417.6L978.6,1423.1M980.0,1393.4L980.0,1380.7M981.0,1384.9L980.0,1380.7L978.9,1384.9M980.0,1352.6L980.0,1343.5M980.7,1346.5L980.0,1343.5L979.2,1346.5M980.0,1311.8L979.9,1305.5M980.5,1307.6L979.9,1305.5L979.4,1307.6M980.0,1230.2L980.0,1236.6M979.5,1234.5L980.0,1236.6L980.5,1234.5M980.0,1189.4L980.0,1198.4M979.3,1195.4L980.0,1198.4L980.7,1195.4M1020.9,2127.8L1021.4,2129.4M1021.1,2128.9L1021.4,2129.4L1021.3,2128.8M1020.9,2087.0L1019.8,2087.6M1020.1,2087.3L1019.8,2087.6L1020.2,2087.5M1020.9,2046.2L1022.1,2045.4M1021.7,2045.8L1022.1,2045.4L1021.6,2045.6M1020.9,2005.4L1024.9,2002.6M1023.8,2003.9L1024.9,2002.6L1023.3,2003.2M1020.9,1964.6L1020.6,1951.0M1021.8,1955.5L1020.6,1951.0L1019.5,1955.5M1020.9,1923.8L1020.4,1898.8M1022.6,1907.0L1020.4,1898.8L1018.5,1907.1M1020.9,1883.0L1020.4,1852.2M1023.1,1862.3L1020.4,1852.2L1018.0,1862.4M1020.9,1842.2L1007.3,1810.4M1014.4,1819.7L1007.3,1810.4L1009.2,1822.0M1020.9,1801.4L1007.4,1767.8M1014.6,1777.8L1007.4,1767.8L1009.1,1780.0M1020.9,1760.6L1010.2,1726.0M1016.6,1736.5L1010.2,1726.0L1010.8,1738.3M1020.9,1719.8L1012.5,1685.1M1018.1,1695.8L1012.5,1685.1L1012.4,1697.2M1020.9,1679.0L1012.3,1645.4M1017.9,1655.8L1012.3,1645.4L1012.3,1657.2M1020.9,1638.2L1012.9,1606.1M1018.2,1616.1L1012.9,1606.1L1012.9,1617.4M1020.9,1597.4L1014.1,1567.3M1018.8,1576.7L1014.1,1567.3L1013.9,1577.8M1020.9,1556.6L1014.3,1529.4M1018.7,1537.8L1014.3,1529.4L1014.2,1538.9M1020.9,1515.8L1014.6,1491.9M1018.7,1499.3L1014.6,1491.9L1014.7,1500.3M1020.9,1475.0L1015.9,1454.6M1019.2,1460.9L1015.9,1454.6L1015.8,1461.8M1020.9,1434.2L1016.5,1417.6M1019.3,1422.8L1016.5,1417.6L1016.6,1423.5M1020.9,1393.4L1017.0,1380.6M1019.3,1384.5L1017.0,1380.6L1017.2,1385.2M1020.9,1352.6L1016.7,1343.6M1018.8,1346.3L1016.7,1343.6L1017.4,1346.9M1020.9,1311.8L1016.5,1306.2M1018.4,1307.7L1016.5,1306.2L1017.5,1308.4M1020.9,1271.0L1015.0,1271.0M1017.0,1270.5L1015.0,1271.0L1017.0,1271.5M1020.9,1230.2L1016.7,1235.4M1017.6,1233.4L1016.7,1235.4L1018.5,1234.1M1020.9,1189.4L1018.2,1197.4M1018.4,1194.5L1018.2,1197.4L1019.7,1195.0M1061.7,2127.8L1062.3,2129.7M1062.0,2129.1L1062.3,2129.7L1062.3,2129.0M1061.7,2087.0L1063.0,2086.6M1062.6,2086.9L1063.0,2086.6L1062.6,2086.7M1061.7,2046.2L1063.2,2045.5M1062.7,2045.9L1063.2,2045.5L1062.6,2045.6M1061.7,2005.4L1065.6,2002.7M1064.6,2003.9L1065.6,2002.7L1064.1,2003.3M1061.7,1964.6L1071.4,1956.6M1068.9,1960.0L1071.4,1956.6L1067.5,1958.4M1061.7,1923.8L1056.8,1901.7M1060.2,1908.6L1056.8,1901.7L1056.6,1909.4M1061.7,1883.0L1047.5,1856.6M1054.4,1864.1L1047.5,1856.6L1050.0,1866.5M1061.7,1842.2L1044.3,1812.4M1052.5,1820.8L1044.3,1812.4L1047.6,1823.7M1061.7,1801.4L1046.9,1768.4M1054.5,1778.1L1046.9,1768.4L1049.1,1780.5M1061.7,1760.6L1046.5,1727.7M1054.3,1737.3L1046.5,1727.7L1048.8,1739.8M1061.7,1719.8L1048.8,1686.6M1055.8,1696.5L1048.8,1686.6L1050.3,1698.6M1061.7,1679.0L1048.8,1647.0M1055.7,1656.5L1048.8,1647.0L1050.4,1658.6M1061.7,1638.2L1050.9,1607.2M1057.0,1616.5L1050.9,1607.2L1051.9,1618.3M1061.7,1597.4L1046.0,1571.1M1053.4,1578.5L1046.0,1571.1L1049.0,1581.1M1061.7,1556.6L1049.7,1531.4M1055.8,1538.7L1049.7,1531.4L1051.6,1540.7M1061.7,1515.8L1051.7,1493.1M1056.9,1499.8L1051.7,1493.1L1053.1,1501.4M1061.7,1475.0L1054.2,1455.0M1058.3,1461.0L1054.2,1455.0L1055.0,1462.2M1061.7,1434.2L1054.6,1417.9M1058.3,1422.7L1054.6,1417.9L1055.6,1423.9M1061.7,1393.4L1056.0,1380.3M1058.9,1384.2L1056.0,1380.3L1056.8,1385.1M1061.7,1352.6L1054.7,1343.8M1057.8,1346.1L1054.7,1343.8L1056.3,1347.3M1061.7,1311.8L1056.5,1304.9M1058.8,1306.7L1056.5,1304.9L1057.7,1307.6M1061.7,1271.0L1054.3,1271.0M1056.8,1270.4L1054.3,1271.0L1056.8,1271.6M1061.7,1230.2L1058.1,1236.8M1058.7,1234.3L1058.1,1236.8L1059.8,1234.9M1061.7,1189.4L1059.5,1197.7M1059.6,1194.8L1059.5,1197.7L1060.9,1195.1" fill="none" stroke="#ff5555" stroke-width="1.2"/>
<path d="M102.5,1180.0L122.2,1229.2 M224.8,1180.0L203.9,1229.2 M356.0,1180.0L285.5,1229.2 M367.2,1229.2C375.6,1226.4 383.9,1223.3 392.3,1220.7C400.7,1218.0 409.1,1215.6 417.6,1213.4C426.0,1211.2 434.5,1209.2 443.0,1207.4C451.5,1205.7 460.0,1204.1 468.6,1202.7C477.1,1201.4 485.7,1200.2 494.2,1199.2C502.8,1198.2 511.4,1197.5 520.0,1196.9C528.6,1196.3 537.2,1195.9 545.8,1195.7C554.4,1195.5 563.0,1195.5 571.6,1195.6C580.2,1195.8 588.8,1196.1 597.3,1196.6C605.9,1197.1 614.5,1197.8 623.1,1198.7C631.7,1199.5 640.2,1200.5 648.8,1201.7C657.4,1202.8 665.9,1204.1 674.4,1205.5C683.0,1206.9 691.5,1208.4 700.0,1210.1C708.6,1211.7 717.1,1213.4 725.6,1215.2C734.1,1217.0 742.6,1218.9 751.1,1220.8C759.6,1222.7 768.1,1224.7 776.6,1226.7C785.1,1228.7 793.6,1230.8 802.1,1232.8C810.6,1234.9 819.1,1237.0 827.6,1239.0C836.0,1241.1 844.5,1243.2 853.0,1245.2C861.5,1247.2 869.9,1249.2 878.4,1251.2C886.9,1253.1 895.3,1255.1 903.8,1256.9C912.3,1258.7 920.7,1260.5 929.2,1262.2C937.7,1263.9 946.1,1265.5 954.6,1266.9C963.1,1268.4 971.5,1269.6 980.0,1271.0 M745.0,1180.0C752.4,1184.0 759.8,1188.0 767.2,1192.0C774.7,1196.0 782.1,1200.1 789.6,1204.1C797.1,1208.0 804.6,1212.0 812.1,1215.9C819.7,1219.8 827.3,1223.6 834.9,1227.3C842.6,1230.9 850.3,1234.5 858.1,1237.9C865.8,1241.3 873.6,1244.5 881.5,1247.5C889.4,1250.5 897.4,1253.4 905.4,1255.9C913.4,1258.5 921.6,1260.8 929.7,1262.8C937.9,1264.8 946.2,1266.5 954.6,1267.9C963.0,1269.3 971.5,1270.0 980.0,1271.0 M760.0,1180.0C767.4,1184.8 774.7,1189.7 782.2,1194.4C789.7,1199.1 797.4,1203.7 805.1,1208.1C812.8,1212.5 820.7,1216.8 828.6,1220.8C836.5,1224.9 844.5,1228.9 852.6,1232.6C860.8,1236.3 869.0,1239.9 877.2,1243.2C885.5,1246.5 893.9,1249.6 902.3,1252.4C910.7,1255.3 919.2,1257.9 927.8,1260.3C936.4,1262.6 945.0,1264.7 953.7,1266.5C962.4,1268.3 971.2,1269.5 980.0,1271.0 M770.0,1180.0C777.0,1184.6 784.0,1189.3 791.1,1193.9C798.3,1198.4 805.6,1202.8 812.9,1207.2C820.3,1211.5 827.8,1215.7 835.3,1219.8C842.9,1223.8 850.6,1227.7 858.3,1231.5C866.0,1235.2 873.9,1238.8 881.8,1242.2C889.7,1245.5 897.6,1248.7 905.7,1251.6C913.8,1254.5 921.9,1257.3 930.1,1259.7C938.3,1262.1 946.5,1264.3 954.9,1266.2C963.2,1268.1 971.6,1269.4 980.0,1271.0 M787.0,1180.0C794.9,1184.0 802.9,1188.0 810.8,1192.1C818.7,1196.1 826.5,1200.3 834.4,1204.5C842.3,1208.6 850.2,1212.8 858.1,1216.9C866.0,1221.1 873.9,1225.2 881.9,1229.2C889.8,1233.3 897.8,1237.3 905.8,1241.1C913.9,1244.9 921.9,1248.6 930.1,1252.2C938.3,1255.7 946.5,1259.1 954.8,1262.2C963.1,1265.4 971.6,1268.1 980.0,1271.0 M838.0,1180.0C845.8,1185.3 853.5,1190.5 861.3,1195.8C869.1,1201.0 876.8,1206.3 884.6,1211.5C892.4,1216.7 900.2,1221.9 908.1,1227.0C915.9,1232.1 923.8,1237.2 931.7,1242.2C939.7,1247.1 947.6,1252.1 955.7,1256.9C963.7,1261.7 971.9,1266.3 980.0,1271.0 M908.0,1180.0C912.9,1188.4 917.6,1197.0 922.7,1205.3C927.8,1213.7 932.7,1222.2 938.5,1230.2C944.2,1238.0 950.1,1245.9 957.0,1252.7C964.0,1259.5 972.3,1264.9 980.0,1271.0 M980.0,1271.0C989.2,1266.5 999.3,1263.3 1007.5,1257.5C1015.8,1251.7 1023.3,1244.1 1029.5,1236.1C1035.9,1228.0 1041.2,1218.7 1045.3,1209.4C1049.4,1200.0 1051.1,1189.8 1054.0,1180.0 M980.0,1180.0L980.0,2047.0 M980.0,2127.4L980.0,2180.0 M980.0,1271.0L1070.0,1271.0 M75.0,1270.7L122.2,1270.7 M122.2,1312.2C118.2,1319.9 114.0,1327.6 110.2,1335.4C106.3,1343.3 102.7,1351.2 99.1,1359.1C95.5,1367.1 92.0,1375.1 88.5,1383.0C85.0,1391.0 81.5,1399.0 78.0,1407.0 M122.2,1352.4C119.9,1361.9 117.7,1371.4 115.2,1380.8C112.7,1390.2 109.9,1399.6 107.1,1408.9C104.3,1418.2 101.3,1427.5 98.2,1436.8C95.2,1446.0 92.0,1455.2 88.8,1464.4C85.6,1473.6 82.3,1482.8 79.0,1492.0 M122.2,1434.0C120.2,1442.5 118.0,1451.0 116.2,1459.6C114.4,1468.2 112.9,1476.9 111.4,1485.6C109.8,1494.3 108.5,1503.0 106.9,1511.7C105.4,1520.4 103.9,1529.1 102.1,1537.8C100.3,1546.4 98.4,1555.0 96.1,1563.5C93.8,1572.0 91.4,1580.4 88.4,1588.7C85.3,1596.9 81.5,1604.9 78.0,1613.0 M122.2,1516.0C120.9,1524.8 119.6,1533.6 118.3,1542.4C117.0,1551.2 115.7,1560.1 114.3,1568.9C112.9,1577.7 111.5,1586.5 109.8,1595.3C108.1,1604.0 106.3,1612.7 104.3,1621.4C102.2,1630.1 100.0,1638.7 97.4,1647.2C94.9,1655.7 92.0,1664.1 88.8,1672.4C85.6,1680.7 81.6,1688.8 78.0,1697.0 M122.2,1597.7C120.8,1606.7 119.3,1615.6 117.9,1624.6C116.5,1633.6 115.3,1642.8 113.9,1651.9C112.4,1661.0 110.9,1670.1 108.9,1679.1C107.0,1688.0 104.8,1696.9 102.0,1705.5C99.1,1714.1 95.8,1722.7 91.7,1730.7C87.5,1738.8 81.9,1746.2 77.0,1754.0 M122.2,1679.4C120.5,1687.9 118.4,1696.2 117.0,1704.9C115.6,1714.0 115.2,1723.8 113.8,1733.1C112.4,1742.4 111.4,1752.0 108.5,1760.7C105.8,1769.1 102.6,1777.7 97.2,1784.4C91.8,1791.2 83.1,1795.5 76.0,1801.0 M122.2,1761.0C120.1,1771.5 119.5,1782.5 115.9,1792.5C112.3,1802.4 107.3,1812.7 100.6,1820.8C94.0,1828.8 84.2,1834.3 76.0,1841.0 M122.5,1842.5C119.5,1849.3 117.8,1857.1 113.5,1863.0C109.2,1868.9 103.1,1874.0 96.8,1877.8C90.6,1881.7 82.9,1883.3 76.0,1886.0 M122.5,1924.4C118.8,1925.9 115.0,1927.8 111.5,1928.8C108.4,1929.7 105.6,1929.8 102.6,1930.3 M76.0,1935.5C79.7,1936.4 83.4,1937.3 87.0,1938.2C90.7,1939.1 94.4,1940.1 98.1,1940.9C101.8,1941.7 105.6,1942.2 109.3,1942.8 M76.0,1979.5C83.2,1983.9 90.5,1988.4 97.7,1992.8C105.0,1997.2 112.0,2002.0 119.5,2006.1C126.9,2010.2 134.8,2013.5 142.4,2017.2 M76.0,2018.0C78.0,2020.2 78.6,2021.5 82.0,2024.6C93.4,2035.1 136.5,2066.2 163.7,2087.0 M76.0,2056.0C78.0,2056.8 78.8,2057.3 82.0,2058.5C93.6,2062.9 136.5,2077.5 163.7,2087.0 M76.0,2087.0L163.7,2087.0 M76.0,2112.5C78.0,2111.7 78.8,2111.2 82.0,2110.1C93.6,2106.2 136.5,2094.7 163.7,2087.0 M76.0,2128.0C85.6,2123.2 95.2,2118.2 104.8,2113.5C114.5,2108.8 124.3,2104.3 134.1,2099.9C143.9,2095.4 153.8,2091.3 163.7,2087.0 M120.0,2180.0C121.6,2171.4 122.7,2162.7 124.9,2154.2C127.2,2145.8 129.9,2137.4 133.4,2129.4C137.0,2121.5 141.1,2113.7 146.1,2106.6C151.2,2099.5 157.8,2093.5 163.7,2087.0 M172.7,2132.2C177.6,2136.9 182.8,2141.3 187.3,2146.3C191.8,2151.4 195.9,2156.9 199.7,2162.5C203.4,2168.1 206.6,2174.2 210.0,2180.0 M163.7,2087.0C172.0,2090.4 180.5,2093.4 188.7,2097.1C196.9,2100.8 205.1,2104.7 213.0,2109.0C220.9,2113.4 228.7,2118.0 236.2,2123.0C243.6,2128.1 250.8,2133.5 257.6,2139.3C264.4,2145.2 270.8,2151.5 276.7,2158.2C282.7,2165.0 287.6,2172.7 293.0,2180.0 M163.7,2087.0C171.4,2090.5 179.1,2094.2 186.9,2097.5C194.7,2100.8 202.6,2103.9 210.5,2107.0C218.4,2110.0 226.4,2112.9 234.4,2115.9C242.4,2118.8 250.4,2121.6 258.4,2124.4C266.4,2127.3 274.4,2130.1 282.4,2133.1C290.3,2136.0 298.3,2138.9 306.2,2142.1C314.1,2145.2 321.9,2148.4 329.7,2151.9C337.4,2155.3 345.1,2158.9 352.6,2162.7C360.2,2166.6 367.5,2170.9 375.0,2175.0 M163.7,2087.0C171.8,2089.2 179.9,2091.6 188.0,2093.7C196.1,2095.8 204.3,2097.7 212.5,2099.6C220.6,2101.4 228.8,2103.1 237.0,2104.8C245.2,2106.4 253.5,2107.9 261.7,2109.4C270.0,2110.9 278.2,2112.2 286.5,2113.6C294.8,2114.9 303.1,2116.1 311.3,2117.3C319.6,2118.6 327.9,2119.7 336.3,2120.8C344.6,2122.0 352.9,2123.1 361.2,2124.2C369.5,2125.3 377.9,2126.3 386.2,2127.4C394.5,2128.5 402.8,2129.6 411.2,2130.7C419.5,2131.8 427.8,2133.0 436.2,2134.1C444.5,2135.2 452.8,2136.3 461.1,2137.3C469.5,2138.4 477.8,2139.4 486.1,2140.3C494.5,2141.2 502.8,2142.1 511.1,2142.8C519.5,2143.5 527.8,2144.1 536.2,2144.6C544.5,2145.0 552.8,2145.3 561.2,2145.5C569.5,2145.7 577.9,2145.7 586.2,2145.6C594.6,2145.5 602.9,2145.3 611.2,2144.9C619.6,2144.5 627.9,2143.9 636.2,2143.2C644.6,2142.5 652.9,2141.7 661.2,2140.7C669.6,2139.7 677.9,2138.5 686.2,2137.3C694.5,2136.0 702.8,2134.6 711.1,2133.1C719.4,2131.6 727.7,2129.8 736.0,2128.2 M163.7,2087.0C171.9,2089.9 180.1,2093.0 188.4,2095.7C196.6,2098.3 204.9,2100.8 213.3,2103.1C221.6,2105.4 230.0,2107.5 238.4,2109.5C246.8,2111.5 255.2,2113.3 263.7,2115.0C272.2,2116.8 280.6,2118.4 289.1,2119.9C297.6,2121.5 306.2,2122.9 314.7,2124.4C323.2,2125.8 331.8,2127.1 340.3,2128.5C348.9,2129.9 357.4,2131.2 366.0,2132.6C374.6,2134.0 383.2,2135.3 391.7,2136.8C400.3,2138.2 408.9,2139.7 417.4,2141.2C426.0,2142.8 434.6,2144.4 443.1,2146.0C451.7,2147.6 460.2,2149.2 468.8,2150.7C477.3,2152.1 485.9,2153.6 494.5,2154.9C503.0,2156.2 511.6,2157.3 520.2,2158.3C528.7,2159.2 537.3,2160.0 545.9,2160.5C554.5,2161.0 563.1,2161.3 571.7,2161.4C580.3,2161.5 588.8,2161.3 597.4,2161.0C606.0,2160.6 614.6,2160.0 623.2,2159.2C631.7,2158.4 640.3,2157.3 648.9,2156.1C657.4,2154.8 666.0,2153.3 674.5,2151.7C683.0,2150.0 691.6,2148.2 700.1,2146.3C708.6,2144.4 717.1,2142.4 725.5,2140.3C734.0,2138.3 742.5,2136.2 750.9,2134.2C759.4,2132.2 767.8,2130.2 776.2,2128.2 M163.7,2087.0C171.1,2091.2 178.3,2095.8 185.9,2099.7C193.4,2103.5 201.1,2106.9 208.8,2110.0C216.6,2113.1 224.5,2115.8 232.5,2118.3C240.5,2120.8 248.6,2123.0 256.7,2125.1C264.9,2127.1 273.1,2128.9 281.3,2130.7C289.6,2132.4 297.9,2134.0 306.1,2135.6C314.4,2137.1 322.7,2138.6 331.0,2140.1C339.3,2141.6 347.6,2143.1 355.8,2144.7C364.1,2146.3 372.3,2148.0 380.4,2149.8C388.5,2151.7 396.6,2153.6 404.6,2155.9C412.6,2158.1 420.6,2160.2 428.2,2163.4C435.7,2166.6 442.7,2171.1 450.0,2175.0 M695.0,2175.0C702.7,2171.0 710.1,2166.5 718.0,2162.9C725.9,2159.2 734.1,2156.2 742.3,2153.2C750.5,2150.2 758.9,2147.7 767.2,2145.0C775.5,2142.2 783.9,2139.8 792.1,2137.0C800.2,2134.2 808.2,2131.1 816.3,2128.2 M768.0,2175.0C770.7,2173.3 772.0,2172.4 776.2,2170.0C789.2,2162.7 830.7,2142.1 857.9,2128.2 M830.0,2175.0C832.6,2173.3 834.0,2172.5 837.8,2170.0C848.6,2162.9 878.9,2142.1 899.4,2128.2 M895.0,2175.0C896.5,2173.3 897.2,2172.4 899.4,2170.0C906.0,2162.8 926.1,2142.1 939.5,2128.2 M1020.4,2127.4C1025.3,2141.6 1032.5,2162.2 1035.1,2170.0C1036.1,2172.9 1036.4,2174.0 1037.0,2176.0 M1000.3,2046.1C1021.2,2031.7 1052.5,2010.2 1063.0,2002.9C1066.5,2000.5 1067.7,1999.6 1070.0,1998.0 M1021.4,2046.1C1035.3,2037.3 1054.9,2024.7 1063.0,2019.7C1066.3,2017.7 1067.7,2016.9 1070.0,2015.5 M1041.5,2046.1C1048.7,2042.9 1057.8,2038.9 1063.0,2036.6C1066.0,2035.3 1067.7,2034.5 1070.0,2033.5 M203.9,1312.2C207.3,1320.0 210.8,1327.8 214.0,1335.6C217.1,1343.5 220.1,1351.4 222.9,1359.3C225.7,1367.3 228.4,1375.2 230.8,1383.2C233.3,1391.2 235.6,1399.3 237.7,1407.3C239.9,1415.4 241.9,1423.5 243.7,1431.6C245.6,1439.8 247.2,1447.9 248.8,1456.1C250.4,1464.3 251.8,1472.5 253.1,1480.7C254.4,1489.0 255.5,1497.2 256.6,1505.5C257.6,1513.8 258.5,1522.1 259.4,1530.4C260.2,1538.7 260.9,1547.0 261.5,1555.4C262.1,1563.8 262.6,1572.1 263.0,1580.5C263.4,1588.9 263.7,1597.3 264.0,1605.7C264.2,1614.1 264.4,1622.5 264.5,1630.9C264.6,1639.4 264.6,1647.8 264.6,1656.2C264.5,1664.7 264.4,1673.1 264.3,1681.6C264.1,1690.1 263.9,1698.5 263.7,1707.0C263.4,1715.4 263.1,1723.9 262.8,1732.3C262.4,1740.8 262.1,1749.3 261.7,1757.7C261.2,1766.2 260.8,1774.6 260.3,1783.1C259.7,1791.5 259.1,1799.9 258.4,1808.3C257.8,1816.7 257.0,1825.1 256.2,1833.5C255.3,1841.9 254.4,1850.3 253.3,1858.6C252.3,1866.9 251.1,1875.3 249.8,1883.5C248.5,1891.8 247.1,1900.1 245.6,1908.3C244.1,1916.6 242.4,1924.8 240.5,1932.9C238.7,1941.1 236.7,1949.2 234.6,1957.3C232.4,1965.4 230.1,1973.4 227.6,1981.4C225.1,1989.4 222.4,1997.4 219.4,2005.2C216.4,2012.9 213.2,2020.7 209.5,2028.1C205.8,2035.5 201.8,2042.8 197.3,2049.7C192.7,2056.6 187.8,2063.3 182.2,2069.5C176.6,2075.8 169.9,2081.2 163.7,2087.0 M285.5,1312.2C292.5,1317.9 300.0,1323.1 306.4,1329.3C312.6,1335.4 318.3,1341.9 323.4,1348.7C328.4,1355.5 332.9,1362.6 336.9,1370.0C340.9,1377.3 344.3,1384.9 347.2,1392.7C350.2,1400.4 352.6,1408.4 354.7,1416.4C356.8,1424.4 358.4,1432.5 359.6,1440.7C360.9,1448.9 361.7,1457.2 362.3,1465.5C362.9,1473.9 363.1,1482.3 363.0,1490.8C363.0,1499.3 362.6,1507.8 362.1,1516.3C361.5,1524.9 360.7,1533.5 359.7,1542.1C358.8,1550.7 357.6,1559.4 356.3,1568.0C355.0,1576.7 353.5,1585.3 352.1,1593.9C350.6,1602.6 348.9,1611.2 347.3,1619.8C345.7,1628.4 344.0,1637.0 342.3,1645.5C340.7,1654.0 339.0,1662.5 337.3,1671.0C335.6,1679.5 333.9,1687.9 332.2,1696.3C330.4,1704.7 328.7,1713.1 326.9,1721.4C325.1,1729.8 323.3,1738.1 321.4,1746.4C319.6,1754.7 317.7,1763.0 315.7,1771.2C313.8,1779.5 311.8,1787.7 309.7,1795.9C307.7,1804.1 305.6,1812.3 303.4,1820.5C301.2,1828.7 299.0,1836.8 296.7,1845.0C294.4,1853.1 292.0,1861.3 289.5,1869.4C287.0,1877.5 284.5,1885.6 281.9,1893.7C279.2,1901.8 276.5,1909.9 273.7,1918.0C270.9,1926.1 268.0,1934.2 265.0,1942.3C261.9,1950.3 258.8,1958.4 255.4,1966.3C252.0,1974.2 248.5,1982.0 244.7,1989.7C240.9,1997.3 236.9,2004.9 232.6,2012.2C228.2,2019.5 223.7,2026.7 218.7,2033.5C213.8,2040.4 208.5,2047.0 202.8,2053.3C197.1,2059.6 191.1,2065.7 184.6,2071.2C178.0,2076.9 170.7,2081.8 163.7,2087.0 M367.2,1312.2C375.4,1315.7 384.4,1318.3 391.9,1322.7C399.3,1327.0 406.2,1332.3 412.2,1338.2C418.1,1343.9 423.4,1350.6 427.9,1357.5C432.4,1364.4 436.1,1372.0 439.1,1379.7C442.2,1387.3 444.4,1395.5 446.0,1403.6C447.5,1411.7 448.3,1420.0 448.4,1428.3C448.5,1436.4 447.7,1444.7 446.5,1452.8C445.3,1460.9 443.4,1469.0 441.1,1476.9C438.9,1485.0 436.1,1493.0 433.1,1500.9C430.2,1508.8 426.8,1516.7 423.4,1524.6C420.0,1532.5 416.4,1540.3 412.9,1548.2C409.4,1556.0 405.8,1563.9 402.4,1571.7C399.0,1579.5 395.7,1587.4 392.5,1595.2C389.3,1603.1 386.2,1610.9 383.2,1618.7C380.2,1626.6 377.3,1634.4 374.4,1642.3C371.5,1650.1 368.7,1658.0 366.0,1665.9C363.3,1673.7 360.6,1681.6 358.0,1689.5C355.4,1697.4 352.8,1705.3 350.3,1713.2C347.8,1721.2 345.3,1729.1 342.9,1737.0C340.4,1745.0 338.0,1753.0 335.7,1761.0C333.3,1769.0 330.9,1777.0 328.6,1785.0C326.3,1793.1 323.9,1801.2 321.6,1809.3C319.3,1817.4 317.0,1825.5 314.7,1833.6C312.4,1841.8 310.1,1850.0 307.8,1858.2C305.4,1866.4 303.1,1874.6 300.6,1882.8C298.1,1891.0 295.7,1899.2 293.0,1907.3C290.4,1915.4 287.6,1923.5 284.7,1931.4C281.8,1939.4 278.8,1947.3 275.5,1955.0C272.2,1962.7 268.8,1970.4 265.1,1977.8C261.3,1985.2 257.4,1992.6 253.2,1999.7C249.0,2006.7 244.5,2013.7 239.7,2020.3C234.8,2027.0 229.7,2033.4 224.2,2039.6C218.6,2045.8 212.8,2051.7 206.5,2057.3C200.2,2062.9 193.5,2068.2 186.4,2073.1C179.2,2078.1 171.3,2082.4 163.7,2087.0 M449.2,1312.2C457.1,1314.9 464.9,1317.5 472.8,1320.4C480.9,1323.4 488.9,1326.8 497.0,1329.8C505.1,1332.7 513.3,1335.8 521.5,1338.1C529.7,1340.4 537.9,1342.5 546.1,1343.6C554.2,1344.6 562.4,1345.1 570.5,1344.7C578.6,1344.3 586.6,1343.0 594.6,1341.3C602.6,1339.6 610.5,1337.0 618.4,1334.4C626.4,1331.8 634.3,1328.6 642.2,1325.7C650.2,1322.7 658.1,1319.4 666.1,1316.6C674.1,1313.7 682.2,1311.0 690.3,1308.6C698.4,1306.2 706.6,1304.1 714.8,1302.2C723.0,1300.4 731.2,1298.7 739.5,1297.3C747.8,1295.8 756.1,1294.5 764.4,1293.4C772.8,1292.2 781.1,1291.2 789.5,1290.2C797.9,1289.2 806.2,1288.4 814.6,1287.5C823.0,1286.6 831.4,1285.8 839.8,1284.9C848.2,1284.0 856.6,1283.1 864.9,1282.0C873.3,1281.0 881.6,1279.8 890.0,1278.7 M530.9,1312.2C539.2,1312.0 547.6,1312.0 555.9,1311.6C564.2,1311.3 572.6,1310.8 580.9,1310.2C589.2,1309.7 597.5,1308.9 605.8,1308.1C614.1,1307.3 622.4,1306.4 630.7,1305.5C639.0,1304.5 647.2,1303.5 655.5,1302.4C663.8,1301.3 672.1,1300.1 680.4,1299.0C688.7,1297.8 696.9,1296.6 705.2,1295.3C713.5,1294.1 721.8,1292.9 730.1,1291.6C738.4,1290.4 746.6,1289.2 754.9,1288.0C763.2,1286.8 771.5,1285.5 779.8,1284.4C788.1,1283.2 796.4,1282.1 804.7,1281.0C813.0,1280.0 821.3,1278.9 829.6,1278.0C837.9,1277.0 846.2,1276.1 854.6,1275.3C862.9,1274.5 871.2,1273.7 879.5,1273.1C887.9,1272.5 896.2,1271.9 904.6,1271.5C912.9,1271.1 921.3,1270.7 929.7,1270.5C938.0,1270.3 946.4,1270.3 954.8,1270.3C963.2,1270.4 971.6,1270.8 980.0,1271.0 M980.0,1271.0C971.5,1271.3 962.9,1271.5 954.4,1272.0C945.9,1272.6 937.5,1273.4 929.1,1274.5C920.7,1275.5 912.4,1276.8 904.1,1278.3C895.8,1279.8 887.5,1281.5 879.3,1283.5C871.0,1285.5 862.7,1287.7 854.5,1290.2C846.3,1292.6 838.0,1295.3 829.8,1298.2C821.6,1301.2 813.3,1304.3 805.3,1307.9C797.3,1311.4 789.3,1315.2 781.7,1319.6C774.3,1323.9 766.9,1328.6 760.3,1333.9C753.7,1339.1 747.4,1345.0 741.9,1351.2C736.4,1357.5 731.4,1364.2 727.3,1371.4C723.2,1378.5 719.8,1386.1 717.3,1393.9C714.9,1401.7 713.4,1410.1 712.6,1418.3C711.7,1426.7 711.9,1435.4 712.3,1443.9C712.7,1452.5 713.8,1461.1 715.1,1469.5C716.3,1478.0 718.0,1486.3 719.8,1494.6C721.7,1502.9 724.0,1511.1 726.4,1519.3C728.8,1527.4 731.5,1535.5 734.3,1543.5C737.1,1551.6 740.2,1559.5 743.3,1567.5C746.5,1575.4 749.8,1583.3 753.2,1591.2C756.6,1599.1 760.1,1607.0 763.6,1614.8C767.1,1622.7 770.7,1630.5 774.2,1638.4C777.8,1646.2 781.3,1654.0 784.8,1661.9C788.2,1669.8 791.6,1677.6 794.9,1685.5C798.2,1693.4 801.4,1701.3 804.6,1709.3C807.7,1717.2 810.8,1725.2 813.8,1733.1C816.8,1741.1 819.7,1749.1 822.6,1757.1C825.4,1765.1 828.2,1773.1 831.0,1781.2C833.8,1789.2 836.5,1797.2 839.3,1805.3C842.0,1813.3 844.7,1821.4 847.3,1829.4C850.0,1837.5 852.6,1845.6 855.3,1853.6C857.9,1861.7 860.6,1869.8 863.2,1877.8C865.9,1885.9 868.5,1894.0 871.2,1902.1C873.9,1910.1 876.5,1918.2 879.3,1926.3C882.0,1934.3 884.8,1942.4 887.6,1950.4C890.4,1958.5 893.2,1966.5 896.1,1974.6C899.0,1982.6 901.9,1990.6 905.0,1998.6C908.0,2006.6 911.1,2014.6 914.2,2022.6C917.4,2030.6 920.8,2038.5 924.0,2046.5 M513.4,1466.2C519.5,1459.8 524.8,1452.0 531.8,1447.1C538.7,1442.3 546.9,1438.7 555.0,1436.9C563.0,1435.0 571.9,1434.9 580.1,1436.0C588.4,1437.1 596.9,1440.0 604.5,1443.4C612.1,1446.9 619.2,1451.5 625.7,1456.5C632.2,1461.5 638.0,1467.3 643.4,1473.4C648.8,1479.6 653.6,1486.4 658.3,1493.4C662.9,1500.4 667.1,1507.9 671.2,1515.4C675.4,1522.9 679.2,1530.8 683.1,1538.5C687.0,1546.3 690.8,1554.1 694.7,1561.9C698.5,1569.6 702.5,1577.3 706.5,1584.9C710.4,1592.5 714.5,1600.0 718.5,1607.5C722.5,1615.0 726.6,1622.5 730.6,1629.9C734.7,1637.4 738.7,1644.8 742.8,1652.2C746.8,1659.6 750.8,1667.0 754.8,1674.4C758.8,1681.8 762.8,1689.2 766.8,1696.6C770.7,1704.0 774.6,1711.5 778.4,1719.0C782.3,1726.5 786.1,1734.0 789.8,1741.6C793.5,1749.1 797.1,1756.8 800.7,1764.5C804.3,1772.1 807.8,1779.9 811.2,1787.6C814.7,1795.4 818.1,1803.2 821.5,1811.0C824.8,1818.9 828.2,1826.7 831.5,1834.6C834.7,1842.5 838.0,1850.4 841.2,1858.3C844.5,1866.2 847.7,1874.2 850.9,1882.1C854.1,1890.1 857.3,1898.0 860.5,1905.9C863.7,1913.9 866.8,1921.8 870.1,1929.7C873.3,1937.6 876.5,1945.5 879.7,1953.4C882.9,1961.3 886.1,1969.2 889.4,1977.0C892.7,1984.8 896.0,1992.7 899.4,2000.4C902.7,2008.2 906.1,2015.9 909.5,2023.6C913.0,2031.3 916.5,2038.9 920.0,2046.5 M980.0,1271.0C971.2,1272.0 962.2,1272.4 953.5,1274.1C944.9,1275.7 936.4,1277.9 928.2,1280.7C920.0,1283.5 912.1,1286.8 904.4,1290.6C896.8,1294.4 889.5,1298.8 882.5,1303.6C875.5,1308.3 868.9,1313.6 862.7,1319.2C856.5,1324.7 850.6,1330.8 845.2,1337.1C839.9,1343.5 834.9,1350.2 830.5,1357.2C826.1,1364.1 822.1,1371.5 818.6,1379.0C815.1,1386.5 812.1,1394.3 809.4,1402.2C806.7,1410.2 804.5,1418.4 802.6,1426.6C800.7,1434.9 799.2,1443.4 797.9,1451.8C796.7,1460.4 795.8,1469.0 795.1,1477.6C794.4,1486.3 794.0,1495.0 793.8,1503.6C793.6,1512.3 793.7,1520.9 793.9,1529.6C794.1,1538.2 794.5,1546.7 795.1,1555.3C795.6,1563.8 796.4,1572.4 797.2,1580.8C798.1,1589.3 799.2,1597.8 800.3,1606.2C801.5,1614.7 802.8,1623.1 804.2,1631.5C805.6,1639.8 807.2,1648.2 808.8,1656.5C810.5,1664.9 812.2,1673.2 814.0,1681.5C815.8,1689.8 817.7,1698.1 819.7,1706.4C821.6,1714.7 823.7,1722.9 825.7,1731.2C827.8,1739.4 829.9,1747.7 832.1,1755.9C834.2,1764.2 836.4,1772.4 838.6,1780.6C840.7,1788.8 842.9,1797.1 845.1,1805.3C847.3,1813.5 849.6,1821.7 851.8,1829.9C854.1,1838.1 856.4,1846.3 858.7,1854.5C861.0,1862.6 863.4,1870.8 865.8,1878.9C868.2,1887.1 870.7,1895.2 873.2,1903.3C875.7,1911.4 878.3,1919.5 881.0,1927.6C883.7,1935.7 886.4,1943.7 889.2,1951.7C892.1,1959.8 895.0,1967.7 898.0,1975.7C901.0,1983.7 904.1,1991.6 907.3,1999.5C910.5,2007.4 913.9,2015.3 917.3,2023.1C920.8,2031.0 924.4,2038.7 928.0,2046.5 M980.0,1271.0C972.1,1274.5 963.7,1277.5 956.2,1281.6C948.8,1285.7 941.9,1290.5 935.4,1295.7C929.0,1300.8 923.0,1306.6 917.5,1312.7C911.9,1318.7 906.8,1325.3 902.1,1332.1C897.4,1338.9 893.1,1346.1 889.1,1353.4C885.1,1360.8 881.5,1368.5 878.2,1376.2C874.8,1384.0 871.9,1392.0 869.1,1400.0C866.4,1408.0 863.9,1416.1 861.7,1424.3C859.5,1432.5 857.5,1440.7 855.8,1449.0C854.0,1457.3 852.5,1465.6 851.2,1474.0C849.9,1482.4 848.8,1490.8 847.9,1499.2C846.9,1507.7 846.2,1516.2 845.6,1524.7C845.0,1533.1 844.6,1541.7 844.3,1550.2C844.0,1558.7 843.8,1567.2 843.8,1575.8C843.7,1584.3 843.8,1592.8 843.9,1601.3C844.1,1609.8 844.3,1618.3 844.6,1626.8C845.0,1635.2 845.4,1643.7 845.9,1652.1C846.4,1660.6 847.0,1669.0 847.7,1677.4C848.4,1685.9 849.2,1694.3 850.1,1702.7C851.0,1711.1 851.9,1719.4 853.0,1727.8C854.0,1736.2 855.2,1744.5 856.4,1752.8C857.6,1761.2 858.9,1769.5 860.3,1777.8C861.7,1786.1 863.1,1794.4 864.7,1802.6C866.2,1810.9 867.9,1819.2 869.6,1827.4C871.3,1835.7 873.1,1843.9 874.9,1852.1C876.8,1860.3 878.8,1868.5 880.8,1876.7C882.8,1884.9 884.9,1893.0 887.1,1901.2C889.2,1909.3 891.5,1917.5 893.8,1925.6C896.1,1933.7 898.5,1941.8 901.0,1949.9C903.5,1958.0 906.0,1966.0 908.6,1974.1C911.2,1982.1 913.9,1990.2 916.7,1998.2C919.4,2006.2 922.3,2014.2 925.1,2022.2C928.0,2030.2 931.1,2038.1 934.0,2046.1 M980.0,1271.0C974.1,1277.0 967.8,1282.7 962.4,1289.0C956.9,1295.3 952.0,1302.0 947.3,1308.8C942.7,1315.6 938.5,1322.7 934.5,1330.0C930.6,1337.3 927.0,1344.8 923.7,1352.4C920.4,1360.0 917.4,1367.8 914.6,1375.6C911.7,1383.5 909.2,1391.5 906.8,1399.5C904.4,1407.6 902.2,1415.7 900.1,1423.8C898.1,1432.0 896.2,1440.2 894.4,1448.4C892.7,1456.7 891.1,1465.0 889.6,1473.3C888.2,1481.6 886.9,1490.0 885.7,1498.3C884.5,1506.7 883.4,1515.1 882.5,1523.5C881.5,1531.9 880.7,1540.4 879.9,1548.8C879.2,1557.2 878.6,1565.7 878.0,1574.1C877.5,1582.6 877.0,1591.0 876.6,1599.5C876.3,1607.9 876.0,1616.3 875.7,1624.8C875.5,1633.2 875.4,1641.6 875.4,1650.0C875.3,1658.4 875.4,1666.8 875.5,1675.2C875.6,1683.6 875.8,1692.0 876.1,1700.4C876.4,1708.8 876.8,1717.2 877.3,1725.6C877.8,1733.9 878.3,1742.3 879.0,1750.6C879.6,1759.0 880.3,1767.3 881.2,1775.7C882.0,1784.0 882.9,1792.3 883.9,1800.6C884.9,1808.9 885.9,1817.3 887.1,1825.5C888.3,1833.8 889.5,1842.1 890.9,1850.4C892.2,1858.6 893.6,1866.9 895.1,1875.1C896.6,1883.4 898.3,1891.6 899.9,1899.8C901.6,1908.0 903.4,1916.3 905.3,1924.4C907.2,1932.6 909.1,1940.8 911.2,1949.0C913.2,1957.1 915.3,1965.3 917.6,1973.4C919.8,1981.5 922.1,1989.6 924.5,1997.7C926.9,2005.8 929.4,2013.9 932.0,2022.0C934.6,2030.0 937.3,2038.1 940.0,2046.1 M980.0,1271.0C979.5,1279.3 978.9,1287.6 978.4,1295.9C977.9,1304.3 977.4,1312.6 976.9,1320.9C976.4,1329.2 975.9,1337.5 975.4,1345.9C974.9,1354.2 974.4,1362.5 973.9,1370.8C973.4,1379.2 972.9,1387.5 972.5,1395.8C972.0,1404.1 971.5,1412.5 971.1,1420.8C970.6,1429.1 970.2,1437.5 969.7,1445.8C969.3,1454.1 968.8,1462.5 968.4,1470.8C968.0,1479.1 967.6,1487.5 967.2,1495.8C966.7,1504.1 966.3,1512.5 966.0,1520.8C965.6,1529.1 965.2,1537.5 964.8,1545.8C964.4,1554.1 964.1,1562.5 963.7,1570.8C963.4,1579.1 963.0,1587.5 962.7,1595.8C962.4,1604.2 962.1,1612.5 961.8,1620.8C961.5,1629.2 961.2,1637.5 960.9,1645.9C960.6,1654.2 960.3,1662.5 960.1,1670.9C959.8,1679.2 959.6,1687.6 959.3,1695.9C959.1,1704.2 958.9,1712.6 958.7,1720.9C958.5,1729.3 958.3,1737.6 958.1,1745.9C958.0,1754.3 957.8,1762.6 957.7,1771.0C957.5,1779.3 957.4,1787.7 957.3,1796.0C957.2,1804.3 957.1,1812.7 957.0,1821.0C956.9,1829.4 956.8,1837.7 956.8,1846.0C956.7,1854.4 956.7,1862.7 956.7,1871.1C956.7,1879.4 956.7,1887.7 956.7,1896.1C956.7,1904.4 956.8,1912.7 956.8,1921.1C956.9,1929.4 957.0,1937.8 957.1,1946.1C957.2,1954.4 957.3,1962.8 957.4,1971.1C957.6,1979.4 957.7,1987.8 957.9,1996.1C958.1,2004.4 958.3,2012.8 958.5,2021.1C958.7,2029.4 958.9,2037.8 959.2,2046.1 M980.0,1271.0C987.7,1275.0 996.0,1278.2 1003.0,1283.0C1010.0,1287.9 1016.2,1293.9 1022.1,1300.0C1028.0,1306.2 1033.3,1313.2 1038.6,1320.0C1043.9,1326.8 1048.8,1334.1 1054.1,1340.9C1059.3,1347.8 1064.7,1354.3 1070.0,1361.0 M980.0,1271.0C985.0,1278.7 990.3,1286.2 995.1,1294.1C999.9,1301.9 1004.5,1309.8 1008.9,1317.9C1013.3,1325.9 1017.5,1334.1 1021.6,1342.4C1025.8,1350.6 1029.7,1358.9 1033.6,1367.3C1037.5,1375.6 1041.2,1384.0 1045.0,1392.4C1048.7,1400.9 1052.4,1409.3 1056.0,1417.8C1059.7,1426.2 1063.3,1434.6 1067.0,1443.0 M980.0,1271.0C983.2,1279.3 986.5,1287.6 989.5,1295.9C992.5,1304.3 995.4,1312.7 998.1,1321.2C1000.9,1329.6 1003.6,1338.1 1006.3,1346.6C1008.9,1355.2 1011.5,1363.7 1014.0,1372.3C1016.6,1380.8 1019.1,1389.4 1021.7,1397.9C1024.3,1406.5 1026.9,1415.1 1029.5,1423.6C1032.2,1432.1 1034.9,1440.6 1037.7,1449.1C1040.6,1457.6 1043.5,1466.0 1046.6,1474.4C1049.7,1482.8 1052.8,1491.1 1056.2,1499.4C1059.7,1507.7 1063.4,1515.8 1067.0,1524.0 M980.0,1271.0C981.7,1279.6 983.6,1288.1 985.2,1296.7C986.9,1305.3 988.4,1313.9 989.8,1322.6C991.3,1331.2 992.7,1340.0 994.1,1348.7C995.5,1357.4 996.9,1366.1 998.3,1374.8C999.7,1383.5 1001.1,1392.3 1002.5,1401.0C1004.0,1409.7 1005.5,1418.4 1007.1,1427.0C1008.8,1435.7 1010.4,1444.3 1012.3,1452.9C1014.2,1461.5 1016.1,1470.1 1018.3,1478.6C1020.4,1487.1 1022.7,1495.5 1025.2,1503.9C1027.8,1512.2 1030.5,1520.6 1033.5,1528.8C1036.5,1537.0 1039.7,1545.1 1043.2,1553.1C1046.7,1561.2 1050.5,1569.1 1054.6,1576.9C1058.8,1584.7 1063.5,1592.3 1068.0,1600.0 M980.0,1271.0C980.9,1279.3 981.8,1287.7 982.7,1296.0C983.6,1304.4 984.5,1312.8 985.4,1321.1C986.3,1329.5 987.2,1337.9 988.2,1346.2C989.2,1354.6 990.2,1363.0 991.2,1371.3C992.2,1379.7 993.2,1388.1 994.3,1396.4C995.4,1404.8 996.6,1413.2 997.7,1421.5C998.9,1429.8 1000.2,1438.2 1001.4,1446.5C1002.7,1454.8 1004.1,1463.2 1005.5,1471.5C1006.9,1479.8 1008.4,1488.0 1010.0,1496.3C1011.5,1504.6 1013.1,1512.8 1014.9,1521.1C1016.6,1529.3 1018.4,1537.5 1020.3,1545.7C1022.2,1553.9 1024.1,1562.1 1026.2,1570.2C1028.3,1578.4 1030.5,1586.5 1032.8,1594.6C1035.1,1602.6 1037.5,1610.7 1040.0,1618.7C1042.5,1626.7 1045.1,1634.7 1047.9,1642.7C1050.6,1650.7 1053.5,1658.6 1056.5,1666.5C1059.6,1674.4 1062.9,1682.2 1066.0,1690.0 M980.0,1271.0C980.6,1279.4 981.2,1287.7 981.7,1296.1C982.3,1304.5 982.8,1312.9 983.4,1321.3C983.9,1329.8 984.4,1338.2 985.0,1346.6C985.5,1355.1 986.0,1363.6 986.6,1372.0C987.1,1380.5 987.7,1389.0 988.3,1397.5C988.8,1405.9 989.4,1414.4 990.1,1422.9C990.7,1431.4 991.4,1439.9 992.1,1448.4C992.9,1456.8 993.6,1465.3 994.4,1473.8C995.3,1482.2 996.1,1490.7 997.1,1499.2C998.0,1507.6 999.1,1516.0 1000.2,1524.5C1001.2,1532.9 1002.4,1541.3 1003.7,1549.7C1004.9,1558.0 1006.3,1566.4 1007.7,1574.7C1009.2,1583.1 1010.7,1591.4 1012.4,1599.7C1014.0,1607.9 1015.8,1616.2 1017.7,1624.4C1019.6,1632.6 1021.6,1640.8 1023.7,1649.0C1025.9,1657.1 1028.1,1665.3 1030.5,1673.3C1033.0,1681.4 1035.5,1689.4 1038.2,1697.4C1040.9,1705.4 1043.8,1713.4 1046.8,1721.3C1049.8,1729.2 1053.0,1737.0 1056.4,1744.8C1059.7,1752.6 1063.5,1760.3 1067.0,1768.0 M980.0,1271.0C980.4,1279.5 980.8,1288.0 981.2,1296.5C981.6,1305.1 982.0,1313.6 982.4,1322.2C982.7,1330.7 983.1,1339.3 983.4,1347.8C983.8,1356.4 984.1,1365.0 984.4,1373.6C984.8,1382.1 985.1,1390.7 985.5,1399.3C985.8,1407.9 986.2,1416.5 986.6,1425.1C986.9,1433.7 987.3,1442.3 987.7,1450.9C988.2,1459.5 988.6,1468.1 989.1,1476.7C989.5,1485.3 990.0,1493.9 990.6,1502.5C991.1,1511.0 991.7,1519.6 992.3,1528.2C993.0,1536.8 993.6,1545.4 994.4,1553.9C995.1,1562.5 995.8,1571.0 996.7,1579.6C997.5,1588.1 998.4,1596.7 999.4,1605.2C1000.3,1613.7 1001.4,1622.2 1002.5,1630.7C1003.6,1639.2 1004.7,1647.7 1006.0,1656.2C1007.3,1664.7 1008.6,1673.1 1010.0,1681.6C1011.4,1690.0 1013.0,1698.4 1014.6,1706.8C1016.2,1715.2 1017.9,1723.6 1019.7,1731.9C1021.5,1740.3 1023.3,1748.7 1025.5,1756.9C1027.6,1765.2 1029.7,1773.5 1032.4,1781.6C1035.1,1789.7 1037.9,1797.7 1041.4,1805.5C1045.0,1813.3 1049.1,1820.9 1053.5,1828.3C1057.9,1835.7 1063.2,1842.8 1068.0,1850.0 M163.7,2087.0C171.1,2082.3 178.7,2077.9 185.8,2073.0C192.8,2068.1 199.5,2062.9 205.9,2057.4C212.3,2052.0 218.3,2046.4 224.1,2040.5C229.9,2034.7 235.4,2028.6 240.7,2022.3C245.9,2016.1 250.9,2009.7 255.7,2003.1C260.4,1996.5 265.0,1989.7 269.3,1982.8C273.7,1975.9 277.8,1968.8 281.8,1961.6C285.8,1954.5 289.6,1947.1 293.2,1939.7C296.9,1932.3 300.4,1924.8 303.8,1917.2C307.2,1909.6 310.5,1902.0 313.7,1894.2C317.0,1886.5 320.1,1878.7 323.2,1870.9C326.3,1863.0 329.3,1855.1 332.3,1847.2C335.3,1839.3 338.2,1831.4 341.2,1823.5C344.2,1815.6 347.1,1807.7 350.1,1799.8C353.1,1791.9 356.1,1784.0 359.2,1776.2C362.3,1768.4 365.4,1760.6 368.7,1752.8C371.9,1745.1 375.2,1737.4 378.7,1729.9C382.1,1722.3 385.6,1714.8 389.3,1707.4C393.0,1700.0 396.9,1692.7 400.8,1685.5C404.8,1678.3 408.9,1671.2 413.1,1664.1C417.3,1657.0 421.6,1649.9 426.0,1642.9C430.4,1635.9 434.9,1628.9 439.5,1621.9C444.1,1614.8 448.7,1607.7 453.5,1600.7C458.3,1593.7 463.0,1586.5 468.1,1579.8C473.2,1573.0 478.4,1566.3 484.0,1560.1C489.6,1554.0 495.4,1548.1 501.8,1543.0C508.2,1537.9 515.0,1533.2 522.2,1529.6C529.6,1526.0 537.6,1523.1 545.7,1521.2C553.9,1519.4 562.7,1518.4 571.1,1518.4C579.6,1518.5 588.3,1519.4 596.4,1521.5C604.4,1523.5 612.2,1526.6 619.4,1530.6C626.6,1534.5 633.1,1539.7 639.4,1545.0C645.7,1550.5 651.4,1556.7 657.1,1562.9C662.8,1569.1 668.1,1575.7 673.4,1582.2C678.7,1588.8 683.8,1595.4 688.8,1602.1C693.7,1608.9 698.6,1615.7 703.3,1622.6C708.0,1629.4 712.6,1636.4 717.1,1643.4C721.6,1650.4 726.0,1657.5 730.4,1664.6C734.7,1671.7 738.9,1678.8 743.1,1686.0C747.3,1693.2 751.5,1700.4 755.5,1707.7C759.6,1715.0 763.6,1722.3 767.5,1729.6C771.5,1736.9 775.4,1744.3 779.2,1751.7C783.1,1759.0 786.9,1766.5 790.7,1773.9C794.4,1781.3 798.1,1788.8 801.8,1796.3C805.5,1803.8 809.1,1811.3 812.7,1818.8C816.3,1826.3 819.9,1833.9 823.4,1841.4C826.9,1849.0 830.5,1856.5 833.9,1864.1C837.4,1871.7 840.9,1879.3 844.3,1886.9C847.8,1894.5 851.2,1902.1 854.6,1909.7C858.1,1917.3 861.5,1924.9 864.9,1932.5C868.3,1940.2 871.6,1947.8 875.0,1955.4C878.4,1963.0 881.8,1970.6 885.2,1978.2C888.6,1985.8 892.0,1993.4 895.4,2001.0C898.8,2008.6 902.2,2016.2 905.7,2023.8C909.1,2031.4 912.5,2038.9 916.0,2046.5 M163.7,2087.0C171.1,2082.9 178.8,2079.1 186.0,2074.8C193.3,2070.5 200.4,2065.9 207.3,2061.0C214.2,2056.2 220.9,2051.1 227.4,2045.7C233.8,2040.4 240.1,2034.8 246.2,2029.0C252.3,2023.2 258.1,2017.2 263.8,2011.0C269.4,2004.8 274.8,1998.4 280.0,1991.8C285.2,1985.3 290.1,1978.5 294.8,1971.6C299.5,1964.6 304.0,1957.5 308.2,1950.3C312.4,1943.1 316.3,1935.6 320.0,1928.1C323.7,1920.6 327.1,1912.9 330.4,1905.2C333.7,1897.5 336.8,1889.7 339.9,1881.9C343.1,1874.0 346.0,1866.2 349.2,1858.4C352.3,1850.6 355.4,1842.7 358.8,1835.0C362.1,1827.3 365.6,1819.7 369.3,1812.2C373.1,1804.7 377.2,1797.4 381.4,1790.1C385.5,1782.8 389.9,1775.7 394.3,1768.6C398.6,1761.5 403.1,1754.4 407.7,1747.5C412.3,1740.5 416.9,1733.6 421.8,1726.8C426.6,1720.0 431.6,1713.3 436.8,1706.7C442.0,1700.1 447.3,1693.5 452.9,1687.1C458.5,1680.6 464.2,1674.2 470.3,1668.1C476.3,1661.9 482.6,1655.8 489.2,1650.3C495.7,1644.9 502.5,1639.6 509.7,1635.3C516.9,1631.0 524.4,1627.2 532.1,1624.5C539.8,1621.8 548.1,1619.9 556.2,1619.0C564.3,1618.1 572.7,1618.1 580.9,1619.0C589.0,1620.0 597.2,1621.9 604.9,1624.6C612.7,1627.4 620.2,1631.3 627.3,1635.5C634.5,1639.8 641.3,1645.0 647.9,1650.2C654.6,1655.4 661.0,1660.9 667.2,1666.7C673.4,1672.4 679.4,1678.3 685.3,1684.4C691.1,1690.5 696.8,1696.8 702.3,1703.2C707.9,1709.6 713.2,1716.2 718.5,1722.8C723.8,1729.4 728.9,1736.1 733.9,1742.9C739.0,1749.7 743.9,1756.5 748.7,1763.4C753.6,1770.3 758.3,1777.2 763.0,1784.2C767.7,1791.1 772.3,1798.1 776.8,1805.2C781.3,1812.2 785.7,1819.3 790.1,1826.4C794.5,1833.5 798.8,1840.6 803.1,1847.8C807.4,1855.0 811.6,1862.2 815.8,1869.4C820.0,1876.7 824.1,1883.9 828.2,1891.2C832.3,1898.5 836.3,1905.8 840.4,1913.1C844.4,1920.4 848.4,1927.8 852.4,1935.2C856.4,1942.5 860.3,1949.9 864.3,1957.3C868.3,1964.7 872.2,1972.1 876.2,1979.5C880.1,1987.0 884.1,1994.4 888.0,2001.8C892.0,2009.3 896.0,2016.7 900.0,2024.2C904.0,2031.6 908.0,2039.1 912.0,2046.5 M163.7,2087.0C171.0,2082.9 178.2,2078.9 185.5,2074.7C192.8,2070.5 200.3,2066.4 207.6,2062.0C214.9,2057.6 222.2,2053.2 229.3,2048.5C236.5,2043.9 243.5,2039.1 250.3,2034.0C257.0,2028.9 263.6,2023.6 269.8,2017.9C276.0,2012.3 281.9,2006.3 287.4,2000.0C292.8,1993.8 297.9,1987.1 302.6,1980.2C307.4,1973.4 311.8,1966.1 316.0,1958.9C320.2,1951.6 324.1,1944.0 327.9,1936.5C331.7,1928.9 335.3,1921.2 338.9,1913.6C342.5,1905.9 345.9,1898.2 349.4,1890.5C352.9,1882.8 356.3,1875.2 359.9,1867.6C363.4,1860.0 367.0,1852.5 370.9,1845.1C374.7,1837.7 378.6,1830.4 382.9,1823.2C387.1,1816.1 391.6,1809.1 396.3,1802.3C401.1,1795.5 406.2,1788.9 411.5,1782.5C416.8,1776.0 422.4,1769.7 428.2,1763.5C434.0,1757.3 440.0,1751.3 446.2,1745.4C452.5,1739.4 458.9,1733.6 465.5,1727.9C472.1,1722.2 478.8,1716.6 485.8,1711.4C492.7,1706.4 499.8,1701.4 507.2,1697.3C514.5,1693.3 522.1,1689.7 529.8,1687.1C537.5,1684.6 545.5,1683.0 553.5,1682.1C561.6,1681.3 569.8,1681.4 577.9,1682.2C586.0,1682.9 594.2,1684.5 602.2,1686.7C610.2,1688.9 618.2,1691.8 625.9,1695.2C633.6,1698.6 641.1,1702.7 648.3,1707.2C655.5,1711.6 662.4,1716.7 669.0,1722.0C675.7,1727.3 682.0,1733.1 688.2,1739.0C694.4,1744.8 700.3,1751.0 706.2,1757.2C712.0,1763.4 717.7,1769.7 723.2,1776.0C728.8,1782.4 734.2,1788.8 739.6,1795.4C744.9,1801.9 750.1,1808.5 755.2,1815.1C760.3,1821.7 765.3,1828.5 770.3,1835.2C775.2,1842.0 780.1,1848.8 784.9,1855.7C789.6,1862.5 794.3,1869.4 799.0,1876.4C803.7,1883.3 808.3,1890.3 812.9,1897.3C817.4,1904.3 821.9,1911.4 826.5,1918.5C831.0,1925.5 835.4,1932.6 839.9,1939.7C844.4,1946.8 848.8,1954.0 853.3,1961.1C857.8,1968.2 862.2,1975.4 866.7,1982.5C871.2,1989.6 875.7,1996.8 880.2,2003.9C884.8,2011.0 889.4,2018.2 894.0,2025.3C898.6,2032.4 903.3,2039.4 908.0,2046.5 M163.7,2087.0C171.0,2082.9 178.2,2078.7 185.6,2074.7C193.0,2070.6 200.6,2066.6 208.1,2062.5C215.6,2058.4 223.2,2054.3 230.7,2050.1C238.1,2045.8 245.5,2041.5 252.7,2036.8C259.9,2032.2 267.0,2027.5 273.8,2022.4C280.5,2017.3 287.1,2012.0 293.3,2006.3C299.4,2000.6 305.2,1994.5 310.7,1988.2C316.2,1981.8 321.3,1975.0 326.2,1968.1C331.1,1961.1 335.6,1953.9 340.1,1946.6C344.6,1939.3 348.8,1931.8 353.0,1924.3C357.1,1916.9 361.2,1909.3 365.2,1901.8C369.2,1894.3 373.2,1886.7 377.1,1879.2C381.1,1871.7 385.0,1864.1 388.9,1856.6C392.9,1849.1 396.6,1841.4 400.8,1834.1C405.0,1826.9 409.1,1819.6 414.1,1813.1C419.1,1806.6 424.8,1800.8 430.8,1795.2C436.8,1789.6 443.5,1784.5 450.2,1779.4C457.0,1774.1 464.1,1769.1 471.2,1764.0C478.4,1759.0 485.7,1753.8 493.3,1749.2C500.8,1744.7 508.4,1740.3 516.3,1736.9C524.0,1733.6 532.1,1730.9 540.1,1729.2C548.1,1727.5 556.4,1726.9 564.6,1726.9C572.8,1726.9 581.1,1727.9 589.2,1729.3C597.4,1730.8 605.6,1733.1 613.7,1735.8C621.7,1738.5 629.7,1741.8 637.4,1745.5C645.2,1749.1 652.8,1753.3 660.2,1757.6C667.5,1762.0 674.7,1766.8 681.6,1771.7C688.5,1776.7 695.2,1782.0 701.8,1787.4C708.3,1792.8 714.6,1798.5 720.7,1804.3C726.8,1810.1 732.7,1816.1 738.5,1822.3C744.2,1828.4 749.8,1834.7 755.2,1841.1C760.7,1847.5 766.0,1854.0 771.2,1860.7C776.4,1867.3 781.5,1874.1 786.6,1880.8C791.6,1887.7 796.5,1894.6 801.4,1901.5C806.3,1908.4 811.1,1915.4 815.9,1922.4C820.7,1929.5 825.4,1936.5 830.2,1943.6C835.0,1950.6 839.7,1957.7 844.5,1964.7C849.3,1971.7 854.1,1978.7 859.0,1985.7C863.9,1992.6 868.8,1999.6 873.8,2006.4C878.8,2013.3 883.9,2020.1 889.1,2026.7C894.3,2033.4 899.7,2039.9 905.0,2046.5 M163.7,2087.0C171.5,2083.6 179.5,2080.4 187.2,2076.8C194.9,2073.2 202.5,2069.4 210.0,2065.4C217.4,2061.4 224.7,2057.2 231.9,2052.8C239.1,2048.4 246.1,2043.8 253.0,2039.0C259.9,2034.2 266.7,2029.3 273.3,2024.1C279.9,2018.9 286.3,2013.6 292.6,2008.0C298.9,2002.5 305.0,1996.8 310.9,1990.9C316.9,1985.0 322.7,1978.9 328.2,1972.7C333.8,1966.5 339.3,1960.0 344.5,1953.5C349.7,1946.9 354.8,1940.1 359.7,1933.2C364.5,1926.3 369.2,1919.2 373.7,1912.0C378.2,1904.8 382.4,1897.4 386.8,1890.1C391.1,1882.8 395.3,1875.4 399.9,1868.4C404.4,1861.3 409.0,1854.3 414.0,1847.8C419.0,1841.3 424.4,1835.0 430.1,1829.2C435.9,1823.3 442.1,1817.8 448.5,1812.5C455.1,1807.2 462.0,1802.1 469.1,1797.3C476.4,1792.5 484.0,1787.7 491.7,1783.6C499.5,1779.6 507.5,1775.7 515.6,1772.8C523.6,1769.8 531.8,1767.4 540.0,1765.9C548.1,1764.4 556.3,1763.7 564.4,1763.6C572.5,1763.6 580.7,1764.3 588.7,1765.6C596.7,1766.8 604.7,1768.8 612.6,1771.1C620.5,1773.5 628.3,1776.6 635.9,1779.9C643.6,1783.3 651.1,1787.2 658.5,1791.3C665.9,1795.5 673.1,1800.1 680.2,1805.0C687.2,1809.8 694.1,1815.0 700.8,1820.3C707.4,1825.6 713.9,1831.1 720.1,1836.8C726.4,1842.5 732.4,1848.3 738.4,1854.3C744.3,1860.3 750.0,1866.4 755.7,1872.6C761.3,1878.9 766.8,1885.2 772.3,1891.6C777.7,1898.0 783.0,1904.5 788.3,1911.1C793.6,1917.6 798.8,1924.2 804.0,1930.8C809.2,1937.4 814.3,1944.1 819.5,1950.7C824.7,1957.4 829.9,1964.0 835.1,1970.6C840.4,1977.2 845.6,1983.8 851.0,1990.3C856.4,1996.8 861.8,2003.3 867.3,2009.6C872.8,2016.0 878.4,2022.3 884.2,2028.4C890.0,2034.6 896.1,2040.5 902.0,2046.5 M163.7,2087.0C171.8,2083.9 180.1,2081.1 188.0,2077.8C195.9,2074.5 203.6,2071.0 211.1,2067.2C218.6,2063.5 225.9,2059.5 233.1,2055.2C240.2,2051.1 247.2,2046.6 254.1,2042.0C260.9,2037.4 267.6,2032.6 274.2,2027.6C280.8,2022.6 287.2,2017.4 293.5,2012.0C299.8,2006.6 306.0,2001.1 312.1,1995.4C318.2,1989.6 324.2,1983.7 330.1,1977.7C336.1,1971.7 341.9,1965.5 347.7,1959.3C353.6,1953.0 359.3,1946.7 365.1,1940.4C370.9,1934.0 376.7,1927.7 382.5,1921.4C388.4,1915.2 394.3,1908.9 400.3,1902.8C406.3,1896.8 412.3,1890.8 418.6,1885.1C424.8,1879.4 431.1,1873.8 437.7,1868.5C444.2,1863.3 450.9,1858.3 457.8,1853.6C464.8,1849.0 471.9,1844.7 479.3,1840.8C486.7,1837.0 494.4,1833.4 502.2,1830.5C510.0,1827.5 518.0,1824.9 526.1,1822.9C534.2,1821.0 542.4,1819.4 550.6,1818.6C558.8,1817.7 567.1,1817.4 575.3,1817.7C583.5,1818.1 591.7,1819.1 599.8,1820.5C607.9,1822.0 616.0,1824.1 623.9,1826.6C631.9,1829.1 639.8,1832.1 647.5,1835.4C655.3,1838.7 662.9,1842.5 670.4,1846.5C677.9,1850.5 685.3,1854.9 692.5,1859.5C699.7,1864.0 706.7,1868.9 713.6,1873.8C720.4,1878.8 727.1,1884.0 733.7,1889.3C740.3,1894.6 746.7,1900.0 753.0,1905.6C759.3,1911.1 765.5,1916.8 771.6,1922.6C777.7,1928.4 783.7,1934.2 789.7,1940.1C795.6,1946.0 801.5,1952.0 807.4,1958.0C813.3,1964.0 819.1,1970.1 825.0,1976.1C830.8,1982.1 836.6,1988.1 842.5,1994.1C848.4,2000.1 854.3,2006.1 860.2,2012.0C866.2,2017.9 872.1,2023.8 878.2,2029.5C884.3,2035.3 890.5,2040.8 896.7,2046.5 M163.7,2087.0C172.0,2084.6 180.4,2082.6 188.6,2079.9C196.6,2077.3 204.5,2074.2 212.3,2070.9C220.1,2067.6 227.7,2063.9 235.2,2060.1C242.7,2056.3 250.1,2052.1 257.4,2047.9C264.6,2043.6 271.8,2039.1 278.9,2034.5C286.0,2029.9 293.0,2025.1 300.0,2020.3C307.0,2015.4 313.9,2010.4 320.8,2005.4C327.8,2000.4 334.7,1995.3 341.6,1990.2C348.5,1985.2 355.4,1980.0 362.3,1975.0C369.2,1970.0 376.2,1964.9 383.2,1960.0C390.3,1955.1 397.3,1950.2 404.5,1945.5C411.7,1940.8 418.9,1936.2 426.3,1931.8C433.7,1927.5 441.1,1923.2 448.7,1919.2C456.3,1915.2 464.1,1911.4 471.9,1908.0C479.8,1904.5 487.7,1901.3 495.8,1898.5C503.8,1895.7 511.9,1893.2 520.1,1891.2C528.2,1889.2 536.5,1887.6 544.8,1886.5C553.0,1885.4 561.3,1884.8 569.6,1884.8C577.8,1884.8 586.1,1885.4 594.4,1886.5C602.6,1887.5 610.9,1889.2 619.0,1891.1C627.2,1893.1 635.3,1895.6 643.4,1898.3C651.4,1901.1 659.4,1904.3 667.3,1907.7C675.2,1911.1 683.0,1914.8 690.6,1918.7C698.3,1922.6 705.9,1926.8 713.3,1931.0C720.8,1935.3 728.2,1939.8 735.4,1944.4C742.7,1948.9 749.9,1953.7 757.0,1958.5C764.2,1963.3 771.2,1968.2 778.2,1973.1C785.3,1978.1 792.2,1983.1 799.2,1988.1C806.1,1993.1 813.0,1998.2 819.9,2003.2C826.8,2008.1 833.6,2013.2 840.5,2018.1C847.4,2023.0 854.3,2027.8 861.2,2032.6C868.1,2037.3 875.1,2041.9 882.0,2046.5 M163.7,2087.0C172.0,2085.1 180.4,2083.4 188.6,2081.2C196.8,2079.0 204.9,2076.5 213.0,2073.8C221.0,2071.2 229.0,2068.2 236.9,2065.1C244.8,2062.1 252.7,2058.8 260.5,2055.4C268.3,2052.0 276.0,2048.4 283.7,2044.8C291.5,2041.1 299.2,2037.3 306.8,2033.6C314.5,2029.8 322.2,2025.9 329.8,2022.0C337.5,2018.2 345.2,2014.2 352.9,2010.4C360.5,2006.5 368.2,2002.7 376.0,1998.9C383.7,1995.1 391.4,1991.4 399.2,1987.8C407.1,1984.2 414.9,1980.7 422.8,1977.3C430.7,1974.0 438.7,1970.8 446.7,1967.8C454.8,1964.8 462.9,1961.9 471.1,1959.3C479.3,1956.7 487.5,1954.3 495.8,1952.3C504.1,1950.2 512.4,1948.3 520.8,1946.9C529.1,1945.4 537.5,1944.2 545.9,1943.4C554.3,1942.6 562.7,1942.1 571.1,1942.1C579.4,1942.0 587.8,1942.4 596.2,1943.1C604.5,1943.9 612.9,1945.0 621.2,1946.4C629.5,1947.8 637.8,1949.6 646.0,1951.6C654.3,1953.6 662.5,1955.9 670.7,1958.5C678.9,1961.0 687.1,1963.9 695.2,1966.9C703.3,1969.9 711.3,1973.1 719.3,1976.5C727.3,1979.8 735.3,1983.4 743.2,1987.0C751.1,1990.7 758.9,1994.5 766.7,1998.4C774.5,2002.3 782.2,2006.2 789.8,2010.2C797.5,2014.2 805.0,2018.3 812.5,2022.4C820.0,2026.4 827.4,2030.5 834.8,2034.5C842.1,2038.5 849.3,2042.5 856.5,2046.5 M163.7,2087.0C172.0,2085.4 180.4,2083.9 188.7,2082.1C197.0,2080.3 205.3,2078.3 213.6,2076.2C222.0,2074.2 230.3,2071.9 238.6,2069.6C246.9,2067.3 255.2,2064.9 263.5,2062.4C271.8,2059.9 280.1,2057.4 288.4,2054.8C296.7,2052.2 305.0,2049.5 313.3,2046.9C321.7,2044.2 330.0,2041.5 338.3,2038.9C346.6,2036.2 354.9,2033.6 363.3,2031.0C371.6,2028.4 379.9,2025.8 388.3,2023.3C396.6,2020.8 405.0,2018.4 413.3,2016.0C421.7,2013.7 430.1,2011.4 438.4,2009.3C446.8,2007.2 455.2,2005.2 463.6,2003.4C472.0,2001.6 480.4,1999.9 488.8,1998.4C497.3,1996.9 505.7,1995.6 514.2,1994.5C522.6,1993.4 531.1,1992.4 539.6,1991.8C548.0,1991.1 556.5,1990.7 565.1,1990.5C573.6,1990.3 582.1,1990.4 590.7,1990.8C599.2,1991.1 607.8,1991.8 616.3,1992.6C624.9,1993.4 633.4,1994.5 641.9,1995.8C650.5,1997.1 659.0,1998.6 667.5,2000.3C676.0,2001.9 684.5,2003.8 693.0,2005.8C701.4,2007.9 709.9,2010.1 718.3,2012.5C726.6,2014.8 735.0,2017.3 743.3,2019.9C751.6,2022.6 759.8,2025.3 768.0,2028.2C776.2,2031.1 784.3,2034.0 792.4,2037.1C800.4,2040.1 808.3,2043.4 816.3,2046.5 M163.7,2087.0C172.0,2085.9 180.3,2084.8 188.6,2083.6C196.9,2082.4 205.2,2081.1 213.5,2079.7C221.8,2078.4 230.1,2077.0 238.4,2075.6C246.7,2074.2 255.0,2072.7 263.3,2071.2C271.7,2069.7 280.0,2068.2 288.3,2066.6C296.6,2065.1 305.0,2063.6 313.3,2062.0C321.6,2060.5 330.0,2058.9 338.3,2057.4C346.6,2055.9 355.0,2054.4 363.3,2052.9C371.7,2051.4 380.0,2049.9 388.4,2048.5C396.7,2047.1 405.1,2045.7 413.4,2044.4C421.8,2043.1 430.1,2041.8 438.5,2040.6C446.9,2039.4 455.2,2038.3 463.6,2037.3C472.0,2036.2 480.3,2035.2 488.7,2034.4C497.1,2033.5 505.5,2032.7 513.8,2032.1C522.2,2031.4 530.6,2030.9 539.0,2030.4C547.4,2030.0 555.8,2029.7 564.1,2029.5C572.5,2029.4 580.9,2029.3 589.3,2029.4C597.7,2029.5 606.1,2029.7 614.5,2030.1C622.9,2030.4 631.3,2030.9 639.6,2031.6C648.0,2032.3 656.4,2033.1 664.8,2034.1C673.1,2035.1 681.5,2036.2 689.9,2037.5C698.3,2038.9 706.6,2040.3 715.0,2042.0C723.3,2043.7 731.7,2045.7 740.0,2047.5 M163.7,2087.0C172.2,2086.4 180.7,2085.8 189.2,2085.1C197.7,2084.4 206.2,2083.5 214.7,2082.7C223.2,2081.8 231.7,2080.9 240.1,2079.9C248.6,2078.9 257.1,2077.9 265.6,2076.8C274.0,2075.8 282.5,2074.7 291.0,2073.6C299.4,2072.4 307.9,2071.3 316.3,2070.1C324.8,2069.0 333.3,2067.8 341.7,2066.7C350.2,2065.5 358.7,2064.4 367.1,2063.2C375.6,2062.1 384.0,2061.0 392.5,2059.9C401.0,2058.8 409.4,2057.8 417.9,2056.8C426.4,2055.8 434.9,2054.8 443.3,2053.9C451.8,2053.0 460.3,2052.1 468.8,2051.4C477.3,2050.6 485.8,2049.9 494.3,2049.3C502.8,2048.7 511.3,2048.2 519.8,2047.7C528.3,2047.3 536.8,2047.0 545.4,2046.8C553.9,2046.6 562.5,2046.6 571.0,2046.5" fill="none" stroke="#ff0000" stroke-width="3.4" stroke-linejoin="round"/>
<path d="M78.0,1890.0C82.7,1897.2 87.6,1904.3 92.1,1911.7C96.7,1919.0 101.0,1926.4 105.1,1933.9C109.2,1941.5 113.1,1949.1 116.9,1956.8C120.7,1964.5 124.2,1972.3 127.6,1980.1C131.0,1988.0 134.3,1995.9 137.4,2003.9C140.4,2011.9 143.4,2020.0 146.1,2028.1C148.9,2036.2 151.6,2044.3 154.1,2052.6C156.6,2060.8 158.9,2069.0 161.2,2077.3C163.4,2085.6 165.5,2094.0 167.6,2102.3C169.6,2110.7 171.5,2119.1 173.3,2127.5C175.1,2135.8 176.8,2144.3 178.4,2152.7C180.0,2161.1 181.5,2169.6 183.0,2178.0 M1070.0,1889.0C1064.7,1896.0 1059.1,1902.9 1054.1,1910.1C1049.1,1917.3 1044.4,1924.7 1039.9,1932.2C1035.4,1939.6 1031.2,1947.3 1027.3,1955.0C1023.3,1962.7 1019.6,1970.6 1016.0,1978.5C1012.5,1986.5 1009.2,1994.5 1006.1,2002.6C1003.0,2010.8 1000.1,2019.0 997.3,2027.3C994.5,2035.6 991.9,2043.9 989.5,2052.3C987.0,2060.7 984.7,2069.2 982.5,2077.6C980.2,2086.1 978.2,2094.6 976.2,2103.2C974.2,2111.7 972.3,2120.3 970.4,2128.8C968.6,2137.3 966.8,2145.9 965.1,2154.4C963.3,2163.0 961.7,2171.5 960.0,2180.0" fill="none" stroke="#0000ff" stroke-width="4" stroke-dasharray="17 16"/>
</g>
<line x1="81.5" y1="1189.0" x2="81.5" y2="2169.0" stroke="#000" stroke-width="1.2"/>
<line x1="80.9" y1="2168.5" x2="1062.7" y2="2168.5" stroke="#000" stroke-width="1.2"/>
<line x1="163.0" y1="2168.5" x2="163.0" y2="2158.0" stroke="#000" stroke-width="1.2"/>
<line x1="980.0" y1="2168.5" x2="980.0" y2="2158.0" stroke="#000" stroke-width="1.2"/>
<line x1="81.5" y1="2087.0" x2="91.5" y2="2087.0" stroke="#000" stroke-width="1.2"/>
<line x1="81.5" y1="1271.0" x2="91.5" y2="1271.0" stroke="#000" stroke-width="1.2"/>
<text x="154.0" y="2202.5" class="tl" text-anchor="middle">−1</text>
<text x="980.0" y="2202.5" class="tl" text-anchor="middle">0</text>
<text x="72.5" y="2096.5" class="tl" text-anchor="end">0</text>
<text x="72.5" y="1280.5" class="tl" text-anchor="end">1</text>
<text x="0" y="0" class="ml" text-anchor="middle" transform="translate(571.5,2234.3) scale(1.2,1)">α</text>
<text x="-3" y="1691.5" class="ml" style="font-size:44px">t</text>
<text x="604.5" y="2314.0" class="cap" text-anchor="middle">(b)</text>
<rect x="1103.5" y="1189.00" width="56.0" height="15.91" fill="rgb(128,0,0)"/>
<rect x="1103.5" y="1204.31" width="56.0" height="15.91" fill="rgb(143,0,0)"/>
<rect x="1103.5" y="1219.62" width="56.0" height="15.91" fill="rgb(159,0,0)"/>
<rect x="1103.5" y="1234.94" width="56.0" height="15.91" fill="rgb(175,0,0)"/>
<rect x="1103.5" y="1250.25" width="56.0" height="15.91" fill="rgb(191,0,0)"/>
<rect x="1103.5" y="1265.56" width="56.0" height="15.91" fill="rgb(207,0,0)"/>
<rect x="1103.5" y="1280.88" width="56.0" height="15.91" fill="rgb(223,0,0)"/>
<rect x="1103.5" y="1296.19" width="56.0" height="15.91" fill="rgb(239,0,0)"/>
<rect x="1103.5" y="1311.50" width="56.0" height="15.91" fill="rgb(255,0,0)"/>
<rect x="1103.5" y="1326.81" width="56.0" height="15.91" fill="rgb(255,16,0)"/>
<rect x="1103.5" y="1342.12" width="56.0" height="15.91" fill="rgb(255,32,0)"/>
<rect x="1103.5" y="1357.44" width="56.0" height="15.91" fill="rgb(255,48,0)"/>
<rect x="1103.5" y="1372.75" width="56.0" height="15.91" fill="rgb(255,64,0)"/>
<rect x="1103.5" y="1388.06" width="56.0" height="15.91" fill="rgb(255,80,0)"/>
<rect x="1103.5" y="1403.38" width="56.0" height="15.91" fill="rgb(255,96,0)"/>
<rect x="1103.5" y="1418.69" width="56.0" height="15.91" fill="rgb(255,112,0)"/>
<rect x="1103.5" y="1434.00" width="56.0" height="15.91" fill="rgb(255,128,0)"/>
<rect x="1103.5" y="1449.31" width="56.0" height="15.91" fill="rgb(255,143,0)"/>
<rect x="1103.5" y="1464.62" width="56.0" height="15.91" fill="rgb(255,159,0)"/>
<rect x="1103.5" y="1479.94" width="56.0" height="15.91" fill="rgb(255,175,0)"/>
<rect x="1103.5" y="1495.25" width="56.0" height="15.91" fill="rgb(255,191,0)"/>
<rect x="1103.5" y="1510.56" width="56.0" height="15.91" fill="rgb(255,207,0)"/>
<rect x="1103.5" y="1525.88" width="56.0" height="15.91" fill="rgb(255,223,0)"/>
<rect x="1103.5" y="1541.19" width="56.0" height="15.91" fill="rgb(255,239,0)"/>
<rect x="1103.5" y="1556.50" width="56.0" height="15.91" fill="rgb(255,255,0)"/>
<rect x="1103.5" y="1571.81" width="56.0" height="15.91" fill="rgb(239,255,16)"/>
<rect x="1103.5" y="1587.12" width="56.0" height="15.91" fill="rgb(223,255,32)"/>
<rect x="1103.5" y="1602.44" width="56.0" height="15.91" fill="rgb(207,255,48)"/>
<rect x="1103.5" y="1617.75" width="56.0" height="15.91" fill="rgb(191,255,64)"/>
<rect x="1103.5" y="1633.06" width="56.0" height="15.91" fill="rgb(175,255,80)"/>
<rect x="1103.5" y="1648.38" width="56.0" height="15.91" fill="rgb(159,255,96)"/>
<rect x="1103.5" y="1663.69" width="56.0" height="15.91" fill="rgb(143,255,112)"/>
<rect x="1103.5" y="1679.00" width="56.0" height="15.91" fill="rgb(128,255,128)"/>
<rect x="1103.5" y="1694.31" width="56.0" height="15.91" fill="rgb(112,255,143)"/>
<rect x="1103.5" y="1709.62" width="56.0" height="15.91" fill="rgb(96,255,159)"/>
<rect x="1103.5" y="1724.94" width="56.0" height="15.91" fill="rgb(80,255,175)"/>
<rect x="1103.5" y="1740.25" width="56.0" height="15.91" fill="rgb(64,255,191)"/>
<rect x="1103.5" y="1755.56" width="56.0" height="15.91" fill="rgb(48,255,207)"/>
<rect x="1103.5" y="1770.88" width="56.0" height="15.91" fill="rgb(32,255,223)"/>
<rect x="1103.5" y="1786.19" width="56.0" height="15.91" fill="rgb(16,255,239)"/>
<rect x="1103.5" y="1801.50" width="56.0" height="15.91" fill="rgb(0,255,255)"/>
<rect x="1103.5" y="1816.81" width="56.0" height="15.91" fill="rgb(0,239,255)"/>
<rect x="1103.5" y="1832.12" width="56.0" height="15.91" fill="rgb(0,223,255)"/>
<rect x="1103.5" y="1847.44" width="56.0" height="15.91" fill="rgb(0,207,255)"/>
<rect x="1103.5" y="1862.75" width="56.0" height="15.91" fill="rgb(0,191,255)"/>
<rect x="1103.5" y="1878.06" width="56.0" height="15.91" fill="rgb(0,175,255)"/>
<rect x="1103.5" y="1893.38" width="56.0" height="15.91" fill="rgb(0,159,255)"/>
<rect x="1103.5" y="1908.69" width="56.0" height="15.91" fill="rgb(0,143,255)"/>
<rect x="1103.5" y="1924.00" width="56.0" height="15.91" fill="rgb(0,128,255)"/>
<rect x="1103.5" y="1939.31" width="56.0" height="15.91" fill="rgb(0,112,255)"/>
<rect x="1103.5" y="1954.62" width="56.0" height="15.91" fill="rgb(0,96,255)"/>
<rect x="1103.5" y="1969.94" width="56.0" height="15.91" fill="rgb(0,80,255)"/>
<rect x="1103.5" y="1985.25" width="56.0" height="15.91" fill="rgb(0,64,255)"/>
<rect x="1103.5" y="2000.56" width="56.0" height="15.91" fill="rgb(0,48,255)"/>
<rect x="1103.5" y="2015.88" width="56.0" height="15.91" fill="rgb(0,32,255)"/>
<rect x="1103.5" y="2031.19" width="56.0" height="15.91" fill="rgb(0,16,255)"/>
<rect x="1103.5" y="2046.50" width="56.0" height="15.91" fill="rgb(0,0,255)"/>
<rect x="1103.5" y="2061.81" width="56.0" height="15.91" fill="rgb(0,0,239)"/>
<rect x="1103.5" y="2077.12" width="56.0" height="15.91" fill="rgb(0,0,223)"/>
<rect x="1103.5" y="2092.44" width="56.0" height="15.91" fill="rgb(0,0,207)"/>
<rect x="1103.5" y="2107.75" width="56.0" height="15.91" fill="rgb(0,0,191)"/>
<rect x="1103.5" y="2123.06" width="56.0" height="15.91" fill="rgb(0,0,175)"/>
<rect x="1103.5" y="2138.38" width="56.0" height="15.91" fill="rgb(0,0,159)"/>
<rect x="1103.5" y="2153.69" width="56.0" height="15.91" fill="rgb(0,0,143)"/>
<rect x="1103.5" y="1189.0" width="56.0" height="980.0" fill="none" stroke="#000" stroke-width="1.3"/>
<line x1="1103.5" y1="1201.5" x2="1113.5" y2="1201.5" stroke="#000" stroke-width="1.2"/>
<line x1="1149.5" y1="1201.5" x2="1159.5" y2="1201.5" stroke="#000" stroke-width="1.2"/>
<text x="1166" y="1211.0" class="tl">2</text>
<line x1="1103.5" y1="1360.7" x2="1113.5" y2="1360.7" stroke="#000" stroke-width="1.2"/>
<line x1="1149.5" y1="1360.7" x2="1159.5" y2="1360.7" stroke="#000" stroke-width="1.2"/>
<text x="1166" y="1370.2" class="tl">1.5</text>
<line x1="1103.5" y1="1519.9" x2="1113.5" y2="1519.9" stroke="#000" stroke-width="1.2"/>
<line x1="1149.5" y1="1519.9" x2="1159.5" y2="1519.9" stroke="#000" stroke-width="1.2"/>
<text x="1166" y="1529.4" class="tl">1</text>
<line x1="1103.5" y1="1679.1" x2="1113.5" y2="1679.1" stroke="#000" stroke-width="1.2"/>
<line x1="1149.5" y1="1679.1" x2="1159.5" y2="1679.1" stroke="#000" stroke-width="1.2"/>
<text x="1166" y="1688.6" class="tl">0.5</text>
<line x1="1103.5" y1="1838.2" x2="1113.5" y2="1838.2" stroke="#000" stroke-width="1.2"/>
<line x1="1149.5" y1="1838.2" x2="1159.5" y2="1838.2" stroke="#000" stroke-width="1.2"/>
<text x="1166" y="1847.7" class="tl">0</text>
<line x1="1103.5" y1="1997.4" x2="1113.5" y2="1997.4" stroke="#000" stroke-width="1.2"/>
<line x1="1149.5" y1="1997.4" x2="1159.5" y2="1997.4" stroke="#000" stroke-width="1.2"/>
<text x="1166" y="2006.9" class="tl">−0.5</text>
<line x1="1103.5" y1="2156.6" x2="1113.5" y2="2156.6" stroke="#000" stroke-width="1.2"/>
<line x1="1149.5" y1="2156.6" x2="1159.5" y2="2156.6" stroke="#000" stroke-width="1.2"/>
<text x="1166" y="2166.1" class="tl">−1</text>
</svg></body></html>
